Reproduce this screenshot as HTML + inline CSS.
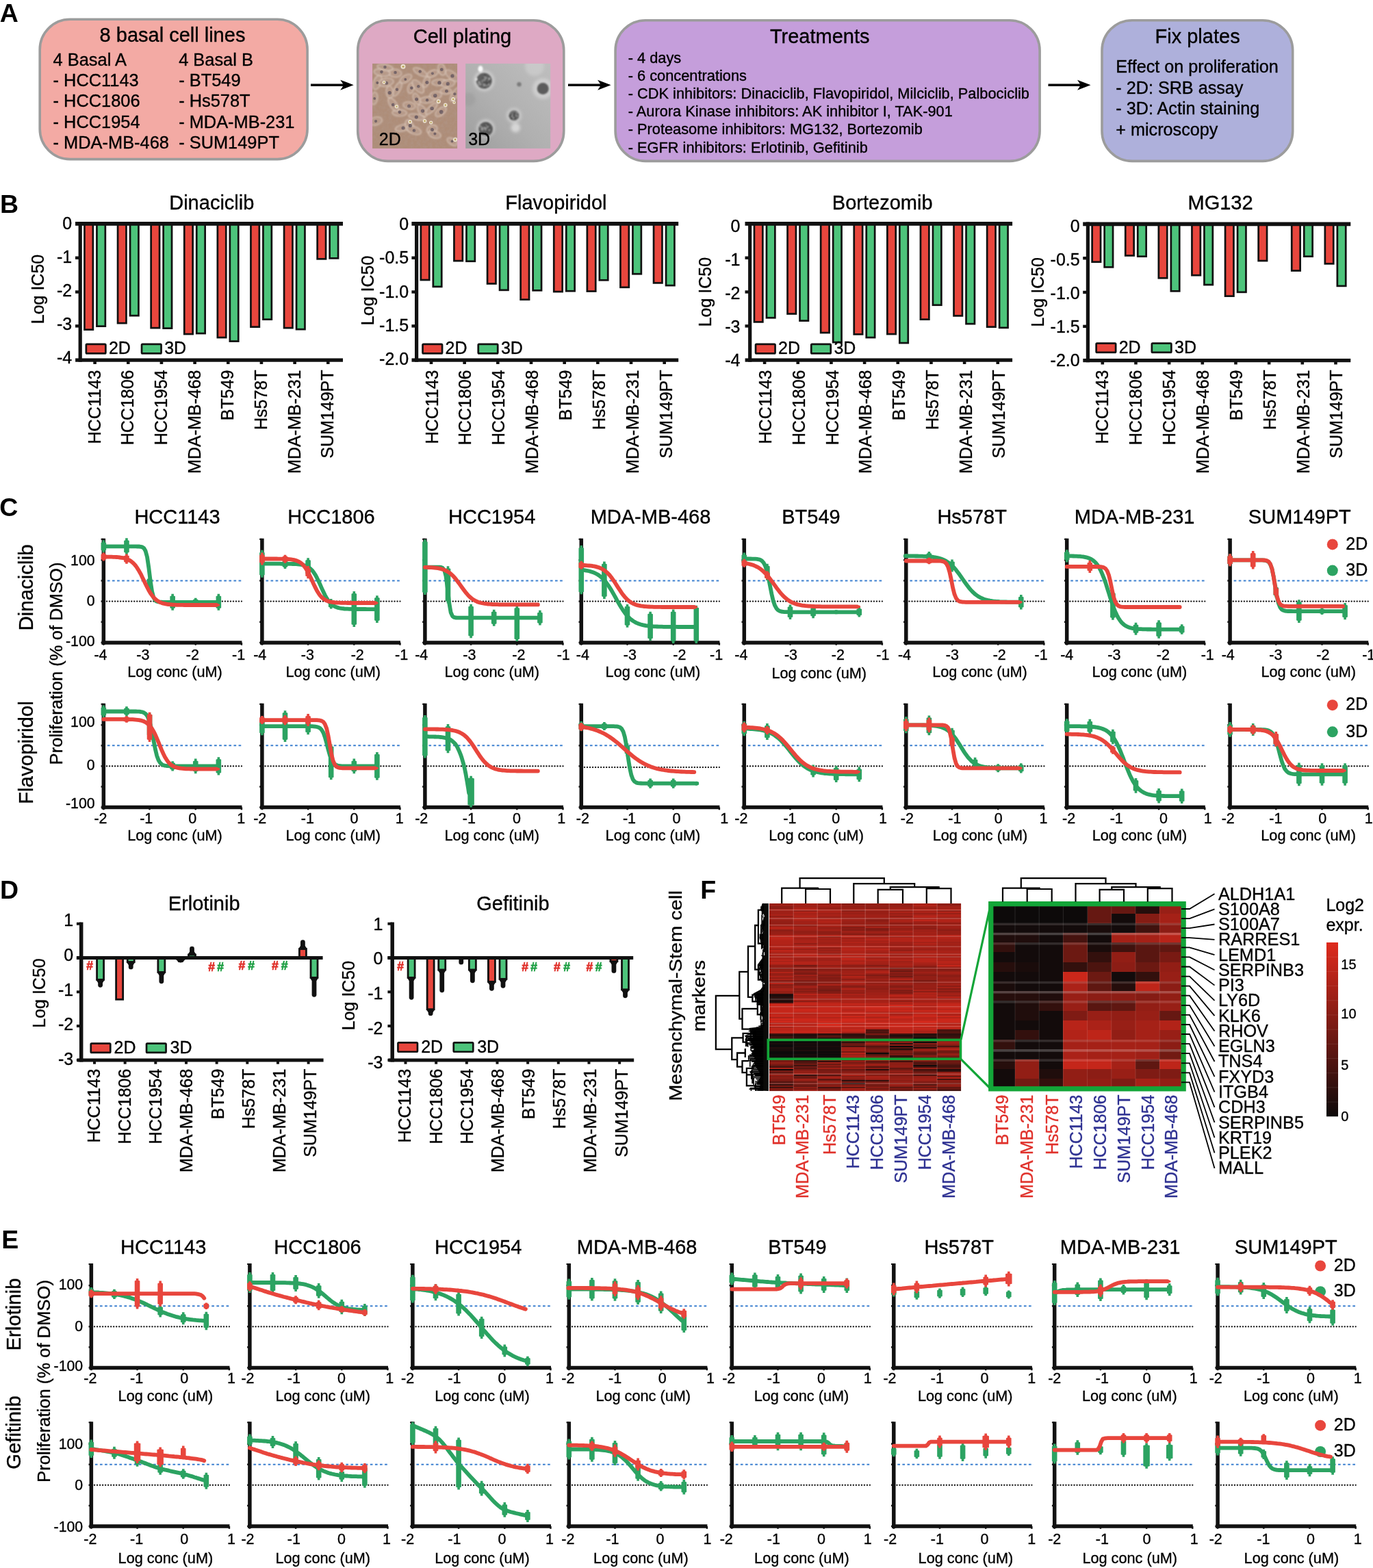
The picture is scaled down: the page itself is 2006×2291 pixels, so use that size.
<!DOCTYPE html>
<html><head><meta charset="utf-8"><title>Figure</title>
<style>
html,body{margin:0;padding:0;background:#fff;width:2006px;height:2291px;overflow:hidden;}
svg{display:block;}
text{font-family:"Liberation Sans",sans-serif;fill:#000;stroke:#000;stroke-width:0.35px;}
.b{font-weight:bold;stroke-width:0;}
</style></head><body>
<svg width="2006" height="2291" viewBox="0 0 2006 2291">
<rect width="2006" height="2291" fill="#fff"/>
<g id="panelA">
<text x="-0.3" y="31.9" font-size="37.5" class="b">A</text>
<rect x="58.2" y="28.3" width="390.9" height="204.3" fill="#F3AAA4" stroke="#9C9C9C" stroke-width="3.6" rx="44"/>
<rect x="522.7" y="29.7" width="301.1" height="205.7" fill="#DEA9C4" stroke="#9C9C9C" stroke-width="3.6" rx="44"/>
<rect x="899.1" y="29.7" width="620" height="205.7" fill="#C59EDB" stroke="#9C9C9C" stroke-width="3.6" rx="44"/>
<rect x="1610" y="29.7" width="278.7" height="205.7" fill="#AEB0DB" stroke="#9C9C9C" stroke-width="3.6" rx="44"/>
<text x="252" y="60.6" font-size="29" text-anchor="middle">8 basal cell lines</text>
<text x="77.6" y="95.6" font-size="25.4">4 Basal A</text>
<text x="261.2" y="95.6" font-size="25.4">4 Basal B</text>
<text x="77.6" y="125.9" font-size="25.4">- HCC1143</text>
<text x="261.2" y="125.9" font-size="25.4">- BT549</text>
<text x="77.6" y="156.3" font-size="25.4">- HCC1806</text>
<text x="261.2" y="156.3" font-size="25.4">- Hs578T</text>
<text x="77.6" y="186.7" font-size="25.4">- HCC1954</text>
<text x="261.2" y="186.7" font-size="25.4">- MDA-MB-231</text>
<text x="77.6" y="216.9" font-size="25.4">- MDA-MB-468</text>
<text x="261.2" y="216.9" font-size="25.4">- SUM149PT</text>
<line x1="454" y1="124.2" x2="506.7" y2="124.2" stroke="#000" stroke-width="3.4"/><path d="M516.7 124.2 L497.2 116.7 L502.2 124.2 L497.2 131.7 Z" fill="#000"/>
<text x="675.5" y="62.8" font-size="29" text-anchor="middle">Cell plating</text>
<g><defs><clipPath id="c2d"><rect x="544.1" y="92.9" width="124" height="124"/></clipPath><filter id="b2d" x="-10%" y="-10%" width="120%" height="120%"><feGaussianBlur stdDeviation="1.1"/></filter><filter id="b2s" x="-10%" y="-10%" width="120%" height="120%"><feGaussianBlur stdDeviation="0.7"/></filter><filter id="n2d" x="0" y="0" width="100%" height="100%"><feTurbulence type="fractalNoise" baseFrequency="0.22" numOctaves="3" seed="4"/><feColorMatrix type="matrix" values="0 0 0 0 0.45  0 0 0 0 0.36  0 0 0 0 0.33  0.9 0 0 0 -0.28"/></filter></defs><rect x="544.1" y="92.9" width="124" height="124" fill="#AE8D78"/><g clip-path="url(#c2d)"><g filter="url(#b2d)"><ellipse cx="551.3" cy="120.3" rx="10.0" ry="4.6" fill="#B89A88" transform="rotate(112 551.3 120.3)"/><ellipse cx="551.3" cy="120.3" rx="11.0" ry="5.6" fill="none" stroke="#E2D0C2" stroke-width="1.4" stroke-opacity="0.8" transform="rotate(112 551.3 120.3)"/><ellipse cx="564.1" cy="120.3" rx="10.0" ry="4.9" fill="#B89A88" transform="rotate(170 564.1 120.3)"/><ellipse cx="564.1" cy="120.3" rx="11.0" ry="5.9" fill="none" stroke="#E2D0C2" stroke-width="1.4" stroke-opacity="0.8" transform="rotate(170 564.1 120.3)"/><ellipse cx="576.9" cy="106.8" rx="8.9" ry="4.9" fill="#B89A88" transform="rotate(5 576.9 106.8)"/><ellipse cx="576.9" cy="106.8" rx="9.9" ry="5.9" fill="none" stroke="#E2D0C2" stroke-width="1.4" stroke-opacity="0.8" transform="rotate(5 576.9 106.8)"/><ellipse cx="580.7" cy="130.1" rx="10.6" ry="3.4" fill="#B89A88" transform="rotate(117 580.7 130.1)"/><ellipse cx="580.7" cy="130.1" rx="11.6" ry="4.4" fill="none" stroke="#E2D0C2" stroke-width="1.4" stroke-opacity="0.8" transform="rotate(117 580.7 130.1)"/><ellipse cx="569.4" cy="134.6" rx="8.0" ry="4.2" fill="#B89A88" transform="rotate(84 569.4 134.6)"/><ellipse cx="569.4" cy="134.6" rx="9.0" ry="5.2" fill="none" stroke="#E2D0C2" stroke-width="1.4" stroke-opacity="0.8" transform="rotate(84 569.4 134.6)"/><ellipse cx="600.3" cy="128.6" rx="7.1" ry="3.6" fill="#B89A88" transform="rotate(103 600.3 128.6)"/><ellipse cx="600.3" cy="128.6" rx="8.1" ry="4.6" fill="none" stroke="#E2D0C2" stroke-width="1.4" stroke-opacity="0.8" transform="rotate(103 600.3 128.6)"/><ellipse cx="610.8" cy="126.3" rx="10.7" ry="4.6" fill="#B89A88" transform="rotate(50 610.8 126.3)"/><ellipse cx="610.8" cy="126.3" rx="11.7" ry="5.6" fill="none" stroke="#E2D0C2" stroke-width="1.4" stroke-opacity="0.8" transform="rotate(50 610.8 126.3)"/><ellipse cx="613.9" cy="105.3" rx="10.2" ry="3.4" fill="#B89A88" transform="rotate(29 613.9 105.3)"/><ellipse cx="613.9" cy="105.3" rx="11.2" ry="4.4" fill="none" stroke="#E2D0C2" stroke-width="1.4" stroke-opacity="0.8" transform="rotate(29 613.9 105.3)"/><ellipse cx="622.9" cy="119.6" rx="7.5" ry="3.2" fill="#B89A88" transform="rotate(111 622.9 119.6)"/><ellipse cx="622.9" cy="119.6" rx="8.5" ry="4.2" fill="none" stroke="#E2D0C2" stroke-width="1.4" stroke-opacity="0.8" transform="rotate(111 622.9 119.6)"/><ellipse cx="631.9" cy="107.5" rx="7.8" ry="3.6" fill="#B89A88" transform="rotate(157 631.9 107.5)"/><ellipse cx="631.9" cy="107.5" rx="8.8" ry="4.6" fill="none" stroke="#E2D0C2" stroke-width="1.4" stroke-opacity="0.8" transform="rotate(157 631.9 107.5)"/><ellipse cx="642.5" cy="120.3" rx="10.5" ry="3.7" fill="#B89A88" transform="rotate(177 642.5 120.3)"/><ellipse cx="642.5" cy="120.3" rx="11.5" ry="4.7" fill="none" stroke="#E2D0C2" stroke-width="1.4" stroke-opacity="0.8" transform="rotate(177 642.5 120.3)"/><ellipse cx="654.5" cy="121.8" rx="9.2" ry="4.4" fill="#B89A88" transform="rotate(173 654.5 121.8)"/><ellipse cx="654.5" cy="121.8" rx="10.2" ry="5.4" fill="none" stroke="#E2D0C2" stroke-width="1.4" stroke-opacity="0.8" transform="rotate(173 654.5 121.8)"/><ellipse cx="660.6" cy="110.5" rx="10.8" ry="4.4" fill="#B89A88" transform="rotate(37 660.6 110.5)"/><ellipse cx="660.6" cy="110.5" rx="11.8" ry="5.4" fill="none" stroke="#E2D0C2" stroke-width="1.4" stroke-opacity="0.8" transform="rotate(37 660.6 110.5)"/><ellipse cx="624.4" cy="145.9" rx="10.6" ry="3.7" fill="#B89A88" transform="rotate(174 624.4 145.9)"/><ellipse cx="624.4" cy="145.9" rx="11.6" ry="4.7" fill="none" stroke="#E2D0C2" stroke-width="1.4" stroke-opacity="0.8" transform="rotate(174 624.4 145.9)"/><ellipse cx="608.6" cy="144.4" rx="7.7" ry="3.5" fill="#B89A88" transform="rotate(65 608.6 144.4)"/><ellipse cx="608.6" cy="144.4" rx="8.7" ry="4.5" fill="none" stroke="#E2D0C2" stroke-width="1.4" stroke-opacity="0.8" transform="rotate(65 608.6 144.4)"/><ellipse cx="598.0" cy="154.2" rx="8.2" ry="4.3" fill="#B89A88" transform="rotate(12 598.0 154.2)"/><ellipse cx="598.0" cy="154.2" rx="9.2" ry="5.3" fill="none" stroke="#E2D0C2" stroke-width="1.4" stroke-opacity="0.8" transform="rotate(12 598.0 154.2)"/><ellipse cx="583.7" cy="164.8" rx="9.7" ry="3.8" fill="#B89A88" transform="rotate(1 583.7 164.8)"/><ellipse cx="583.7" cy="164.8" rx="10.7" ry="4.8" fill="none" stroke="#E2D0C2" stroke-width="1.4" stroke-opacity="0.8" transform="rotate(1 583.7 164.8)"/><ellipse cx="574.7" cy="152.7" rx="10.3" ry="4.1" fill="#B89A88" transform="rotate(56 574.7 152.7)"/><ellipse cx="574.7" cy="152.7" rx="11.3" ry="5.1" fill="none" stroke="#E2D0C2" stroke-width="1.4" stroke-opacity="0.8" transform="rotate(56 574.7 152.7)"/><ellipse cx="616.9" cy="161.8" rx="8.9" ry="4.5" fill="#B89A88" transform="rotate(57 616.9 161.8)"/><ellipse cx="616.9" cy="161.8" rx="9.9" ry="5.5" fill="none" stroke="#E2D0C2" stroke-width="1.4" stroke-opacity="0.8" transform="rotate(57 616.9 161.8)"/><ellipse cx="608.6" cy="170.8" rx="10.9" ry="3.2" fill="#B89A88" transform="rotate(10 608.6 170.8)"/><ellipse cx="608.6" cy="170.8" rx="11.9" ry="4.2" fill="none" stroke="#E2D0C2" stroke-width="1.4" stroke-opacity="0.8" transform="rotate(10 608.6 170.8)"/><ellipse cx="630.4" cy="158.7" rx="10.4" ry="3.2" fill="#B89A88" transform="rotate(135 630.4 158.7)"/><ellipse cx="630.4" cy="158.7" rx="11.4" ry="4.2" fill="none" stroke="#E2D0C2" stroke-width="1.4" stroke-opacity="0.8" transform="rotate(135 630.4 158.7)"/><ellipse cx="644.0" cy="163.3" rx="8.5" ry="4.2" fill="#B89A88" transform="rotate(142 644.0 163.3)"/><ellipse cx="644.0" cy="163.3" rx="9.5" ry="5.2" fill="none" stroke="#E2D0C2" stroke-width="1.4" stroke-opacity="0.8" transform="rotate(142 644.0 163.3)"/><ellipse cx="651.5" cy="133.1" rx="7.2" ry="3.5" fill="#B89A88" transform="rotate(2 651.5 133.1)"/><ellipse cx="651.5" cy="133.1" rx="8.2" ry="4.5" fill="none" stroke="#E2D0C2" stroke-width="1.4" stroke-opacity="0.8" transform="rotate(2 651.5 133.1)"/><ellipse cx="636.5" cy="139.2" rx="7.8" ry="4.6" fill="#B89A88" transform="rotate(172 636.5 139.2)"/><ellipse cx="636.5" cy="139.2" rx="8.8" ry="5.6" fill="none" stroke="#E2D0C2" stroke-width="1.4" stroke-opacity="0.8" transform="rotate(172 636.5 139.2)"/><ellipse cx="589.0" cy="186.6" rx="10.8" ry="3.8" fill="#B89A88" transform="rotate(167 589.0 186.6)"/><ellipse cx="589.0" cy="186.6" rx="11.8" ry="4.8" fill="none" stroke="#E2D0C2" stroke-width="1.4" stroke-opacity="0.8" transform="rotate(167 589.0 186.6)"/><ellipse cx="598.8" cy="184.4" rx="9.1" ry="4.6" fill="#B89A88" transform="rotate(64 598.8 184.4)"/><ellipse cx="598.8" cy="184.4" rx="10.1" ry="5.6" fill="none" stroke="#E2D0C2" stroke-width="1.4" stroke-opacity="0.8" transform="rotate(64 598.8 184.4)"/><ellipse cx="604.8" cy="190.4" rx="10.0" ry="4.6" fill="#B89A88" transform="rotate(19 604.8 190.4)"/><ellipse cx="604.8" cy="190.4" rx="11.0" ry="5.6" fill="none" stroke="#E2D0C2" stroke-width="1.4" stroke-opacity="0.8" transform="rotate(19 604.8 190.4)"/><ellipse cx="631.2" cy="188.9" rx="7.1" ry="4.9" fill="#B89A88" transform="rotate(155 631.2 188.9)"/><ellipse cx="631.2" cy="188.9" rx="8.1" ry="5.9" fill="none" stroke="#E2D0C2" stroke-width="1.4" stroke-opacity="0.8" transform="rotate(155 631.2 188.9)"/><ellipse cx="635.0" cy="196.4" rx="8.4" ry="4.3" fill="#B89A88" transform="rotate(16 635.0 196.4)"/><ellipse cx="635.0" cy="196.4" rx="9.4" ry="5.3" fill="none" stroke="#E2D0C2" stroke-width="1.4" stroke-opacity="0.8" transform="rotate(16 635.0 196.4)"/><ellipse cx="549.1" cy="176.8" rx="8.4" ry="4.9" fill="#B89A88" transform="rotate(165 549.1 176.8)"/><ellipse cx="549.1" cy="176.8" rx="9.4" ry="5.9" fill="none" stroke="#E2D0C2" stroke-width="1.4" stroke-opacity="0.8" transform="rotate(165 549.1 176.8)"/><ellipse cx="546.8" cy="143.7" rx="8.2" ry="3.8" fill="#B89A88" transform="rotate(98 546.8 143.7)"/><ellipse cx="546.8" cy="143.7" rx="9.2" ry="4.8" fill="none" stroke="#E2D0C2" stroke-width="1.4" stroke-opacity="0.8" transform="rotate(98 546.8 143.7)"/><ellipse cx="660.6" cy="207.0" rx="7.3" ry="3.5" fill="#B89A88" transform="rotate(32 660.6 207.0)"/><ellipse cx="660.6" cy="207.0" rx="8.3" ry="4.5" fill="none" stroke="#E2D0C2" stroke-width="1.4" stroke-opacity="0.8" transform="rotate(32 660.6 207.0)"/><ellipse cx="665.1" cy="137.6" rx="11.0" ry="3.5" fill="#B89A88" transform="rotate(124 665.1 137.6)"/><ellipse cx="665.1" cy="137.6" rx="12.0" ry="4.5" fill="none" stroke="#E2D0C2" stroke-width="1.4" stroke-opacity="0.8" transform="rotate(124 665.1 137.6)"/><ellipse cx="558.1" cy="106.0" rx="10.9" ry="4.2" fill="#B89A88" transform="rotate(9 558.1 106.0)"/><ellipse cx="558.1" cy="106.0" rx="11.9" ry="5.2" fill="none" stroke="#E2D0C2" stroke-width="1.4" stroke-opacity="0.8" transform="rotate(9 558.1 106.0)"/><ellipse cx="645.5" cy="101.5" rx="7.9" ry="4.3" fill="#B89A88" transform="rotate(73 645.5 101.5)"/><ellipse cx="645.5" cy="101.5" rx="8.9" ry="5.3" fill="none" stroke="#E2D0C2" stroke-width="1.4" stroke-opacity="0.8" transform="rotate(73 645.5 101.5)"/><ellipse cx="592.8" cy="115.0" rx="8.8" ry="4.0" fill="#B89A88" transform="rotate(149 592.8 115.0)"/><ellipse cx="592.8" cy="115.0" rx="9.8" ry="5.0" fill="none" stroke="#E2D0C2" stroke-width="1.4" stroke-opacity="0.8" transform="rotate(149 592.8 115.0)"/><ellipse cx="562.6" cy="98.5" rx="10.7" ry="3.3" fill="#B89A88" transform="rotate(10 562.6 98.5)"/><ellipse cx="562.6" cy="98.5" rx="11.7" ry="4.3" fill="none" stroke="#E2D0C2" stroke-width="1.4" stroke-opacity="0.8" transform="rotate(10 562.6 98.5)"/></g><g filter="url(#b2s)"><circle cx="551.3" cy="121.0" r="2.0" fill="#66585E" fill-opacity="0.9"/><circle cx="564.6" cy="121.2" r="2.5" fill="#66585E" fill-opacity="0.9"/><circle cx="577.5" cy="106.0" r="2.3" fill="#66585E" fill-opacity="0.9"/><circle cx="580.0" cy="130.8" r="2.2" fill="#66585E" fill-opacity="0.9"/><circle cx="569.3" cy="135.6" r="2.7" fill="#66585E" fill-opacity="0.9"/><circle cx="601.3" cy="128.5" r="2.3" fill="#66585E" fill-opacity="0.9"/><circle cx="611.3" cy="126.3" r="2.2" fill="#66585E" fill-opacity="0.9"/><circle cx="613.7" cy="104.5" r="2.2" fill="#66585E" fill-opacity="0.9"/><circle cx="623.9" cy="120.5" r="2.5" fill="#66585E" fill-opacity="0.9"/><circle cx="631.9" cy="107.2" r="2.0" fill="#66585E" fill-opacity="0.9"/><circle cx="642.0" cy="120.9" r="2.7" fill="#66585E" fill-opacity="0.9"/><circle cx="654.3" cy="122.4" r="2.6" fill="#66585E" fill-opacity="0.9"/><circle cx="661.0" cy="110.9" r="2.6" fill="#66585E" fill-opacity="0.9"/><circle cx="624.1" cy="146.3" r="2.2" fill="#66585E" fill-opacity="0.9"/><circle cx="608.6" cy="145.0" r="2.5" fill="#66585E" fill-opacity="0.9"/><circle cx="597.6" cy="155.1" r="2.5" fill="#66585E" fill-opacity="0.9"/><circle cx="583.9" cy="163.8" r="2.4" fill="#66585E" fill-opacity="0.9"/><circle cx="574.2" cy="153.1" r="2.3" fill="#66585E" fill-opacity="0.9"/><circle cx="617.5" cy="162.1" r="2.6" fill="#66585E" fill-opacity="0.9"/><circle cx="608.3" cy="171.1" r="2.6" fill="#66585E" fill-opacity="0.9"/><circle cx="631.1" cy="158.4" r="2.7" fill="#66585E" fill-opacity="0.9"/><circle cx="644.7" cy="163.6" r="2.8" fill="#66585E" fill-opacity="0.9"/><circle cx="652.4" cy="133.2" r="2.4" fill="#66585E" fill-opacity="0.9"/><circle cx="635.8" cy="139.8" r="2.7" fill="#66585E" fill-opacity="0.9"/><circle cx="589.0" cy="187.0" r="2.5" fill="#66585E" fill-opacity="0.9"/><circle cx="599.3" cy="183.7" r="2.6" fill="#66585E" fill-opacity="0.9"/><circle cx="605.0" cy="190.7" r="2.3" fill="#66585E" fill-opacity="0.9"/><circle cx="631.4" cy="189.4" r="2.5" fill="#66585E" fill-opacity="0.9"/><circle cx="635.4" cy="195.5" r="2.0" fill="#66585E" fill-opacity="0.9"/><circle cx="549.0" cy="177.1" r="2.1" fill="#66585E" fill-opacity="0.9"/><circle cx="547.2" cy="143.9" r="1.9" fill="#66585E" fill-opacity="0.9"/><circle cx="660.5" cy="206.4" r="1.9" fill="#66585E" fill-opacity="0.9"/><circle cx="664.4" cy="137.3" r="2.1" fill="#66585E" fill-opacity="0.9"/><circle cx="557.5" cy="105.1" r="2.3" fill="#66585E" fill-opacity="0.9"/><circle cx="645.3" cy="101.7" r="2.4" fill="#66585E" fill-opacity="0.9"/><circle cx="592.2" cy="115.9" r="1.9" fill="#66585E" fill-opacity="0.9"/><circle cx="562.4" cy="98.0" r="2.3" fill="#66585E" fill-opacity="0.9"/><circle cx="589.0" cy="97.3" r="3.5" fill="#EFE6D2"/><circle cx="589.0" cy="97.3" r="1.4" fill="#B9A04A"/><circle cx="640.7" cy="148.2" r="3.1" fill="#EFE6D2"/><circle cx="640.7" cy="148.2" r="1.3" fill="#B9A04A"/><circle cx="662.1" cy="144.9" r="2.9" fill="#EFE6D2"/><circle cx="662.1" cy="144.9" r="1.2" fill="#B9A04A"/><circle cx="650.8" cy="153.5" r="2.9" fill="#EFE6D2"/><circle cx="650.8" cy="153.5" r="1.2" fill="#B9A04A"/><circle cx="579.5" cy="155.7" r="2.7" fill="#EFE6D2"/><circle cx="579.5" cy="155.7" r="1.1" fill="#B9A04A"/><circle cx="599.2" cy="177.9" r="2.9" fill="#EFE6D2"/><circle cx="599.2" cy="177.9" r="1.2" fill="#B9A04A"/><circle cx="620.6" cy="176.8" r="2.9" fill="#EFE6D2"/><circle cx="620.6" cy="176.8" r="1.2" fill="#B9A04A"/><circle cx="629.7" cy="179.1" r="2.7" fill="#EFE6D2"/><circle cx="629.7" cy="179.1" r="1.1" fill="#B9A04A"/><circle cx="561.1" cy="120.3" r="2.5" fill="#EFE6D2"/><circle cx="561.1" cy="120.3" r="1.0" fill="#B9A04A"/><circle cx="665.1" cy="203.9" r="3.1" fill="#EFE6D2"/><circle cx="665.1" cy="203.9" r="1.3" fill="#B9A04A"/><circle cx="663.6" cy="149.7" r="2.3" fill="#EFE6D2"/><circle cx="663.6" cy="149.7" r="0.9" fill="#B9A04A"/></g><rect x="544.1" y="92.9" width="124" height="124" filter="url(#n2d)" opacity="0.55"/></g></g>
<g><defs><clipPath id="c3d"><rect x="680.2" y="92.9" width="124" height="124"/></clipPath><linearGradient id="g3d" x1="0" y1="1" x2="1" y2="0"><stop offset="0" stop-color="#9E9E9E"/><stop offset="0.45" stop-color="#B0B0B0"/><stop offset="1" stop-color="#BEBEBE"/></linearGradient><filter id="b3d" x="-20%" y="-20%" width="140%" height="140%"><feGaussianBlur stdDeviation="0.9"/></filter><filter id="b3e" x="-30%" y="-30%" width="160%" height="160%"><feGaussianBlur stdDeviation="2.2"/></filter></defs><rect x="680.2" y="92.9" width="124" height="124" fill="url(#g3d)"/><g clip-path="url(#c3d)"><g filter="url(#b3e)"><circle cx="793.2" cy="129.4" r="15.0" fill="#D0D0D0" fill-opacity="0.9"/><circle cx="753.3" cy="186.6" r="7.0" fill="#D8D8D8" fill-opacity="0.9"/><circle cx="781.1" cy="97.0" r="14.0" fill="#CCCCCC" fill-opacity="0.8"/><circle cx="684.7" cy="145.2" r="10.0" fill="#9E9E9E" fill-opacity="0.7"/><circle cx="707.3" cy="118.1" r="15.0" fill="#D2D2D2" fill-opacity="0.9"/><circle cx="709.6" cy="187.4" r="13.0" fill="#CFCFCF" fill-opacity="0.9"/><circle cx="751.0" cy="168.8" r="11.0" fill="#CDCDCD" fill-opacity="0.9"/></g><g filter="url(#b3d)"><circle cx="707.3" cy="118.1" r="11.5" fill="#5E5E5E"/><circle cx="709.6" cy="188.6" r="10.5" fill="#585858"/><circle cx="751.0" cy="168.8" r="7.5" fill="#6E6E6E"/><circle cx="793.2" cy="129.4" r="8.5" fill="#5C5C5C"/><circle cx="758.5" cy="123.3" r="3.2" fill="#7A7A7A"/><circle cx="703.8" cy="118.9" r="1.0" fill="#3E3E3E"/><circle cx="705.8" cy="115.1" r="1.5" fill="#484848"/><circle cx="712.1" cy="120.7" r="1.4" fill="#9A9A9A"/><circle cx="711.8" cy="126.2" r="1.0" fill="#484848"/><circle cx="707.4" cy="119.1" r="1.4" fill="#9A9A9A"/><circle cx="701.9" cy="122.9" r="1.5" fill="#9A9A9A"/><circle cx="707.9" cy="120.2" r="1.5" fill="#484848"/><circle cx="708.6" cy="109.2" r="1.1" fill="#484848"/><circle cx="708.0" cy="116.2" r="1.5" fill="#9A9A9A"/><circle cx="710.8" cy="119.3" r="1.0" fill="#484848"/><circle cx="707.9" cy="125.2" r="1.6" fill="#9A9A9A"/><circle cx="714.8" cy="118.2" r="1.5" fill="#3E3E3E"/><circle cx="707.3" cy="118.1" r="1.0" fill="#9A9A9A"/><circle cx="711.6" cy="115.6" r="1.3" fill="#484848"/><circle cx="707.5" cy="118.7" r="1.3" fill="#3E3E3E"/><circle cx="712.0" cy="121.2" r="1.6" fill="#3E3E3E"/><circle cx="707.2" cy="117.7" r="1.3" fill="#B0B0B0"/><circle cx="706.2" cy="117.2" r="1.4" fill="#B0B0B0"/><circle cx="707.0" cy="117.9" r="1.6" fill="#484848"/><circle cx="707.8" cy="124.0" r="1.4" fill="#9A9A9A"/><circle cx="710.2" cy="113.9" r="1.5" fill="#9A9A9A"/><circle cx="714.0" cy="123.6" r="1.2" fill="#B0B0B0"/><circle cx="699.4" cy="123.6" r="1.2" fill="#9A9A9A"/><circle cx="707.3" cy="118.1" r="1.0" fill="#9A9A9A"/><circle cx="704.3" cy="119.2" r="1.1" fill="#9A9A9A"/><circle cx="706.2" cy="123.0" r="0.9" fill="#9A9A9A"/><circle cx="708.8" cy="110.3" r="1.1" fill="#484848"/><circle cx="708.3" cy="112.6" r="1.2" fill="#9A9A9A"/><circle cx="708.4" cy="127.4" r="1.3" fill="#484848"/><circle cx="712.6" cy="116.6" r="1.4" fill="#3E3E3E"/><circle cx="711.2" cy="125.3" r="0.9" fill="#B0B0B0"/><circle cx="714.7" cy="115.1" r="1.6" fill="#B0B0B0"/><circle cx="713.2" cy="117.5" r="0.9" fill="#9A9A9A"/><circle cx="700.0" cy="120.4" r="1.3" fill="#B0B0B0"/><circle cx="712.7" cy="187.9" r="1.2" fill="#3E3E3E"/><circle cx="708.1" cy="197.0" r="1.4" fill="#B0B0B0"/><circle cx="713.3" cy="190.2" r="1.3" fill="#484848"/><circle cx="711.5" cy="183.0" r="1.4" fill="#B0B0B0"/><circle cx="712.8" cy="185.6" r="1.5" fill="#9A9A9A"/><circle cx="709.4" cy="189.7" r="1.0" fill="#9A9A9A"/><circle cx="711.5" cy="181.1" r="1.0" fill="#3E3E3E"/><circle cx="704.8" cy="189.9" r="1.0" fill="#484848"/><circle cx="704.5" cy="187.0" r="1.3" fill="#B0B0B0"/><circle cx="709.8" cy="188.5" r="1.3" fill="#484848"/><circle cx="704.8" cy="187.9" r="1.5" fill="#9A9A9A"/><circle cx="702.0" cy="184.8" r="1.4" fill="#9A9A9A"/><circle cx="709.4" cy="187.7" r="1.2" fill="#484848"/><circle cx="703.9" cy="188.9" r="1.4" fill="#9A9A9A"/><circle cx="711.7" cy="189.0" r="1.1" fill="#484848"/><circle cx="712.5" cy="182.7" r="1.5" fill="#484848"/><circle cx="714.8" cy="189.8" r="1.4" fill="#9A9A9A"/><circle cx="709.1" cy="188.9" r="0.9" fill="#3E3E3E"/><circle cx="709.6" cy="187.8" r="1.1" fill="#9A9A9A"/><circle cx="704.9" cy="189.5" r="1.4" fill="#9A9A9A"/><circle cx="710.3" cy="188.9" r="0.9" fill="#B0B0B0"/><circle cx="714.6" cy="187.1" r="1.6" fill="#484848"/><circle cx="710.1" cy="187.8" r="1.4" fill="#B0B0B0"/><circle cx="708.5" cy="188.9" r="1.0" fill="#3E3E3E"/><circle cx="710.2" cy="188.8" r="1.2" fill="#9A9A9A"/><circle cx="709.3" cy="184.4" r="1.2" fill="#3E3E3E"/><circle cx="708.2" cy="187.0" r="1.4" fill="#B0B0B0"/><circle cx="709.5" cy="188.4" r="1.6" fill="#B0B0B0"/><circle cx="710.5" cy="188.7" r="0.9" fill="#484848"/><circle cx="709.5" cy="196.2" r="1.3" fill="#3E3E3E"/><circle cx="709.1" cy="187.5" r="1.5" fill="#9A9A9A"/><circle cx="756.0" cy="168.1" r="1.6" fill="#484848"/><circle cx="755.2" cy="164.7" r="0.9" fill="#9A9A9A"/><circle cx="748.5" cy="169.8" r="1.2" fill="#B0B0B0"/><circle cx="748.0" cy="173.2" r="1.2" fill="#484848"/><circle cx="752.7" cy="169.7" r="1.3" fill="#484848"/><circle cx="748.5" cy="167.7" r="1.1" fill="#3E3E3E"/><circle cx="751.6" cy="169.0" r="1.3" fill="#B0B0B0"/><circle cx="752.7" cy="173.0" r="1.6" fill="#3E3E3E"/><circle cx="756.3" cy="172.0" r="1.0" fill="#484848"/><circle cx="748.9" cy="168.3" r="1.4" fill="#9A9A9A"/><circle cx="749.7" cy="169.5" r="1.4" fill="#B0B0B0"/><circle cx="752.0" cy="165.8" r="1.4" fill="#484848"/><circle cx="750.3" cy="172.2" r="1.1" fill="#9A9A9A"/><circle cx="753.0" cy="168.6" r="1.0" fill="#9A9A9A"/><circle cx="751.3" cy="169.4" r="1.4" fill="#484848"/><circle cx="746.5" cy="172.3" r="1.3" fill="#3E3E3E"/><circle cx="747.2" cy="173.6" r="1.1" fill="#3E3E3E"/><circle cx="750.1" cy="169.6" r="1.3" fill="#3E3E3E"/><circle cx="755.4" cy="169.1" r="1.1" fill="#9A9A9A"/><circle cx="746.3" cy="168.2" r="1.5" fill="#484848"/><circle cx="751.1" cy="167.1" r="1.3" fill="#3E3E3E"/><circle cx="744.7" cy="169.7" r="1.1" fill="#3E3E3E"/><ellipse cx="702.0" cy="100.7" rx="3.6" ry="4.6" fill="#FAFAFA"/><circle cx="696.0" cy="115.8" r="1.6" fill="#F0F0F0"/><circle cx="753.3" cy="186.6" r="3.6" fill="#D6D6D6"/></g></g></g>
<text x="553.8" y="211.5" font-size="25">2D</text>
<text x="684.2" y="211.5" font-size="25">3D</text>
<line x1="830" y1="124.2" x2="882.6" y2="124.2" stroke="#000" stroke-width="3.4"/><path d="M892.6 124.2 L873.1 116.7 L878.1 124.2 L873.1 131.7 Z" fill="#000"/>
<text x="1197.7" y="62.8" font-size="29" text-anchor="middle">Treatments</text>
<text x="917.7" y="91.7" font-size="21.8">- 4 days</text>
<text x="917.7" y="117.8" font-size="21.8">- 6 concentrations</text>
<text x="917.7" y="143.9" font-size="21.8">- CDK inhibitors: Dinaciclib, Flavopiridol, Milciclib, Palbociclib</text>
<text x="917.7" y="169.8" font-size="21.8">- Aurora Kinase inhibitors: AK inhibitor I, TAK-901</text>
<text x="917.7" y="195.8" font-size="21.8">- Proteasome inhibitors: MG132, Bortezomib</text>
<text x="917.7" y="223.1" font-size="21.8">- EGFR inhibitors: Erlotinib, Gefitinib</text>
<line x1="1531.5" y1="124.2" x2="1583.5" y2="124.2" stroke="#000" stroke-width="3.4"/><path d="M1593.5 124.2 L1574 116.7 L1579 124.2 L1574 131.7 Z" fill="#000"/>
<text x="1749.6" y="62.8" font-size="29" text-anchor="middle">Fix plates</text>
<text x="1630.3" y="105.9" font-size="25.2">Effect on proliferation</text>
<text x="1630.3" y="136.9" font-size="25.2">- 2D: SRB assay</text>
<text x="1630.3" y="167.3" font-size="25.2">- 3D: Actin staining</text>
<text x="1630.3" y="197.9" font-size="25.2">+ microscopy</text>
</g>
<g id="panelB">
<text x="0" y="310.9" font-size="37.5" class="b">B</text>
<g>
<text x="309.3" y="306.3" font-size="29" text-anchor="middle">Dinaciclib</text>
<rect x="123.45" y="326.9" width="12.4" height="154.738" fill="#E8463D" stroke="#111" stroke-width="2.7"/>
<rect x="141.45" y="326.9" width="12.4" height="149.748" fill="#4DC47B" stroke="#111" stroke-width="2.7"/>
<rect x="172.05" y="326.9" width="12.4" height="145.257" fill="#E8463D" stroke="#111" stroke-width="2.7"/>
<rect x="190.05" y="326.9" width="12.4" height="134.279" fill="#4DC47B" stroke="#111" stroke-width="2.7"/>
<rect x="220.65" y="326.9" width="12.4" height="152.243" fill="#E8463D" stroke="#111" stroke-width="2.7"/>
<rect x="238.65" y="326.9" width="12.4" height="152.742" fill="#4DC47B" stroke="#111" stroke-width="2.7"/>
<rect x="269.25" y="326.9" width="12.4" height="161.225" fill="#E8463D" stroke="#111" stroke-width="2.7"/>
<rect x="287.25" y="326.9" width="12.4" height="160.227" fill="#4DC47B" stroke="#111" stroke-width="2.7"/>
<rect x="317.85" y="326.9" width="12.4" height="166.215" fill="#E8463D" stroke="#111" stroke-width="2.7"/>
<rect x="335.85" y="326.9" width="12.4" height="171.704" fill="#4DC47B" stroke="#111" stroke-width="2.7"/>
<rect x="366.45" y="326.9" width="12.4" height="150.746" fill="#E8463D" stroke="#111" stroke-width="2.7"/>
<rect x="384.45" y="326.9" width="12.4" height="139.768" fill="#4DC47B" stroke="#111" stroke-width="2.7"/>
<rect x="415.05" y="326.9" width="12.4" height="152.243" fill="#E8463D" stroke="#111" stroke-width="2.7"/>
<rect x="433.05" y="326.9" width="12.4" height="154.239" fill="#4DC47B" stroke="#111" stroke-width="2.7"/>
<rect x="463.65" y="326.9" width="12.4" height="51.445" fill="#E8463D" stroke="#111" stroke-width="2.7"/>
<rect x="481.65" y="326.9" width="12.4" height="50.447" fill="#4DC47B" stroke="#111" stroke-width="2.7"/>
<line x1="110" y1="326.9" x2="501" y2="326.9" stroke="#111" stroke-width="5.7"/>
<line x1="117.2" y1="324.05" x2="117.2" y2="528.7" stroke="#111" stroke-width="5.2"/>
<line x1="110.1" y1="526.2" x2="501" y2="526.2" stroke="#111" stroke-width="5.3"/>
<text x="105.2" y="334.5" font-size="25" text-anchor="end">0</text>
<line x1="110" y1="376.725" x2="117.2" y2="376.725" stroke="#111" stroke-width="4.4"/>
<text x="105.2" y="383.55" font-size="25" text-anchor="end">-1</text>
<line x1="110" y1="426.55" x2="117.2" y2="426.55" stroke="#111" stroke-width="4.4"/>
<text x="105.2" y="432.6" font-size="25" text-anchor="end">-2</text>
<line x1="110" y1="476.375" x2="117.2" y2="476.375" stroke="#111" stroke-width="4.4"/>
<text x="105.2" y="481.65" font-size="25" text-anchor="end">-3</text>
<text x="105.2" y="530.7" font-size="25" text-anchor="end">-4</text>
<line x1="138.6" y1="526.2" x2="138.6" y2="532" stroke="#111" stroke-width="4.6"/>
<text x="146.6" y="540.5" font-size="25" text-anchor="end" transform="rotate(-90 146.6 540.5)">HCC1143</text>
<line x1="187.27" y1="526.2" x2="187.27" y2="532" stroke="#111" stroke-width="4.6"/>
<text x="195.27" y="540.5" font-size="25" text-anchor="end" transform="rotate(-90 195.27 540.5)">HCC1806</text>
<line x1="235.94" y1="526.2" x2="235.94" y2="532" stroke="#111" stroke-width="4.6"/>
<text x="243.94" y="540.5" font-size="25" text-anchor="end" transform="rotate(-90 243.94 540.5)">HCC1954</text>
<line x1="284.61" y1="526.2" x2="284.61" y2="532" stroke="#111" stroke-width="4.6"/>
<text x="292.61" y="540.5" font-size="25" text-anchor="end" transform="rotate(-90 292.61 540.5)">MDA-MB-468</text>
<line x1="333.28" y1="526.2" x2="333.28" y2="532" stroke="#111" stroke-width="4.6"/>
<text x="341.28" y="540.5" font-size="25" text-anchor="end" transform="rotate(-90 341.28 540.5)">BT549</text>
<line x1="381.95" y1="526.2" x2="381.95" y2="532" stroke="#111" stroke-width="4.6"/>
<text x="389.95" y="540.5" font-size="25" text-anchor="end" transform="rotate(-90 389.95 540.5)">Hs578T</text>
<line x1="430.62" y1="526.2" x2="430.62" y2="532" stroke="#111" stroke-width="4.6"/>
<text x="438.62" y="540.5" font-size="25" text-anchor="end" transform="rotate(-90 438.62 540.5)">MDA-MB-231</text>
<line x1="479.29" y1="526.2" x2="479.29" y2="532" stroke="#111" stroke-width="4.6"/>
<text x="487.29" y="540.5" font-size="25" text-anchor="end" transform="rotate(-90 487.29 540.5)">SUM149PT</text>
<text x="64.4" y="422.5" font-size="25" text-anchor="middle" transform="rotate(-90 64.4 422.5)">Log IC50</text>
<rect x="125.85" y="502.95" width="28.5" height="13.4" fill="#E8463D" stroke="#111" stroke-width="2.7" rx="1.2"/>
<text x="158.9" y="517" font-size="25">2D</text>
<rect x="207.05" y="502.95" width="28.5" height="13.4" fill="#4DC47B" stroke="#111" stroke-width="2.7" rx="1.2"/>
<text x="240.2" y="517" font-size="25">3D</text>
</g>
<g>
<text x="812.4" y="306.3" font-size="29" text-anchor="middle">Flavopiridol</text>
<rect x="614.85" y="326.9" width="12.4" height="82.1164" fill="#E8463D" stroke="#111" stroke-width="2.7"/>
<rect x="632.85" y="326.9" width="12.4" height="91.9768" fill="#4DC47B" stroke="#111" stroke-width="2.7"/>
<rect x="663.45" y="326.9" width="12.4" height="54.2284" fill="#E8463D" stroke="#111" stroke-width="2.7"/>
<rect x="681.45" y="326.9" width="12.4" height="54.826" fill="#4DC47B" stroke="#111" stroke-width="2.7"/>
<rect x="712.05" y="326.9" width="12.4" height="87.5944" fill="#E8463D" stroke="#111" stroke-width="2.7"/>
<rect x="730.05" y="326.9" width="12.4" height="96.9568" fill="#4DC47B" stroke="#111" stroke-width="2.7"/>
<rect x="760.65" y="326.9" width="12.4" height="110.801" fill="#E8463D" stroke="#111" stroke-width="2.7"/>
<rect x="778.65" y="326.9" width="12.4" height="97.4548" fill="#4DC47B" stroke="#111" stroke-width="2.7"/>
<rect x="809.25" y="326.9" width="12.4" height="99.2476" fill="#E8463D" stroke="#111" stroke-width="2.7"/>
<rect x="827.25" y="326.9" width="12.4" height="98.3512" fill="#4DC47B" stroke="#111" stroke-width="2.7"/>
<rect x="857.85" y="326.9" width="12.4" height="98.65" fill="#E8463D" stroke="#111" stroke-width="2.7"/>
<rect x="875.85" y="326.9" width="12.4" height="82.4152" fill="#4DC47B" stroke="#111" stroke-width="2.7"/>
<rect x="906.45" y="326.9" width="12.4" height="92.8732" fill="#E8463D" stroke="#111" stroke-width="2.7"/>
<rect x="924.45" y="326.9" width="12.4" height="73.3516" fill="#4DC47B" stroke="#111" stroke-width="2.7"/>
<rect x="955.05" y="326.9" width="12.4" height="86.4988" fill="#E8463D" stroke="#111" stroke-width="2.7"/>
<rect x="973.05" y="326.9" width="12.4" height="90.184" fill="#4DC47B" stroke="#111" stroke-width="2.7"/>
<line x1="601.4" y1="326.9" x2="991.2" y2="326.9" stroke="#111" stroke-width="5.7"/>
<line x1="608.6" y1="324.05" x2="608.6" y2="528.7" stroke="#111" stroke-width="5.2"/>
<line x1="601.5" y1="526.2" x2="991.2" y2="526.2" stroke="#111" stroke-width="5.3"/>
<text x="597.2" y="336.4" font-size="25" text-anchor="end">0</text>
<line x1="601.4" y1="376.725" x2="608.6" y2="376.725" stroke="#111" stroke-width="4.4"/>
<text x="597.2" y="385.45" font-size="25" text-anchor="end">-0.5</text>
<line x1="601.4" y1="426.55" x2="608.6" y2="426.55" stroke="#111" stroke-width="4.4"/>
<text x="597.2" y="434.5" font-size="25" text-anchor="end">-1.0</text>
<line x1="601.4" y1="476.375" x2="608.6" y2="476.375" stroke="#111" stroke-width="4.4"/>
<text x="597.2" y="483.55" font-size="25" text-anchor="end">-1.5</text>
<text x="597.2" y="532.6" font-size="25" text-anchor="end">-2.0</text>
<line x1="630" y1="526.2" x2="630" y2="532" stroke="#111" stroke-width="4.6"/>
<text x="639.5" y="540.5" font-size="25" text-anchor="end" transform="rotate(-90 639.5 540.5)">HCC1143</text>
<line x1="678.67" y1="526.2" x2="678.67" y2="532" stroke="#111" stroke-width="4.6"/>
<text x="688.4" y="540.5" font-size="25" text-anchor="end" transform="rotate(-90 688.4 540.5)">HCC1806</text>
<line x1="727.34" y1="526.2" x2="727.34" y2="532" stroke="#111" stroke-width="4.6"/>
<text x="737.3" y="540.5" font-size="25" text-anchor="end" transform="rotate(-90 737.3 540.5)">HCC1954</text>
<line x1="776.01" y1="526.2" x2="776.01" y2="532" stroke="#111" stroke-width="4.6"/>
<text x="786.2" y="540.5" font-size="25" text-anchor="end" transform="rotate(-90 786.2 540.5)">MDA-MB-468</text>
<line x1="824.68" y1="526.2" x2="824.68" y2="532" stroke="#111" stroke-width="4.6"/>
<text x="835.1" y="540.5" font-size="25" text-anchor="end" transform="rotate(-90 835.1 540.5)">BT549</text>
<line x1="873.35" y1="526.2" x2="873.35" y2="532" stroke="#111" stroke-width="4.6"/>
<text x="884" y="540.5" font-size="25" text-anchor="end" transform="rotate(-90 884 540.5)">Hs578T</text>
<line x1="922.02" y1="526.2" x2="922.02" y2="532" stroke="#111" stroke-width="4.6"/>
<text x="932.9" y="540.5" font-size="25" text-anchor="end" transform="rotate(-90 932.9 540.5)">MDA-MB-231</text>
<line x1="970.69" y1="526.2" x2="970.69" y2="532" stroke="#111" stroke-width="4.6"/>
<text x="981.8" y="540.5" font-size="25" text-anchor="end" transform="rotate(-90 981.8 540.5)">SUM149PT</text>
<text x="545.9" y="424.4" font-size="25" text-anchor="middle" transform="rotate(-90 545.9 424.4)">Log IC50</text>
<rect x="617.55" y="502.95" width="28.5" height="13.4" fill="#E8463D" stroke="#111" stroke-width="2.7" rx="1.2"/>
<text x="650.6" y="517" font-size="25">2D</text>
<rect x="698.75" y="502.95" width="28.5" height="13.4" fill="#4DC47B" stroke="#111" stroke-width="2.7" rx="1.2"/>
<text x="731.9" y="517" font-size="25">3D</text>
</g>
<g>
<text x="1289.2" y="306.3" font-size="29" text-anchor="middle">Bortezomib</text>
<rect x="1101.95" y="326.9" width="12.4" height="143.511" fill="#E8463D" stroke="#111" stroke-width="2.7"/>
<rect x="1119.95" y="326.9" width="12.4" height="137.423" fill="#4DC47B" stroke="#111" stroke-width="2.7"/>
<rect x="1150.55" y="326.9" width="12.4" height="131.634" fill="#E8463D" stroke="#111" stroke-width="2.7"/>
<rect x="1168.55" y="326.9" width="12.4" height="141.764" fill="#4DC47B" stroke="#111" stroke-width="2.7"/>
<rect x="1199.15" y="326.9" width="12.4" height="159.229" fill="#E8463D" stroke="#111" stroke-width="2.7"/>
<rect x="1217.15" y="326.9" width="12.4" height="173.201" fill="#4DC47B" stroke="#111" stroke-width="2.7"/>
<rect x="1247.75" y="326.9" width="12.4" height="161.524" fill="#E8463D" stroke="#111" stroke-width="2.7"/>
<rect x="1265.75" y="326.9" width="12.4" height="166.215" fill="#4DC47B" stroke="#111" stroke-width="2.7"/>
<rect x="1296.35" y="326.9" width="12.4" height="161.225" fill="#E8463D" stroke="#111" stroke-width="2.7"/>
<rect x="1314.35" y="326.9" width="12.4" height="174.199" fill="#4DC47B" stroke="#111" stroke-width="2.7"/>
<rect x="1344.95" y="326.9" width="12.4" height="139.768" fill="#E8463D" stroke="#111" stroke-width="2.7"/>
<rect x="1362.95" y="326.9" width="12.4" height="118.81" fill="#4DC47B" stroke="#111" stroke-width="2.7"/>
<rect x="1393.55" y="326.9" width="12.4" height="134.529" fill="#E8463D" stroke="#111" stroke-width="2.7"/>
<rect x="1411.55" y="326.9" width="12.4" height="146.255" fill="#4DC47B" stroke="#111" stroke-width="2.7"/>
<rect x="1442.15" y="326.9" width="12.4" height="150.746" fill="#E8463D" stroke="#111" stroke-width="2.7"/>
<rect x="1460.15" y="326.9" width="12.4" height="151.944" fill="#4DC47B" stroke="#111" stroke-width="2.7"/>
<line x1="1088.5" y1="326.9" x2="1479.1" y2="326.9" stroke="#111" stroke-width="5.7"/>
<line x1="1095.7" y1="324.05" x2="1095.7" y2="528.7" stroke="#111" stroke-width="5.2"/>
<line x1="1088.6" y1="526.2" x2="1479.1" y2="526.2" stroke="#111" stroke-width="5.3"/>
<text x="1081.4" y="338.6" font-size="25" text-anchor="end">0</text>
<line x1="1088.5" y1="376.725" x2="1095.7" y2="376.725" stroke="#111" stroke-width="4.4"/>
<text x="1081.4" y="387.65" font-size="25" text-anchor="end">-1</text>
<line x1="1088.5" y1="426.55" x2="1095.7" y2="426.55" stroke="#111" stroke-width="4.4"/>
<text x="1081.4" y="436.7" font-size="25" text-anchor="end">-2</text>
<line x1="1088.5" y1="476.375" x2="1095.7" y2="476.375" stroke="#111" stroke-width="4.4"/>
<text x="1081.4" y="485.75" font-size="25" text-anchor="end">-3</text>
<text x="1081.4" y="534.8" font-size="25" text-anchor="end">-4</text>
<line x1="1117.1" y1="526.2" x2="1117.1" y2="532" stroke="#111" stroke-width="4.6"/>
<text x="1127.1" y="540.5" font-size="25" text-anchor="end" transform="rotate(-90 1127.1 540.5)">HCC1143</text>
<line x1="1165.77" y1="526.2" x2="1165.77" y2="532" stroke="#111" stroke-width="4.6"/>
<text x="1175.85" y="540.5" font-size="25" text-anchor="end" transform="rotate(-90 1175.85 540.5)">HCC1806</text>
<line x1="1214.44" y1="526.2" x2="1214.44" y2="532" stroke="#111" stroke-width="4.6"/>
<text x="1224.6" y="540.5" font-size="25" text-anchor="end" transform="rotate(-90 1224.6 540.5)">HCC1954</text>
<line x1="1263.11" y1="526.2" x2="1263.11" y2="532" stroke="#111" stroke-width="4.6"/>
<text x="1273.35" y="540.5" font-size="25" text-anchor="end" transform="rotate(-90 1273.35 540.5)">MDA-MB-468</text>
<line x1="1311.78" y1="526.2" x2="1311.78" y2="532" stroke="#111" stroke-width="4.6"/>
<text x="1322.1" y="540.5" font-size="25" text-anchor="end" transform="rotate(-90 1322.1 540.5)">BT549</text>
<line x1="1360.45" y1="526.2" x2="1360.45" y2="532" stroke="#111" stroke-width="4.6"/>
<text x="1370.85" y="540.5" font-size="25" text-anchor="end" transform="rotate(-90 1370.85 540.5)">Hs578T</text>
<line x1="1409.12" y1="526.2" x2="1409.12" y2="532" stroke="#111" stroke-width="4.6"/>
<text x="1419.6" y="540.5" font-size="25" text-anchor="end" transform="rotate(-90 1419.6 540.5)">MDA-MB-231</text>
<line x1="1457.79" y1="526.2" x2="1457.79" y2="532" stroke="#111" stroke-width="4.6"/>
<text x="1468.35" y="540.5" font-size="25" text-anchor="end" transform="rotate(-90 1468.35 540.5)">SUM149PT</text>
<text x="1039.5" y="426.6" font-size="25" text-anchor="middle" transform="rotate(-90 1039.5 426.6)">Log IC50</text>
<rect x="1104.05" y="502.95" width="28.5" height="13.4" fill="#E8463D" stroke="#111" stroke-width="2.7" rx="1.2"/>
<text x="1137.1" y="517" font-size="25">2D</text>
<rect x="1185.25" y="502.95" width="28.5" height="13.4" fill="#4DC47B" stroke="#111" stroke-width="2.7" rx="1.2"/>
<text x="1218.4" y="517" font-size="25">3D</text>
</g>
<g>
<text x="1783.1" y="306.3" font-size="29" text-anchor="middle">MG132</text>
<rect x="1595.65" y="327.4" width="12.4" height="55.3372" fill="#E8463D" stroke="#111" stroke-width="2.7"/>
<rect x="1613.65" y="327.4" width="12.4" height="62.922" fill="#4DC47B" stroke="#111" stroke-width="2.7"/>
<rect x="1644.25" y="327.4" width="12.4" height="46.0558" fill="#E8463D" stroke="#111" stroke-width="2.7"/>
<rect x="1662.25" y="327.4" width="12.4" height="47.2534" fill="#4DC47B" stroke="#111" stroke-width="2.7"/>
<rect x="1692.85" y="327.4" width="12.4" height="78.89" fill="#E8463D" stroke="#111" stroke-width="2.7"/>
<rect x="1710.85" y="327.4" width="12.4" height="97.9518" fill="#4DC47B" stroke="#111" stroke-width="2.7"/>
<rect x="1741.45" y="327.4" width="12.4" height="74.7982" fill="#E8463D" stroke="#111" stroke-width="2.7"/>
<rect x="1759.45" y="327.4" width="12.4" height="88.6704" fill="#4DC47B" stroke="#111" stroke-width="2.7"/>
<rect x="1790.05" y="327.4" width="12.4" height="105.237" fill="#E8463D" stroke="#111" stroke-width="2.7"/>
<rect x="1808.05" y="327.4" width="12.4" height="99.4488" fill="#4DC47B" stroke="#111" stroke-width="2.7"/>
<rect x="1838.65" y="327.4" width="12.4" height="53.6406" fill="#E8463D" stroke="#111" stroke-width="2.7"/>
<rect x="1887.25" y="327.4" width="12.4" height="68.1116" fill="#E8463D" stroke="#111" stroke-width="2.7"/>
<rect x="1905.25" y="327.4" width="12.4" height="47.2534" fill="#4DC47B" stroke="#111" stroke-width="2.7"/>
<rect x="1935.85" y="327.4" width="12.4" height="57.932" fill="#E8463D" stroke="#111" stroke-width="2.7"/>
<rect x="1953.85" y="327.4" width="12.4" height="90.4668" fill="#4DC47B" stroke="#111" stroke-width="2.7"/>
<line x1="1582.2" y1="327.4" x2="1973.3" y2="327.4" stroke="#111" stroke-width="5.7"/>
<line x1="1589.4" y1="324.55" x2="1589.4" y2="529.2" stroke="#111" stroke-width="5.2"/>
<line x1="1582.3" y1="526.7" x2="1973.3" y2="526.7" stroke="#111" stroke-width="5.3"/>
<text x="1577.7" y="339.2" font-size="25" text-anchor="end">0</text>
<line x1="1582.2" y1="377.225" x2="1589.4" y2="377.225" stroke="#111" stroke-width="4.4"/>
<text x="1577.7" y="388.25" font-size="25" text-anchor="end">-0.5</text>
<line x1="1582.2" y1="427.05" x2="1589.4" y2="427.05" stroke="#111" stroke-width="4.4"/>
<text x="1577.7" y="437.3" font-size="25" text-anchor="end">-1.0</text>
<line x1="1582.2" y1="476.875" x2="1589.4" y2="476.875" stroke="#111" stroke-width="4.4"/>
<text x="1577.7" y="486.35" font-size="25" text-anchor="end">-1.5</text>
<text x="1577.7" y="535.4" font-size="25" text-anchor="end">-2.0</text>
<line x1="1610.8" y1="526.7" x2="1610.8" y2="532.5" stroke="#111" stroke-width="4.6"/>
<text x="1618.8" y="540.5" font-size="25" text-anchor="end" transform="rotate(-90 1618.8 540.5)">HCC1143</text>
<line x1="1659.47" y1="526.7" x2="1659.47" y2="532.5" stroke="#111" stroke-width="4.6"/>
<text x="1667.75" y="540.5" font-size="25" text-anchor="end" transform="rotate(-90 1667.75 540.5)">HCC1806</text>
<line x1="1708.14" y1="526.7" x2="1708.14" y2="532.5" stroke="#111" stroke-width="4.6"/>
<text x="1716.7" y="540.5" font-size="25" text-anchor="end" transform="rotate(-90 1716.7 540.5)">HCC1954</text>
<line x1="1756.81" y1="526.7" x2="1756.81" y2="532.5" stroke="#111" stroke-width="4.6"/>
<text x="1765.65" y="540.5" font-size="25" text-anchor="end" transform="rotate(-90 1765.65 540.5)">MDA-MB-468</text>
<line x1="1805.48" y1="526.7" x2="1805.48" y2="532.5" stroke="#111" stroke-width="4.6"/>
<text x="1814.6" y="540.5" font-size="25" text-anchor="end" transform="rotate(-90 1814.6 540.5)">BT549</text>
<line x1="1854.15" y1="526.7" x2="1854.15" y2="532.5" stroke="#111" stroke-width="4.6"/>
<text x="1863.55" y="540.5" font-size="25" text-anchor="end" transform="rotate(-90 1863.55 540.5)">Hs578T</text>
<line x1="1902.82" y1="526.7" x2="1902.82" y2="532.5" stroke="#111" stroke-width="4.6"/>
<text x="1912.5" y="540.5" font-size="25" text-anchor="end" transform="rotate(-90 1912.5 540.5)">MDA-MB-231</text>
<line x1="1951.49" y1="526.7" x2="1951.49" y2="532.5" stroke="#111" stroke-width="4.6"/>
<text x="1961.45" y="540.5" font-size="25" text-anchor="end" transform="rotate(-90 1961.45 540.5)">SUM149PT</text>
<text x="1524.6" y="426.7" font-size="25" text-anchor="middle" transform="rotate(-90 1524.6 426.7)">Log IC50</text>
<rect x="1601.65" y="501.55" width="28.5" height="13.4" fill="#E8463D" stroke="#111" stroke-width="2.7" rx="1.2"/>
<text x="1634.7" y="515.6" font-size="25">2D</text>
<rect x="1682.85" y="501.55" width="28.5" height="13.4" fill="#4DC47B" stroke="#111" stroke-width="2.7" rx="1.2"/>
<text x="1716" y="515.6" font-size="25">3D</text>
</g>
</g>
<g id="panelC">
<text x="-0.8" y="753.6" font-size="37.5" class="b">C</text>
<text x="259" y="764.7" font-size="29" text-anchor="middle">HCC1143</text>
<text x="484" y="764.7" font-size="29" text-anchor="middle">HCC1806</text>
<text x="718.7" y="764.7" font-size="29" text-anchor="middle">HCC1954</text>
<text x="950.5" y="764.7" font-size="29" text-anchor="middle">MDA-MB-468</text>
<text x="1185" y="764.7" font-size="29" text-anchor="middle">BT549</text>
<text x="1420.2" y="764.7" font-size="29" text-anchor="middle">Hs578T</text>
<text x="1657.6" y="764.7" font-size="29" text-anchor="middle">MDA-MB-231</text>
<text x="1898.8" y="764.7" font-size="29" text-anchor="middle">SUM149PT</text>
<text x="48.3" y="858.5" font-size="29.5" text-anchor="middle" transform="rotate(-90 48.3 858.5)">Dinaciclib</text>
<text x="48.3" y="1099.6" font-size="29.5" text-anchor="middle" transform="rotate(-90 48.3 1099.6)">Flavopiridol</text>
<text x="90.5" y="969.5" font-size="25.6" text-anchor="middle" transform="rotate(-90 90.5 969.5)">Proliferation (% of DMSO)</text>
<g>
<line x1="156.85" y1="848.45" x2="352.95" y2="848.45" stroke="#3C80D0" stroke-width="2" stroke-dasharray="3.7 3.4"/>
<line x1="155.95" y1="878.6" x2="352.95" y2="878.6" stroke="#111" stroke-width="2.3" stroke-dasharray="0.2 3.82" stroke-linecap="round"/>
<line x1="151.35" y1="786.8" x2="151.35" y2="941.65" stroke="#111" stroke-width="5.5"/>
<line x1="148.6" y1="938.9" x2="353.45" y2="938.9" stroke="#111" stroke-width="5.5"/>
<line x1="147.55" y1="787.8" x2="151.35" y2="787.8" stroke="#111" stroke-width="2"/>
<line x1="147.55" y1="818.3" x2="151.35" y2="818.3" stroke="#111" stroke-width="2.4"/>
<line x1="147.55" y1="848.45" x2="151.35" y2="848.45" stroke="#111" stroke-width="2.4"/>
<line x1="147.55" y1="878.6" x2="151.35" y2="878.6" stroke="#111" stroke-width="2.4"/>
<line x1="147.55" y1="908.75" x2="151.35" y2="908.75" stroke="#111" stroke-width="2.4"/>
<line x1="147.55" y1="938.9" x2="151.35" y2="938.9" stroke="#111" stroke-width="2.4"/>
<line x1="151.35" y1="938.9" x2="151.35" y2="942.7" stroke="#111" stroke-width="2.4"/>
<line x1="218.55" y1="938.9" x2="218.55" y2="942.7" stroke="#111" stroke-width="2.4"/>
<line x1="285.75" y1="938.9" x2="285.75" y2="942.7" stroke="#111" stroke-width="2.4"/>
<line x1="352.95" y1="938.9" x2="352.95" y2="942.7" stroke="#111" stroke-width="2.4"/>
<path d="M151.3 798.4 L153.7 798.4 L156.1 798.4 L158.4 798.4 L160.8 798.4 L163.1 798.4 L165.5 798.4 L167.8 798.4 L170.2 798.4 L172.6 798.4 L174.9 798.4 L177.3 798.4 L179.6 798.4 L182.0 798.4 L184.3 798.4 L186.7 798.4 L189.1 798.4 L191.4 798.4 L193.8 798.4 L196.1 798.4 L198.5 798.4 L200.8 798.5 L203.2 798.5 L205.6 798.8 L207.9 799.4 L210.3 801.0 L212.6 805.0 L215.0 813.7 L217.3 829.2 L219.7 848.5 L222.1 864.2 L224.4 873.1 L226.8 877.1 L229.1 878.8 L231.5 879.4 L233.8 879.7 L236.2 879.7 L238.6 879.8 L240.9 879.8 L243.3 879.8 L245.6 879.8 L248.0 879.8 L250.3 879.8 L252.7 879.8 L255.0 879.8 L257.4 879.8 L259.8 879.8 L262.1 879.8 L264.5 879.8 L266.8 879.8 L269.2 879.8 L271.5 879.8 L273.9 879.8 L276.3 879.8 L278.6 879.8 L281.0 879.8 L283.3 879.8 L285.7 879.8 L288.0 879.8 L290.4 879.8 L292.8 879.8 L295.1 879.8 L297.5 879.8 L299.8 879.8 L302.2 879.8 L304.5 879.8 L306.9 879.8 L309.3 879.8 L311.6 879.8 L314.0 879.8 L316.3 879.8" fill="none" stroke="#2CA362" stroke-width="5.8" stroke-linecap="round" stroke-linejoin="round"/>
<path d="M149.55 789.356 L153.15 789.356 L153.15 792.156 L155.15 792.956 L155.15 803.846 L153.15 804.646 L153.15 807.446 L149.55 807.446 L149.55 804.646 L147.55 803.846 L147.55 792.956 L149.55 792.156 Z" fill="#2CA362"/>
<path d="M183.15 786.341 L186.75 786.341 L186.75 789.141 L188.75 789.941 L188.75 806.861 L186.75 807.661 L186.75 810.461 L183.15 810.461 L183.15 807.661 L181.15 806.861 L181.15 789.941 L183.15 789.141 Z" fill="#2CA362"/>
<path d="M216.75 842.42 L220.35 842.42 L220.35 845.22 L222.35 846.02 L222.35 856.91 L220.35 857.71 L220.35 860.51 L216.75 860.51 L216.75 857.71 L214.75 856.91 L214.75 846.02 L216.75 845.22 Z" fill="#2CA362"/>
<path d="M250.35 867.746 L253.95 867.746 L253.95 870.546 L255.95 871.346 L255.95 888.266 L253.95 889.066 L253.95 891.866 L250.35 891.866 L250.35 889.066 L248.35 888.266 L248.35 871.346 L250.35 870.546 Z" fill="#2CA362"/>
<path d="M283.95 873.776 L287.55 873.776 L287.55 875.388 L289.55 876.188 L289.55 883.424 L287.55 884.224 L287.55 885.836 L283.95 885.836 L283.95 884.224 L281.95 883.424 L281.95 876.188 L283.95 875.388 Z" fill="#2CA362"/>
<path d="M317.55 867.746 L321.15 867.746 L321.15 870.546 L323.15 871.346 L323.15 888.266 L321.15 889.066 L321.15 891.866 L317.55 891.866 L317.55 889.066 L315.55 888.266 L315.55 871.346 L317.55 870.546 Z" fill="#2CA362"/>
<path d="M151.3 813.5 L153.7 813.6 L156.1 813.6 L158.4 813.6 L160.8 813.7 L163.1 813.7 L165.5 813.8 L167.8 813.9 L170.2 814.0 L172.6 814.2 L174.9 814.5 L177.3 814.8 L179.6 815.2 L182.0 815.7 L184.3 816.4 L186.7 817.3 L189.1 818.5 L191.4 820.0 L193.8 821.9 L196.1 824.2 L198.5 827.0 L200.8 830.4 L203.2 834.3 L205.6 838.6 L207.9 843.4 L210.3 848.3 L212.6 853.3 L215.0 858.0 L217.3 862.5 L219.7 866.5 L222.1 869.9 L224.4 872.8 L226.8 875.3 L229.1 877.2 L231.5 878.8 L233.8 880.0 L236.2 880.9 L238.6 881.7 L240.9 882.2 L243.3 882.7 L245.6 883.0 L248.0 883.2 L250.3 883.4 L252.7 883.6 L255.0 883.7 L257.4 883.8 L259.8 883.8 L262.1 883.9 L264.5 883.9 L266.8 883.9 L269.2 884.0 L271.5 884.0 L273.9 884.0 L276.3 884.0 L278.6 884.0 L281.0 884.0 L283.3 884.0 L285.7 884.0 L288.0 884.0 L290.4 884.0 L292.8 884.0 L295.1 884.0 L297.5 884.0 L299.8 884.0 L302.2 884.0 L304.5 884.0 L306.9 884.0 L309.3 884.0 L311.6 884.0 L314.0 884.0 L316.3 884.0" fill="none" stroke="#E8463D" stroke-width="5.8" stroke-linecap="round" stroke-linejoin="round"/>
<path d="M149.55 807.505 L153.15 807.505 L153.15 809.117 L155.15 809.917 L155.15 817.153 L153.15 817.953 L153.15 819.565 L149.55 819.565 L149.55 817.953 L147.55 817.153 L147.55 809.917 L149.55 809.117 Z" fill="#E8463D"/>
<path d="M183.15 809.392 L186.75 809.392 L186.75 811.487 L188.75 812.287 L188.75 820.97 L186.75 821.77 L186.75 823.864 L183.15 823.864 L183.15 821.77 L181.15 820.97 L181.15 812.287 L183.15 811.487 Z" fill="#E8463D"/>
<circle cx="252.2" cy="883.6" r="1.8" fill="#E8463D"/>
<circle cx="319.4" cy="884.0" r="1.8" fill="#E8463D"/>
</g>
<g>
<line x1="156.85" y1="1089.35" x2="352.95" y2="1089.35" stroke="#3C80D0" stroke-width="2" stroke-dasharray="3.7 3.4"/>
<line x1="155.95" y1="1119.4" x2="352.95" y2="1119.4" stroke="#111" stroke-width="2.3" stroke-dasharray="0.2 3.82" stroke-linecap="round"/>
<line x1="151.35" y1="1027.8" x2="151.35" y2="1182.25" stroke="#111" stroke-width="5.5"/>
<line x1="148.6" y1="1179.5" x2="353.45" y2="1179.5" stroke="#111" stroke-width="5.5"/>
<line x1="147.55" y1="1028.8" x2="151.35" y2="1028.8" stroke="#111" stroke-width="2"/>
<line x1="147.55" y1="1059.3" x2="151.35" y2="1059.3" stroke="#111" stroke-width="2.4"/>
<line x1="147.55" y1="1089.35" x2="151.35" y2="1089.35" stroke="#111" stroke-width="2.4"/>
<line x1="147.55" y1="1119.4" x2="151.35" y2="1119.4" stroke="#111" stroke-width="2.4"/>
<line x1="147.55" y1="1149.45" x2="151.35" y2="1149.45" stroke="#111" stroke-width="2.4"/>
<line x1="147.55" y1="1179.5" x2="151.35" y2="1179.5" stroke="#111" stroke-width="2.4"/>
<line x1="151.35" y1="1179.5" x2="151.35" y2="1183.3" stroke="#111" stroke-width="2.4"/>
<line x1="218.55" y1="1179.5" x2="218.55" y2="1183.3" stroke="#111" stroke-width="2.4"/>
<line x1="285.75" y1="1179.5" x2="285.75" y2="1183.3" stroke="#111" stroke-width="2.4"/>
<line x1="352.95" y1="1179.5" x2="352.95" y2="1183.3" stroke="#111" stroke-width="2.4"/>
<path d="M151.3 1039.5 L153.7 1039.5 L156.1 1039.5 L158.4 1039.5 L160.8 1039.5 L163.1 1039.5 L165.5 1039.5 L167.8 1039.5 L170.2 1039.5 L172.6 1039.5 L174.9 1039.5 L177.3 1039.5 L179.6 1039.5 L182.0 1039.5 L184.3 1039.5 L186.7 1039.5 L189.1 1039.5 L191.4 1039.5 L193.8 1039.5 L196.1 1039.5 L198.5 1039.5 L200.8 1039.6 L203.2 1039.7 L205.6 1040.0 L207.9 1040.4 L210.3 1041.3 L212.6 1042.9 L215.0 1045.8 L217.3 1050.8 L219.7 1058.6 L222.1 1069.4 L224.4 1082.1 L226.8 1094.3 L229.1 1103.9 L231.5 1110.5 L233.8 1114.4 L236.2 1116.7 L238.6 1118.0 L240.9 1118.6 L243.3 1119.0 L245.6 1119.2 L248.0 1119.3 L250.3 1119.3 L252.7 1119.4 L255.0 1119.4 L257.4 1119.4 L259.8 1119.4 L262.1 1119.4 L264.5 1119.4 L266.8 1119.4 L269.2 1119.4 L271.5 1119.4 L273.9 1119.4 L276.3 1119.4 L278.6 1119.4 L281.0 1119.4 L283.3 1119.4 L285.7 1119.4 L288.0 1119.4 L290.4 1119.4 L292.8 1119.4 L295.1 1119.4 L297.5 1119.4 L299.8 1119.4 L302.2 1119.4 L304.5 1119.4 L306.9 1119.4 L309.3 1119.4 L311.6 1119.4 L314.0 1119.4 L316.3 1119.4" fill="none" stroke="#2CA362" stroke-width="5.8" stroke-linecap="round" stroke-linejoin="round"/>
<path d="M149.55 1030.45 L153.15 1030.45 L153.15 1033.25 L155.15 1034.05 L155.15 1044.88 L153.15 1045.68 L153.15 1048.48 L149.55 1048.48 L149.55 1045.68 L147.55 1044.88 L147.55 1034.05 L149.55 1033.25 Z" fill="#2CA362"/>
<path d="M183.15 1032.26 L186.75 1032.26 L186.75 1034.34 L188.75 1035.14 L188.75 1043.8 L186.75 1044.6 L186.75 1046.68 L183.15 1046.68 L183.15 1044.6 L181.15 1043.8 L181.15 1035.14 L183.15 1034.34 Z" fill="#2CA362"/>
<path d="M216.75 1041.27 L220.35 1041.27 L220.35 1044.07 L222.35 1044.87 L222.35 1073.73 L220.35 1074.53 L220.35 1077.33 L216.75 1077.33 L216.75 1074.53 L214.75 1073.73 L214.75 1044.87 L216.75 1044.07 Z" fill="#2CA362"/>
<path d="M250.35 1112.15 L253.95 1112.15 L253.95 1114.24 L255.95 1115.04 L255.95 1123.69 L253.95 1124.49 L253.95 1126.58 L250.35 1126.58 L250.35 1124.49 L248.35 1123.69 L248.35 1115.04 L250.35 1114.24 Z" fill="#2CA362"/>
<path d="M283.95 1108.58 L287.55 1108.58 L287.55 1111.38 L289.55 1112.18 L289.55 1126.62 L287.55 1127.42 L287.55 1130.22 L283.95 1130.22 L283.95 1127.42 L281.95 1126.62 L281.95 1112.18 L283.95 1111.38 Z" fill="#2CA362"/>
<path d="M317.55 1106.18 L321.15 1106.18 L321.15 1108.98 L323.15 1109.78 L323.15 1129.02 L321.15 1129.82 L321.15 1132.62 L317.55 1132.62 L317.55 1129.82 L315.55 1129.02 L315.55 1109.78 L317.55 1108.98 Z" fill="#2CA362"/>
<path d="M151.3 1050.9 L153.7 1050.9 L156.1 1050.9 L158.4 1050.9 L160.8 1050.9 L163.1 1050.9 L165.5 1050.9 L167.8 1050.9 L170.2 1050.9 L172.6 1050.9 L174.9 1050.9 L177.3 1050.9 L179.6 1050.9 L182.0 1051.0 L184.3 1051.0 L186.7 1051.0 L189.1 1051.1 L191.4 1051.1 L193.8 1051.2 L196.1 1051.4 L198.5 1051.6 L200.8 1051.8 L203.2 1052.1 L205.6 1052.6 L207.9 1053.3 L210.3 1054.1 L212.6 1055.3 L215.0 1056.8 L217.3 1058.8 L219.7 1061.4 L222.1 1064.7 L224.4 1068.6 L226.8 1073.3 L229.1 1078.6 L231.5 1084.3 L233.8 1090.2 L236.2 1095.9 L238.6 1101.2 L240.9 1105.9 L243.3 1109.8 L245.6 1113.1 L248.0 1115.7 L250.3 1117.7 L252.7 1119.2 L255.0 1120.4 L257.4 1121.2 L259.8 1121.9 L262.1 1122.3 L264.5 1122.7 L266.8 1122.9 L269.2 1123.1 L271.5 1123.3 L273.9 1123.4 L276.3 1123.4 L278.6 1123.5 L281.0 1123.5 L283.3 1123.5 L285.7 1123.6 L288.0 1123.6 L290.4 1123.6 L292.8 1123.6 L295.1 1123.6 L297.5 1123.6 L299.8 1123.6 L302.2 1123.6 L304.5 1123.6 L306.9 1123.6 L309.3 1123.6 L311.6 1123.6 L314.0 1123.6 L316.3 1123.6" fill="none" stroke="#E8463D" stroke-width="5.8" stroke-linecap="round" stroke-linejoin="round"/>
<path d="M183.15 1046.18 L186.75 1046.18 L186.75 1047.31 L188.75 1048.11 L188.75 1053.88 L186.75 1054.68 L186.75 1055.8 L183.15 1055.8 L183.15 1054.68 L181.15 1053.88 L181.15 1048.11 L183.15 1047.31 Z" fill="#E8463D"/>
<path d="M216.75 1040.67 L220.35 1040.67 L220.35 1043.47 L222.35 1044.27 L222.35 1080.34 L220.35 1081.14 L220.35 1083.94 L216.75 1083.94 L216.75 1081.14 L214.75 1080.34 L214.75 1044.27 L216.75 1043.47 Z" fill="#E8463D"/>
<circle cx="151.3" cy="1050.9" r="1.8" fill="#E8463D"/>
<circle cx="252.2" cy="1118.9" r="1.8" fill="#E8463D"/>
<circle cx="319.4" cy="1123.6" r="1.8" fill="#E8463D"/>
</g>
<text x="146.95" y="963.7" font-size="21.5" text-anchor="middle">-4</text>
<text x="208.85" y="963.7" font-size="21.5" text-anchor="middle">-3</text>
<text x="281.35" y="963.7" font-size="21.5" text-anchor="middle">-2</text>
<text x="348.65" y="963.7" font-size="21.5" text-anchor="middle">-1</text>
<text x="146.95" y="1202.5" font-size="21.5" text-anchor="middle">-2</text>
<text x="213.75" y="1202.5" font-size="21.5" text-anchor="middle">-1</text>
<text x="281.35" y="1202.5" font-size="21.5" text-anchor="middle">0</text>
<text x="352.15" y="1202.5" font-size="21.5" text-anchor="middle">1</text>
<text x="255.5" y="988.6" font-size="21.7" text-anchor="middle">Log conc (uM)</text>
<text x="255.5" y="1227.5" font-size="21.7" text-anchor="middle">Log conc (uM)</text>
<g>
<line x1="388.4" y1="848.45" x2="584.5" y2="848.45" stroke="#3C80D0" stroke-width="2" stroke-dasharray="3.7 3.4"/>
<line x1="387.5" y1="878.6" x2="584.5" y2="878.6" stroke="#111" stroke-width="2.3" stroke-dasharray="0.2 3.82" stroke-linecap="round"/>
<line x1="382.9" y1="786.8" x2="382.9" y2="941.65" stroke="#111" stroke-width="5.5"/>
<line x1="380.15" y1="938.9" x2="585" y2="938.9" stroke="#111" stroke-width="5.5"/>
<line x1="379.1" y1="787.8" x2="382.9" y2="787.8" stroke="#111" stroke-width="2"/>
<line x1="379.1" y1="818.3" x2="382.9" y2="818.3" stroke="#111" stroke-width="2.4"/>
<line x1="379.1" y1="848.45" x2="382.9" y2="848.45" stroke="#111" stroke-width="2.4"/>
<line x1="379.1" y1="878.6" x2="382.9" y2="878.6" stroke="#111" stroke-width="2.4"/>
<line x1="379.1" y1="908.75" x2="382.9" y2="908.75" stroke="#111" stroke-width="2.4"/>
<line x1="379.1" y1="938.9" x2="382.9" y2="938.9" stroke="#111" stroke-width="2.4"/>
<line x1="382.9" y1="938.9" x2="382.9" y2="942.7" stroke="#111" stroke-width="2.4"/>
<line x1="450.1" y1="938.9" x2="450.1" y2="942.7" stroke="#111" stroke-width="2.4"/>
<line x1="517.3" y1="938.9" x2="517.3" y2="942.7" stroke="#111" stroke-width="2.4"/>
<line x1="584.5" y1="938.9" x2="584.5" y2="942.7" stroke="#111" stroke-width="2.4"/>
<path d="M382.9 823.7 L385.3 823.7 L387.6 823.7 L390.0 823.7 L392.3 823.7 L394.7 823.7 L397.0 823.7 L399.4 823.7 L401.8 823.7 L404.1 823.7 L406.5 823.7 L408.8 823.7 L411.2 823.8 L413.5 823.8 L415.9 823.8 L418.3 823.8 L420.6 823.8 L423.0 823.8 L425.3 823.9 L427.7 824.0 L430.0 824.0 L432.4 824.2 L434.7 824.3 L437.1 824.6 L439.5 824.9 L441.8 825.3 L444.2 825.9 L446.5 826.7 L448.9 827.7 L451.2 829.1 L453.6 831.0 L456.0 833.3 L458.3 836.3 L460.7 839.9 L463.0 844.2 L465.4 849.0 L467.7 854.2 L470.1 859.6 L472.5 864.8 L474.8 869.6 L477.2 873.9 L479.5 877.5 L481.9 880.5 L484.2 882.8 L486.6 884.7 L489.0 886.1 L491.3 887.1 L493.7 887.9 L496.0 888.5 L498.4 888.9 L500.7 889.2 L503.1 889.5 L505.5 889.6 L507.8 889.7 L510.2 889.8 L512.5 889.9 L514.9 889.9 L517.2 890.0 L519.6 890.0 L522.0 890.0 L524.3 890.0 L526.7 890.0 L529.0 890.0 L531.4 890.0 L533.7 890.0 L536.1 890.1 L538.4 890.1 L540.8 890.1 L543.2 890.1 L545.5 890.1 L547.9 890.1" fill="none" stroke="#2CA362" stroke-width="5.8" stroke-linecap="round" stroke-linejoin="round"/>
<path d="M381.1 803.829 L384.7 803.829 L384.7 806.629 L386.7 807.429 L386.7 840.027 L384.7 840.827 L384.7 843.627 L381.1 843.627 L381.1 840.827 L379.1 840.027 L379.1 807.429 L381.1 806.629 Z" fill="#2CA362"/>
<path d="M414.7 816.541 L418.3 816.541 L418.3 818.636 L420.3 819.436 L420.3 828.119 L418.3 828.919 L418.3 831.013 L414.7 831.013 L414.7 828.919 L412.7 828.119 L412.7 819.436 L414.7 818.636 Z" fill="#2CA362"/>
<path d="M448.3 815.138 L451.9 815.138 L451.9 817.938 L453.9 818.738 L453.9 838.07 L451.9 838.87 L451.9 841.67 L448.3 841.67 L448.3 838.87 L446.3 838.07 L446.3 818.738 L448.3 817.938 Z" fill="#2CA362"/>
<path d="M481.9 875.095 L485.5 875.095 L485.5 877.19 L487.5 877.99 L487.5 886.673 L485.5 887.473 L485.5 889.567 L481.9 889.567 L481.9 887.473 L479.9 886.673 L479.9 877.99 L481.9 877.19 Z" fill="#2CA362"/>
<path d="M515.5 864.041 L519.1 864.041 L519.1 866.841 L521.1 867.641 L521.1 912.299 L519.1 913.099 L519.1 915.899 L515.5 915.899 L515.5 913.099 L513.5 912.299 L513.5 867.641 L515.5 866.841 Z" fill="#2CA362"/>
<path d="M549.1 870.157 L552.7 870.157 L552.7 872.957 L554.7 873.757 L554.7 906.355 L552.7 907.155 L552.7 909.955 L549.1 909.955 L549.1 907.155 L547.1 906.355 L547.1 873.757 L549.1 872.957 Z" fill="#2CA362"/>
<path d="M382.9 816.5 L385.3 816.5 L387.6 816.5 L390.0 816.5 L392.3 816.5 L394.7 816.5 L397.0 816.5 L399.4 816.5 L401.8 816.5 L404.1 816.5 L406.5 816.6 L408.8 816.6 L411.2 816.6 L413.5 816.7 L415.9 816.7 L418.3 816.8 L420.6 817.0 L423.0 817.2 L425.3 817.4 L427.7 817.8 L430.0 818.2 L432.4 818.9 L434.7 819.8 L437.1 820.9 L439.5 822.4 L441.8 824.4 L444.2 827.0 L446.5 830.1 L448.9 833.9 L451.2 838.3 L453.6 843.2 L456.0 848.3 L458.3 853.5 L460.7 858.4 L463.0 862.9 L465.4 866.8 L467.7 870.1 L470.1 872.7 L472.5 874.8 L474.8 876.4 L477.2 877.6 L479.5 878.5 L481.9 879.2 L484.2 879.7 L486.6 880.0 L489.0 880.3 L491.3 880.5 L493.7 880.6 L496.0 880.7 L498.4 880.8 L500.7 880.9 L503.1 880.9 L505.5 880.9 L507.8 881.0 L510.2 881.0 L512.5 881.0 L514.9 881.0 L517.2 881.0 L519.6 881.0 L522.0 881.0 L524.3 881.0 L526.7 881.0 L529.0 881.0 L531.4 881.0 L533.7 881.0 L536.1 881.0 L538.4 881.0 L540.8 881.0 L543.2 881.0 L545.5 881.0 L547.9 881.0" fill="none" stroke="#E8463D" stroke-width="5.8" stroke-linecap="round" stroke-linejoin="round"/>
<path d="M381.1 807.449 L384.7 807.449 L384.7 810.249 L386.7 811.049 L386.7 821.939 L384.7 822.739 L384.7 825.539 L381.1 825.539 L381.1 822.739 L379.1 821.939 L379.1 811.049 L381.1 810.249 Z" fill="#E8463D"/>
<path d="M414.7 810.741 L418.3 810.741 L418.3 812.353 L420.3 813.153 L420.3 820.389 L418.3 821.189 L418.3 822.801 L414.7 822.801 L414.7 821.189 L412.7 820.389 L412.7 813.153 L414.7 812.353 Z" fill="#E8463D"/>
<path d="M448.3 827.052 L451.9 827.052 L451.9 829.852 L453.9 830.652 L453.9 841.542 L451.9 842.342 L451.9 845.142 L448.3 845.142 L448.3 842.342 L446.3 841.542 L446.3 830.652 L448.3 829.852 Z" fill="#E8463D"/>
<circle cx="483.7" cy="879.6" r="1.8" fill="#E8463D"/>
<circle cx="517.3" cy="881.0" r="1.8" fill="#E8463D"/>
<circle cx="550.9" cy="881.0" r="1.8" fill="#E8463D"/>
</g>
<g>
<line x1="388.4" y1="1089.35" x2="584.5" y2="1089.35" stroke="#3C80D0" stroke-width="2" stroke-dasharray="3.7 3.4"/>
<line x1="387.5" y1="1119.4" x2="584.5" y2="1119.4" stroke="#111" stroke-width="2.3" stroke-dasharray="0.2 3.82" stroke-linecap="round"/>
<line x1="382.9" y1="1027.8" x2="382.9" y2="1182.25" stroke="#111" stroke-width="5.5"/>
<line x1="380.15" y1="1179.5" x2="585" y2="1179.5" stroke="#111" stroke-width="5.5"/>
<line x1="379.1" y1="1028.8" x2="382.9" y2="1028.8" stroke="#111" stroke-width="2"/>
<line x1="379.1" y1="1059.3" x2="382.9" y2="1059.3" stroke="#111" stroke-width="2.4"/>
<line x1="379.1" y1="1089.35" x2="382.9" y2="1089.35" stroke="#111" stroke-width="2.4"/>
<line x1="379.1" y1="1119.4" x2="382.9" y2="1119.4" stroke="#111" stroke-width="2.4"/>
<line x1="379.1" y1="1149.45" x2="382.9" y2="1149.45" stroke="#111" stroke-width="2.4"/>
<line x1="379.1" y1="1179.5" x2="382.9" y2="1179.5" stroke="#111" stroke-width="2.4"/>
<line x1="382.9" y1="1179.5" x2="382.9" y2="1183.3" stroke="#111" stroke-width="2.4"/>
<line x1="450.1" y1="1179.5" x2="450.1" y2="1183.3" stroke="#111" stroke-width="2.4"/>
<line x1="517.3" y1="1179.5" x2="517.3" y2="1183.3" stroke="#111" stroke-width="2.4"/>
<line x1="584.5" y1="1179.5" x2="584.5" y2="1183.3" stroke="#111" stroke-width="2.4"/>
<path d="M382.9 1061.1 L385.3 1061.1 L387.6 1061.1 L390.0 1061.1 L392.3 1061.1 L394.7 1061.1 L397.0 1061.1 L399.4 1061.1 L401.8 1061.1 L404.1 1061.1 L406.5 1061.1 L408.8 1061.1 L411.2 1061.1 L413.5 1061.1 L415.9 1061.1 L418.3 1061.1 L420.6 1061.1 L423.0 1061.1 L425.3 1061.1 L427.7 1061.1 L430.0 1061.1 L432.4 1061.1 L434.7 1061.1 L437.1 1061.1 L439.5 1061.1 L441.8 1061.1 L444.2 1061.1 L446.5 1061.1 L448.9 1061.1 L451.2 1061.1 L453.6 1061.2 L456.0 1061.2 L458.3 1061.3 L460.7 1061.6 L463.0 1062.0 L465.4 1062.7 L467.7 1064.1 L470.1 1066.6 L472.5 1070.8 L474.8 1077.2 L477.2 1085.7 L479.5 1095.0 L481.9 1103.4 L484.2 1109.8 L486.6 1113.9 L489.0 1116.4 L491.3 1117.8 L493.7 1118.5 L496.0 1118.9 L498.4 1119.2 L500.7 1119.3 L503.1 1119.3 L505.5 1119.4 L507.8 1119.4 L510.2 1119.4 L512.5 1119.4 L514.9 1119.4 L517.2 1119.4 L519.6 1119.4 L522.0 1119.4 L524.3 1119.4 L526.7 1119.4 L529.0 1119.4 L531.4 1119.4 L533.7 1119.4 L536.1 1119.4 L538.4 1119.4 L540.8 1119.4 L543.2 1119.4 L545.5 1119.4 L547.9 1119.4" fill="none" stroke="#2CA362" stroke-width="5.8" stroke-linecap="round" stroke-linejoin="round"/>
<path d="M381.1 1047.88 L384.7 1047.88 L384.7 1050.68 L386.7 1051.48 L386.7 1070.73 L384.7 1071.53 L384.7 1074.33 L381.1 1074.33 L381.1 1071.53 L379.1 1070.73 L379.1 1051.48 L381.1 1050.68 Z" fill="#2CA362"/>
<path d="M414.7 1038.27 L418.3 1038.27 L418.3 1041.07 L420.3 1041.87 L420.3 1080.34 L418.3 1081.14 L418.3 1083.94 L414.7 1083.94 L414.7 1081.14 L412.7 1080.34 L412.7 1041.87 L414.7 1041.07 Z" fill="#2CA362"/>
<path d="M448.3 1049.11 L451.9 1049.11 L451.9 1051.91 L453.9 1052.71 L453.9 1069.55 L451.9 1070.35 L451.9 1073.15 L448.3 1073.15 L448.3 1070.35 L446.3 1069.55 L446.3 1052.71 L448.3 1051.91 Z" fill="#2CA362"/>
<path d="M481.9 1087.55 L485.5 1087.55 L485.5 1090.35 L487.5 1091.15 L487.5 1135.63 L485.5 1136.43 L485.5 1139.23 L481.9 1139.23 L481.9 1136.43 L479.9 1135.63 L479.9 1091.15 L481.9 1090.35 Z" fill="#2CA362"/>
<path d="M515.5 1108.58 L519.1 1108.58 L519.1 1111.38 L521.1 1112.18 L521.1 1126.62 L519.1 1127.42 L519.1 1130.22 L515.5 1130.22 L515.5 1127.42 L513.5 1126.62 L513.5 1112.18 L515.5 1111.38 Z" fill="#2CA362"/>
<path d="M549.1 1098.97 L552.7 1098.97 L552.7 1101.77 L554.7 1102.57 L554.7 1136.23 L552.7 1137.03 L552.7 1139.83 L549.1 1139.83 L549.1 1137.03 L547.1 1136.23 L547.1 1102.57 L549.1 1101.77 Z" fill="#2CA362"/>
<path d="M382.9 1052.1 L385.3 1052.1 L387.6 1052.1 L390.0 1052.1 L392.3 1052.1 L394.7 1052.1 L397.0 1052.1 L399.4 1052.1 L401.8 1052.1 L404.1 1052.1 L406.5 1052.1 L408.8 1052.1 L411.2 1052.1 L413.5 1052.1 L415.9 1052.1 L418.3 1052.1 L420.6 1052.1 L423.0 1052.1 L425.3 1052.1 L427.7 1052.1 L430.0 1052.1 L432.4 1052.1 L434.7 1052.1 L437.1 1052.1 L439.5 1052.1 L441.8 1052.1 L444.2 1052.1 L446.5 1052.1 L448.9 1052.1 L451.2 1052.1 L453.6 1052.1 L456.0 1052.1 L458.3 1052.1 L460.7 1052.1 L463.0 1052.2 L465.4 1052.4 L467.7 1052.7 L470.1 1053.4 L472.5 1054.9 L474.8 1058.2 L477.2 1064.4 L479.5 1074.8 L481.9 1088.5 L484.2 1101.7 L486.6 1111.4 L489.0 1117.0 L491.3 1119.9 L493.7 1121.3 L496.0 1121.9 L498.4 1122.2 L500.7 1122.3 L503.1 1122.4 L505.5 1122.4 L507.8 1122.4 L510.2 1122.4 L512.5 1122.4 L514.9 1122.4 L517.2 1122.4 L519.6 1122.4 L522.0 1122.4 L524.3 1122.4 L526.7 1122.4 L529.0 1122.4 L531.4 1122.4 L533.7 1122.4 L536.1 1122.4 L538.4 1122.4 L540.8 1122.4 L543.2 1122.4 L545.5 1122.4 L547.9 1122.4" fill="none" stroke="#E8463D" stroke-width="5.8" stroke-linecap="round" stroke-linejoin="round"/>
<path d="M381.1 1046.08 L384.7 1046.08 L384.7 1047.68 L386.7 1048.48 L386.7 1055.69 L384.7 1056.49 L384.7 1058.1 L381.1 1058.1 L381.1 1056.49 L379.1 1055.69 L379.1 1048.48 L381.1 1047.68 Z" fill="#E8463D"/>
<path d="M414.7 1044.88 L418.3 1044.88 L418.3 1046.96 L420.3 1047.76 L420.3 1056.42 L418.3 1057.22 L418.3 1059.3 L414.7 1059.3 L414.7 1057.22 L412.7 1056.42 L412.7 1047.76 L414.7 1046.96 Z" fill="#E8463D"/>
<path d="M448.3 1043.07 L451.9 1043.07 L451.9 1045.87 L453.9 1046.67 L453.9 1057.5 L451.9 1058.3 L451.9 1061.1 L448.3 1061.1 L448.3 1058.3 L446.3 1057.5 L446.3 1046.67 L448.3 1045.87 Z" fill="#E8463D"/>
<circle cx="483.7" cy="1098.9" r="1.8" fill="#E8463D"/>
<circle cx="517.3" cy="1122.4" r="1.8" fill="#E8463D"/>
<circle cx="550.9" cy="1122.4" r="1.8" fill="#E8463D"/>
</g>
<text x="379.7" y="963.7" font-size="21.5" text-anchor="middle">-4</text>
<text x="449.4" y="963.7" font-size="21.5" text-anchor="middle">-3</text>
<text x="522.2" y="963.7" font-size="21.5" text-anchor="middle">-2</text>
<text x="586.6" y="963.7" font-size="21.5" text-anchor="middle">-1</text>
<text x="379.7" y="1202.5" font-size="21.5" text-anchor="middle">-2</text>
<text x="449.4" y="1202.5" font-size="21.5" text-anchor="middle">-1</text>
<text x="517.5" y="1202.5" font-size="21.5" text-anchor="middle">0</text>
<text x="583.7" y="1202.5" font-size="21.5" text-anchor="middle">1</text>
<text x="486.7" y="988.6" font-size="21.7" text-anchor="middle">Log conc (uM)</text>
<text x="486.7" y="1227.5" font-size="21.7" text-anchor="middle">Log conc (uM)</text>
<g>
<line x1="626.4" y1="848.45" x2="822.5" y2="848.45" stroke="#3C80D0" stroke-width="2" stroke-dasharray="3.7 3.4"/>
<line x1="625.5" y1="878.6" x2="822.5" y2="878.6" stroke="#111" stroke-width="2.3" stroke-dasharray="0.2 3.82" stroke-linecap="round"/>
<line x1="620.9" y1="786.8" x2="620.9" y2="941.65" stroke="#111" stroke-width="5.5"/>
<line x1="618.15" y1="938.9" x2="823" y2="938.9" stroke="#111" stroke-width="5.5"/>
<line x1="617.1" y1="787.8" x2="620.9" y2="787.8" stroke="#111" stroke-width="2"/>
<line x1="617.1" y1="818.3" x2="620.9" y2="818.3" stroke="#111" stroke-width="2.4"/>
<line x1="617.1" y1="848.45" x2="620.9" y2="848.45" stroke="#111" stroke-width="2.4"/>
<line x1="617.1" y1="878.6" x2="620.9" y2="878.6" stroke="#111" stroke-width="2.4"/>
<line x1="617.1" y1="908.75" x2="620.9" y2="908.75" stroke="#111" stroke-width="2.4"/>
<line x1="617.1" y1="938.9" x2="620.9" y2="938.9" stroke="#111" stroke-width="2.4"/>
<line x1="620.9" y1="938.9" x2="620.9" y2="942.7" stroke="#111" stroke-width="2.4"/>
<line x1="688.1" y1="938.9" x2="688.1" y2="942.7" stroke="#111" stroke-width="2.4"/>
<line x1="755.3" y1="938.9" x2="755.3" y2="942.7" stroke="#111" stroke-width="2.4"/>
<line x1="822.5" y1="938.9" x2="822.5" y2="942.7" stroke="#111" stroke-width="2.4"/>
<path d="M620.9 828.6 L623.3 828.6 L625.6 828.6 L628.0 828.6 L630.3 828.6 L632.7 828.6 L635.0 828.6 L637.4 828.6 L639.8 828.6 L642.1 828.7 L644.5 829.0 L646.8 830.0 L649.2 833.1 L651.5 841.8 L653.9 859.9 L656.3 881.3 L658.6 894.7 L661.0 900.1 L663.3 901.9 L665.7 902.5 L668.0 902.6 L670.4 902.7 L672.7 902.7 L675.1 902.7 L677.5 902.7 L679.8 902.7 L682.2 902.7 L684.5 902.7 L686.9 902.7 L689.2 902.7 L691.6 902.7 L694.0 902.7 L696.3 902.7 L698.7 902.7 L701.0 902.7 L703.4 902.7 L705.7 902.7 L708.1 902.7 L710.5 902.7 L712.8 902.7 L715.2 902.7 L717.5 902.7 L719.9 902.7 L722.2 902.7 L724.6 902.7 L727.0 902.7 L729.3 902.7 L731.7 902.7 L734.0 902.7 L736.4 902.7 L738.7 902.7 L741.1 902.7 L743.5 902.7 L745.8 902.7 L748.2 902.7 L750.5 902.7 L752.9 902.7 L755.2 902.7 L757.6 902.7 L760.0 902.7 L762.3 902.7 L764.7 902.7 L767.0 902.7 L769.4 902.7 L771.7 902.7 L774.1 902.7 L776.4 902.7 L778.8 902.7 L781.2 902.7 L783.5 902.7 L785.9 902.7" fill="none" stroke="#2CA362" stroke-width="5.8" stroke-linecap="round" stroke-linejoin="round"/>
<path d="M619.1 788.15 L622.7 788.15 L622.7 790.95 L624.7 791.75 L624.7 865.352 L622.7 866.152 L622.7 868.952 L619.1 868.952 L619.1 866.152 L617.1 865.352 L617.1 791.75 L619.1 790.95 Z" fill="#2CA362"/>
<path d="M652.7 827.345 L656.3 827.345 L656.3 830.145 L658.3 830.945 L658.3 878.015 L656.3 878.815 L656.3 881.615 L652.7 881.615 L652.7 878.815 L650.7 878.015 L650.7 830.945 L652.7 830.145 Z" fill="#2CA362"/>
<path d="M686.3 882.821 L689.9 882.821 L689.9 885.621 L691.9 886.421 L691.9 928.667 L689.9 929.467 L689.9 932.267 L686.3 932.267 L686.3 929.467 L684.3 928.667 L684.3 886.421 L686.3 885.621 Z" fill="#2CA362"/>
<path d="M719.9 890.66 L723.5 890.66 L723.5 893.46 L725.5 894.26 L725.5 911.18 L723.5 911.98 L723.5 914.78 L719.9 914.78 L719.9 911.98 L717.9 911.18 L717.9 894.26 L719.9 893.46 Z" fill="#2CA362"/>
<path d="M753.5 885.233 L757.1 885.233 L757.1 888.033 L759.1 888.833 L759.1 933.491 L757.1 934.291 L757.1 937.091 L753.5 937.091 L753.5 934.291 L751.5 933.491 L751.5 888.833 L753.5 888.033 Z" fill="#2CA362"/>
<path d="M787.1 891.866 L790.7 891.866 L790.7 894.666 L792.7 895.466 L792.7 909.974 L790.7 910.774 L790.7 913.574 L787.1 913.574 L787.1 910.774 L785.1 909.974 L785.1 895.466 L787.1 894.666 Z" fill="#2CA362"/>
<path d="M620.9 828.8 L623.3 828.9 L625.6 829.0 L628.0 829.1 L630.3 829.2 L632.7 829.4 L635.0 829.6 L637.4 829.9 L639.8 830.2 L642.1 830.7 L644.5 831.2 L646.8 831.9 L649.2 832.8 L651.5 833.8 L653.9 835.1 L656.3 836.6 L658.6 838.5 L661.0 840.6 L663.3 843.0 L665.7 845.7 L668.0 848.7 L670.4 851.9 L672.7 855.2 L675.1 858.5 L677.5 861.7 L679.8 864.8 L682.2 867.7 L684.5 870.3 L686.9 872.5 L689.2 874.5 L691.6 876.2 L694.0 877.6 L696.3 878.7 L698.7 879.7 L701.0 880.4 L703.4 881.0 L705.7 881.5 L708.1 881.9 L710.5 882.2 L712.8 882.5 L715.2 882.7 L717.5 882.8 L719.9 883.0 L722.2 883.1 L724.6 883.1 L727.0 883.2 L729.3 883.3 L731.7 883.3 L734.0 883.3 L736.4 883.3 L738.7 883.4 L741.1 883.4 L743.5 883.4 L745.8 883.4 L748.2 883.4 L750.5 883.4 L752.9 883.4 L755.2 883.4 L757.6 883.4 L760.0 883.4 L762.3 883.4 L764.7 883.4 L767.0 883.4 L769.4 883.4 L771.7 883.4 L774.1 883.4 L776.4 883.4 L778.8 883.4 L781.2 883.4 L783.5 883.4 L785.9 883.4" fill="none" stroke="#E8463D" stroke-width="5.8" stroke-linecap="round" stroke-linejoin="round"/>
<circle cx="620.9" cy="828.8" r="1.8" fill="#E8463D"/>
<circle cx="654.5" cy="835.5" r="1.8" fill="#E8463D"/>
</g>
<g>
<line x1="626.4" y1="1089.35" x2="822.5" y2="1089.35" stroke="#3C80D0" stroke-width="2" stroke-dasharray="3.7 3.4"/>
<line x1="625.5" y1="1119.4" x2="822.5" y2="1119.4" stroke="#111" stroke-width="2.3" stroke-dasharray="0.2 3.82" stroke-linecap="round"/>
<line x1="620.9" y1="1027.8" x2="620.9" y2="1182.25" stroke="#111" stroke-width="5.5"/>
<line x1="618.15" y1="1179.5" x2="823" y2="1179.5" stroke="#111" stroke-width="5.5"/>
<line x1="617.1" y1="1028.8" x2="620.9" y2="1028.8" stroke="#111" stroke-width="2"/>
<line x1="617.1" y1="1059.3" x2="620.9" y2="1059.3" stroke="#111" stroke-width="2.4"/>
<line x1="617.1" y1="1089.35" x2="620.9" y2="1089.35" stroke="#111" stroke-width="2.4"/>
<line x1="617.1" y1="1119.4" x2="620.9" y2="1119.4" stroke="#111" stroke-width="2.4"/>
<line x1="617.1" y1="1149.45" x2="620.9" y2="1149.45" stroke="#111" stroke-width="2.4"/>
<line x1="617.1" y1="1179.5" x2="620.9" y2="1179.5" stroke="#111" stroke-width="2.4"/>
<line x1="620.9" y1="1179.5" x2="620.9" y2="1183.3" stroke="#111" stroke-width="2.4"/>
<line x1="688.1" y1="1179.5" x2="688.1" y2="1183.3" stroke="#111" stroke-width="2.4"/>
<line x1="755.3" y1="1179.5" x2="755.3" y2="1183.3" stroke="#111" stroke-width="2.4"/>
<line x1="822.5" y1="1179.5" x2="822.5" y2="1183.3" stroke="#111" stroke-width="2.4"/>
<path d="M620.9 1076.1 L621.8 1076.2 L622.7 1076.2 L623.7 1076.2 L624.6 1076.2 L625.5 1076.2 L626.4 1076.3 L627.3 1076.3 L628.2 1076.3 L629.2 1076.3 L630.1 1076.4 L631.0 1076.4 L631.9 1076.4 L632.8 1076.4 L633.7 1076.4 L634.7 1076.5 L635.6 1076.5 L636.5 1076.5 L637.4 1076.6 L638.3 1076.6 L639.2 1076.6 L640.2 1076.7 L641.1 1076.7 L642.0 1076.8 L642.9 1076.9 L643.8 1077.0 L644.7 1077.1 L645.7 1077.2 L646.6 1077.3 L647.5 1077.5 L648.4 1077.7 L649.3 1077.8 L650.2 1078.0 L651.2 1078.3 L652.1 1078.5 L653.0 1078.7 L653.9 1079.0 L654.8 1079.2 L655.7 1079.6 L656.7 1080.0 L657.6 1080.5 L658.5 1081.1 L659.4 1081.7 L660.3 1082.4 L661.2 1083.2 L662.2 1084.0 L663.1 1084.9 L664.0 1085.7 L664.9 1086.7 L665.8 1087.8 L666.7 1089.2 L667.7 1090.8 L668.6 1092.5 L669.5 1094.4 L670.4 1096.4 L671.3 1098.4 L672.2 1100.6 L673.2 1103.1 L674.1 1105.7 L675.0 1108.6 L675.9 1111.7 L676.8 1114.9 L677.7 1118.3 L678.7 1122.0 L679.6 1126.3 L680.5 1130.9 L681.4 1135.9 L682.3 1141.1 L683.2 1146.6 L684.2 1152.5 L685.1 1158.8" fill="none" stroke="#2CA362" stroke-width="5.8" stroke-linecap="round" stroke-linejoin="round"/>
<path d="M619.1 1044.88 L622.7 1044.88 L622.7 1047.68 L624.7 1048.48 L624.7 1103.78 L622.7 1104.58 L622.7 1107.38 L619.1 1107.38 L619.1 1104.58 L617.1 1103.78 L617.1 1048.48 L619.1 1047.68 Z" fill="#2CA362"/>
<path d="M652.7 1058.1 L656.3 1058.1 L656.3 1060.9 L658.3 1061.7 L658.3 1096.57 L656.3 1097.37 L656.3 1100.17 L652.7 1100.17 L652.7 1097.37 L650.7 1096.57 L650.7 1061.7 L652.7 1060.9 Z" fill="#2CA362"/>
<path d="M686.3 1133.82 L689.9 1133.82 L689.9 1136.62 L692.85 1137.42 L692.85 1175.9 L689.9 1176.7 L689.9 1179.5 L686.3 1179.5 L686.3 1176.7 L683.35 1175.9 L683.35 1137.42 L686.3 1136.62 Z" fill="#2CA362"/>
<path d="M620.9 1065.3 L623.3 1065.3 L625.6 1065.4 L628.0 1065.4 L630.3 1065.4 L632.7 1065.4 L635.0 1065.4 L637.4 1065.5 L639.8 1065.5 L642.1 1065.6 L644.5 1065.6 L646.8 1065.7 L649.2 1065.8 L651.5 1066.0 L653.9 1066.2 L656.3 1066.4 L658.6 1066.7 L661.0 1067.0 L663.3 1067.5 L665.7 1068.0 L668.0 1068.8 L670.4 1069.6 L672.7 1070.7 L675.1 1072.0 L677.5 1073.6 L679.8 1075.5 L682.2 1077.7 L684.5 1080.3 L686.9 1083.2 L689.2 1086.4 L691.6 1089.9 L694.0 1093.6 L696.3 1097.3 L698.7 1100.9 L701.0 1104.5 L703.4 1107.8 L705.7 1110.8 L708.1 1113.4 L710.5 1115.8 L712.8 1117.8 L715.2 1119.5 L717.5 1120.8 L719.9 1122.0 L722.2 1122.9 L724.6 1123.7 L727.0 1124.3 L729.3 1124.8 L731.7 1125.2 L734.0 1125.5 L736.4 1125.7 L738.7 1125.9 L741.1 1126.1 L743.5 1126.2 L745.8 1126.3 L748.2 1126.3 L750.5 1126.4 L752.9 1126.4 L755.2 1126.5 L757.6 1126.5 L760.0 1126.5 L762.3 1126.5 L764.7 1126.6 L767.0 1126.6 L769.4 1126.6 L771.7 1126.6 L774.1 1126.6 L776.4 1126.6 L778.8 1126.6 L781.2 1126.6 L783.5 1126.6 L785.9 1126.6" fill="none" stroke="#E8463D" stroke-width="5.8" stroke-linecap="round" stroke-linejoin="round"/>
<circle cx="620.9" cy="1065.3" r="1.8" fill="#E8463D"/>
<circle cx="654.5" cy="1066.2" r="1.8" fill="#E8463D"/>
</g>
<text x="615.7" y="963.7" font-size="21.5" text-anchor="middle">-4</text>
<text x="685.9" y="963.7" font-size="21.5" text-anchor="middle">-3</text>
<text x="757.9" y="963.7" font-size="21.5" text-anchor="middle">-2</text>
<text x="823.2" y="963.7" font-size="21.5" text-anchor="middle">-1</text>
<text x="615.7" y="1202.5" font-size="21.5" text-anchor="middle">-2</text>
<text x="685.3" y="1202.5" font-size="21.5" text-anchor="middle">-1</text>
<text x="754.9" y="1202.5" font-size="21.5" text-anchor="middle">0</text>
<text x="820.3" y="1202.5" font-size="21.5" text-anchor="middle">1</text>
<text x="718.7" y="988.6" font-size="21.7" text-anchor="middle">Log conc (uM)</text>
<text x="718.7" y="1227.5" font-size="21.7" text-anchor="middle">Log conc (uM)</text>
<g>
<line x1="854.8" y1="848.45" x2="1050.9" y2="848.45" stroke="#3C80D0" stroke-width="2" stroke-dasharray="3.7 3.4"/>
<line x1="853.9" y1="878.6" x2="1050.9" y2="878.6" stroke="#111" stroke-width="2.3" stroke-dasharray="0.2 3.82" stroke-linecap="round"/>
<line x1="849.3" y1="786.8" x2="849.3" y2="941.65" stroke="#111" stroke-width="5.5"/>
<line x1="846.55" y1="938.9" x2="1051.4" y2="938.9" stroke="#111" stroke-width="5.5"/>
<line x1="845.5" y1="787.8" x2="849.3" y2="787.8" stroke="#111" stroke-width="2"/>
<line x1="845.5" y1="818.3" x2="849.3" y2="818.3" stroke="#111" stroke-width="2.4"/>
<line x1="845.5" y1="848.45" x2="849.3" y2="848.45" stroke="#111" stroke-width="2.4"/>
<line x1="845.5" y1="878.6" x2="849.3" y2="878.6" stroke="#111" stroke-width="2.4"/>
<line x1="845.5" y1="908.75" x2="849.3" y2="908.75" stroke="#111" stroke-width="2.4"/>
<line x1="845.5" y1="938.9" x2="849.3" y2="938.9" stroke="#111" stroke-width="2.4"/>
<line x1="849.3" y1="938.9" x2="849.3" y2="942.7" stroke="#111" stroke-width="2.4"/>
<line x1="916.5" y1="938.9" x2="916.5" y2="942.7" stroke="#111" stroke-width="2.4"/>
<line x1="983.7" y1="938.9" x2="983.7" y2="942.7" stroke="#111" stroke-width="2.4"/>
<line x1="1050.9" y1="938.9" x2="1050.9" y2="942.7" stroke="#111" stroke-width="2.4"/>
<path d="M849.3 832.7 L851.7 832.9 L854.0 833.2 L856.4 833.6 L858.7 834.0 L861.1 834.5 L863.4 835.2 L865.8 836.0 L868.2 836.9 L870.5 838.0 L872.9 839.3 L875.2 840.8 L877.6 842.6 L879.9 844.7 L882.3 847.1 L884.7 849.8 L887.0 852.9 L889.4 856.2 L891.7 859.9 L894.1 863.8 L896.4 867.9 L898.8 872.1 L901.1 876.4 L903.5 880.6 L905.9 884.7 L908.2 888.5 L910.6 892.1 L912.9 895.4 L915.3 898.4 L917.6 901.1 L920.0 903.4 L922.4 905.4 L924.7 907.1 L927.1 908.6 L929.4 909.9 L931.8 910.9 L934.1 911.8 L936.5 912.5 L938.9 913.1 L941.2 913.6 L943.6 914.1 L945.9 914.4 L948.3 914.7 L950.6 914.9 L953.0 915.1 L955.4 915.3 L957.7 915.4 L960.1 915.5 L962.4 915.6 L964.8 915.7 L967.1 915.7 L969.5 915.8 L971.9 915.8 L974.2 915.8 L976.6 915.9 L978.9 915.9 L981.3 915.9 L983.6 915.9 L986.0 915.9 L988.4 915.9 L990.7 916.0 L993.1 916.0 L995.4 916.0 L997.8 916.0 L1000.1 916.0 L1002.5 916.0 L1004.8 916.0 L1007.2 916.0 L1009.6 916.0 L1011.9 916.0 L1014.3 916.0" fill="none" stroke="#2CA362" stroke-width="5.8" stroke-linecap="round" stroke-linejoin="round"/>
<path d="M847.5 797.1 L851.1 797.1 L851.1 799.9 L853.1 800.7 L853.1 864.654 L851.1 865.454 L851.1 868.254 L847.5 868.254 L847.5 865.454 L845.5 864.654 L845.5 800.7 L847.5 799.9 Z" fill="#2CA362"/>
<path d="M881.1 820.613 L884.7 820.613 L884.7 823.413 L886.7 824.213 L886.7 871.283 L884.7 872.083 L884.7 874.883 L881.1 874.883 L881.1 872.083 L879.1 871.283 L879.1 824.213 L881.1 823.413 Z" fill="#2CA362"/>
<path d="M914.7 882.92 L918.3 882.92 L918.3 885.72 L920.3 886.52 L920.3 913.088 L918.3 913.888 L918.3 916.688 L914.7 916.688 L914.7 913.888 L912.7 913.088 L912.7 886.52 L914.7 885.72 Z" fill="#2CA362"/>
<path d="M948.3 893.77 L951.9 893.77 L951.9 896.57 L953.9 897.37 L953.9 932.38 L951.9 933.18 L951.9 935.98 L948.3 935.98 L948.3 933.18 L946.3 932.38 L946.3 897.37 L948.3 896.57 Z" fill="#2CA362"/>
<path d="M981.9 890.597 L985.5 890.597 L985.5 893.397 L987.5 894.197 L987.5 936.3 L985.5 937.1 L985.5 939.9 L981.9 939.9 L981.9 937.1 L979.9 936.3 L979.9 894.197 L981.9 893.397 Z" fill="#2CA362"/>
<path d="M1015.5 884.626 L1019.1 884.626 L1019.1 887.426 L1021.1 888.226 L1021.1 936.3 L1019.1 937.1 L1019.1 939.9 L1015.5 939.9 L1015.5 937.1 L1013.5 936.3 L1013.5 888.226 L1015.5 887.426 Z" fill="#2CA362"/>
<path d="M849.3 825.8 L851.7 825.9 L854.0 826.0 L856.4 826.1 L858.7 826.3 L861.1 826.5 L863.4 826.7 L865.8 827.0 L868.2 827.4 L870.5 827.9 L872.9 828.6 L875.2 829.3 L877.6 830.3 L879.9 831.5 L882.3 832.9 L884.7 834.6 L887.0 836.6 L889.4 839.0 L891.7 841.7 L894.1 844.8 L896.4 848.1 L898.8 851.7 L901.1 855.4 L903.5 859.1 L905.9 862.7 L908.2 866.2 L910.6 869.4 L912.9 872.3 L915.3 874.8 L917.6 877.0 L920.0 878.9 L922.4 880.5 L924.7 881.8 L927.1 882.8 L929.4 883.7 L931.8 884.4 L934.1 884.9 L936.5 885.4 L938.9 885.7 L941.2 886.0 L943.6 886.2 L945.9 886.4 L948.3 886.5 L950.6 886.6 L953.0 886.7 L955.4 886.8 L957.7 886.8 L960.1 886.9 L962.4 886.9 L964.8 886.9 L967.1 887.0 L969.5 887.0 L971.9 887.0 L974.2 887.0 L976.6 887.0 L978.9 887.0 L981.3 887.0 L983.6 887.0 L986.0 887.0 L988.4 887.0 L990.7 887.0 L993.1 887.0 L995.4 887.0 L997.8 887.0 L1000.1 887.0 L1002.5 887.0 L1004.8 887.0 L1007.2 887.0 L1009.6 887.0 L1011.9 887.0 L1014.3 887.0" fill="none" stroke="#E8463D" stroke-width="5.8" stroke-linecap="round" stroke-linejoin="round"/>
<path d="M847.5 819.786 L851.1 819.786 L851.1 821.398 L853.1 822.198 L853.1 829.434 L851.1 830.234 L851.1 831.846 L847.5 831.846 L847.5 830.234 L845.5 829.434 L845.5 822.198 L847.5 821.398 Z" fill="#E8463D"/>
<circle cx="882.9" cy="833.3" r="1.8" fill="#E8463D"/>
<circle cx="1017.3" cy="887.0" r="1.8" fill="#E8463D"/>
</g>
<g>
<line x1="854.8" y1="1089.35" x2="1050.9" y2="1089.35" stroke="#3C80D0" stroke-width="2" stroke-dasharray="3.7 3.4"/>
<line x1="853.9" y1="1121.1" x2="1050.9" y2="1121.1" stroke="#111" stroke-width="2.3" stroke-dasharray="0.2 3.82" stroke-linecap="round"/>
<line x1="849.3" y1="1027.8" x2="849.3" y2="1182.25" stroke="#111" stroke-width="5.5"/>
<line x1="846.55" y1="1179.5" x2="1051.4" y2="1179.5" stroke="#111" stroke-width="5.5"/>
<line x1="845.5" y1="1028.8" x2="849.3" y2="1028.8" stroke="#111" stroke-width="2"/>
<line x1="845.5" y1="1059.3" x2="849.3" y2="1059.3" stroke="#111" stroke-width="2.4"/>
<line x1="845.5" y1="1089.35" x2="849.3" y2="1089.35" stroke="#111" stroke-width="2.4"/>
<line x1="845.5" y1="1119.4" x2="849.3" y2="1119.4" stroke="#111" stroke-width="2.4"/>
<line x1="845.5" y1="1149.45" x2="849.3" y2="1149.45" stroke="#111" stroke-width="2.4"/>
<line x1="845.5" y1="1179.5" x2="849.3" y2="1179.5" stroke="#111" stroke-width="2.4"/>
<line x1="849.3" y1="1179.5" x2="849.3" y2="1183.3" stroke="#111" stroke-width="2.4"/>
<line x1="916.5" y1="1179.5" x2="916.5" y2="1183.3" stroke="#111" stroke-width="2.4"/>
<line x1="983.7" y1="1179.5" x2="983.7" y2="1183.3" stroke="#111" stroke-width="2.4"/>
<line x1="1050.9" y1="1179.5" x2="1050.9" y2="1183.3" stroke="#111" stroke-width="2.4"/>
<path d="M849.3 1061.1 L851.7 1061.1 L854.0 1061.1 L856.4 1061.1 L858.7 1061.1 L861.1 1061.1 L863.4 1061.1 L865.8 1061.1 L868.2 1061.1 L870.5 1061.1 L872.9 1061.1 L875.2 1061.1 L877.6 1061.1 L879.9 1061.1 L882.3 1061.1 L884.7 1061.1 L887.0 1061.1 L889.4 1061.1 L891.7 1061.1 L894.1 1061.1 L896.4 1061.2 L898.8 1061.3 L901.1 1061.4 L903.5 1061.9 L905.9 1062.8 L908.2 1064.8 L910.6 1069.0 L912.9 1076.9 L915.3 1089.9 L917.6 1106.3 L920.0 1121.7 L922.4 1132.6 L924.7 1138.8 L927.1 1141.9 L929.4 1143.4 L931.8 1144.1 L934.1 1144.4 L936.5 1144.5 L938.9 1144.6 L941.2 1144.6 L943.6 1144.6 L945.9 1144.6 L948.3 1144.6 L950.6 1144.6 L953.0 1144.6 L955.4 1144.6 L957.7 1144.6 L960.1 1144.6 L962.4 1144.6 L964.8 1144.6 L967.1 1144.6 L969.5 1144.6 L971.9 1144.6 L974.2 1144.6 L976.6 1144.6 L978.9 1144.6 L981.3 1144.6 L983.6 1144.6 L986.0 1144.6 L988.4 1144.6 L990.7 1144.6 L993.1 1144.6 L995.4 1144.6 L997.8 1144.6 L1000.1 1144.6 L1002.5 1144.6 L1004.8 1144.6 L1007.2 1144.6 L1009.6 1144.6 L1011.9 1144.6 L1014.3 1144.6" fill="none" stroke="#2CA362" stroke-width="5.8" stroke-linecap="round" stroke-linejoin="round"/>
<path d="M847.5 1053.89 L851.1 1053.89 L851.1 1055.98 L853.1 1056.78 L853.1 1065.43 L851.1 1066.23 L851.1 1068.32 L847.5 1068.32 L847.5 1066.23 L845.5 1065.43 L845.5 1056.78 L847.5 1055.98 Z" fill="#2CA362"/>
<path d="M881.1 1055.09 L884.7 1055.09 L884.7 1056.7 L886.7 1057.5 L886.7 1064.71 L884.7 1065.51 L884.7 1067.11 L881.1 1067.11 L881.1 1065.51 L879.1 1064.71 L879.1 1057.5 L881.1 1056.7 Z" fill="#2CA362"/>
<path d="M914.7 1086.35 L918.3 1086.35 L918.3 1089.14 L920.3 1089.94 L920.3 1100.78 L918.3 1101.58 L918.3 1104.38 L914.7 1104.38 L914.7 1101.58 L912.7 1100.78 L912.7 1089.94 L914.7 1089.14 Z" fill="#2CA362"/>
<path d="M948.3 1137.43 L951.9 1137.43 L951.9 1139.51 L953.9 1140.31 L953.9 1148.97 L951.9 1149.77 L951.9 1151.85 L948.3 1151.85 L948.3 1149.77 L946.3 1148.97 L946.3 1140.31 L948.3 1139.51 Z" fill="#2CA362"/>
<path d="M981.9 1137.43 L985.5 1137.43 L985.5 1139.51 L987.5 1140.31 L987.5 1148.97 L985.5 1149.77 L985.5 1151.85 L981.9 1151.85 L981.9 1149.77 L979.9 1148.97 L979.9 1140.31 L981.9 1139.51 Z" fill="#2CA362"/>
<path d="M1015.5 1141.64 L1019.1 1141.64 L1019.1 1142.04 L1021.1 1142.84 L1021.1 1146.45 L1019.1 1147.25 L1019.1 1147.65 L1015.5 1147.65 L1015.5 1147.25 L1013.5 1146.45 L1013.5 1142.84 L1015.5 1142.04 Z" fill="#2CA362"/>
<path d="M849.3 1062.0 L851.7 1062.3 L854.0 1062.7 L856.4 1063.1 L858.7 1063.5 L861.1 1064.0 L863.4 1064.6 L865.8 1065.2 L868.2 1065.9 L870.5 1066.7 L872.9 1067.5 L875.2 1068.5 L877.6 1069.5 L879.9 1070.6 L882.3 1071.7 L884.7 1073.0 L887.0 1074.4 L889.4 1075.9 L891.7 1077.5 L894.1 1079.1 L896.4 1080.9 L898.8 1082.7 L901.1 1084.6 L903.5 1086.6 L905.9 1088.6 L908.2 1090.7 L910.6 1092.8 L912.9 1094.9 L915.3 1097.0 L917.6 1099.0 L920.0 1101.0 L922.4 1103.0 L924.7 1104.9 L927.1 1106.8 L929.4 1108.5 L931.8 1110.2 L934.1 1111.8 L936.5 1113.3 L938.9 1114.6 L941.2 1115.9 L943.6 1117.1 L945.9 1118.2 L948.3 1119.2 L950.6 1120.2 L953.0 1121.0 L955.4 1121.8 L957.7 1122.5 L960.1 1123.1 L962.4 1123.6 L964.8 1124.2 L967.1 1124.6 L969.5 1125.0 L971.9 1125.4 L974.2 1125.7 L976.6 1126.0 L978.9 1126.3 L981.3 1126.5 L983.6 1126.7 L986.0 1126.9 L988.4 1127.1 L990.7 1127.2 L993.1 1127.4 L995.4 1127.5 L997.8 1127.6 L1000.1 1127.7 L1002.5 1127.8 L1004.8 1127.8 L1007.2 1127.9 L1009.6 1128.0 L1011.9 1128.0 L1014.3 1128.1" fill="none" stroke="#E8463D" stroke-width="5.8" stroke-linecap="round" stroke-linejoin="round"/>
<path d="M847.5 1055.97 L851.1 1055.97 L851.1 1057.57 L853.1 1058.37 L853.1 1065.58 L851.1 1066.38 L851.1 1067.99 L847.5 1067.99 L847.5 1066.38 L845.5 1065.58 L845.5 1058.37 L847.5 1057.57 Z" fill="#E8463D"/>
</g>
<text x="851.3" y="963.7" font-size="21.5" text-anchor="middle">-4</text>
<text x="920.4" y="963.7" font-size="21.5" text-anchor="middle">-3</text>
<text x="992.9" y="963.7" font-size="21.5" text-anchor="middle">-2</text>
<text x="1046.6" y="963.7" font-size="21.5" text-anchor="middle">-1</text>
<text x="851.3" y="1202.5" font-size="21.5" text-anchor="middle">-2</text>
<text x="919.5" y="1202.5" font-size="21.5" text-anchor="middle">-1</text>
<text x="988.6" y="1202.5" font-size="21.5" text-anchor="middle">0</text>
<text x="1058.3" y="1202.5" font-size="21.5" text-anchor="middle">1</text>
<text x="953.9" y="988.6" font-size="21.7" text-anchor="middle">Log conc (uM)</text>
<text x="953.9" y="1227.5" font-size="21.7" text-anchor="middle">Log conc (uM)</text>
<g>
<line x1="1092.8" y1="848.45" x2="1288.9" y2="848.45" stroke="#3C80D0" stroke-width="2" stroke-dasharray="3.7 3.4"/>
<line x1="1091.9" y1="878.6" x2="1288.9" y2="878.6" stroke="#111" stroke-width="2.3" stroke-dasharray="0.2 3.82" stroke-linecap="round"/>
<line x1="1087.3" y1="786.8" x2="1087.3" y2="941.65" stroke="#111" stroke-width="5.5"/>
<line x1="1084.55" y1="938.9" x2="1289.4" y2="938.9" stroke="#111" stroke-width="5.5"/>
<line x1="1083.5" y1="787.8" x2="1087.3" y2="787.8" stroke="#111" stroke-width="2"/>
<line x1="1083.5" y1="818.3" x2="1087.3" y2="818.3" stroke="#111" stroke-width="2.4"/>
<line x1="1083.5" y1="848.45" x2="1087.3" y2="848.45" stroke="#111" stroke-width="2.4"/>
<line x1="1083.5" y1="878.6" x2="1087.3" y2="878.6" stroke="#111" stroke-width="2.4"/>
<line x1="1083.5" y1="908.75" x2="1087.3" y2="908.75" stroke="#111" stroke-width="2.4"/>
<line x1="1083.5" y1="938.9" x2="1087.3" y2="938.9" stroke="#111" stroke-width="2.4"/>
<line x1="1087.3" y1="938.9" x2="1087.3" y2="942.7" stroke="#111" stroke-width="2.4"/>
<line x1="1154.5" y1="938.9" x2="1154.5" y2="942.7" stroke="#111" stroke-width="2.4"/>
<line x1="1221.7" y1="938.9" x2="1221.7" y2="942.7" stroke="#111" stroke-width="2.4"/>
<line x1="1288.9" y1="938.9" x2="1288.9" y2="942.7" stroke="#111" stroke-width="2.4"/>
<path d="M1087.3 816.5 L1089.7 816.5 L1092.0 816.5 L1094.4 816.5 L1096.7 816.5 L1099.1 816.6 L1101.4 816.6 L1103.8 816.7 L1106.2 816.9 L1108.5 817.3 L1110.9 818.1 L1113.2 819.5 L1115.6 822.1 L1117.9 826.5 L1120.3 833.5 L1122.7 843.6 L1125.0 855.8 L1127.4 867.9 L1129.7 877.8 L1132.1 884.7 L1134.4 888.9 L1136.8 891.4 L1139.1 892.7 L1141.5 893.5 L1143.9 893.8 L1146.2 894.1 L1148.6 894.2 L1150.9 894.2 L1153.3 894.2 L1155.6 894.3 L1158.0 894.3 L1160.4 894.3 L1162.7 894.3 L1165.1 894.3 L1167.4 894.3 L1169.8 894.3 L1172.1 894.3 L1174.5 894.3 L1176.9 894.3 L1179.2 894.3 L1181.6 894.3 L1183.9 894.3 L1186.3 894.3 L1188.6 894.3 L1191.0 894.3 L1193.4 894.3 L1195.7 894.3 L1198.1 894.3 L1200.4 894.3 L1202.8 894.3 L1205.1 894.3 L1207.5 894.3 L1209.9 894.3 L1212.2 894.3 L1214.6 894.3 L1216.9 894.3 L1219.3 894.3 L1221.6 894.3 L1224.0 894.3 L1226.4 894.3 L1228.7 894.3 L1231.1 894.3 L1233.4 894.3 L1235.8 894.3 L1238.1 894.3 L1240.5 894.3 L1242.8 894.3 L1245.2 894.3 L1247.6 894.3 L1249.9 894.3 L1252.3 894.3" fill="none" stroke="#2CA362" stroke-width="5.8" stroke-linecap="round" stroke-linejoin="round"/>
<path d="M1085.5 807.449 L1089.1 807.449 L1089.1 810.249 L1091.1 811.049 L1091.1 821.939 L1089.1 822.739 L1089.1 825.539 L1085.5 825.539 L1085.5 822.739 L1083.5 821.939 L1083.5 811.049 L1085.5 810.249 Z" fill="#2CA362"/>
<path d="M1119.1 823.781 L1122.7 823.781 L1122.7 826.581 L1124.7 827.381 L1124.7 844.301 L1122.7 845.101 L1122.7 847.901 L1119.1 847.901 L1119.1 845.101 L1117.1 844.301 L1117.1 827.381 L1119.1 826.581 Z" fill="#2CA362"/>
<path d="M1152.7 883.401 L1156.3 883.401 L1156.3 886.201 L1158.3 887.001 L1158.3 901.509 L1156.3 902.309 L1156.3 905.109 L1152.7 905.109 L1152.7 902.309 L1150.7 901.509 L1150.7 887.001 L1152.7 886.201 Z" fill="#2CA362"/>
<path d="M1186.3 885.233 L1189.9 885.233 L1189.9 888.033 L1191.9 888.833 L1191.9 899.723 L1189.9 900.523 L1189.9 903.323 L1186.3 903.323 L1186.3 900.523 L1184.3 899.723 L1184.3 888.833 L1186.3 888.033 Z" fill="#2CA362"/>
<path d="M1219.9 891.263 L1223.5 891.263 L1223.5 891.669 L1225.5 892.469 L1225.5 896.087 L1223.5 896.887 L1223.5 897.293 L1219.9 897.293 L1219.9 896.887 L1217.9 896.087 L1217.9 892.469 L1219.9 891.669 Z" fill="#2CA362"/>
<path d="M1253.5 887.042 L1257.1 887.042 L1257.1 889.136 L1259.1 889.936 L1259.1 898.62 L1257.1 899.42 L1257.1 901.514 L1253.5 901.514 L1253.5 899.42 L1251.5 898.62 L1251.5 889.936 L1253.5 889.136 Z" fill="#2CA362"/>
<path d="M1087.3 822.8 L1089.7 823.2 L1092.0 823.5 L1094.4 824.0 L1096.7 824.6 L1099.1 825.3 L1101.4 826.1 L1103.8 827.1 L1106.2 828.3 L1108.5 829.6 L1110.9 831.2 L1113.2 833.0 L1115.6 835.1 L1117.9 837.4 L1120.3 839.9 L1122.7 842.7 L1125.0 845.7 L1127.4 848.9 L1129.7 852.1 L1132.1 855.4 L1134.4 858.7 L1136.8 861.8 L1139.1 864.8 L1141.5 867.6 L1143.9 870.2 L1146.2 872.6 L1148.6 874.6 L1150.9 876.5 L1153.3 878.0 L1155.6 879.4 L1158.0 880.6 L1160.4 881.6 L1162.7 882.4 L1165.1 883.1 L1167.4 883.7 L1169.8 884.2 L1172.1 884.6 L1174.5 884.9 L1176.9 885.2 L1179.2 885.4 L1181.6 885.6 L1183.9 885.7 L1186.3 885.9 L1188.6 886.0 L1191.0 886.1 L1193.4 886.1 L1195.7 886.2 L1198.1 886.2 L1200.4 886.3 L1202.8 886.3 L1205.1 886.3 L1207.5 886.3 L1209.9 886.4 L1212.2 886.4 L1214.6 886.4 L1216.9 886.4 L1219.3 886.4 L1221.6 886.4 L1224.0 886.4 L1226.4 886.4 L1228.7 886.4 L1231.1 886.4 L1233.4 886.4 L1235.8 886.4 L1238.1 886.4 L1240.5 886.4 L1242.8 886.4 L1245.2 886.4 L1247.6 886.4 L1249.9 886.4 L1252.3 886.4" fill="none" stroke="#E8463D" stroke-width="5.8" stroke-linecap="round" stroke-linejoin="round"/>
<path d="M1085.5 816.794 L1089.1 816.794 L1089.1 818.406 L1091.1 819.206 L1091.1 826.442 L1089.1 827.242 L1089.1 828.854 L1085.5 828.854 L1085.5 827.242 L1083.5 826.442 L1083.5 819.206 L1085.5 818.406 Z" fill="#E8463D"/>
<path d="M1119.1 834.602 L1122.7 834.602 L1122.7 836.214 L1124.7 837.014 L1124.7 844.25 L1122.7 845.05 L1122.7 846.662 L1119.1 846.662 L1119.1 845.05 L1117.1 844.25 L1117.1 837.014 L1119.1 836.214 Z" fill="#E8463D"/>
<circle cx="1255.3" cy="886.4" r="1.8" fill="#E8463D"/>
</g>
<g>
<line x1="1092.8" y1="1089.35" x2="1288.9" y2="1089.35" stroke="#3C80D0" stroke-width="2" stroke-dasharray="3.7 3.4"/>
<line x1="1091.9" y1="1119.4" x2="1288.9" y2="1119.4" stroke="#111" stroke-width="2.3" stroke-dasharray="0.2 3.82" stroke-linecap="round"/>
<line x1="1087.3" y1="1027.8" x2="1087.3" y2="1182.25" stroke="#111" stroke-width="5.5"/>
<line x1="1084.55" y1="1179.5" x2="1289.4" y2="1179.5" stroke="#111" stroke-width="5.5"/>
<line x1="1083.5" y1="1028.8" x2="1087.3" y2="1028.8" stroke="#111" stroke-width="2"/>
<line x1="1083.5" y1="1059.3" x2="1087.3" y2="1059.3" stroke="#111" stroke-width="2.4"/>
<line x1="1083.5" y1="1089.35" x2="1087.3" y2="1089.35" stroke="#111" stroke-width="2.4"/>
<line x1="1083.5" y1="1119.4" x2="1087.3" y2="1119.4" stroke="#111" stroke-width="2.4"/>
<line x1="1083.5" y1="1149.45" x2="1087.3" y2="1149.45" stroke="#111" stroke-width="2.4"/>
<line x1="1083.5" y1="1179.5" x2="1087.3" y2="1179.5" stroke="#111" stroke-width="2.4"/>
<line x1="1087.3" y1="1179.5" x2="1087.3" y2="1183.3" stroke="#111" stroke-width="2.4"/>
<line x1="1154.5" y1="1179.5" x2="1154.5" y2="1183.3" stroke="#111" stroke-width="2.4"/>
<line x1="1221.7" y1="1179.5" x2="1221.7" y2="1183.3" stroke="#111" stroke-width="2.4"/>
<line x1="1288.9" y1="1179.5" x2="1288.9" y2="1183.3" stroke="#111" stroke-width="2.4"/>
<path d="M1087.3 1064.5 L1089.7 1064.6 L1092.0 1064.7 L1094.4 1064.8 L1096.7 1065.0 L1099.1 1065.1 L1101.4 1065.3 L1103.8 1065.5 L1106.2 1065.8 L1108.5 1066.1 L1110.9 1066.5 L1113.2 1067.0 L1115.6 1067.5 L1117.9 1068.1 L1120.3 1068.9 L1122.7 1069.7 L1125.0 1070.7 L1127.4 1071.8 L1129.7 1073.1 L1132.1 1074.6 L1134.4 1076.3 L1136.8 1078.1 L1139.1 1080.2 L1141.5 1082.5 L1143.9 1085.0 L1146.2 1087.6 L1148.6 1090.4 L1150.9 1093.3 L1153.3 1096.2 L1155.6 1099.2 L1158.0 1102.2 L1160.4 1105.1 L1162.7 1107.9 L1165.1 1110.5 L1167.4 1113.0 L1169.8 1115.3 L1172.1 1117.3 L1174.5 1119.2 L1176.9 1120.9 L1179.2 1122.4 L1181.6 1123.7 L1183.9 1124.8 L1186.3 1125.8 L1188.6 1126.7 L1191.0 1127.4 L1193.4 1128.0 L1195.7 1128.5 L1198.1 1129.0 L1200.4 1129.4 L1202.8 1129.7 L1205.1 1130.0 L1207.5 1130.2 L1209.9 1130.4 L1212.2 1130.6 L1214.6 1130.7 L1216.9 1130.8 L1219.3 1130.9 L1221.6 1131.0 L1224.0 1131.1 L1226.4 1131.1 L1228.7 1131.2 L1231.1 1131.2 L1233.4 1131.2 L1235.8 1131.3 L1238.1 1131.3 L1240.5 1131.3 L1242.8 1131.3 L1245.2 1131.3 L1247.6 1131.4 L1249.9 1131.4 L1252.3 1131.4" fill="none" stroke="#2CA362" stroke-width="5.8" stroke-linecap="round" stroke-linejoin="round"/>
<path d="M1085.5 1053.71 L1089.1 1053.71 L1089.1 1056.51 L1091.1 1057.31 L1091.1 1071.75 L1089.1 1072.55 L1089.1 1075.35 L1085.5 1075.35 L1085.5 1072.55 L1083.5 1071.75 L1083.5 1057.31 L1085.5 1056.51 Z" fill="#2CA362"/>
<path d="M1119.1 1057.04 L1122.7 1057.04 L1122.7 1059.84 L1124.7 1060.64 L1124.7 1077.48 L1122.7 1078.28 L1122.7 1081.08 L1119.1 1081.08 L1119.1 1078.28 L1117.1 1077.48 L1117.1 1060.64 L1119.1 1059.84 Z" fill="#2CA362"/>
<path d="M1186.3 1117.45 L1189.9 1117.45 L1189.9 1120.25 L1191.9 1121.05 L1191.9 1131.88 L1189.9 1132.68 L1189.9 1135.48 L1186.3 1135.48 L1186.3 1132.68 L1184.3 1131.88 L1184.3 1121.05 L1186.3 1120.25 Z" fill="#2CA362"/>
<path d="M1219.9 1118.98 L1223.5 1118.98 L1223.5 1121.78 L1225.5 1122.58 L1225.5 1139.42 L1223.5 1140.22 L1223.5 1143.02 L1219.9 1143.02 L1219.9 1140.22 L1217.9 1139.42 L1217.9 1122.58 L1219.9 1121.78 Z" fill="#2CA362"/>
<path d="M1253.5 1120.57 L1257.1 1120.57 L1257.1 1123.37 L1259.1 1124.17 L1259.1 1138.6 L1257.1 1139.4 L1257.1 1142.2 L1253.5 1142.2 L1253.5 1139.4 L1251.5 1138.6 L1251.5 1124.17 L1253.5 1123.37 Z" fill="#2CA362"/>
<path d="M1087.3 1062.7 L1089.7 1062.8 L1092.0 1062.9 L1094.4 1063.0 L1096.7 1063.1 L1099.1 1063.2 L1101.4 1063.4 L1103.8 1063.6 L1106.2 1063.9 L1108.5 1064.2 L1110.9 1064.5 L1113.2 1065.0 L1115.6 1065.5 L1117.9 1066.0 L1120.3 1066.7 L1122.7 1067.5 L1125.0 1068.4 L1127.4 1069.5 L1129.7 1070.7 L1132.1 1072.1 L1134.4 1073.7 L1136.8 1075.4 L1139.1 1077.4 L1141.5 1079.5 L1143.9 1081.9 L1146.2 1084.4 L1148.6 1087.1 L1150.9 1089.9 L1153.3 1092.7 L1155.6 1095.6 L1158.0 1098.5 L1160.4 1101.4 L1162.7 1104.1 L1165.1 1106.7 L1167.4 1109.2 L1169.8 1111.5 L1172.1 1113.6 L1174.5 1115.4 L1176.9 1117.1 L1179.2 1118.6 L1181.6 1119.9 L1183.9 1121.1 L1186.3 1122.1 L1188.6 1122.9 L1191.0 1123.7 L1193.4 1124.3 L1195.7 1124.9 L1198.1 1125.3 L1200.4 1125.7 L1202.8 1126.1 L1205.1 1126.3 L1207.5 1126.6 L1209.9 1126.8 L1212.2 1126.9 L1214.6 1127.1 L1216.9 1127.2 L1219.3 1127.3 L1221.6 1127.4 L1224.0 1127.5 L1226.4 1127.5 L1228.7 1127.6 L1231.1 1127.6 L1233.4 1127.6 L1235.8 1127.7 L1238.1 1127.7 L1240.5 1127.7 L1242.8 1127.7 L1245.2 1127.7 L1247.6 1127.8 L1249.9 1127.8 L1252.3 1127.8" fill="none" stroke="#E8463D" stroke-width="5.8" stroke-linecap="round" stroke-linejoin="round"/>
<path d="M1085.5 1055.48 L1089.1 1055.48 L1089.1 1057.57 L1091.1 1058.37 L1091.1 1067.02 L1089.1 1067.82 L1089.1 1069.91 L1085.5 1069.91 L1085.5 1067.82 L1083.5 1067.02 L1083.5 1058.37 L1085.5 1057.57 Z" fill="#E8463D"/>
<path d="M1119.1 1060.89 L1122.7 1060.89 L1122.7 1062.5 L1124.7 1063.3 L1124.7 1070.51 L1122.7 1071.31 L1122.7 1072.91 L1119.1 1072.91 L1119.1 1071.31 L1117.1 1070.51 L1117.1 1063.3 L1119.1 1062.5 Z" fill="#E8463D"/>
<circle cx="1188.1" cy="1122.8" r="1.8" fill="#E8463D"/>
<circle cx="1221.7" cy="1127.4" r="1.8" fill="#E8463D"/>
<circle cx="1255.3" cy="1127.8" r="1.8" fill="#E8463D"/>
</g>
<text x="1082.9" y="963.7" font-size="21.5" text-anchor="middle">-4</text>
<text x="1155.5" y="963.7" font-size="21.5" text-anchor="middle">-3</text>
<text x="1224.3" y="963.7" font-size="21.5" text-anchor="middle">-2</text>
<text x="1289.9" y="963.7" font-size="21.5" text-anchor="middle">-1</text>
<text x="1082.9" y="1202.5" font-size="21.5" text-anchor="middle">-2</text>
<text x="1154" y="1202.5" font-size="21.5" text-anchor="middle">-1</text>
<text x="1221.3" y="1202.5" font-size="21.5" text-anchor="middle">0</text>
<text x="1289.9" y="1202.5" font-size="21.5" text-anchor="middle">1</text>
<text x="1196.7" y="991" font-size="21.7" text-anchor="middle">Log conc (uM)</text>
<text x="1192.6" y="1227.5" font-size="21.7" text-anchor="middle">Log conc (uM)</text>
<g>
<line x1="1329.3" y1="848.45" x2="1525.4" y2="848.45" stroke="#3C80D0" stroke-width="2" stroke-dasharray="3.7 3.4"/>
<line x1="1328.4" y1="878.6" x2="1525.4" y2="878.6" stroke="#111" stroke-width="2.3" stroke-dasharray="0.2 3.82" stroke-linecap="round"/>
<line x1="1323.8" y1="786.8" x2="1323.8" y2="941.65" stroke="#111" stroke-width="5.5"/>
<line x1="1321.05" y1="938.9" x2="1525.9" y2="938.9" stroke="#111" stroke-width="5.5"/>
<line x1="1320" y1="787.8" x2="1323.8" y2="787.8" stroke="#111" stroke-width="2"/>
<line x1="1320" y1="818.3" x2="1323.8" y2="818.3" stroke="#111" stroke-width="2.4"/>
<line x1="1320" y1="848.45" x2="1323.8" y2="848.45" stroke="#111" stroke-width="2.4"/>
<line x1="1320" y1="878.6" x2="1323.8" y2="878.6" stroke="#111" stroke-width="2.4"/>
<line x1="1320" y1="908.75" x2="1323.8" y2="908.75" stroke="#111" stroke-width="2.4"/>
<line x1="1320" y1="938.9" x2="1323.8" y2="938.9" stroke="#111" stroke-width="2.4"/>
<line x1="1323.8" y1="938.9" x2="1323.8" y2="942.7" stroke="#111" stroke-width="2.4"/>
<line x1="1391" y1="938.9" x2="1391" y2="942.7" stroke="#111" stroke-width="2.4"/>
<line x1="1458.2" y1="938.9" x2="1458.2" y2="942.7" stroke="#111" stroke-width="2.4"/>
<line x1="1525.4" y1="938.9" x2="1525.4" y2="942.7" stroke="#111" stroke-width="2.4"/>
<path d="M1323.8 812.3 L1326.2 812.3 L1328.5 812.4 L1330.9 812.4 L1333.2 812.4 L1335.6 812.4 L1337.9 812.5 L1340.3 812.5 L1342.7 812.6 L1345.0 812.6 L1347.4 812.7 L1349.7 812.8 L1352.1 812.9 L1354.4 813.0 L1356.8 813.2 L1359.2 813.4 L1361.5 813.7 L1363.9 814.0 L1366.2 814.4 L1368.6 814.8 L1370.9 815.3 L1373.3 816.0 L1375.6 816.8 L1378.0 817.7 L1380.4 818.8 L1382.7 820.1 L1385.1 821.6 L1387.4 823.3 L1389.8 825.3 L1392.1 827.6 L1394.5 830.1 L1396.9 832.9 L1399.2 835.9 L1401.6 839.1 L1403.9 842.4 L1406.3 845.8 L1408.6 849.2 L1411.0 852.5 L1413.4 855.7 L1415.7 858.8 L1418.1 861.6 L1420.4 864.1 L1422.8 866.4 L1425.1 868.5 L1427.5 870.2 L1429.9 871.8 L1432.2 873.1 L1434.6 874.2 L1436.9 875.2 L1439.3 876.0 L1441.6 876.6 L1444.0 877.2 L1446.4 877.7 L1448.7 878.0 L1451.1 878.4 L1453.4 878.6 L1455.8 878.8 L1458.1 879.0 L1460.5 879.2 L1462.9 879.3 L1465.2 879.4 L1467.6 879.4 L1469.9 879.5 L1472.3 879.6 L1474.6 879.6 L1477.0 879.6 L1479.3 879.7 L1481.7 879.7 L1484.1 879.7 L1486.4 879.7 L1488.8 879.7" fill="none" stroke="#2CA362" stroke-width="5.8" stroke-linecap="round" stroke-linejoin="round"/>
<path d="M1322 809.312 L1325.6 809.312 L1325.6 809.718 L1327.6 810.518 L1327.6 814.136 L1325.6 814.936 L1325.6 815.342 L1322 815.342 L1322 814.936 L1320 814.136 L1320 810.518 L1322 809.718 Z" fill="#2CA362"/>
<path d="M1355.6 806.03 L1359.2 806.03 L1359.2 808.124 L1361.2 808.924 L1361.2 817.607 L1359.2 818.407 L1359.2 820.502 L1355.6 820.502 L1355.6 818.407 L1353.6 817.607 L1353.6 808.924 L1355.6 808.124 Z" fill="#2CA362"/>
<path d="M1389.2 817.418 L1392.8 817.418 L1392.8 820.218 L1394.8 821.018 L1394.8 831.908 L1392.8 832.708 L1392.8 835.508 L1389.2 835.508 L1389.2 832.708 L1387.2 831.908 L1387.2 821.018 L1389.2 820.218 Z" fill="#2CA362"/>
<path d="M1490 868.907 L1493.6 868.907 L1493.6 871.707 L1495.6 872.507 L1495.6 887.015 L1493.6 887.815 L1493.6 890.615 L1490 890.615 L1490 887.815 L1488 887.015 L1488 872.507 L1490 871.707 Z" fill="#2CA362"/>
<path d="M1323.8 819.5 L1326.2 819.5 L1328.5 819.5 L1330.9 819.5 L1333.2 819.5 L1335.6 819.5 L1337.9 819.5 L1340.3 819.5 L1342.7 819.5 L1345.0 819.5 L1347.4 819.5 L1349.7 819.5 L1352.1 819.5 L1354.4 819.5 L1356.8 819.5 L1359.2 819.5 L1361.5 819.5 L1363.9 819.5 L1366.2 819.5 L1368.6 819.5 L1370.9 819.6 L1373.3 819.7 L1375.6 819.9 L1378.0 820.4 L1380.4 821.4 L1382.7 823.6 L1385.1 828.1 L1387.4 835.8 L1389.8 846.9 L1392.1 858.8 L1394.5 868.2 L1396.9 874.0 L1399.2 877.1 L1401.6 878.6 L1403.9 879.2 L1406.3 879.6 L1408.6 879.7 L1411.0 879.8 L1413.4 879.8 L1415.7 879.8 L1418.1 879.8 L1420.4 879.8 L1422.8 879.8 L1425.1 879.8 L1427.5 879.8 L1429.9 879.8 L1432.2 879.8 L1434.6 879.8 L1436.9 879.8 L1439.3 879.8 L1441.6 879.8 L1444.0 879.8 L1446.4 879.8 L1448.7 879.8 L1451.1 879.8 L1453.4 879.8 L1455.8 879.8 L1458.1 879.8 L1460.5 879.8 L1462.9 879.8 L1465.2 879.8 L1467.6 879.8 L1469.9 879.8 L1472.3 879.8 L1474.6 879.8 L1477.0 879.8 L1479.3 879.8 L1481.7 879.8 L1484.1 879.8 L1486.4 879.8 L1488.8 879.8" fill="none" stroke="#E8463D" stroke-width="5.8" stroke-linecap="round" stroke-linejoin="round"/>
<path d="M1355.6 814.683 L1359.2 814.683 L1359.2 815.812 L1361.2 816.612 L1361.2 822.401 L1359.2 823.201 L1359.2 824.331 L1355.6 824.331 L1355.6 823.201 L1353.6 822.401 L1353.6 816.612 L1355.6 815.812 Z" fill="#E8463D"/>
<circle cx="1491.8" cy="879.8" r="1.8" fill="#E8463D"/>
</g>
<g>
<line x1="1329.3" y1="1089.35" x2="1525.4" y2="1089.35" stroke="#3C80D0" stroke-width="2" stroke-dasharray="3.7 3.4"/>
<line x1="1328.4" y1="1119.4" x2="1525.4" y2="1119.4" stroke="#111" stroke-width="2.3" stroke-dasharray="0.2 3.82" stroke-linecap="round"/>
<line x1="1323.8" y1="1027.8" x2="1323.8" y2="1182.25" stroke="#111" stroke-width="5.5"/>
<line x1="1321.05" y1="1179.5" x2="1525.9" y2="1179.5" stroke="#111" stroke-width="5.5"/>
<line x1="1320" y1="1028.8" x2="1323.8" y2="1028.8" stroke="#111" stroke-width="2"/>
<line x1="1320" y1="1059.3" x2="1323.8" y2="1059.3" stroke="#111" stroke-width="2.4"/>
<line x1="1320" y1="1089.35" x2="1323.8" y2="1089.35" stroke="#111" stroke-width="2.4"/>
<line x1="1320" y1="1119.4" x2="1323.8" y2="1119.4" stroke="#111" stroke-width="2.4"/>
<line x1="1320" y1="1149.45" x2="1323.8" y2="1149.45" stroke="#111" stroke-width="2.4"/>
<line x1="1320" y1="1179.5" x2="1323.8" y2="1179.5" stroke="#111" stroke-width="2.4"/>
<line x1="1323.8" y1="1179.5" x2="1323.8" y2="1183.3" stroke="#111" stroke-width="2.4"/>
<line x1="1391" y1="1179.5" x2="1391" y2="1183.3" stroke="#111" stroke-width="2.4"/>
<line x1="1458.2" y1="1179.5" x2="1458.2" y2="1183.3" stroke="#111" stroke-width="2.4"/>
<line x1="1525.4" y1="1179.5" x2="1525.4" y2="1183.3" stroke="#111" stroke-width="2.4"/>
<path d="M1323.8 1059.3 L1326.2 1059.3 L1328.5 1059.3 L1330.9 1059.3 L1333.2 1059.3 L1335.6 1059.4 L1337.9 1059.4 L1340.3 1059.4 L1342.7 1059.4 L1345.0 1059.4 L1347.4 1059.5 L1349.7 1059.5 L1352.1 1059.6 L1354.4 1059.7 L1356.8 1059.8 L1359.2 1059.9 L1361.5 1060.1 L1363.9 1060.3 L1366.2 1060.6 L1368.6 1061.0 L1370.9 1061.4 L1373.3 1061.9 L1375.6 1062.6 L1378.0 1063.5 L1380.4 1064.5 L1382.7 1065.8 L1385.1 1067.4 L1387.4 1069.2 L1389.8 1071.4 L1392.1 1074.0 L1394.5 1076.9 L1396.9 1080.1 L1399.2 1083.6 L1401.6 1087.3 L1403.9 1091.1 L1406.3 1094.9 L1408.6 1098.6 L1411.0 1102.1 L1413.4 1105.3 L1415.7 1108.1 L1418.1 1110.6 L1420.4 1112.8 L1422.8 1114.6 L1425.1 1116.1 L1427.5 1117.3 L1429.9 1118.4 L1432.2 1119.2 L1434.6 1119.9 L1436.9 1120.4 L1439.3 1120.8 L1441.6 1121.1 L1444.0 1121.4 L1446.4 1121.6 L1448.7 1121.8 L1451.1 1121.9 L1453.4 1122.0 L1455.8 1122.1 L1458.1 1122.2 L1460.5 1122.2 L1462.9 1122.3 L1465.2 1122.3 L1467.6 1122.3 L1469.9 1122.3 L1472.3 1122.3 L1474.6 1122.4 L1477.0 1122.4 L1479.3 1122.4 L1481.7 1122.4 L1484.1 1122.4 L1486.4 1122.4 L1488.8 1122.4" fill="none" stroke="#2CA362" stroke-width="5.8" stroke-linecap="round" stroke-linejoin="round"/>
<path d="M1322 1047.3 L1325.6 1047.3 L1325.6 1050.1 L1327.6 1050.9 L1327.6 1067.74 L1325.6 1068.54 L1325.6 1071.34 L1322 1071.34 L1322 1068.54 L1320 1067.74 L1320 1050.9 L1322 1050.1 Z" fill="#2CA362"/>
<path d="M1355.6 1045.41 L1359.2 1045.41 L1359.2 1048.21 L1361.2 1049.01 L1361.2 1070.66 L1359.2 1071.46 L1359.2 1074.26 L1355.6 1074.26 L1355.6 1071.46 L1353.6 1070.66 L1353.6 1049.01 L1355.6 1048.21 Z" fill="#2CA362"/>
<path d="M1389.2 1063.67 L1392.8 1063.67 L1392.8 1066.47 L1394.8 1067.27 L1394.8 1078.1 L1392.8 1078.9 L1392.8 1081.7 L1389.2 1081.7 L1389.2 1078.9 L1387.2 1078.1 L1387.2 1067.27 L1389.2 1066.47 Z" fill="#2CA362"/>
<path d="M1422.8 1106.76 L1426.4 1106.76 L1426.4 1109.56 L1428.4 1110.36 L1428.4 1121.19 L1426.4 1121.99 L1426.4 1124.79 L1422.8 1124.79 L1422.8 1121.99 L1420.8 1121.19 L1420.8 1110.36 L1422.8 1109.56 Z" fill="#2CA362"/>
<path d="M1456.4 1116.16 L1460 1116.16 L1460 1117.77 L1462 1118.57 L1462 1125.78 L1460 1126.58 L1460 1128.18 L1456.4 1128.18 L1456.4 1126.58 L1454.4 1125.78 L1454.4 1118.57 L1456.4 1117.77 Z" fill="#2CA362"/>
<path d="M1490 1115.19 L1493.6 1115.19 L1493.6 1117.27 L1495.6 1118.07 L1495.6 1126.72 L1493.6 1127.52 L1493.6 1129.61 L1490 1129.61 L1490 1127.52 L1488 1126.72 L1488 1118.07 L1490 1117.27 Z" fill="#2CA362"/>
<path d="M1323.8 1059.3 L1326.2 1059.3 L1328.5 1059.3 L1330.9 1059.3 L1333.2 1059.3 L1335.6 1059.3 L1337.9 1059.3 L1340.3 1059.3 L1342.7 1059.3 L1345.0 1059.3 L1347.4 1059.3 L1349.7 1059.3 L1352.1 1059.3 L1354.4 1059.3 L1356.8 1059.3 L1359.2 1059.3 L1361.5 1059.3 L1363.9 1059.3 L1366.2 1059.3 L1368.6 1059.3 L1370.9 1059.3 L1373.3 1059.3 L1375.6 1059.4 L1378.0 1059.5 L1380.4 1059.9 L1382.7 1060.9 L1385.1 1063.2 L1387.4 1068.7 L1389.8 1079.2 L1392.1 1093.9 L1394.5 1107.4 L1396.9 1115.7 L1399.2 1119.7 L1401.6 1121.3 L1403.9 1122.0 L1406.3 1122.3 L1408.6 1122.3 L1411.0 1122.4 L1413.4 1122.4 L1415.7 1122.4 L1418.1 1122.4 L1420.4 1122.4 L1422.8 1122.4 L1425.1 1122.4 L1427.5 1122.4 L1429.9 1122.4 L1432.2 1122.4 L1434.6 1122.4 L1436.9 1122.4 L1439.3 1122.4 L1441.6 1122.4 L1444.0 1122.4 L1446.4 1122.4 L1448.7 1122.4 L1451.1 1122.4 L1453.4 1122.4 L1455.8 1122.4 L1458.1 1122.4 L1460.5 1122.4 L1462.9 1122.4 L1465.2 1122.4 L1467.6 1122.4 L1469.9 1122.4 L1472.3 1122.4 L1474.6 1122.4 L1477.0 1122.4 L1479.3 1122.4 L1481.7 1122.4 L1484.1 1122.4 L1486.4 1122.4 L1488.8 1122.4" fill="none" stroke="#E8463D" stroke-width="5.8" stroke-linecap="round" stroke-linejoin="round"/>
<path d="M1322 1050.29 L1325.6 1050.29 L1325.6 1053.09 L1327.6 1053.89 L1327.6 1064.72 L1325.6 1065.52 L1325.6 1068.32 L1322 1068.32 L1322 1065.52 L1320 1064.72 L1320 1053.89 L1322 1053.09 Z" fill="#E8463D"/>
<path d="M1355.6 1048.48 L1359.2 1048.48 L1359.2 1051.28 L1361.2 1052.08 L1361.2 1066.52 L1359.2 1067.32 L1359.2 1070.12 L1355.6 1070.12 L1355.6 1067.32 L1353.6 1066.52 L1353.6 1052.08 L1355.6 1051.28 Z" fill="#E8463D"/>
<path d="M1389.2 1074.32 L1392.8 1074.32 L1392.8 1077.12 L1394.8 1077.92 L1394.8 1088.76 L1392.8 1089.56 L1392.8 1092.36 L1389.2 1092.36 L1389.2 1089.56 L1387.2 1088.76 L1387.2 1077.92 L1389.2 1077.12 Z" fill="#E8463D"/>
<circle cx="1424.6" cy="1122.4" r="1.8" fill="#E8463D"/>
<circle cx="1458.2" cy="1122.4" r="1.8" fill="#E8463D"/>
<circle cx="1491.8" cy="1122.4" r="1.8" fill="#E8463D"/>
</g>
<text x="1321.5" y="963.7" font-size="21.5" text-anchor="middle">-4</text>
<text x="1391.4" y="963.7" font-size="21.5" text-anchor="middle">-3</text>
<text x="1460.2" y="963.7" font-size="21.5" text-anchor="middle">-2</text>
<text x="1521.1" y="963.7" font-size="21.5" text-anchor="middle">-1</text>
<text x="1325.3" y="1202.5" font-size="21.5" text-anchor="middle">-2</text>
<text x="1394.9" y="1202.5" font-size="21.5" text-anchor="middle">-1</text>
<text x="1458.8" y="1202.5" font-size="21.5" text-anchor="middle">0</text>
<text x="1524.6" y="1202.5" font-size="21.5" text-anchor="middle">1</text>
<text x="1431.5" y="988.6" font-size="21.7" text-anchor="middle">Log conc (uM)</text>
<text x="1432" y="1227.5" font-size="21.7" text-anchor="middle">Log conc (uM)</text>
<g>
<line x1="1564.2" y1="848.45" x2="1760.3" y2="848.45" stroke="#3C80D0" stroke-width="2" stroke-dasharray="3.7 3.4"/>
<line x1="1563.3" y1="878.6" x2="1760.3" y2="878.6" stroke="#111" stroke-width="2.3" stroke-dasharray="0.2 3.82" stroke-linecap="round"/>
<line x1="1558.7" y1="786.8" x2="1558.7" y2="941.65" stroke="#111" stroke-width="5.5"/>
<line x1="1555.95" y1="938.9" x2="1760.8" y2="938.9" stroke="#111" stroke-width="5.5"/>
<line x1="1554.9" y1="787.8" x2="1558.7" y2="787.8" stroke="#111" stroke-width="2"/>
<line x1="1554.9" y1="818.3" x2="1558.7" y2="818.3" stroke="#111" stroke-width="2.4"/>
<line x1="1554.9" y1="848.45" x2="1558.7" y2="848.45" stroke="#111" stroke-width="2.4"/>
<line x1="1554.9" y1="878.6" x2="1558.7" y2="878.6" stroke="#111" stroke-width="2.4"/>
<line x1="1554.9" y1="908.75" x2="1558.7" y2="908.75" stroke="#111" stroke-width="2.4"/>
<line x1="1554.9" y1="938.9" x2="1558.7" y2="938.9" stroke="#111" stroke-width="2.4"/>
<line x1="1558.7" y1="938.9" x2="1558.7" y2="942.7" stroke="#111" stroke-width="2.4"/>
<line x1="1625.9" y1="938.9" x2="1625.9" y2="942.7" stroke="#111" stroke-width="2.4"/>
<line x1="1693.1" y1="938.9" x2="1693.1" y2="942.7" stroke="#111" stroke-width="2.4"/>
<line x1="1760.3" y1="938.9" x2="1760.3" y2="942.7" stroke="#111" stroke-width="2.4"/>
<path d="M1558.7 812.3 L1561.1 812.4 L1563.4 812.4 L1565.8 812.4 L1568.1 812.5 L1570.5 812.6 L1572.8 812.7 L1575.2 812.8 L1577.6 812.9 L1579.9 813.2 L1582.3 813.4 L1584.6 813.8 L1587.0 814.3 L1589.3 815.0 L1591.7 815.8 L1594.1 816.9 L1596.4 818.4 L1598.8 820.2 L1601.1 822.5 L1603.5 825.5 L1605.8 829.1 L1608.2 833.5 L1610.5 838.8 L1612.9 844.8 L1615.3 851.5 L1617.6 858.8 L1620.0 866.3 L1622.3 873.9 L1624.7 881.1 L1627.0 887.8 L1629.4 893.7 L1631.8 898.8 L1634.1 903.2 L1636.5 906.7 L1638.8 909.6 L1641.2 911.9 L1643.5 913.7 L1645.9 915.1 L1648.3 916.2 L1650.6 917.0 L1653.0 917.6 L1655.3 918.1 L1657.7 918.5 L1660.0 918.7 L1662.4 919.0 L1664.8 919.1 L1667.1 919.2 L1669.5 919.3 L1671.8 919.4 L1674.2 919.4 L1676.5 919.5 L1678.9 919.5 L1681.3 919.5 L1683.6 919.6 L1686.0 919.6 L1688.3 919.6 L1690.7 919.6 L1693.0 919.6 L1695.4 919.6 L1697.8 919.6 L1700.1 919.6 L1702.5 919.6 L1704.8 919.6 L1707.2 919.6 L1709.5 919.6 L1711.9 919.6 L1714.2 919.6 L1716.6 919.6 L1719.0 919.6 L1721.3 919.6 L1723.7 919.6" fill="none" stroke="#2CA362" stroke-width="5.8" stroke-linecap="round" stroke-linejoin="round"/>
<path d="M1556.9 803.295 L1560.5 803.295 L1560.5 806.095 L1562.5 806.895 L1562.5 817.785 L1560.5 818.585 L1560.5 821.385 L1556.9 821.385 L1556.9 818.585 L1554.9 817.785 L1554.9 806.895 L1556.9 806.095 Z" fill="#2CA362"/>
<path d="M1624.1 863.484 L1627.7 863.484 L1627.7 866.284 L1629.7 867.084 L1629.7 902.094 L1627.7 902.894 L1627.7 905.694 L1624.1 905.694 L1624.1 902.894 L1622.1 902.094 L1622.1 867.084 L1624.1 866.284 Z" fill="#2CA362"/>
<path d="M1657.7 909.643 L1661.3 909.643 L1661.3 912.443 L1663.3 913.243 L1663.3 924.133 L1661.3 924.933 L1661.3 927.733 L1657.7 927.733 L1657.7 924.933 L1655.7 924.133 L1655.7 913.243 L1657.7 912.443 Z" fill="#2CA362"/>
<path d="M1691.3 906.322 L1694.9 906.322 L1694.9 909.122 L1696.9 909.922 L1696.9 929.254 L1694.9 930.054 L1694.9 932.854 L1691.3 932.854 L1691.3 930.054 L1689.3 929.254 L1689.3 909.922 L1691.3 909.122 Z" fill="#2CA362"/>
<path d="M1724.9 912.368 L1728.5 912.368 L1728.5 914.462 L1730.5 915.262 L1730.5 923.945 L1728.5 924.745 L1728.5 926.84 L1724.9 926.84 L1724.9 924.745 L1722.9 923.945 L1722.9 915.262 L1724.9 914.462 Z" fill="#2CA362"/>
<path d="M1558.7 827.9 L1561.1 827.9 L1563.4 827.9 L1565.8 827.9 L1568.1 827.9 L1570.5 827.9 L1572.8 827.9 L1575.2 827.9 L1577.6 827.9 L1579.9 827.9 L1582.3 827.9 L1584.6 827.9 L1587.0 827.9 L1589.3 827.9 L1591.7 827.9 L1594.1 828.0 L1596.4 828.0 L1598.8 828.0 L1601.1 828.0 L1603.5 828.0 L1605.8 828.1 L1608.2 828.2 L1610.5 828.6 L1612.9 829.3 L1615.3 830.9 L1617.6 834.1 L1620.0 840.2 L1622.3 849.8 L1624.7 861.6 L1627.0 872.1 L1629.4 879.3 L1631.8 883.3 L1634.1 885.3 L1636.5 886.3 L1638.8 886.7 L1641.2 886.9 L1643.5 887.0 L1645.9 887.0 L1648.3 887.0 L1650.6 887.0 L1653.0 887.0 L1655.3 887.0 L1657.7 887.0 L1660.0 887.0 L1662.4 887.0 L1664.8 887.0 L1667.1 887.0 L1669.5 887.0 L1671.8 887.0 L1674.2 887.0 L1676.5 887.0 L1678.9 887.0 L1681.3 887.0 L1683.6 887.0 L1686.0 887.0 L1688.3 887.0 L1690.7 887.0 L1693.0 887.0 L1695.4 887.0 L1697.8 887.0 L1700.1 887.0 L1702.5 887.0 L1704.8 887.0 L1707.2 887.0 L1709.5 887.0 L1711.9 887.0 L1714.2 887.0 L1716.6 887.0 L1719.0 887.0 L1721.3 887.0 L1723.7 887.0" fill="none" stroke="#E8463D" stroke-width="5.8" stroke-linecap="round" stroke-linejoin="round"/>
<path d="M1590.5 818.904 L1594.1 818.904 L1594.1 821.704 L1596.1 822.504 L1596.1 833.394 L1594.1 834.194 L1594.1 836.994 L1590.5 836.994 L1590.5 834.194 L1588.5 833.394 L1588.5 822.504 L1590.5 821.704 Z" fill="#E8463D"/>
<circle cx="1625.9" cy="867.3" r="1.8" fill="#E8463D"/>
</g>
<g>
<line x1="1564.2" y1="1089.35" x2="1760.3" y2="1089.35" stroke="#3C80D0" stroke-width="2" stroke-dasharray="3.7 3.4"/>
<line x1="1563.3" y1="1119.4" x2="1760.3" y2="1119.4" stroke="#111" stroke-width="2.3" stroke-dasharray="0.2 3.82" stroke-linecap="round"/>
<line x1="1558.7" y1="1027.8" x2="1558.7" y2="1182.25" stroke="#111" stroke-width="5.5"/>
<line x1="1555.95" y1="1179.5" x2="1760.8" y2="1179.5" stroke="#111" stroke-width="5.5"/>
<line x1="1554.9" y1="1028.8" x2="1558.7" y2="1028.8" stroke="#111" stroke-width="2"/>
<line x1="1554.9" y1="1059.3" x2="1558.7" y2="1059.3" stroke="#111" stroke-width="2.4"/>
<line x1="1554.9" y1="1089.35" x2="1558.7" y2="1089.35" stroke="#111" stroke-width="2.4"/>
<line x1="1554.9" y1="1119.4" x2="1558.7" y2="1119.4" stroke="#111" stroke-width="2.4"/>
<line x1="1554.9" y1="1149.45" x2="1558.7" y2="1149.45" stroke="#111" stroke-width="2.4"/>
<line x1="1554.9" y1="1179.5" x2="1558.7" y2="1179.5" stroke="#111" stroke-width="2.4"/>
<line x1="1558.7" y1="1179.5" x2="1558.7" y2="1183.3" stroke="#111" stroke-width="2.4"/>
<line x1="1625.9" y1="1179.5" x2="1625.9" y2="1183.3" stroke="#111" stroke-width="2.4"/>
<line x1="1693.1" y1="1179.5" x2="1693.1" y2="1183.3" stroke="#111" stroke-width="2.4"/>
<line x1="1760.3" y1="1179.5" x2="1760.3" y2="1183.3" stroke="#111" stroke-width="2.4"/>
<path d="M1558.7 1061.1 L1561.1 1061.1 L1563.4 1061.1 L1565.8 1061.1 L1568.1 1061.2 L1570.5 1061.2 L1572.8 1061.2 L1575.2 1061.2 L1577.6 1061.2 L1579.9 1061.3 L1582.3 1061.3 L1584.6 1061.4 L1587.0 1061.4 L1589.3 1061.5 L1591.7 1061.6 L1594.1 1061.8 L1596.4 1062.0 L1598.8 1062.2 L1601.1 1062.5 L1603.5 1062.9 L1605.8 1063.4 L1608.2 1064.0 L1610.5 1064.7 L1612.9 1065.7 L1615.3 1066.8 L1617.6 1068.3 L1620.0 1070.1 L1622.3 1072.3 L1624.7 1075.0 L1627.0 1078.1 L1629.4 1081.9 L1631.8 1086.2 L1634.1 1091.0 L1636.5 1096.4 L1638.8 1102.2 L1641.2 1108.2 L1643.5 1114.4 L1645.9 1120.5 L1648.3 1126.4 L1650.6 1131.9 L1653.0 1136.9 L1655.3 1141.4 L1657.7 1145.2 L1660.0 1148.6 L1662.4 1151.4 L1664.8 1153.7 L1667.1 1155.6 L1669.5 1157.1 L1671.8 1158.4 L1674.2 1159.4 L1676.5 1160.2 L1678.9 1160.9 L1681.3 1161.4 L1683.6 1161.8 L1686.0 1162.1 L1688.3 1162.3 L1690.7 1162.5 L1693.0 1162.7 L1695.4 1162.8 L1697.8 1162.9 L1700.1 1163.0 L1702.5 1163.1 L1704.8 1163.1 L1707.2 1163.1 L1709.5 1163.2 L1711.9 1163.2 L1714.2 1163.2 L1716.6 1163.2 L1719.0 1163.2 L1721.3 1163.2 L1723.7 1163.2" fill="none" stroke="#2CA362" stroke-width="5.8" stroke-linecap="round" stroke-linejoin="round"/>
<path d="M1556.9 1050.3 L1560.5 1050.3 L1560.5 1053.1 L1562.5 1053.9 L1562.5 1068.34 L1560.5 1069.14 L1560.5 1071.94 L1556.9 1071.94 L1556.9 1069.14 L1554.9 1068.34 L1554.9 1053.9 L1556.9 1053.1 Z" fill="#2CA362"/>
<path d="M1590.5 1050.86 L1594.1 1050.86 L1594.1 1053.66 L1596.1 1054.46 L1596.1 1068.89 L1594.1 1069.69 L1594.1 1072.49 L1590.5 1072.49 L1590.5 1069.69 L1588.5 1068.89 L1588.5 1054.46 L1590.5 1053.66 Z" fill="#2CA362"/>
<path d="M1624.1 1065.71 L1627.7 1065.71 L1627.7 1068.51 L1629.7 1069.31 L1629.7 1083.75 L1627.7 1084.55 L1627.7 1087.35 L1624.1 1087.35 L1624.1 1084.55 L1622.1 1083.75 L1622.1 1069.31 L1624.1 1068.51 Z" fill="#2CA362"/>
<path d="M1657.7 1137.03 L1661.3 1137.03 L1661.3 1139.83 L1663.3 1140.63 L1663.3 1155.07 L1661.3 1155.87 L1661.3 1158.67 L1657.7 1158.67 L1657.7 1155.87 L1655.7 1155.07 L1655.7 1140.63 L1657.7 1139.83 Z" fill="#2CA362"/>
<path d="M1691.3 1151.88 L1694.9 1151.88 L1694.9 1154.68 L1696.9 1155.48 L1696.9 1169.92 L1694.9 1170.72 L1694.9 1173.52 L1691.3 1173.52 L1691.3 1170.72 L1689.3 1169.92 L1689.3 1155.48 L1691.3 1154.68 Z" fill="#2CA362"/>
<path d="M1724.9 1152.44 L1728.5 1152.44 L1728.5 1155.24 L1730.5 1156.04 L1730.5 1170.47 L1728.5 1171.27 L1728.5 1174.07 L1724.9 1174.07 L1724.9 1171.27 L1722.9 1170.47 L1722.9 1156.04 L1724.9 1155.24 Z" fill="#2CA362"/>
<path d="M1558.7 1072.6 L1561.1 1072.7 L1563.4 1072.7 L1565.8 1072.8 L1568.1 1072.8 L1570.5 1072.9 L1572.8 1072.9 L1575.2 1073.0 L1577.6 1073.1 L1579.9 1073.3 L1582.3 1073.4 L1584.6 1073.7 L1587.0 1073.9 L1589.3 1074.2 L1591.7 1074.6 L1594.1 1075.0 L1596.4 1075.5 L1598.8 1076.1 L1601.1 1076.9 L1603.5 1077.8 L1605.8 1078.8 L1608.2 1080.0 L1610.5 1081.4 L1612.9 1083.1 L1615.3 1084.9 L1617.6 1087.0 L1620.0 1089.2 L1622.3 1091.7 L1624.7 1094.3 L1627.0 1097.0 L1629.4 1099.8 L1631.8 1102.7 L1634.1 1105.4 L1636.5 1108.1 L1638.8 1110.6 L1641.2 1113.0 L1643.5 1115.1 L1645.9 1117.1 L1648.3 1118.8 L1650.6 1120.3 L1653.0 1121.6 L1655.3 1122.7 L1657.7 1123.7 L1660.0 1124.5 L1662.4 1125.2 L1664.8 1125.7 L1667.1 1126.2 L1669.5 1126.6 L1671.8 1126.9 L1674.2 1127.2 L1676.5 1127.4 L1678.9 1127.6 L1681.3 1127.7 L1683.6 1127.9 L1686.0 1128.0 L1688.3 1128.0 L1690.7 1128.1 L1693.0 1128.2 L1695.4 1128.2 L1697.8 1128.2 L1700.1 1128.3 L1702.5 1128.3 L1704.8 1128.3 L1707.2 1128.3 L1709.5 1128.4 L1711.9 1128.4 L1714.2 1128.4 L1716.6 1128.4 L1719.0 1128.4 L1721.3 1128.4 L1723.7 1128.4" fill="none" stroke="#E8463D" stroke-width="5.8" stroke-linecap="round" stroke-linejoin="round"/>
<path d="M1624.1 1089.68 L1627.7 1089.68 L1627.7 1091.28 L1629.7 1092.08 L1629.7 1099.3 L1627.7 1100.1 L1627.7 1101.7 L1624.1 1101.7 L1624.1 1100.1 L1622.1 1099.3 L1622.1 1092.08 L1624.1 1091.28 Z" fill="#E8463D"/>
<circle cx="1558.7" cy="1072.6" r="1.8" fill="#E8463D"/>
<circle cx="1592.3" cy="1074.7" r="1.8" fill="#E8463D"/>
</g>
<text x="1558.7" y="963.7" font-size="21.5" text-anchor="middle">-4</text>
<text x="1627.8" y="963.7" font-size="21.5" text-anchor="middle">-3</text>
<text x="1699.4" y="963.7" font-size="21.5" text-anchor="middle">-2</text>
<text x="1764.2" y="963.7" font-size="21.5" text-anchor="middle">-1</text>
<text x="1561.6" y="1202.5" font-size="21.5" text-anchor="middle">-2</text>
<text x="1631.2" y="1202.5" font-size="21.5" text-anchor="middle">-1</text>
<text x="1700" y="1202.5" font-size="21.5" text-anchor="middle">0</text>
<text x="1764.7" y="1202.5" font-size="21.5" text-anchor="middle">1</text>
<text x="1664.9" y="988.6" font-size="21.7" text-anchor="middle">Log conc (uM)</text>
<text x="1665" y="1227.5" font-size="21.7" text-anchor="middle">Log conc (uM)</text>
<g>
<line x1="1802.6" y1="848.45" x2="1998.7" y2="848.45" stroke="#3C80D0" stroke-width="2" stroke-dasharray="3.7 3.4"/>
<line x1="1801.7" y1="878.6" x2="1998.7" y2="878.6" stroke="#111" stroke-width="2.3" stroke-dasharray="0.2 3.82" stroke-linecap="round"/>
<line x1="1797.1" y1="786.8" x2="1797.1" y2="941.65" stroke="#111" stroke-width="5.5"/>
<line x1="1794.35" y1="938.9" x2="1999.2" y2="938.9" stroke="#111" stroke-width="5.5"/>
<line x1="1793.3" y1="787.8" x2="1797.1" y2="787.8" stroke="#111" stroke-width="2"/>
<line x1="1793.3" y1="818.3" x2="1797.1" y2="818.3" stroke="#111" stroke-width="2.4"/>
<line x1="1793.3" y1="848.45" x2="1797.1" y2="848.45" stroke="#111" stroke-width="2.4"/>
<line x1="1793.3" y1="878.6" x2="1797.1" y2="878.6" stroke="#111" stroke-width="2.4"/>
<line x1="1793.3" y1="908.75" x2="1797.1" y2="908.75" stroke="#111" stroke-width="2.4"/>
<line x1="1793.3" y1="938.9" x2="1797.1" y2="938.9" stroke="#111" stroke-width="2.4"/>
<line x1="1797.1" y1="938.9" x2="1797.1" y2="942.7" stroke="#111" stroke-width="2.4"/>
<line x1="1864.3" y1="938.9" x2="1864.3" y2="942.7" stroke="#111" stroke-width="2.4"/>
<line x1="1931.5" y1="938.9" x2="1931.5" y2="942.7" stroke="#111" stroke-width="2.4"/>
<line x1="1998.7" y1="938.9" x2="1998.7" y2="942.7" stroke="#111" stroke-width="2.4"/>
<path d="M1797.1 818.3 L1799.5 818.3 L1801.8 818.3 L1804.2 818.3 L1806.5 818.3 L1808.9 818.3 L1811.2 818.3 L1813.6 818.3 L1816.0 818.3 L1818.3 818.3 L1820.7 818.3 L1823.0 818.3 L1825.4 818.3 L1827.7 818.3 L1830.1 818.3 L1832.5 818.3 L1834.8 818.3 L1837.2 818.3 L1839.5 818.3 L1841.9 818.4 L1844.2 818.4 L1846.6 818.6 L1848.9 818.9 L1851.3 819.7 L1853.7 821.3 L1856.0 824.7 L1858.4 831.2 L1860.7 842.1 L1863.1 856.5 L1865.4 870.7 L1867.8 881.1 L1870.2 887.2 L1872.5 890.4 L1874.9 891.8 L1877.2 892.5 L1879.6 892.8 L1881.9 893.0 L1884.3 893.0 L1886.7 893.0 L1889.0 893.1 L1891.4 893.1 L1893.7 893.1 L1896.1 893.1 L1898.4 893.1 L1900.8 893.1 L1903.2 893.1 L1905.5 893.1 L1907.9 893.1 L1910.2 893.1 L1912.6 893.1 L1914.9 893.1 L1917.3 893.1 L1919.7 893.1 L1922.0 893.1 L1924.4 893.1 L1926.7 893.1 L1929.1 893.1 L1931.4 893.1 L1933.8 893.1 L1936.2 893.1 L1938.5 893.1 L1940.9 893.1 L1943.2 893.1 L1945.6 893.1 L1947.9 893.1 L1950.3 893.1 L1952.6 893.1 L1955.0 893.1 L1957.4 893.1 L1959.7 893.1 L1962.1 893.1" fill="none" stroke="#2CA362" stroke-width="5.8" stroke-linecap="round" stroke-linejoin="round"/>
<path d="M1795.3 809.255 L1798.9 809.255 L1798.9 812.055 L1800.9 812.855 L1800.9 823.745 L1798.9 824.545 L1798.9 827.345 L1795.3 827.345 L1795.3 824.545 L1793.3 823.745 L1793.3 812.855 L1795.3 812.055 Z" fill="#2CA362"/>
<path d="M1862.5 855.1 L1866.1 855.1 L1866.1 857.9 L1868.1 858.7 L1868.1 869.59 L1866.1 870.39 L1866.1 873.19 L1862.5 873.19 L1862.5 870.39 L1860.5 869.59 L1860.5 858.7 L1862.5 857.9 Z" fill="#2CA362"/>
<path d="M1896.1 876.188 L1899.7 876.188 L1899.7 878.988 L1901.7 879.788 L1901.7 906.356 L1899.7 907.156 L1899.7 909.956 L1896.1 909.956 L1896.1 907.156 L1894.1 906.356 L1894.1 879.788 L1896.1 878.988 Z" fill="#2CA362"/>
<path d="M1929.7 888.248 L1933.3 888.248 L1933.3 889.378 L1935.3 890.178 L1935.3 895.966 L1933.3 896.766 L1933.3 897.896 L1929.7 897.896 L1929.7 896.766 L1927.7 895.966 L1927.7 890.178 L1929.7 889.378 Z" fill="#2CA362"/>
<path d="M1963.3 881.012 L1966.9 881.012 L1966.9 883.812 L1968.9 884.612 L1968.9 901.532 L1966.9 902.332 L1966.9 905.132 L1963.3 905.132 L1963.3 902.332 L1961.3 901.532 L1961.3 884.612 L1963.3 883.812 Z" fill="#2CA362"/>
<path d="M1797.1 818.3 L1799.5 818.3 L1801.8 818.3 L1804.2 818.3 L1806.5 818.3 L1808.9 818.3 L1811.2 818.3 L1813.6 818.3 L1816.0 818.3 L1818.3 818.3 L1820.7 818.3 L1823.0 818.3 L1825.4 818.3 L1827.7 818.3 L1830.1 818.3 L1832.5 818.3 L1834.8 818.3 L1837.2 818.3 L1839.5 818.3 L1841.9 818.3 L1844.2 818.4 L1846.6 818.5 L1848.9 818.7 L1851.3 819.4 L1853.7 820.8 L1856.0 824.1 L1858.4 830.9 L1860.7 842.5 L1863.1 857.2 L1865.4 870.1 L1867.8 878.3 L1870.2 882.5 L1872.5 884.4 L1874.9 885.3 L1877.2 885.6 L1879.6 885.7 L1881.9 885.8 L1884.3 885.8 L1886.7 885.8 L1889.0 885.8 L1891.4 885.8 L1893.7 885.8 L1896.1 885.8 L1898.4 885.8 L1900.8 885.8 L1903.2 885.8 L1905.5 885.8 L1907.9 885.8 L1910.2 885.8 L1912.6 885.8 L1914.9 885.8 L1917.3 885.8 L1919.7 885.8 L1922.0 885.8 L1924.4 885.8 L1926.7 885.8 L1929.1 885.8 L1931.4 885.8 L1933.8 885.8 L1936.2 885.8 L1938.5 885.8 L1940.9 885.8 L1943.2 885.8 L1945.6 885.8 L1947.9 885.8 L1950.3 885.8 L1952.6 885.8 L1955.0 885.8 L1957.4 885.8 L1959.7 885.8 L1962.1 885.8" fill="none" stroke="#E8463D" stroke-width="5.8" stroke-linecap="round" stroke-linejoin="round"/>
<path d="M1795.3 809.255 L1798.9 809.255 L1798.9 812.055 L1800.9 812.855 L1800.9 823.745 L1798.9 824.545 L1798.9 827.345 L1795.3 827.345 L1795.3 824.545 L1793.3 823.745 L1793.3 812.855 L1795.3 812.055 Z" fill="#E8463D"/>
<path d="M1828.9 805.034 L1832.5 805.034 L1832.5 807.834 L1834.5 808.634 L1834.5 827.966 L1832.5 828.766 L1832.5 831.566 L1828.9 831.566 L1828.9 828.766 L1826.9 827.966 L1826.9 808.634 L1828.9 807.834 Z" fill="#E8463D"/>
<path d="M1862.5 857.078 L1866.1 857.078 L1866.1 859.172 L1868.1 859.972 L1868.1 868.655 L1866.1 869.455 L1866.1 871.55 L1862.5 871.55 L1862.5 869.455 L1860.5 868.655 L1860.5 859.972 L1862.5 859.172 Z" fill="#E8463D"/>
<circle cx="1897.9" cy="885.8" r="1.8" fill="#E8463D"/>
<circle cx="1931.5" cy="885.8" r="1.8" fill="#E8463D"/>
</g>
<g>
<line x1="1802.6" y1="1089.35" x2="1998.7" y2="1089.35" stroke="#3C80D0" stroke-width="2" stroke-dasharray="3.7 3.4"/>
<line x1="1801.7" y1="1119.4" x2="1998.7" y2="1119.4" stroke="#111" stroke-width="2.3" stroke-dasharray="0.2 3.82" stroke-linecap="round"/>
<line x1="1797.1" y1="1027.8" x2="1797.1" y2="1182.25" stroke="#111" stroke-width="5.5"/>
<line x1="1794.35" y1="1179.5" x2="1999.2" y2="1179.5" stroke="#111" stroke-width="5.5"/>
<line x1="1793.3" y1="1028.8" x2="1797.1" y2="1028.8" stroke="#111" stroke-width="2"/>
<line x1="1793.3" y1="1059.3" x2="1797.1" y2="1059.3" stroke="#111" stroke-width="2.4"/>
<line x1="1793.3" y1="1089.35" x2="1797.1" y2="1089.35" stroke="#111" stroke-width="2.4"/>
<line x1="1793.3" y1="1119.4" x2="1797.1" y2="1119.4" stroke="#111" stroke-width="2.4"/>
<line x1="1793.3" y1="1149.45" x2="1797.1" y2="1149.45" stroke="#111" stroke-width="2.4"/>
<line x1="1793.3" y1="1179.5" x2="1797.1" y2="1179.5" stroke="#111" stroke-width="2.4"/>
<line x1="1797.1" y1="1179.5" x2="1797.1" y2="1183.3" stroke="#111" stroke-width="2.4"/>
<line x1="1864.3" y1="1179.5" x2="1864.3" y2="1183.3" stroke="#111" stroke-width="2.4"/>
<line x1="1931.5" y1="1179.5" x2="1931.5" y2="1183.3" stroke="#111" stroke-width="2.4"/>
<line x1="1998.7" y1="1179.5" x2="1998.7" y2="1183.3" stroke="#111" stroke-width="2.4"/>
<path d="M1797.1 1065.9 L1799.5 1065.9 L1801.8 1065.9 L1804.2 1065.9 L1806.5 1065.9 L1808.9 1065.9 L1811.2 1065.9 L1813.6 1065.9 L1816.0 1065.9 L1818.3 1065.9 L1820.7 1065.9 L1823.0 1065.9 L1825.4 1065.9 L1827.7 1065.9 L1830.1 1065.9 L1832.5 1065.9 L1834.8 1065.9 L1837.2 1065.9 L1839.5 1066.0 L1841.9 1066.0 L1844.2 1066.1 L1846.6 1066.2 L1848.9 1066.4 L1851.3 1066.8 L1853.7 1067.5 L1856.0 1068.7 L1858.4 1070.7 L1860.7 1073.8 L1863.1 1078.7 L1865.4 1085.5 L1867.8 1094.0 L1870.2 1103.2 L1872.5 1111.7 L1874.9 1118.5 L1877.2 1123.4 L1879.6 1126.6 L1881.9 1128.6 L1884.3 1129.8 L1886.7 1130.5 L1889.0 1130.9 L1891.4 1131.1 L1893.7 1131.2 L1896.1 1131.3 L1898.4 1131.4 L1900.8 1131.4 L1903.2 1131.4 L1905.5 1131.4 L1907.9 1131.4 L1910.2 1131.4 L1912.6 1131.4 L1914.9 1131.4 L1917.3 1131.4 L1919.7 1131.4 L1922.0 1131.4 L1924.4 1131.4 L1926.7 1131.4 L1929.1 1131.4 L1931.4 1131.4 L1933.8 1131.4 L1936.2 1131.4 L1938.5 1131.4 L1940.9 1131.4 L1943.2 1131.4 L1945.6 1131.4 L1947.9 1131.4 L1950.3 1131.4 L1952.6 1131.4 L1955.0 1131.4 L1957.4 1131.4 L1959.7 1131.4 L1962.1 1131.4" fill="none" stroke="#2CA362" stroke-width="5.8" stroke-linecap="round" stroke-linejoin="round"/>
<path d="M1795.3 1055.09 L1798.9 1055.09 L1798.9 1057.89 L1800.9 1058.69 L1800.9 1073.13 L1798.9 1073.93 L1798.9 1076.73 L1795.3 1076.73 L1795.3 1073.93 L1793.3 1073.13 L1793.3 1058.69 L1795.3 1057.89 Z" fill="#2CA362"/>
<path d="M1828.9 1056.9 L1832.5 1056.9 L1832.5 1059.7 L1834.5 1060.5 L1834.5 1071.33 L1832.5 1072.13 L1832.5 1074.93 L1828.9 1074.93 L1828.9 1072.13 L1826.9 1071.33 L1826.9 1060.5 L1828.9 1059.7 Z" fill="#2CA362"/>
<path d="M1862.5 1072.91 L1866.1 1072.91 L1866.1 1075.71 L1868.1 1076.51 L1868.1 1087.34 L1866.1 1088.14 L1866.1 1090.94 L1862.5 1090.94 L1862.5 1088.14 L1860.5 1087.34 L1860.5 1076.51 L1862.5 1075.71 Z" fill="#2CA362"/>
<path d="M1896.1 1114.53 L1899.7 1114.53 L1899.7 1117.33 L1901.7 1118.13 L1901.7 1144.58 L1899.7 1145.38 L1899.7 1148.18 L1896.1 1148.18 L1896.1 1145.38 L1894.1 1144.58 L1894.1 1118.13 L1896.1 1117.33 Z" fill="#2CA362"/>
<path d="M1929.7 1115.19 L1933.3 1115.19 L1933.3 1117.99 L1935.3 1118.79 L1935.3 1144.05 L1933.3 1144.85 L1933.3 1147.65 L1929.7 1147.65 L1929.7 1144.85 L1927.7 1144.05 L1927.7 1118.79 L1929.7 1117.99 Z" fill="#2CA362"/>
<path d="M1963.3 1115.19 L1966.9 1115.19 L1966.9 1117.99 L1968.9 1118.79 L1968.9 1144.05 L1966.9 1144.85 L1966.9 1147.65 L1963.3 1147.65 L1963.3 1144.85 L1961.3 1144.05 L1961.3 1118.79 L1963.3 1117.99 Z" fill="#2CA362"/>
<path d="M1797.1 1065.9 L1799.5 1065.9 L1801.8 1065.9 L1804.2 1065.9 L1806.5 1065.9 L1808.9 1065.9 L1811.2 1065.9 L1813.6 1065.9 L1816.0 1065.9 L1818.3 1065.9 L1820.7 1066.0 L1823.0 1066.0 L1825.4 1066.0 L1827.7 1066.0 L1830.1 1066.1 L1832.5 1066.1 L1834.8 1066.2 L1837.2 1066.3 L1839.5 1066.5 L1841.9 1066.7 L1844.2 1067.0 L1846.6 1067.5 L1848.9 1068.0 L1851.3 1068.8 L1853.7 1069.9 L1856.0 1071.2 L1858.4 1073.0 L1860.7 1075.3 L1863.1 1078.2 L1865.4 1081.6 L1867.8 1085.6 L1870.2 1090.1 L1872.5 1094.9 L1874.9 1099.7 L1877.2 1104.4 L1879.6 1108.6 L1881.9 1112.3 L1884.3 1115.4 L1886.7 1118.0 L1889.0 1120.0 L1891.4 1121.5 L1893.7 1122.7 L1896.1 1123.6 L1898.4 1124.2 L1900.8 1124.7 L1903.2 1125.1 L1905.5 1125.3 L1907.9 1125.5 L1910.2 1125.6 L1912.6 1125.7 L1914.9 1125.8 L1917.3 1125.9 L1919.7 1125.9 L1922.0 1125.9 L1924.4 1126.0 L1926.7 1126.0 L1929.1 1126.0 L1931.4 1126.0 L1933.8 1126.0 L1936.2 1126.0 L1938.5 1126.0 L1940.9 1126.0 L1943.2 1126.0 L1945.6 1126.0 L1947.9 1126.0 L1950.3 1126.0 L1952.6 1126.0 L1955.0 1126.0 L1957.4 1126.0 L1959.7 1126.0 L1962.1 1126.0" fill="none" stroke="#E8463D" stroke-width="5.8" stroke-linecap="round" stroke-linejoin="round"/>
<path d="M1795.3 1059.9 L1798.9 1059.9 L1798.9 1061.51 L1800.9 1062.31 L1800.9 1069.52 L1798.9 1070.32 L1798.9 1071.92 L1795.3 1071.92 L1795.3 1070.32 L1793.3 1069.52 L1793.3 1062.31 L1795.3 1061.51 Z" fill="#E8463D"/>
<path d="M1828.9 1058.88 L1832.5 1058.88 L1832.5 1060.96 L1834.5 1061.76 L1834.5 1070.42 L1832.5 1071.22 L1832.5 1073.3 L1828.9 1073.3 L1828.9 1071.22 L1826.9 1070.42 L1826.9 1061.76 L1828.9 1060.96 Z" fill="#E8463D"/>
<path d="M1862.5 1069.03 L1866.1 1069.03 L1866.1 1071.83 L1868.1 1072.63 L1868.1 1087.07 L1866.1 1087.87 L1866.1 1090.67 L1862.5 1090.67 L1862.5 1087.87 L1860.5 1087.07 L1860.5 1072.63 L1862.5 1071.83 Z" fill="#E8463D"/>
<circle cx="1897.9" cy="1124.1" r="1.8" fill="#E8463D"/>
<circle cx="1931.5" cy="1126.0" r="1.8" fill="#E8463D"/>
<circle cx="1965.1" cy="1126.0" r="1.8" fill="#E8463D"/>
</g>
<text x="1794.2" y="963.7" font-size="21.5" text-anchor="middle">-4</text>
<text x="1863.8" y="963.7" font-size="21.5" text-anchor="middle">-3</text>
<text x="1932.9" y="963.7" font-size="21.5" text-anchor="middle">-2</text>
<text x="1999.7" y="963.7" font-size="21.5" text-anchor="middle">-1</text>
<text x="1794.2" y="1202.5" font-size="21.5" text-anchor="middle">-2</text>
<text x="1863.8" y="1202.5" font-size="21.5" text-anchor="middle">-1</text>
<text x="1932.3" y="1202.5" font-size="21.5" text-anchor="middle">0</text>
<text x="1999.7" y="1202.5" font-size="21.5" text-anchor="middle">1</text>
<text x="1911.7" y="988.6" font-size="21.7" text-anchor="middle">Log conc (uM)</text>
<text x="1911.6" y="1227.5" font-size="21.7" text-anchor="middle">Log conc (uM)</text>
<text x="138.6" y="825.6" font-size="21.3" text-anchor="end">100</text>
<text x="138.6" y="884.7" font-size="21.3" text-anchor="end">0</text>
<text x="138.6" y="943.7" font-size="21.3" text-anchor="end">-100</text>
<text x="138.6" y="1061.5" font-size="21.3" text-anchor="end">100</text>
<text x="138.6" y="1125.2" font-size="21.3" text-anchor="end">0</text>
<text x="138.6" y="1181" font-size="21.3" text-anchor="end">-100</text>
<circle cx="1946.8" cy="795.4" r="8" fill="#E8463D"/>
<text x="1966.3" y="802.6" font-size="25">2D</text>
<circle cx="1946.8" cy="833.6" r="8" fill="#2CA362"/>
<text x="1966.3" y="840.8" font-size="25">3D</text>
<circle cx="1946.8" cy="1030.2" r="8" fill="#E8463D"/>
<text x="1966.3" y="1037.4" font-size="25">2D</text>
<circle cx="1946.8" cy="1069.3" r="8" fill="#2CA362"/>
<text x="1966.3" y="1076.5" font-size="25">3D</text>
</g>
<g id="panelD">
<text x="0" y="1312.9" font-size="37.5" class="b">D</text>
<g>
<text x="298.2" y="1330.4" font-size="29" text-anchor="middle">Erlotinib</text>
<line x1="146.6" y1="1431.37" x2="146.6" y2="1439.34" stroke="#111" stroke-width="6.8" stroke-linecap="round"/>
<path d="M140.2 1431.4 L153.0 1431.4 L150.0 1435.9 L143.2 1435.9 Z" fill="#111"/>
<rect x="141.6" y="1399.5" width="10" height="31.872" fill="#4DC47B" stroke="#111" stroke-width="2.8"/>
<rect x="169.63" y="1399.5" width="10" height="60.756" fill="#E8463D" stroke="#111" stroke-width="2.8"/>
<line x1="191.23" y1="1405.48" x2="191.23" y2="1412.95" stroke="#111" stroke-width="6.8" stroke-linecap="round"/>
<path d="M184.8 1405.5 L197.6 1405.5 L194.6 1410.0 L187.8 1410.0 Z" fill="#111"/>
<rect x="186.23" y="1399.5" width="10" height="5.976" fill="#4DC47B" stroke="#111" stroke-width="2.8"/>
<line x1="235.86" y1="1420.42" x2="235.86" y2="1433.86" stroke="#111" stroke-width="6.8" stroke-linecap="round"/>
<path d="M229.5 1420.4 L242.3 1420.4 L239.3 1424.9 L232.5 1424.9 Z" fill="#111"/>
<rect x="230.86" y="1399.5" width="10" height="20.916" fill="#4DC47B" stroke="#111" stroke-width="2.8"/>
<line x1="263.89" y1="1401.49" x2="263.89" y2="1402.99" stroke="#111" stroke-width="6.8" stroke-linecap="round"/>
<path d="M257.5 1401.5 L270.3 1401.5 L267.3 1406.0 L260.5 1406.0 Z" fill="#111"/>
<rect x="258.89" y="1399.5" width="10" height="1.992" fill="#E8463D" stroke="#111" stroke-width="2.8"/>
<line x1="280.49" y1="1395.02" x2="280.49" y2="1386.05" stroke="#111" stroke-width="6.8" stroke-linecap="round"/>
<path d="M274.1 1395.0 L286.9 1395.0 L283.9 1390.5 L277.1 1390.5 Z" fill="#111"/>
<rect x="275.49" y="1395.02" width="10" height="4.482" fill="#4DC47B" stroke="#111" stroke-width="2.8"/>
<line x1="442.41" y1="1386.55" x2="442.41" y2="1376.59" stroke="#111" stroke-width="6.8" stroke-linecap="round"/>
<path d="M436.0 1386.6 L448.8 1386.6 L445.8 1382.1 L439.0 1382.1 Z" fill="#111"/>
<rect x="437.41" y="1386.55" width="10" height="12.948" fill="#E8463D" stroke="#111" stroke-width="2.8"/>
<line x1="459.01" y1="1428.38" x2="459.01" y2="1453.28" stroke="#111" stroke-width="6.8" stroke-linecap="round"/>
<path d="M452.6 1428.4 L465.4 1428.4 L462.4 1432.9 L455.6 1432.9 Z" fill="#111"/>
<rect x="454.01" y="1399.5" width="10" height="28.884" fill="#4DC47B" stroke="#111" stroke-width="2.8"/>
<text x="131.2" y="1417.2" font-size="17.5" text-anchor="middle" font-weight="bold" style="fill:#E0312B;stroke:#E0312B;stroke-width:0.7px">#</text>
<text x="309.0" y="1418.7" font-size="17.5" text-anchor="middle" font-weight="bold" style="fill:#E0312B;stroke:#E0312B;stroke-width:0.7px">#</text>
<text x="322.1" y="1418.7" font-size="17.5" text-anchor="middle" font-weight="bold" style="fill:#1FA045;stroke:#1FA045;stroke-width:0.7px">#</text>
<text x="353.4" y="1416.9" font-size="17.5" text-anchor="middle" font-weight="bold" style="fill:#E0312B;stroke:#E0312B;stroke-width:0.7px">#</text>
<text x="367.1" y="1416.9" font-size="17.5" text-anchor="middle" font-weight="bold" style="fill:#1FA045;stroke:#1FA045;stroke-width:0.7px">#</text>
<text x="401.9" y="1416.9" font-size="17.5" text-anchor="middle" font-weight="bold" style="fill:#E0312B;stroke:#E0312B;stroke-width:0.7px">#</text>
<text x="415.5" y="1416.9" font-size="17.5" text-anchor="middle" font-weight="bold" style="fill:#1FA045;stroke:#1FA045;stroke-width:0.7px">#</text>
<line x1="118.7" y1="1347.4" x2="118.7" y2="1551.4" stroke="#111" stroke-width="5.5"/>
<line x1="111.9" y1="1399.5" x2="471.6" y2="1399.5" stroke="#111" stroke-width="5"/>
<line x1="112.9" y1="1548.9" x2="472.6" y2="1548.9" stroke="#111" stroke-width="5"/>
<line x1="111.9" y1="1349.7" x2="118.4" y2="1349.7" stroke="#111" stroke-width="4"/>
<text x="107.2" y="1353.4" font-size="25" text-anchor="end">1</text>
<line x1="111.9" y1="1399.5" x2="118.4" y2="1399.5" stroke="#111" stroke-width="4"/>
<text x="107.2" y="1403.95" font-size="25" text-anchor="end">0</text>
<line x1="111.9" y1="1449.3" x2="118.4" y2="1449.3" stroke="#111" stroke-width="4"/>
<text x="107.2" y="1454.5" font-size="25" text-anchor="end">-1</text>
<line x1="111.9" y1="1499.1" x2="118.4" y2="1499.1" stroke="#111" stroke-width="4"/>
<text x="107.2" y="1505.05" font-size="25" text-anchor="end">-2</text>
<line x1="111.9" y1="1548.9" x2="118.4" y2="1548.9" stroke="#111" stroke-width="4"/>
<text x="107.2" y="1555.6" font-size="25" text-anchor="end">-3</text>
<line x1="138" y1="1548.9" x2="138" y2="1554.7" stroke="#111" stroke-width="4"/>
<text x="146" y="1561.6" font-size="25" text-anchor="end" transform="rotate(-90 146 1561.6)">HCC1143</text>
<line x1="182.66" y1="1548.9" x2="182.66" y2="1554.7" stroke="#111" stroke-width="4"/>
<text x="191.15" y="1561.6" font-size="25" text-anchor="end" transform="rotate(-90 191.15 1561.6)">HCC1806</text>
<line x1="227.32" y1="1548.9" x2="227.32" y2="1554.7" stroke="#111" stroke-width="4"/>
<text x="236.3" y="1561.6" font-size="25" text-anchor="end" transform="rotate(-90 236.3 1561.6)">HCC1954</text>
<line x1="271.98" y1="1548.9" x2="271.98" y2="1554.7" stroke="#111" stroke-width="4"/>
<text x="281.45" y="1561.6" font-size="25" text-anchor="end" transform="rotate(-90 281.45 1561.6)">MDA-MB-468</text>
<line x1="316.64" y1="1548.9" x2="316.64" y2="1554.7" stroke="#111" stroke-width="4"/>
<text x="326.6" y="1561.6" font-size="25" text-anchor="end" transform="rotate(-90 326.6 1561.6)">BT549</text>
<line x1="361.3" y1="1548.9" x2="361.3" y2="1554.7" stroke="#111" stroke-width="4"/>
<text x="371.75" y="1561.6" font-size="25" text-anchor="end" transform="rotate(-90 371.75 1561.6)">Hs578T</text>
<line x1="405.96" y1="1548.9" x2="405.96" y2="1554.7" stroke="#111" stroke-width="4"/>
<text x="416.9" y="1561.6" font-size="25" text-anchor="end" transform="rotate(-90 416.9 1561.6)">MDA-MB-231</text>
<line x1="450.62" y1="1548.9" x2="450.62" y2="1554.7" stroke="#111" stroke-width="4"/>
<text x="462.05" y="1561.6" font-size="25" text-anchor="end" transform="rotate(-90 462.05 1561.6)">SUM149PT</text>
<text x="66.2" y="1451" font-size="25" text-anchor="middle" transform="rotate(-90 66.2 1451)">Log IC50</text>
<rect x="132.75" y="1524.55" width="28.5" height="13.4" fill="#E8463D" stroke="#111" stroke-width="2.7" rx="1.2"/>
<text x="166.5" y="1538.9" font-size="25">2D</text>
<rect x="214.05" y="1524.55" width="28.5" height="13.4" fill="#4DC47B" stroke="#111" stroke-width="2.7" rx="1.2"/>
<text x="248.5" y="1538.9" font-size="25">3D</text>
</g>
<g>
<text x="749.5" y="1330.4" font-size="29" text-anchor="middle">Gefitinib</text>
<line x1="601.1" y1="1428.38" x2="601.1" y2="1457.27" stroke="#111" stroke-width="6.8" stroke-linecap="round"/>
<path d="M594.7 1428.4 L607.5 1428.4 L604.5 1432.9 L597.7 1432.9 Z" fill="#111"/>
<rect x="596.1" y="1399.5" width="10" height="28.884" fill="#4DC47B" stroke="#111" stroke-width="2.8"/>
<line x1="629.13" y1="1474.7" x2="629.13" y2="1480.67" stroke="#111" stroke-width="6.8" stroke-linecap="round"/>
<path d="M622.7 1474.7 L635.5 1474.7 L632.5 1479.2 L625.7 1479.2 Z" fill="#111"/>
<rect x="624.13" y="1399.5" width="10" height="75.198" fill="#E8463D" stroke="#111" stroke-width="2.8"/>
<line x1="645.73" y1="1416.93" x2="645.73" y2="1446.81" stroke="#111" stroke-width="6.8" stroke-linecap="round"/>
<path d="M639.3 1416.9 L652.1 1416.9 L649.1 1421.4 L642.3 1421.4 Z" fill="#111"/>
<rect x="640.73" y="1399.5" width="10" height="17.43" fill="#4DC47B" stroke="#111" stroke-width="2.8"/>
<line x1="673.76" y1="1400.99" x2="673.76" y2="1405.97" stroke="#111" stroke-width="6.8" stroke-linecap="round"/>
<line x1="690.36" y1="1416.93" x2="690.36" y2="1432.87" stroke="#111" stroke-width="6.8" stroke-linecap="round"/>
<path d="M684.0 1416.9 L696.8 1416.9 L693.8 1421.4 L687.0 1421.4 Z" fill="#111"/>
<rect x="685.36" y="1399.5" width="10" height="17.43" fill="#4DC47B" stroke="#111" stroke-width="2.8"/>
<line x1="718.39" y1="1434.36" x2="718.39" y2="1444.32" stroke="#111" stroke-width="6.8" stroke-linecap="round"/>
<path d="M712.0 1434.4 L724.8 1434.4 L721.8 1438.9 L715.0 1438.9 Z" fill="#111"/>
<rect x="713.39" y="1399.5" width="10" height="34.86" fill="#E8463D" stroke="#111" stroke-width="2.8"/>
<line x1="734.99" y1="1430.38" x2="734.99" y2="1440.34" stroke="#111" stroke-width="6.8" stroke-linecap="round"/>
<path d="M728.6 1430.4 L741.4 1430.4 L738.4 1434.9 L731.6 1434.9 Z" fill="#111"/>
<rect x="729.99" y="1399.5" width="10" height="30.876" fill="#4DC47B" stroke="#111" stroke-width="2.8"/>
<line x1="896.91" y1="1404.48" x2="896.91" y2="1418.42" stroke="#111" stroke-width="6.8" stroke-linecap="round"/>
<path d="M890.5 1404.5 L903.3 1404.5 L900.3 1409.0 L893.5 1409.0 Z" fill="#111"/>
<rect x="891.91" y="1399.5" width="10" height="4.98" fill="#E8463D" stroke="#111" stroke-width="2.8"/>
<line x1="913.51" y1="1445.81" x2="913.51" y2="1454.78" stroke="#111" stroke-width="6.8" stroke-linecap="round"/>
<path d="M907.1 1445.8 L919.9 1445.8 L916.9 1450.3 L910.1 1450.3 Z" fill="#111"/>
<rect x="908.51" y="1399.5" width="10" height="46.314" fill="#4DC47B" stroke="#111" stroke-width="2.8"/>
<text x="585.1" y="1417.8" font-size="17.5" text-anchor="middle" font-weight="bold" style="fill:#E0312B;stroke:#E0312B;stroke-width:0.7px">#</text>
<text x="767.0" y="1418.6" font-size="17.5" text-anchor="middle" font-weight="bold" style="fill:#E0312B;stroke:#E0312B;stroke-width:0.7px">#</text>
<text x="780.1" y="1418.6" font-size="17.5" text-anchor="middle" font-weight="bold" style="fill:#1FA045;stroke:#1FA045;stroke-width:0.7px">#</text>
<text x="813.8" y="1418.6" font-size="17.5" text-anchor="middle" font-weight="bold" style="fill:#E0312B;stroke:#E0312B;stroke-width:0.7px">#</text>
<text x="828.0" y="1418.6" font-size="17.5" text-anchor="middle" font-weight="bold" style="fill:#1FA045;stroke:#1FA045;stroke-width:0.7px">#</text>
<text x="861.4" y="1418.6" font-size="17.5" text-anchor="middle" font-weight="bold" style="fill:#E0312B;stroke:#E0312B;stroke-width:0.7px">#</text>
<text x="874.7" y="1418.6" font-size="17.5" text-anchor="middle" font-weight="bold" style="fill:#1FA045;stroke:#1FA045;stroke-width:0.7px">#</text>
<line x1="573.2" y1="1347.4" x2="573.2" y2="1551.4" stroke="#111" stroke-width="5.5"/>
<line x1="566.4" y1="1399.5" x2="925.2" y2="1399.5" stroke="#111" stroke-width="5"/>
<line x1="567.4" y1="1548.9" x2="926.2" y2="1548.9" stroke="#111" stroke-width="5"/>
<line x1="566.4" y1="1349.7" x2="572.9" y2="1349.7" stroke="#111" stroke-width="4"/>
<text x="559.4" y="1358.9" font-size="25" text-anchor="end">1</text>
<line x1="566.4" y1="1399.5" x2="572.9" y2="1399.5" stroke="#111" stroke-width="4"/>
<text x="559.4" y="1409.45" font-size="25" text-anchor="end">0</text>
<line x1="566.4" y1="1449.3" x2="572.9" y2="1449.3" stroke="#111" stroke-width="4"/>
<text x="559.4" y="1460" font-size="25" text-anchor="end">-1</text>
<line x1="566.4" y1="1499.1" x2="572.9" y2="1499.1" stroke="#111" stroke-width="4"/>
<text x="559.4" y="1510.55" font-size="25" text-anchor="end">-2</text>
<line x1="566.4" y1="1548.9" x2="572.9" y2="1548.9" stroke="#111" stroke-width="4"/>
<text x="559.4" y="1561.1" font-size="25" text-anchor="end">-3</text>
<line x1="592.5" y1="1548.9" x2="592.5" y2="1554.7" stroke="#111" stroke-width="4"/>
<text x="600.5" y="1561.6" font-size="25" text-anchor="end" transform="rotate(-90 600.5 1561.6)">HCC1143</text>
<line x1="637.16" y1="1548.9" x2="637.16" y2="1554.7" stroke="#111" stroke-width="4"/>
<text x="645.65" y="1561.6" font-size="25" text-anchor="end" transform="rotate(-90 645.65 1561.6)">HCC1806</text>
<line x1="681.82" y1="1548.9" x2="681.82" y2="1554.7" stroke="#111" stroke-width="4"/>
<text x="690.8" y="1561.6" font-size="25" text-anchor="end" transform="rotate(-90 690.8 1561.6)">HCC1954</text>
<line x1="726.48" y1="1548.9" x2="726.48" y2="1554.7" stroke="#111" stroke-width="4"/>
<text x="735.95" y="1561.6" font-size="25" text-anchor="end" transform="rotate(-90 735.95 1561.6)">MDA-MB-468</text>
<line x1="771.14" y1="1548.9" x2="771.14" y2="1554.7" stroke="#111" stroke-width="4"/>
<text x="781.1" y="1561.6" font-size="25" text-anchor="end" transform="rotate(-90 781.1 1561.6)">BT549</text>
<line x1="815.8" y1="1548.9" x2="815.8" y2="1554.7" stroke="#111" stroke-width="4"/>
<text x="826.25" y="1561.6" font-size="25" text-anchor="end" transform="rotate(-90 826.25 1561.6)">Hs578T</text>
<line x1="860.46" y1="1548.9" x2="860.46" y2="1554.7" stroke="#111" stroke-width="4"/>
<text x="871.4" y="1561.6" font-size="25" text-anchor="end" transform="rotate(-90 871.4 1561.6)">MDA-MB-231</text>
<line x1="905.12" y1="1548.9" x2="905.12" y2="1554.7" stroke="#111" stroke-width="4"/>
<text x="916.55" y="1561.6" font-size="25" text-anchor="end" transform="rotate(-90 916.55 1561.6)">SUM149PT</text>
<text x="518.4" y="1454.5" font-size="25" text-anchor="middle" transform="rotate(-90 518.4 1454.5)">Log IC50</text>
<rect x="581.45" y="1523.35" width="28.5" height="13.4" fill="#E8463D" stroke="#111" stroke-width="2.7" rx="1.2"/>
<text x="615.2" y="1537.7" font-size="25">2D</text>
<rect x="662.75" y="1523.35" width="28.5" height="13.4" fill="#4DC47B" stroke="#111" stroke-width="2.7" rx="1.2"/>
<text x="697.2" y="1537.7" font-size="25">3D</text>
</g>
</g>
<g id="panelF">
<defs><linearGradient id="cbar" x1="0" y1="0" x2="0" y2="1"><stop offset="0" stop-color="#de2a1c"/><stop offset="1" stop-color="#0d0a0a"/></linearGradient></defs>
<text x="1023.3" y="1313" font-size="37.5" class="b">F</text>
<text transform="translate(995.7 1455) rotate(-90) scale(1 0.89)" font-size="29" text-anchor="middle">Mesenchymal-Stem cell</text>
<text transform="translate(1030.4 1455) rotate(-90) scale(1 0.89)" font-size="29" text-anchor="middle">markers</text>
<rect x="1124.2" y="1320.1" width="279.9" height="274" fill="#981f16"/>
<path d="M1334.1 1516.10h35.3v2.30h-35.3zM1159.2 1520.10h35.3v2.30h-35.3zM1124.2 1522.10h35.3v2.30h-35.3zM1159.2 1522.10h35.3v2.30h-35.3zM1124.2 1526.10h35.3v2.30h-35.3zM1124.2 1528.10h35.3v2.30h-35.3zM1299.1 1528.10h35.3v2.30h-35.3zM1124.2 1536.10h35.3v2.30h-35.3zM1159.2 1536.10h35.3v2.30h-35.3zM1194.2 1536.10h35.3v2.30h-35.3zM1124.2 1538.10h35.3v2.30h-35.3zM1159.2 1538.10h35.3v2.30h-35.3zM1264.2 1538.10h35.3v2.30h-35.3zM1194.2 1540.10h35.3v2.30h-35.3zM1124.2 1544.10h35.3v2.30h-35.3zM1124.2 1562.10h35.3v2.30h-35.3z" fill="#0d0a0a" shape-rendering="crispEdges"/>
<path d="M1124.2 1518.10h35.3v2.30h-35.3zM1159.2 1518.10h35.3v2.30h-35.3zM1194.2 1518.10h35.3v2.30h-35.3zM1124.2 1520.10h35.3v2.30h-35.3zM1194.2 1520.10h35.3v2.30h-35.3zM1194.2 1522.10h35.3v2.30h-35.3zM1334.1 1522.10h35.3v2.30h-35.3zM1194.2 1524.10h35.3v2.30h-35.3zM1159.2 1526.10h35.3v2.30h-35.3zM1194.2 1526.10h35.3v2.30h-35.3zM1159.2 1530.10h35.3v2.30h-35.3zM1194.2 1530.10h35.3v2.30h-35.3zM1159.2 1532.10h35.3v2.30h-35.3zM1194.2 1532.10h35.3v2.30h-35.3zM1194.2 1538.10h35.3v2.30h-35.3zM1124.2 1540.10h35.3v2.30h-35.3zM1124.2 1542.10h35.3v2.30h-35.3zM1159.2 1542.10h35.3v2.30h-35.3zM1194.2 1542.10h35.3v2.30h-35.3zM1194.2 1544.10h35.3v2.30h-35.3zM1334.1 1556.10h35.3v2.30h-35.3z" fill="#130b0b" shape-rendering="crispEdges"/>
<path d="M1124.2 1454.10h35.3v2.30h-35.3zM1124.2 1462.10h35.3v2.30h-35.3zM1124.2 1524.10h35.3v2.30h-35.3zM1159.2 1524.10h35.3v2.30h-35.3zM1159.2 1528.10h35.3v2.30h-35.3zM1194.2 1528.10h35.3v2.30h-35.3zM1124.2 1532.10h35.3v2.30h-35.3zM1124.2 1534.10h35.3v2.30h-35.3zM1194.2 1534.10h35.3v2.30h-35.3zM1159.2 1540.10h35.3v2.30h-35.3zM1159.2 1544.10h35.3v2.30h-35.3z" fill="#1a0c0b" shape-rendering="crispEdges"/>
<path d="M1159.2 1512.10h35.3v2.30h-35.3zM1299.1 1512.10h35.3v2.30h-35.3zM1194.2 1516.10h35.3v2.30h-35.3zM1124.2 1530.10h35.3v2.30h-35.3zM1299.1 1532.10h35.3v2.30h-35.3zM1159.2 1534.10h35.3v2.30h-35.3zM1159.2 1548.10h35.3v2.30h-35.3zM1369.1 1562.10h35.3v2.30h-35.3z" fill="#200d0c" shape-rendering="crispEdges"/>
<path d="M1124.2 1452.10h35.3v2.30h-35.3zM1124.2 1458.10h35.3v2.30h-35.3zM1194.2 1510.10h35.3v2.30h-35.3zM1334.1 1510.10h35.3v2.30h-35.3zM1124.2 1512.10h35.3v2.30h-35.3zM1334.1 1530.10h35.3v2.30h-35.3zM1264.2 1562.10h35.3v2.30h-35.3z" fill="#260e0c" shape-rendering="crispEdges"/>
<path d="M1124.2 1456.10h35.3v2.30h-35.3zM1159.2 1510.10h35.3v2.30h-35.3zM1369.1 1510.10h35.3v2.30h-35.3zM1229.2 1512.10h35.3v2.30h-35.3zM1334.1 1512.10h35.3v2.30h-35.3zM1159.2 1514.10h35.3v2.30h-35.3zM1299.1 1514.10h35.3v2.30h-35.3zM1334.1 1514.10h35.3v2.30h-35.3zM1159.2 1516.10h35.3v2.30h-35.3zM1229.2 1578.10h35.3v2.30h-35.3zM1229.2 1582.10h35.3v2.30h-35.3z" fill="#2d0f0d" shape-rendering="crispEdges"/>
<path d="M1124.2 1460.10h35.3v2.30h-35.3zM1229.2 1510.10h35.3v2.30h-35.3zM1369.1 1512.10h35.3v2.30h-35.3zM1229.2 1522.10h35.3v2.30h-35.3zM1299.1 1524.10h35.3v2.30h-35.3zM1299.1 1542.10h35.3v2.30h-35.3zM1159.2 1546.10h35.3v2.30h-35.3zM1194.2 1550.10h35.3v2.30h-35.3zM1369.1 1564.10h35.3v2.30h-35.3zM1264.2 1578.10h35.3v2.30h-35.3z" fill="#33100d" shape-rendering="crispEdges"/>
<path d="M1124.2 1510.10h35.3v2.30h-35.3zM1229.2 1514.10h35.3v2.30h-35.3zM1264.2 1514.10h35.3v2.30h-35.3zM1369.1 1514.10h35.3v2.30h-35.3zM1299.1 1544.10h35.3v2.30h-35.3zM1159.2 1570.10h35.3v2.30h-35.3zM1124.2 1584.10h35.3v2.30h-35.3z" fill="#39110e" shape-rendering="crispEdges"/>
<path d="M1124.2 1464.10h35.3v2.30h-35.3zM1299.1 1510.10h35.3v2.30h-35.3zM1124.2 1514.10h35.3v2.30h-35.3zM1124.2 1516.10h35.3v2.30h-35.3zM1299.1 1550.10h35.3v2.30h-35.3zM1159.2 1556.10h35.3v2.30h-35.3zM1334.1 1562.10h35.3v2.30h-35.3zM1124.2 1588.10h35.3v2.30h-35.3zM1369.1 1592.10h35.3v2.30h-35.3z" fill="#40120e" shape-rendering="crispEdges"/>
<path d="M1369.1 1504.10h35.3v2.30h-35.3zM1194.2 1512.10h35.3v2.30h-35.3zM1264.2 1512.10h35.3v2.30h-35.3zM1229.2 1516.10h35.3v2.30h-35.3zM1369.1 1516.10h35.3v2.30h-35.3zM1229.2 1528.10h35.3v2.30h-35.3zM1369.1 1556.10h35.3v2.30h-35.3zM1124.2 1558.10h35.3v2.30h-35.3zM1334.1 1558.10h35.3v2.30h-35.3zM1369.1 1558.10h35.3v2.30h-35.3zM1369.1 1576.10h35.3v2.30h-35.3zM1194.2 1588.10h35.3v2.30h-35.3z" fill="#46130f" shape-rendering="crispEdges"/>
<path d="M1264.2 1504.10h35.3v2.30h-35.3zM1369.1 1506.10h35.3v2.30h-35.3zM1264.2 1508.10h35.3v2.30h-35.3zM1264.2 1516.10h35.3v2.30h-35.3zM1299.1 1516.10h35.3v2.30h-35.3zM1369.1 1528.10h35.3v2.30h-35.3zM1264.2 1546.10h35.3v2.30h-35.3zM1159.2 1550.10h35.3v2.30h-35.3zM1334.1 1552.10h35.3v2.30h-35.3zM1334.1 1570.10h35.3v2.30h-35.3z" fill="#4c140f" shape-rendering="crispEdges"/>
<path d="M1264.2 1506.10h35.3v2.30h-35.3zM1369.1 1508.10h35.3v2.30h-35.3zM1229.2 1518.10h35.3v2.30h-35.3zM1264.2 1528.10h35.3v2.30h-35.3zM1264.2 1540.10h35.3v2.30h-35.3zM1229.2 1546.10h35.3v2.30h-35.3zM1159.2 1552.10h35.3v2.30h-35.3zM1264.2 1558.10h35.3v2.30h-35.3zM1194.2 1570.10h35.3v2.30h-35.3zM1124.2 1580.10h35.3v2.30h-35.3z" fill="#531510" shape-rendering="crispEdges"/>
<path d="M1194.2 1514.10h35.3v2.30h-35.3zM1299.1 1530.10h35.3v2.30h-35.3zM1334.1 1538.10h35.3v2.30h-35.3zM1334.1 1554.10h35.3v2.30h-35.3zM1369.1 1554.10h35.3v2.30h-35.3zM1159.2 1560.10h35.3v2.30h-35.3zM1334.1 1564.10h35.3v2.30h-35.3zM1194.2 1576.10h35.3v2.30h-35.3zM1334.1 1584.10h35.3v2.30h-35.3z" fill="#591611" shape-rendering="crispEdges"/>
<path d="M1334.1 1526.10h35.3v2.30h-35.3zM1264.2 1550.10h35.3v2.30h-35.3zM1299.1 1560.10h35.3v2.30h-35.3zM1124.2 1566.10h35.3v2.30h-35.3zM1229.2 1588.10h35.3v2.30h-35.3zM1299.1 1588.10h35.3v2.30h-35.3zM1369.1 1588.10h35.3v2.30h-35.3zM1299.1 1592.10h35.3v2.30h-35.3zM1334.1 1592.10h35.3v2.30h-35.3z" fill="#5f1711" shape-rendering="crispEdges"/>
<path d="M1229.2 1524.10h35.3v2.30h-35.3zM1334.1 1528.10h35.3v2.30h-35.3zM1264.2 1530.10h35.3v2.30h-35.3zM1299.1 1534.10h35.3v2.30h-35.3zM1369.1 1536.10h35.3v2.30h-35.3zM1334.1 1540.10h35.3v2.30h-35.3zM1369.1 1544.10h35.3v2.30h-35.3zM1299.1 1546.10h35.3v2.30h-35.3zM1124.2 1556.10h35.3v2.30h-35.3zM1229.2 1562.10h35.3v2.30h-35.3zM1369.1 1572.10h35.3v2.30h-35.3zM1159.2 1574.10h35.3v2.30h-35.3zM1159.2 1586.10h35.3v2.30h-35.3zM1334.1 1588.10h35.3v2.30h-35.3zM1369.1 1590.10h35.3v2.30h-35.3z" fill="#661812" shape-rendering="crispEdges"/>
<path d="M1299.1 1418.10h35.3v2.30h-35.3zM1299.1 1518.10h35.3v2.30h-35.3zM1229.2 1520.10h35.3v2.30h-35.3zM1264.2 1520.10h35.3v2.30h-35.3zM1299.1 1520.10h35.3v2.30h-35.3zM1334.1 1520.10h35.3v2.30h-35.3zM1229.2 1526.10h35.3v2.30h-35.3zM1334.1 1536.10h35.3v2.30h-35.3zM1299.1 1538.10h35.3v2.30h-35.3zM1334.1 1544.10h35.3v2.30h-35.3zM1369.1 1546.10h35.3v2.30h-35.3zM1334.1 1550.10h35.3v2.30h-35.3zM1369.1 1550.10h35.3v2.30h-35.3zM1264.2 1552.10h35.3v2.30h-35.3zM1369.1 1552.10h35.3v2.30h-35.3zM1159.2 1554.10h35.3v2.30h-35.3zM1194.2 1554.10h35.3v2.30h-35.3zM1369.1 1560.10h35.3v2.30h-35.3zM1159.2 1572.10h35.3v2.30h-35.3zM1159.2 1580.10h35.3v2.30h-35.3zM1124.2 1582.10h35.3v2.30h-35.3z" fill="#6c1912" shape-rendering="crispEdges"/>
<path d="M1159.2 1410.10h35.3v2.30h-35.3zM1299.1 1414.10h35.3v2.30h-35.3zM1159.2 1416.10h35.3v2.30h-35.3zM1299.1 1426.10h35.3v2.30h-35.3zM1194.2 1446.10h35.3v2.30h-35.3zM1369.1 1518.10h35.3v2.30h-35.3zM1229.2 1536.10h35.3v2.30h-35.3zM1264.2 1536.10h35.3v2.30h-35.3zM1264.2 1542.10h35.3v2.30h-35.3zM1369.1 1548.10h35.3v2.30h-35.3zM1159.2 1558.10h35.3v2.30h-35.3zM1194.2 1558.10h35.3v2.30h-35.3zM1194.2 1562.10h35.3v2.30h-35.3zM1299.1 1562.10h35.3v2.30h-35.3zM1334.1 1566.10h35.3v2.30h-35.3zM1159.2 1584.10h35.3v2.30h-35.3zM1229.2 1584.10h35.3v2.30h-35.3zM1264.2 1584.10h35.3v2.30h-35.3zM1194.2 1590.10h35.3v2.30h-35.3zM1264.2 1590.10h35.3v2.30h-35.3z" fill="#721a13" shape-rendering="crispEdges"/>
<path d="M1159.2 1422.10h35.3v2.30h-35.3zM1334.1 1432.10h35.3v2.30h-35.3zM1264.2 1510.10h35.3v2.30h-35.3zM1334.1 1518.10h35.3v2.30h-35.3zM1264.2 1532.10h35.3v2.30h-35.3zM1299.1 1540.10h35.3v2.30h-35.3zM1369.1 1542.10h35.3v2.30h-35.3zM1334.1 1546.10h35.3v2.30h-35.3zM1124.2 1548.10h35.3v2.30h-35.3zM1229.2 1548.10h35.3v2.30h-35.3zM1124.2 1550.10h35.3v2.30h-35.3zM1229.2 1552.10h35.3v2.30h-35.3zM1159.2 1562.10h35.3v2.30h-35.3zM1124.2 1564.10h35.3v2.30h-35.3zM1194.2 1564.10h35.3v2.30h-35.3zM1299.1 1570.10h35.3v2.30h-35.3zM1124.2 1578.10h35.3v2.30h-35.3zM1194.2 1578.10h35.3v2.30h-35.3zM1264.2 1580.10h35.3v2.30h-35.3zM1369.1 1582.10h35.3v2.30h-35.3zM1124.2 1586.10h35.3v2.30h-35.3zM1264.2 1586.10h35.3v2.30h-35.3zM1159.2 1590.10h35.3v2.30h-35.3zM1124.2 1592.10h35.3v2.30h-35.3z" fill="#791a13" shape-rendering="crispEdges"/>
<path d="M1264.2 1356.10h35.3v2.30h-35.3zM1264.2 1358.10h35.3v2.30h-35.3zM1369.1 1416.10h35.3v2.30h-35.3zM1299.1 1422.10h35.3v2.30h-35.3zM1194.2 1424.10h35.3v2.30h-35.3zM1264.2 1424.10h35.3v2.30h-35.3zM1194.2 1428.10h35.3v2.30h-35.3zM1159.2 1432.10h35.3v2.30h-35.3zM1159.2 1434.10h35.3v2.30h-35.3zM1159.2 1436.10h35.3v2.30h-35.3zM1159.2 1438.10h35.3v2.30h-35.3zM1194.2 1444.10h35.3v2.30h-35.3zM1299.1 1446.10h35.3v2.30h-35.3zM1194.2 1448.10h35.3v2.30h-35.3zM1299.1 1450.10h35.3v2.30h-35.3zM1264.2 1522.10h35.3v2.30h-35.3zM1299.1 1536.10h35.3v2.30h-35.3zM1194.2 1548.10h35.3v2.30h-35.3zM1124.2 1554.10h35.3v2.30h-35.3zM1229.2 1558.10h35.3v2.30h-35.3zM1229.2 1564.10h35.3v2.30h-35.3zM1264.2 1564.10h35.3v2.30h-35.3zM1194.2 1566.10h35.3v2.30h-35.3zM1124.2 1568.10h35.3v2.30h-35.3zM1334.1 1568.10h35.3v2.30h-35.3zM1124.2 1572.10h35.3v2.30h-35.3zM1124.2 1576.10h35.3v2.30h-35.3zM1229.2 1576.10h35.3v2.30h-35.3zM1229.2 1580.10h35.3v2.30h-35.3zM1334.1 1580.10h35.3v2.30h-35.3zM1194.2 1584.10h35.3v2.30h-35.3zM1299.1 1590.10h35.3v2.30h-35.3z" fill="#7f1b14" shape-rendering="crispEdges"/>
<path d="M1229.2 1320.10h35.3v2.30h-35.3zM1229.2 1354.10h35.3v2.30h-35.3zM1229.2 1358.10h35.3v2.30h-35.3zM1229.2 1364.10h35.3v2.30h-35.3zM1264.2 1364.10h35.3v2.30h-35.3zM1264.2 1410.10h35.3v2.30h-35.3zM1334.1 1412.10h35.3v2.30h-35.3zM1124.2 1414.10h35.3v2.30h-35.3zM1264.2 1414.10h35.3v2.30h-35.3zM1194.2 1416.10h35.3v2.30h-35.3zM1299.1 1416.10h35.3v2.30h-35.3zM1159.2 1420.10h35.3v2.30h-35.3zM1299.1 1424.10h35.3v2.30h-35.3zM1334.1 1424.10h35.3v2.30h-35.3zM1194.2 1430.10h35.3v2.30h-35.3zM1124.2 1432.10h35.3v2.30h-35.3zM1194.2 1432.10h35.3v2.30h-35.3zM1299.1 1432.10h35.3v2.30h-35.3zM1124.2 1438.10h35.3v2.30h-35.3zM1194.2 1440.10h35.3v2.30h-35.3zM1229.2 1440.10h35.3v2.30h-35.3zM1299.1 1440.10h35.3v2.30h-35.3zM1194.2 1442.10h35.3v2.30h-35.3zM1159.2 1444.10h35.3v2.30h-35.3zM1369.1 1444.10h35.3v2.30h-35.3zM1159.2 1448.10h35.3v2.30h-35.3zM1299.1 1448.10h35.3v2.30h-35.3zM1369.1 1448.10h35.3v2.30h-35.3zM1194.2 1450.10h35.3v2.30h-35.3zM1264.2 1518.10h35.3v2.30h-35.3zM1334.1 1524.10h35.3v2.30h-35.3zM1264.2 1526.10h35.3v2.30h-35.3zM1369.1 1526.10h35.3v2.30h-35.3zM1264.2 1534.10h35.3v2.30h-35.3zM1369.1 1534.10h35.3v2.30h-35.3zM1369.1 1538.10h35.3v2.30h-35.3zM1264.2 1544.10h35.3v2.30h-35.3zM1124.2 1546.10h35.3v2.30h-35.3zM1299.1 1548.10h35.3v2.30h-35.3zM1264.2 1566.10h35.3v2.30h-35.3zM1299.1 1566.10h35.3v2.30h-35.3zM1264.2 1570.10h35.3v2.30h-35.3zM1229.2 1572.10h35.3v2.30h-35.3zM1369.1 1580.10h35.3v2.30h-35.3zM1159.2 1582.10h35.3v2.30h-35.3zM1194.2 1582.10h35.3v2.30h-35.3zM1334.1 1582.10h35.3v2.30h-35.3zM1334.1 1586.10h35.3v2.30h-35.3zM1124.2 1590.10h35.3v2.30h-35.3zM1194.2 1592.10h35.3v2.30h-35.3z" fill="#851c14" shape-rendering="crispEdges"/>
<path d="M1369.1 1320.10h35.3v2.30h-35.3zM1124.2 1324.10h35.3v2.30h-35.3zM1124.2 1326.10h35.3v2.30h-35.3zM1264.2 1326.10h35.3v2.30h-35.3zM1229.2 1330.10h35.3v2.30h-35.3zM1264.2 1344.10h35.3v2.30h-35.3zM1299.1 1348.10h35.3v2.30h-35.3zM1229.2 1356.10h35.3v2.30h-35.3zM1334.1 1356.10h35.3v2.30h-35.3zM1124.2 1358.10h35.3v2.30h-35.3zM1369.1 1358.10h35.3v2.30h-35.3zM1194.2 1362.10h35.3v2.30h-35.3zM1229.2 1410.10h35.3v2.30h-35.3zM1334.1 1416.10h35.3v2.30h-35.3zM1159.2 1418.10h35.3v2.30h-35.3zM1299.1 1420.10h35.3v2.30h-35.3zM1369.1 1424.10h35.3v2.30h-35.3zM1159.2 1426.10h35.3v2.30h-35.3zM1194.2 1426.10h35.3v2.30h-35.3zM1369.1 1426.10h35.3v2.30h-35.3zM1229.2 1430.10h35.3v2.30h-35.3zM1124.2 1434.10h35.3v2.30h-35.3zM1194.2 1434.10h35.3v2.30h-35.3zM1334.1 1434.10h35.3v2.30h-35.3zM1194.2 1436.10h35.3v2.30h-35.3zM1369.1 1440.10h35.3v2.30h-35.3zM1299.1 1442.10h35.3v2.30h-35.3zM1264.2 1444.10h35.3v2.30h-35.3zM1334.1 1448.10h35.3v2.30h-35.3zM1159.2 1462.10h35.3v2.30h-35.3zM1369.1 1520.10h35.3v2.30h-35.3zM1299.1 1522.10h35.3v2.30h-35.3zM1299.1 1526.10h35.3v2.30h-35.3zM1334.1 1542.10h35.3v2.30h-35.3zM1299.1 1552.10h35.3v2.30h-35.3zM1299.1 1554.10h35.3v2.30h-35.3zM1194.2 1556.10h35.3v2.30h-35.3zM1264.2 1560.10h35.3v2.30h-35.3zM1229.2 1566.10h35.3v2.30h-35.3zM1264.2 1568.10h35.3v2.30h-35.3zM1299.1 1572.10h35.3v2.30h-35.3zM1124.2 1574.10h35.3v2.30h-35.3zM1299.1 1578.10h35.3v2.30h-35.3zM1369.1 1578.10h35.3v2.30h-35.3zM1264.2 1582.10h35.3v2.30h-35.3zM1299.1 1582.10h35.3v2.30h-35.3zM1299.1 1586.10h35.3v2.30h-35.3zM1159.2 1588.10h35.3v2.30h-35.3zM1264.2 1588.10h35.3v2.30h-35.3z" fill="#8c1d15" shape-rendering="crispEdges"/>
<path d="M1194.2 1320.10h35.3v2.30h-35.3zM1264.2 1320.10h35.3v2.30h-35.3zM1264.2 1322.10h35.3v2.30h-35.3zM1299.1 1322.10h35.3v2.30h-35.3zM1369.1 1322.10h35.3v2.30h-35.3zM1229.2 1324.10h35.3v2.30h-35.3zM1264.2 1324.10h35.3v2.30h-35.3zM1194.2 1326.10h35.3v2.30h-35.3zM1159.2 1330.10h35.3v2.30h-35.3zM1369.1 1330.10h35.3v2.30h-35.3zM1124.2 1338.10h35.3v2.30h-35.3zM1299.1 1338.10h35.3v2.30h-35.3zM1264.2 1342.10h35.3v2.30h-35.3zM1124.2 1346.10h35.3v2.30h-35.3zM1264.2 1346.10h35.3v2.30h-35.3zM1124.2 1348.10h35.3v2.30h-35.3zM1369.1 1348.10h35.3v2.30h-35.3zM1264.2 1350.10h35.3v2.30h-35.3zM1159.2 1352.10h35.3v2.30h-35.3zM1264.2 1352.10h35.3v2.30h-35.3zM1334.1 1352.10h35.3v2.30h-35.3zM1334.1 1354.10h35.3v2.30h-35.3zM1299.1 1356.10h35.3v2.30h-35.3zM1124.2 1360.10h35.3v2.30h-35.3zM1159.2 1360.10h35.3v2.30h-35.3zM1194.2 1360.10h35.3v2.30h-35.3zM1159.2 1362.10h35.3v2.30h-35.3zM1194.2 1364.10h35.3v2.30h-35.3zM1194.2 1368.10h35.3v2.30h-35.3zM1159.2 1378.10h35.3v2.30h-35.3zM1194.2 1384.10h35.3v2.30h-35.3zM1299.1 1388.10h35.3v2.30h-35.3zM1194.2 1392.10h35.3v2.30h-35.3zM1124.2 1410.10h35.3v2.30h-35.3zM1194.2 1410.10h35.3v2.30h-35.3zM1159.2 1412.10h35.3v2.30h-35.3zM1194.2 1414.10h35.3v2.30h-35.3zM1334.1 1414.10h35.3v2.30h-35.3zM1124.2 1416.10h35.3v2.30h-35.3zM1229.2 1416.10h35.3v2.30h-35.3zM1264.2 1416.10h35.3v2.30h-35.3zM1124.2 1418.10h35.3v2.30h-35.3zM1194.2 1418.10h35.3v2.30h-35.3zM1334.1 1418.10h35.3v2.30h-35.3zM1369.1 1418.10h35.3v2.30h-35.3zM1124.2 1422.10h35.3v2.30h-35.3zM1194.2 1422.10h35.3v2.30h-35.3zM1334.1 1422.10h35.3v2.30h-35.3zM1229.2 1424.10h35.3v2.30h-35.3zM1264.2 1426.10h35.3v2.30h-35.3zM1334.1 1426.10h35.3v2.30h-35.3zM1124.2 1428.10h35.3v2.30h-35.3zM1159.2 1428.10h35.3v2.30h-35.3zM1264.2 1428.10h35.3v2.30h-35.3zM1334.1 1428.10h35.3v2.30h-35.3zM1334.1 1430.10h35.3v2.30h-35.3zM1369.1 1430.10h35.3v2.30h-35.3zM1264.2 1432.10h35.3v2.30h-35.3zM1299.1 1434.10h35.3v2.30h-35.3zM1264.2 1436.10h35.3v2.30h-35.3zM1334.1 1436.10h35.3v2.30h-35.3zM1124.2 1440.10h35.3v2.30h-35.3zM1264.2 1440.10h35.3v2.30h-35.3zM1124.2 1442.10h35.3v2.30h-35.3zM1229.2 1442.10h35.3v2.30h-35.3zM1264.2 1442.10h35.3v2.30h-35.3zM1334.1 1444.10h35.3v2.30h-35.3zM1159.2 1446.10h35.3v2.30h-35.3zM1124.2 1448.10h35.3v2.30h-35.3zM1124.2 1450.10h35.3v2.30h-35.3zM1229.2 1450.10h35.3v2.30h-35.3zM1299.1 1462.10h35.3v2.30h-35.3zM1369.1 1530.10h35.3v2.30h-35.3zM1334.1 1532.10h35.3v2.30h-35.3zM1229.2 1550.10h35.3v2.30h-35.3zM1124.2 1552.10h35.3v2.30h-35.3zM1229.2 1554.10h35.3v2.30h-35.3zM1264.2 1556.10h35.3v2.30h-35.3zM1299.1 1556.10h35.3v2.30h-35.3zM1299.1 1558.10h35.3v2.30h-35.3zM1159.2 1564.10h35.3v2.30h-35.3zM1299.1 1564.10h35.3v2.30h-35.3zM1159.2 1566.10h35.3v2.30h-35.3zM1369.1 1566.10h35.3v2.30h-35.3zM1194.2 1572.10h35.3v2.30h-35.3zM1334.1 1572.10h35.3v2.30h-35.3zM1299.1 1574.10h35.3v2.30h-35.3zM1159.2 1578.10h35.3v2.30h-35.3zM1369.1 1584.10h35.3v2.30h-35.3zM1194.2 1586.10h35.3v2.30h-35.3zM1369.1 1586.10h35.3v2.30h-35.3z" fill="#921e15" shape-rendering="crispEdges"/>
<path d="M1124.2 1320.10h35.3v2.30h-35.3zM1299.1 1320.10h35.3v2.30h-35.3zM1229.2 1322.10h35.3v2.30h-35.3zM1299.1 1324.10h35.3v2.30h-35.3zM1229.2 1326.10h35.3v2.30h-35.3zM1334.1 1326.10h35.3v2.30h-35.3zM1264.2 1330.10h35.3v2.30h-35.3zM1299.1 1330.10h35.3v2.30h-35.3zM1264.2 1332.10h35.3v2.30h-35.3zM1229.2 1334.10h35.3v2.30h-35.3zM1264.2 1334.10h35.3v2.30h-35.3zM1299.1 1334.10h35.3v2.30h-35.3zM1334.1 1334.10h35.3v2.30h-35.3zM1369.1 1334.10h35.3v2.30h-35.3zM1194.2 1340.10h35.3v2.30h-35.3zM1229.2 1340.10h35.3v2.30h-35.3zM1124.2 1344.10h35.3v2.30h-35.3zM1229.2 1346.10h35.3v2.30h-35.3zM1229.2 1348.10h35.3v2.30h-35.3zM1264.2 1348.10h35.3v2.30h-35.3zM1334.1 1348.10h35.3v2.30h-35.3zM1159.2 1350.10h35.3v2.30h-35.3zM1229.2 1350.10h35.3v2.30h-35.3zM1299.1 1350.10h35.3v2.30h-35.3zM1124.2 1352.10h35.3v2.30h-35.3zM1299.1 1352.10h35.3v2.30h-35.3zM1194.2 1354.10h35.3v2.30h-35.3zM1194.2 1356.10h35.3v2.30h-35.3zM1369.1 1356.10h35.3v2.30h-35.3zM1299.1 1358.10h35.3v2.30h-35.3zM1264.2 1360.10h35.3v2.30h-35.3zM1369.1 1360.10h35.3v2.30h-35.3zM1124.2 1362.10h35.3v2.30h-35.3zM1229.2 1362.10h35.3v2.30h-35.3zM1369.1 1362.10h35.3v2.30h-35.3zM1124.2 1364.10h35.3v2.30h-35.3zM1159.2 1364.10h35.3v2.30h-35.3zM1299.1 1364.10h35.3v2.30h-35.3zM1369.1 1364.10h35.3v2.30h-35.3zM1299.1 1380.10h35.3v2.30h-35.3zM1159.2 1386.10h35.3v2.30h-35.3zM1299.1 1386.10h35.3v2.30h-35.3zM1334.1 1386.10h35.3v2.30h-35.3zM1194.2 1388.10h35.3v2.30h-35.3zM1334.1 1410.10h35.3v2.30h-35.3zM1124.2 1412.10h35.3v2.30h-35.3zM1229.2 1412.10h35.3v2.30h-35.3zM1299.1 1412.10h35.3v2.30h-35.3zM1159.2 1414.10h35.3v2.30h-35.3zM1229.2 1414.10h35.3v2.30h-35.3zM1369.1 1414.10h35.3v2.30h-35.3zM1264.2 1422.10h35.3v2.30h-35.3zM1124.2 1424.10h35.3v2.30h-35.3zM1299.1 1428.10h35.3v2.30h-35.3zM1369.1 1428.10h35.3v2.30h-35.3zM1159.2 1430.10h35.3v2.30h-35.3zM1369.1 1432.10h35.3v2.30h-35.3zM1369.1 1436.10h35.3v2.30h-35.3zM1299.1 1438.10h35.3v2.30h-35.3zM1334.1 1438.10h35.3v2.30h-35.3zM1334.1 1440.10h35.3v2.30h-35.3zM1334.1 1442.10h35.3v2.30h-35.3zM1229.2 1446.10h35.3v2.30h-35.3zM1264.2 1446.10h35.3v2.30h-35.3zM1369.1 1446.10h35.3v2.30h-35.3zM1229.2 1448.10h35.3v2.30h-35.3zM1264.2 1448.10h35.3v2.30h-35.3zM1159.2 1450.10h35.3v2.30h-35.3zM1369.1 1454.10h35.3v2.30h-35.3zM1369.1 1524.10h35.3v2.30h-35.3zM1334.1 1534.10h35.3v2.30h-35.3zM1229.2 1540.10h35.3v2.30h-35.3zM1369.1 1540.10h35.3v2.30h-35.3zM1229.2 1560.10h35.3v2.30h-35.3zM1334.1 1560.10h35.3v2.30h-35.3zM1194.2 1568.10h35.3v2.30h-35.3zM1229.2 1568.10h35.3v2.30h-35.3zM1124.2 1570.10h35.3v2.30h-35.3zM1229.2 1574.10h35.3v2.30h-35.3zM1334.1 1574.10h35.3v2.30h-35.3zM1264.2 1576.10h35.3v2.30h-35.3zM1299.1 1576.10h35.3v2.30h-35.3zM1334.1 1578.10h35.3v2.30h-35.3zM1299.1 1580.10h35.3v2.30h-35.3zM1229.2 1586.10h35.3v2.30h-35.3zM1334.1 1590.10h35.3v2.30h-35.3zM1229.2 1592.10h35.3v2.30h-35.3zM1264.2 1592.10h35.3v2.30h-35.3z" fill="#981f16" shape-rendering="crispEdges"/>
<path d="M1124.2 1322.10h35.3v2.30h-35.3zM1159.2 1322.10h35.3v2.30h-35.3zM1159.2 1324.10h35.3v2.30h-35.3zM1194.2 1324.10h35.3v2.30h-35.3zM1299.1 1326.10h35.3v2.30h-35.3zM1369.1 1326.10h35.3v2.30h-35.3zM1124.2 1330.10h35.3v2.30h-35.3zM1124.2 1332.10h35.3v2.30h-35.3zM1229.2 1332.10h35.3v2.30h-35.3zM1124.2 1334.10h35.3v2.30h-35.3zM1194.2 1334.10h35.3v2.30h-35.3zM1264.2 1336.10h35.3v2.30h-35.3zM1194.2 1338.10h35.3v2.30h-35.3zM1229.2 1338.10h35.3v2.30h-35.3zM1264.2 1338.10h35.3v2.30h-35.3zM1264.2 1340.10h35.3v2.30h-35.3zM1369.1 1340.10h35.3v2.30h-35.3zM1124.2 1342.10h35.3v2.30h-35.3zM1229.2 1342.10h35.3v2.30h-35.3zM1299.1 1342.10h35.3v2.30h-35.3zM1229.2 1344.10h35.3v2.30h-35.3zM1159.2 1346.10h35.3v2.30h-35.3zM1334.1 1346.10h35.3v2.30h-35.3zM1124.2 1350.10h35.3v2.30h-35.3zM1369.1 1352.10h35.3v2.30h-35.3zM1299.1 1354.10h35.3v2.30h-35.3zM1369.1 1354.10h35.3v2.30h-35.3zM1159.2 1358.10h35.3v2.30h-35.3zM1334.1 1358.10h35.3v2.30h-35.3zM1229.2 1360.10h35.3v2.30h-35.3zM1334.1 1360.10h35.3v2.30h-35.3zM1264.2 1362.10h35.3v2.30h-35.3zM1299.1 1362.10h35.3v2.30h-35.3zM1334.1 1364.10h35.3v2.30h-35.3zM1264.2 1366.10h35.3v2.30h-35.3zM1299.1 1368.10h35.3v2.30h-35.3zM1159.2 1370.10h35.3v2.30h-35.3zM1229.2 1370.10h35.3v2.30h-35.3zM1194.2 1372.10h35.3v2.30h-35.3zM1194.2 1376.10h35.3v2.30h-35.3zM1299.1 1376.10h35.3v2.30h-35.3zM1369.1 1376.10h35.3v2.30h-35.3zM1194.2 1378.10h35.3v2.30h-35.3zM1264.2 1378.10h35.3v2.30h-35.3zM1299.1 1378.10h35.3v2.30h-35.3zM1264.2 1380.10h35.3v2.30h-35.3zM1369.1 1380.10h35.3v2.30h-35.3zM1299.1 1384.10h35.3v2.30h-35.3zM1124.2 1386.10h35.3v2.30h-35.3zM1194.2 1386.10h35.3v2.30h-35.3zM1369.1 1386.10h35.3v2.30h-35.3zM1264.2 1392.10h35.3v2.30h-35.3zM1299.1 1392.10h35.3v2.30h-35.3zM1299.1 1394.10h35.3v2.30h-35.3zM1264.2 1398.10h35.3v2.30h-35.3zM1159.2 1400.10h35.3v2.30h-35.3zM1194.2 1400.10h35.3v2.30h-35.3zM1159.2 1402.10h35.3v2.30h-35.3zM1194.2 1402.10h35.3v2.30h-35.3zM1299.1 1404.10h35.3v2.30h-35.3zM1264.2 1408.10h35.3v2.30h-35.3zM1264.2 1412.10h35.3v2.30h-35.3zM1369.1 1412.10h35.3v2.30h-35.3zM1229.2 1418.10h35.3v2.30h-35.3zM1194.2 1420.10h35.3v2.30h-35.3zM1229.2 1420.10h35.3v2.30h-35.3zM1334.1 1420.10h35.3v2.30h-35.3zM1369.1 1422.10h35.3v2.30h-35.3zM1159.2 1424.10h35.3v2.30h-35.3zM1264.2 1430.10h35.3v2.30h-35.3zM1264.2 1434.10h35.3v2.30h-35.3zM1369.1 1434.10h35.3v2.30h-35.3zM1299.1 1436.10h35.3v2.30h-35.3zM1229.2 1438.10h35.3v2.30h-35.3zM1264.2 1438.10h35.3v2.30h-35.3zM1159.2 1440.10h35.3v2.30h-35.3zM1159.2 1442.10h35.3v2.30h-35.3zM1299.1 1444.10h35.3v2.30h-35.3zM1264.2 1450.10h35.3v2.30h-35.3zM1369.1 1450.10h35.3v2.30h-35.3zM1264.2 1452.10h35.3v2.30h-35.3zM1159.2 1454.10h35.3v2.30h-35.3zM1229.2 1454.10h35.3v2.30h-35.3zM1369.1 1458.10h35.3v2.30h-35.3zM1194.2 1460.10h35.3v2.30h-35.3zM1194.2 1462.10h35.3v2.30h-35.3zM1334.1 1462.10h35.3v2.30h-35.3zM1229.2 1508.10h35.3v2.30h-35.3zM1369.1 1522.10h35.3v2.30h-35.3zM1229.2 1530.10h35.3v2.30h-35.3zM1229.2 1532.10h35.3v2.30h-35.3zM1229.2 1544.10h35.3v2.30h-35.3zM1194.2 1552.10h35.3v2.30h-35.3zM1264.2 1554.10h35.3v2.30h-35.3zM1194.2 1560.10h35.3v2.30h-35.3zM1369.1 1570.10h35.3v2.30h-35.3zM1159.2 1576.10h35.3v2.30h-35.3zM1334.1 1576.10h35.3v2.30h-35.3zM1299.1 1584.10h35.3v2.30h-35.3zM1159.2 1592.10h35.3v2.30h-35.3z" fill="#9f2017" shape-rendering="crispEdges"/>
<path d="M1159.2 1320.10h35.3v2.30h-35.3zM1334.1 1320.10h35.3v2.30h-35.3zM1194.2 1322.10h35.3v2.30h-35.3zM1334.1 1324.10h35.3v2.30h-35.3zM1369.1 1324.10h35.3v2.30h-35.3zM1194.2 1328.10h35.3v2.30h-35.3zM1229.2 1328.10h35.3v2.30h-35.3zM1334.1 1330.10h35.3v2.30h-35.3zM1159.2 1334.10h35.3v2.30h-35.3zM1229.2 1336.10h35.3v2.30h-35.3zM1299.1 1336.10h35.3v2.30h-35.3zM1124.2 1340.10h35.3v2.30h-35.3zM1159.2 1340.10h35.3v2.30h-35.3zM1299.1 1340.10h35.3v2.30h-35.3zM1299.1 1346.10h35.3v2.30h-35.3zM1159.2 1348.10h35.3v2.30h-35.3zM1194.2 1348.10h35.3v2.30h-35.3zM1194.2 1350.10h35.3v2.30h-35.3zM1334.1 1350.10h35.3v2.30h-35.3zM1369.1 1350.10h35.3v2.30h-35.3zM1229.2 1352.10h35.3v2.30h-35.3zM1159.2 1354.10h35.3v2.30h-35.3zM1264.2 1354.10h35.3v2.30h-35.3zM1159.2 1356.10h35.3v2.30h-35.3zM1194.2 1358.10h35.3v2.30h-35.3zM1334.1 1362.10h35.3v2.30h-35.3zM1264.2 1368.10h35.3v2.30h-35.3zM1194.2 1370.10h35.3v2.30h-35.3zM1159.2 1372.10h35.3v2.30h-35.3zM1194.2 1374.10h35.3v2.30h-35.3zM1229.2 1374.10h35.3v2.30h-35.3zM1264.2 1374.10h35.3v2.30h-35.3zM1334.1 1376.10h35.3v2.30h-35.3zM1229.2 1378.10h35.3v2.30h-35.3zM1369.1 1378.10h35.3v2.30h-35.3zM1334.1 1380.10h35.3v2.30h-35.3zM1334.1 1382.10h35.3v2.30h-35.3zM1369.1 1382.10h35.3v2.30h-35.3zM1264.2 1384.10h35.3v2.30h-35.3zM1334.1 1384.10h35.3v2.30h-35.3zM1369.1 1384.10h35.3v2.30h-35.3zM1334.1 1388.10h35.3v2.30h-35.3zM1369.1 1388.10h35.3v2.30h-35.3zM1159.2 1390.10h35.3v2.30h-35.3zM1194.2 1390.10h35.3v2.30h-35.3zM1264.2 1390.10h35.3v2.30h-35.3zM1124.2 1392.10h35.3v2.30h-35.3zM1334.1 1392.10h35.3v2.30h-35.3zM1369.1 1392.10h35.3v2.30h-35.3zM1194.2 1394.10h35.3v2.30h-35.3zM1124.2 1396.10h35.3v2.30h-35.3zM1299.1 1396.10h35.3v2.30h-35.3zM1369.1 1396.10h35.3v2.30h-35.3zM1159.2 1398.10h35.3v2.30h-35.3zM1334.1 1398.10h35.3v2.30h-35.3zM1369.1 1398.10h35.3v2.30h-35.3zM1264.2 1400.10h35.3v2.30h-35.3zM1299.1 1400.10h35.3v2.30h-35.3zM1264.2 1404.10h35.3v2.30h-35.3zM1264.2 1406.10h35.3v2.30h-35.3zM1299.1 1406.10h35.3v2.30h-35.3zM1229.2 1408.10h35.3v2.30h-35.3zM1334.1 1408.10h35.3v2.30h-35.3zM1299.1 1410.10h35.3v2.30h-35.3zM1194.2 1412.10h35.3v2.30h-35.3zM1369.1 1420.10h35.3v2.30h-35.3zM1229.2 1422.10h35.3v2.30h-35.3zM1229.2 1428.10h35.3v2.30h-35.3zM1229.2 1432.10h35.3v2.30h-35.3zM1229.2 1434.10h35.3v2.30h-35.3zM1369.1 1438.10h35.3v2.30h-35.3zM1369.1 1442.10h35.3v2.30h-35.3zM1124.2 1444.10h35.3v2.30h-35.3zM1124.2 1446.10h35.3v2.30h-35.3zM1299.1 1452.10h35.3v2.30h-35.3zM1369.1 1452.10h35.3v2.30h-35.3zM1194.2 1454.10h35.3v2.30h-35.3zM1264.2 1454.10h35.3v2.30h-35.3zM1229.2 1456.10h35.3v2.30h-35.3zM1264.2 1456.10h35.3v2.30h-35.3zM1299.1 1456.10h35.3v2.30h-35.3zM1194.2 1458.10h35.3v2.30h-35.3zM1264.2 1460.10h35.3v2.30h-35.3zM1299.1 1460.10h35.3v2.30h-35.3zM1264.2 1462.10h35.3v2.30h-35.3zM1369.1 1462.10h35.3v2.30h-35.3zM1124.2 1500.10h35.3v2.30h-35.3zM1229.2 1534.10h35.3v2.30h-35.3zM1264.2 1548.10h35.3v2.30h-35.3zM1334.1 1548.10h35.3v2.30h-35.3zM1229.2 1556.10h35.3v2.30h-35.3zM1124.2 1560.10h35.3v2.30h-35.3zM1159.2 1568.10h35.3v2.30h-35.3zM1299.1 1568.10h35.3v2.30h-35.3zM1369.1 1568.10h35.3v2.30h-35.3zM1264.2 1572.10h35.3v2.30h-35.3zM1264.2 1574.10h35.3v2.30h-35.3zM1194.2 1580.10h35.3v2.30h-35.3zM1229.2 1590.10h35.3v2.30h-35.3z" fill="#a52117" shape-rendering="crispEdges"/>
<path d="M1159.2 1326.10h35.3v2.30h-35.3zM1124.2 1328.10h35.3v2.30h-35.3zM1299.1 1328.10h35.3v2.30h-35.3zM1194.2 1330.10h35.3v2.30h-35.3zM1194.2 1332.10h35.3v2.30h-35.3zM1299.1 1332.10h35.3v2.30h-35.3zM1334.1 1332.10h35.3v2.30h-35.3zM1124.2 1336.10h35.3v2.30h-35.3zM1159.2 1336.10h35.3v2.30h-35.3zM1194.2 1336.10h35.3v2.30h-35.3zM1334.1 1336.10h35.3v2.30h-35.3zM1369.1 1338.10h35.3v2.30h-35.3zM1334.1 1340.10h35.3v2.30h-35.3zM1334.1 1342.10h35.3v2.30h-35.3zM1369.1 1342.10h35.3v2.30h-35.3zM1159.2 1344.10h35.3v2.30h-35.3zM1194.2 1344.10h35.3v2.30h-35.3zM1299.1 1344.10h35.3v2.30h-35.3zM1369.1 1346.10h35.3v2.30h-35.3zM1194.2 1352.10h35.3v2.30h-35.3zM1299.1 1360.10h35.3v2.30h-35.3zM1334.1 1368.10h35.3v2.30h-35.3zM1264.2 1370.10h35.3v2.30h-35.3zM1334.1 1370.10h35.3v2.30h-35.3zM1229.2 1372.10h35.3v2.30h-35.3zM1369.1 1372.10h35.3v2.30h-35.3zM1159.2 1374.10h35.3v2.30h-35.3zM1369.1 1374.10h35.3v2.30h-35.3zM1159.2 1376.10h35.3v2.30h-35.3zM1264.2 1376.10h35.3v2.30h-35.3zM1124.2 1380.10h35.3v2.30h-35.3zM1159.2 1380.10h35.3v2.30h-35.3zM1194.2 1380.10h35.3v2.30h-35.3zM1229.2 1380.10h35.3v2.30h-35.3zM1159.2 1382.10h35.3v2.30h-35.3zM1159.2 1388.10h35.3v2.30h-35.3zM1264.2 1388.10h35.3v2.30h-35.3zM1229.2 1390.10h35.3v2.30h-35.3zM1369.1 1390.10h35.3v2.30h-35.3zM1159.2 1392.10h35.3v2.30h-35.3zM1229.2 1394.10h35.3v2.30h-35.3zM1124.2 1398.10h35.3v2.30h-35.3zM1194.2 1398.10h35.3v2.30h-35.3zM1229.2 1398.10h35.3v2.30h-35.3zM1299.1 1398.10h35.3v2.30h-35.3zM1124.2 1400.10h35.3v2.30h-35.3zM1369.1 1402.10h35.3v2.30h-35.3zM1124.2 1404.10h35.3v2.30h-35.3zM1159.2 1404.10h35.3v2.30h-35.3zM1194.2 1404.10h35.3v2.30h-35.3zM1229.2 1404.10h35.3v2.30h-35.3zM1194.2 1406.10h35.3v2.30h-35.3zM1334.1 1406.10h35.3v2.30h-35.3zM1124.2 1408.10h35.3v2.30h-35.3zM1159.2 1408.10h35.3v2.30h-35.3zM1194.2 1408.10h35.3v2.30h-35.3zM1299.1 1408.10h35.3v2.30h-35.3zM1369.1 1408.10h35.3v2.30h-35.3zM1264.2 1418.10h35.3v2.30h-35.3zM1124.2 1426.10h35.3v2.30h-35.3zM1124.2 1430.10h35.3v2.30h-35.3zM1229.2 1436.10h35.3v2.30h-35.3zM1194.2 1438.10h35.3v2.30h-35.3zM1334.1 1446.10h35.3v2.30h-35.3zM1229.2 1452.10h35.3v2.30h-35.3zM1334.1 1452.10h35.3v2.30h-35.3zM1159.2 1456.10h35.3v2.30h-35.3zM1334.1 1456.10h35.3v2.30h-35.3zM1159.2 1458.10h35.3v2.30h-35.3zM1334.1 1458.10h35.3v2.30h-35.3zM1229.2 1460.10h35.3v2.30h-35.3zM1334.1 1460.10h35.3v2.30h-35.3zM1369.1 1460.10h35.3v2.30h-35.3zM1229.2 1462.10h35.3v2.30h-35.3zM1229.2 1464.10h35.3v2.30h-35.3zM1264.2 1464.10h35.3v2.30h-35.3zM1334.1 1464.10h35.3v2.30h-35.3zM1299.1 1480.10h35.3v2.30h-35.3zM1229.2 1482.10h35.3v2.30h-35.3zM1299.1 1482.10h35.3v2.30h-35.3zM1369.1 1482.10h35.3v2.30h-35.3zM1124.2 1486.10h35.3v2.30h-35.3zM1264.2 1486.10h35.3v2.30h-35.3zM1124.2 1494.10h35.3v2.30h-35.3zM1334.1 1506.10h35.3v2.30h-35.3zM1334.1 1508.10h35.3v2.30h-35.3zM1264.2 1524.10h35.3v2.30h-35.3zM1229.2 1542.10h35.3v2.30h-35.3zM1194.2 1546.10h35.3v2.30h-35.3zM1229.2 1570.10h35.3v2.30h-35.3zM1194.2 1574.10h35.3v2.30h-35.3z" fill="#ab2218" shape-rendering="crispEdges"/>
<path d="M1334.1 1322.10h35.3v2.30h-35.3zM1264.2 1328.10h35.3v2.30h-35.3zM1369.1 1328.10h35.3v2.30h-35.3zM1159.2 1332.10h35.3v2.30h-35.3zM1369.1 1332.10h35.3v2.30h-35.3zM1369.1 1336.10h35.3v2.30h-35.3zM1159.2 1338.10h35.3v2.30h-35.3zM1159.2 1342.10h35.3v2.30h-35.3zM1194.2 1342.10h35.3v2.30h-35.3zM1369.1 1344.10h35.3v2.30h-35.3zM1194.2 1346.10h35.3v2.30h-35.3zM1124.2 1354.10h35.3v2.30h-35.3zM1124.2 1356.10h35.3v2.30h-35.3zM1229.2 1366.10h35.3v2.30h-35.3zM1299.1 1366.10h35.3v2.30h-35.3zM1334.1 1366.10h35.3v2.30h-35.3zM1159.2 1368.10h35.3v2.30h-35.3zM1369.1 1368.10h35.3v2.30h-35.3zM1299.1 1370.10h35.3v2.30h-35.3zM1369.1 1370.10h35.3v2.30h-35.3zM1299.1 1372.10h35.3v2.30h-35.3zM1334.1 1372.10h35.3v2.30h-35.3zM1124.2 1374.10h35.3v2.30h-35.3zM1299.1 1374.10h35.3v2.30h-35.3zM1124.2 1376.10h35.3v2.30h-35.3zM1229.2 1376.10h35.3v2.30h-35.3zM1124.2 1378.10h35.3v2.30h-35.3zM1334.1 1378.10h35.3v2.30h-35.3zM1229.2 1382.10h35.3v2.30h-35.3zM1299.1 1382.10h35.3v2.30h-35.3zM1124.2 1384.10h35.3v2.30h-35.3zM1159.2 1384.10h35.3v2.30h-35.3zM1229.2 1384.10h35.3v2.30h-35.3zM1229.2 1388.10h35.3v2.30h-35.3zM1124.2 1390.10h35.3v2.30h-35.3zM1299.1 1390.10h35.3v2.30h-35.3zM1334.1 1390.10h35.3v2.30h-35.3zM1229.2 1392.10h35.3v2.30h-35.3zM1124.2 1394.10h35.3v2.30h-35.3zM1334.1 1394.10h35.3v2.30h-35.3zM1264.2 1396.10h35.3v2.30h-35.3zM1334.1 1396.10h35.3v2.30h-35.3zM1369.1 1400.10h35.3v2.30h-35.3zM1229.2 1402.10h35.3v2.30h-35.3zM1264.2 1402.10h35.3v2.30h-35.3zM1299.1 1402.10h35.3v2.30h-35.3zM1124.2 1420.10h35.3v2.30h-35.3zM1264.2 1420.10h35.3v2.30h-35.3zM1229.2 1426.10h35.3v2.30h-35.3zM1299.1 1430.10h35.3v2.30h-35.3zM1229.2 1444.10h35.3v2.30h-35.3zM1334.1 1450.10h35.3v2.30h-35.3zM1194.2 1452.10h35.3v2.30h-35.3zM1334.1 1454.10h35.3v2.30h-35.3zM1194.2 1456.10h35.3v2.30h-35.3zM1229.2 1458.10h35.3v2.30h-35.3zM1264.2 1458.10h35.3v2.30h-35.3zM1299.1 1458.10h35.3v2.30h-35.3zM1159.2 1460.10h35.3v2.30h-35.3zM1194.2 1464.10h35.3v2.30h-35.3zM1299.1 1464.10h35.3v2.30h-35.3zM1369.1 1464.10h35.3v2.30h-35.3zM1299.1 1466.10h35.3v2.30h-35.3zM1264.2 1468.10h35.3v2.30h-35.3zM1334.1 1468.10h35.3v2.30h-35.3zM1334.1 1472.10h35.3v2.30h-35.3zM1334.1 1474.10h35.3v2.30h-35.3zM1264.2 1478.10h35.3v2.30h-35.3zM1299.1 1478.10h35.3v2.30h-35.3zM1159.2 1480.10h35.3v2.30h-35.3zM1194.2 1486.10h35.3v2.30h-35.3zM1369.1 1486.10h35.3v2.30h-35.3zM1369.1 1496.10h35.3v2.30h-35.3zM1264.2 1502.10h35.3v2.30h-35.3zM1229.2 1538.10h35.3v2.30h-35.3zM1369.1 1574.10h35.3v2.30h-35.3z" fill="#b22318" shape-rendering="crispEdges"/>
<path d="M1159.2 1328.10h35.3v2.30h-35.3zM1334.1 1328.10h35.3v2.30h-35.3zM1334.1 1338.10h35.3v2.30h-35.3zM1124.2 1366.10h35.3v2.30h-35.3zM1159.2 1366.10h35.3v2.30h-35.3zM1194.2 1366.10h35.3v2.30h-35.3zM1124.2 1368.10h35.3v2.30h-35.3zM1229.2 1368.10h35.3v2.30h-35.3zM1124.2 1372.10h35.3v2.30h-35.3zM1264.2 1372.10h35.3v2.30h-35.3zM1334.1 1374.10h35.3v2.30h-35.3zM1124.2 1382.10h35.3v2.30h-35.3zM1194.2 1382.10h35.3v2.30h-35.3zM1264.2 1382.10h35.3v2.30h-35.3zM1229.2 1386.10h35.3v2.30h-35.3zM1264.2 1386.10h35.3v2.30h-35.3zM1264.2 1394.10h35.3v2.30h-35.3zM1369.1 1394.10h35.3v2.30h-35.3zM1159.2 1396.10h35.3v2.30h-35.3zM1334.1 1400.10h35.3v2.30h-35.3zM1124.2 1402.10h35.3v2.30h-35.3zM1334.1 1402.10h35.3v2.30h-35.3zM1334.1 1404.10h35.3v2.30h-35.3zM1369.1 1404.10h35.3v2.30h-35.3zM1159.2 1406.10h35.3v2.30h-35.3zM1229.2 1406.10h35.3v2.30h-35.3zM1369.1 1406.10h35.3v2.30h-35.3zM1124.2 1436.10h35.3v2.30h-35.3zM1159.2 1452.10h35.3v2.30h-35.3zM1369.1 1456.10h35.3v2.30h-35.3zM1159.2 1464.10h35.3v2.30h-35.3zM1159.2 1468.10h35.3v2.30h-35.3zM1229.2 1468.10h35.3v2.30h-35.3zM1159.2 1470.10h35.3v2.30h-35.3zM1299.1 1470.10h35.3v2.30h-35.3zM1159.2 1472.10h35.3v2.30h-35.3zM1229.2 1474.10h35.3v2.30h-35.3zM1369.1 1474.10h35.3v2.30h-35.3zM1229.2 1476.10h35.3v2.30h-35.3zM1334.1 1478.10h35.3v2.30h-35.3zM1124.2 1480.10h35.3v2.30h-35.3zM1264.2 1480.10h35.3v2.30h-35.3zM1334.1 1480.10h35.3v2.30h-35.3zM1369.1 1480.10h35.3v2.30h-35.3zM1159.2 1482.10h35.3v2.30h-35.3zM1159.2 1486.10h35.3v2.30h-35.3zM1229.2 1486.10h35.3v2.30h-35.3zM1334.1 1486.10h35.3v2.30h-35.3zM1299.1 1488.10h35.3v2.30h-35.3zM1159.2 1494.10h35.3v2.30h-35.3zM1194.2 1494.10h35.3v2.30h-35.3zM1369.1 1494.10h35.3v2.30h-35.3zM1124.2 1496.10h35.3v2.30h-35.3zM1159.2 1496.10h35.3v2.30h-35.3zM1229.2 1496.10h35.3v2.30h-35.3zM1264.2 1496.10h35.3v2.30h-35.3zM1159.2 1500.10h35.3v2.30h-35.3zM1334.1 1500.10h35.3v2.30h-35.3zM1194.2 1502.10h35.3v2.30h-35.3zM1229.2 1502.10h35.3v2.30h-35.3zM1369.1 1502.10h35.3v2.30h-35.3zM1124.2 1504.10h35.3v2.30h-35.3zM1194.2 1504.10h35.3v2.30h-35.3zM1334.1 1504.10h35.3v2.30h-35.3zM1194.2 1506.10h35.3v2.30h-35.3zM1369.1 1532.10h35.3v2.30h-35.3z" fill="#b82419" shape-rendering="crispEdges"/>
<path d="M1334.1 1344.10h35.3v2.30h-35.3zM1369.1 1366.10h35.3v2.30h-35.3zM1124.2 1370.10h35.3v2.30h-35.3zM1124.2 1388.10h35.3v2.30h-35.3zM1159.2 1394.10h35.3v2.30h-35.3zM1194.2 1396.10h35.3v2.30h-35.3zM1229.2 1396.10h35.3v2.30h-35.3zM1124.2 1406.10h35.3v2.30h-35.3zM1299.1 1454.10h35.3v2.30h-35.3zM1264.2 1466.10h35.3v2.30h-35.3zM1334.1 1466.10h35.3v2.30h-35.3zM1194.2 1468.10h35.3v2.30h-35.3zM1194.2 1470.10h35.3v2.30h-35.3zM1334.1 1470.10h35.3v2.30h-35.3zM1299.1 1474.10h35.3v2.30h-35.3zM1159.2 1478.10h35.3v2.30h-35.3zM1194.2 1478.10h35.3v2.30h-35.3zM1194.2 1480.10h35.3v2.30h-35.3zM1194.2 1482.10h35.3v2.30h-35.3zM1159.2 1484.10h35.3v2.30h-35.3zM1264.2 1484.10h35.3v2.30h-35.3zM1334.1 1488.10h35.3v2.30h-35.3zM1264.2 1490.10h35.3v2.30h-35.3zM1299.1 1490.10h35.3v2.30h-35.3zM1264.2 1492.10h35.3v2.30h-35.3zM1229.2 1494.10h35.3v2.30h-35.3zM1334.1 1496.10h35.3v2.30h-35.3zM1159.2 1498.10h35.3v2.30h-35.3zM1369.1 1498.10h35.3v2.30h-35.3zM1229.2 1500.10h35.3v2.30h-35.3zM1369.1 1500.10h35.3v2.30h-35.3zM1124.2 1502.10h35.3v2.30h-35.3zM1159.2 1502.10h35.3v2.30h-35.3zM1299.1 1502.10h35.3v2.30h-35.3zM1159.2 1504.10h35.3v2.30h-35.3zM1299.1 1504.10h35.3v2.30h-35.3zM1229.2 1506.10h35.3v2.30h-35.3zM1299.1 1506.10h35.3v2.30h-35.3zM1124.2 1508.10h35.3v2.30h-35.3zM1159.2 1508.10h35.3v2.30h-35.3zM1194.2 1508.10h35.3v2.30h-35.3zM1299.1 1508.10h35.3v2.30h-35.3z" fill="#be2519" shape-rendering="crispEdges"/>
<path d="M1229.2 1400.10h35.3v2.30h-35.3zM1369.1 1410.10h35.3v2.30h-35.3zM1124.2 1466.10h35.3v2.30h-35.3zM1194.2 1466.10h35.3v2.30h-35.3zM1229.2 1466.10h35.3v2.30h-35.3zM1369.1 1466.10h35.3v2.30h-35.3zM1369.1 1468.10h35.3v2.30h-35.3zM1124.2 1470.10h35.3v2.30h-35.3zM1229.2 1470.10h35.3v2.30h-35.3zM1369.1 1470.10h35.3v2.30h-35.3zM1124.2 1472.10h35.3v2.30h-35.3zM1194.2 1472.10h35.3v2.30h-35.3zM1229.2 1472.10h35.3v2.30h-35.3zM1299.1 1472.10h35.3v2.30h-35.3zM1369.1 1472.10h35.3v2.30h-35.3zM1124.2 1474.10h35.3v2.30h-35.3zM1194.2 1474.10h35.3v2.30h-35.3zM1264.2 1474.10h35.3v2.30h-35.3zM1124.2 1476.10h35.3v2.30h-35.3zM1194.2 1476.10h35.3v2.30h-35.3zM1264.2 1476.10h35.3v2.30h-35.3zM1124.2 1478.10h35.3v2.30h-35.3zM1229.2 1478.10h35.3v2.30h-35.3zM1369.1 1478.10h35.3v2.30h-35.3zM1229.2 1480.10h35.3v2.30h-35.3zM1124.2 1482.10h35.3v2.30h-35.3zM1264.2 1482.10h35.3v2.30h-35.3zM1334.1 1482.10h35.3v2.30h-35.3zM1124.2 1484.10h35.3v2.30h-35.3zM1194.2 1484.10h35.3v2.30h-35.3zM1299.1 1484.10h35.3v2.30h-35.3zM1194.2 1488.10h35.3v2.30h-35.3zM1124.2 1490.10h35.3v2.30h-35.3zM1194.2 1490.10h35.3v2.30h-35.3zM1334.1 1490.10h35.3v2.30h-35.3zM1159.2 1492.10h35.3v2.30h-35.3zM1299.1 1492.10h35.3v2.30h-35.3zM1299.1 1494.10h35.3v2.30h-35.3zM1334.1 1494.10h35.3v2.30h-35.3zM1299.1 1496.10h35.3v2.30h-35.3zM1124.2 1498.10h35.3v2.30h-35.3zM1264.2 1498.10h35.3v2.30h-35.3zM1194.2 1500.10h35.3v2.30h-35.3zM1264.2 1500.10h35.3v2.30h-35.3zM1299.1 1500.10h35.3v2.30h-35.3zM1334.1 1502.10h35.3v2.30h-35.3zM1229.2 1504.10h35.3v2.30h-35.3zM1124.2 1506.10h35.3v2.30h-35.3z" fill="#c5261a" shape-rendering="crispEdges"/>
<path d="M1159.2 1466.10h35.3v2.30h-35.3zM1124.2 1468.10h35.3v2.30h-35.3zM1264.2 1472.10h35.3v2.30h-35.3zM1159.2 1474.10h35.3v2.30h-35.3zM1159.2 1476.10h35.3v2.30h-35.3zM1299.1 1476.10h35.3v2.30h-35.3zM1334.1 1476.10h35.3v2.30h-35.3zM1369.1 1476.10h35.3v2.30h-35.3zM1229.2 1484.10h35.3v2.30h-35.3zM1334.1 1484.10h35.3v2.30h-35.3zM1369.1 1484.10h35.3v2.30h-35.3zM1299.1 1486.10h35.3v2.30h-35.3zM1159.2 1488.10h35.3v2.30h-35.3zM1264.2 1488.10h35.3v2.30h-35.3zM1369.1 1488.10h35.3v2.30h-35.3zM1159.2 1490.10h35.3v2.30h-35.3zM1369.1 1490.10h35.3v2.30h-35.3zM1229.2 1492.10h35.3v2.30h-35.3zM1369.1 1492.10h35.3v2.30h-35.3zM1194.2 1498.10h35.3v2.30h-35.3zM1229.2 1498.10h35.3v2.30h-35.3zM1159.2 1506.10h35.3v2.30h-35.3z" fill="#cb271a" shape-rendering="crispEdges"/>
<path d="M1299.1 1468.10h35.3v2.30h-35.3zM1264.2 1470.10h35.3v2.30h-35.3zM1124.2 1488.10h35.3v2.30h-35.3zM1229.2 1488.10h35.3v2.30h-35.3zM1229.2 1490.10h35.3v2.30h-35.3zM1124.2 1492.10h35.3v2.30h-35.3zM1194.2 1492.10h35.3v2.30h-35.3zM1264.2 1494.10h35.3v2.30h-35.3zM1299.1 1498.10h35.3v2.30h-35.3zM1334.1 1498.10h35.3v2.30h-35.3z" fill="#d1281b" shape-rendering="crispEdges"/>
<path d="M1334.1 1492.10h35.3v2.30h-35.3zM1194.2 1496.10h35.3v2.30h-35.3z" fill="#d8291b" shape-rendering="crispEdges"/>
<line x1="1159.19" y1="1320.1" x2="1159.19" y2="1594.1" stroke="#fff" stroke-width="1" stroke-opacity="0.22"/>
<line x1="1194.17" y1="1320.1" x2="1194.17" y2="1594.1" stroke="#fff" stroke-width="1" stroke-opacity="0.22"/>
<line x1="1229.16" y1="1320.1" x2="1229.16" y2="1594.1" stroke="#fff" stroke-width="1" stroke-opacity="0.22"/>
<line x1="1264.15" y1="1320.1" x2="1264.15" y2="1594.1" stroke="#fff" stroke-width="1" stroke-opacity="0.22"/>
<line x1="1299.14" y1="1320.1" x2="1299.14" y2="1594.1" stroke="#fff" stroke-width="1" stroke-opacity="0.22"/>
<line x1="1334.12" y1="1320.1" x2="1334.12" y2="1594.1" stroke="#fff" stroke-width="1" stroke-opacity="0.22"/>
<line x1="1369.11" y1="1320.1" x2="1369.11" y2="1594.1" stroke="#fff" stroke-width="1" stroke-opacity="0.22"/>
<line x1="1124.2" y1="1329.69" x2="1404.1" y2="1329.69" stroke="#fff" stroke-width="1.3" stroke-opacity="0.22"/>
<line x1="1124.2" y1="1342.02" x2="1404.1" y2="1342.02" stroke="#fff" stroke-width="1.3" stroke-opacity="0.22"/>
<line x1="1124.2" y1="1351.61" x2="1404.1" y2="1351.61" stroke="#fff" stroke-width="1.3" stroke-opacity="0.22"/>
<line x1="1124.2" y1="1368.05" x2="1404.1" y2="1368.05" stroke="#fff" stroke-width="1.3" stroke-opacity="0.22"/>
<line x1="1124.2" y1="1383.12" x2="1404.1" y2="1383.12" stroke="#fff" stroke-width="1.3" stroke-opacity="0.22"/>
<line x1="1124.2" y1="1394.08" x2="1404.1" y2="1394.08" stroke="#fff" stroke-width="1.3" stroke-opacity="0.22"/>
<line x1="1124.2" y1="1398.19" x2="1404.1" y2="1398.19" stroke="#fff" stroke-width="1.3" stroke-opacity="0.22"/>
<line x1="1124.2" y1="1414.63" x2="1404.1" y2="1414.63" stroke="#fff" stroke-width="1.3" stroke-opacity="0.22"/>
<line x1="1124.2" y1="1435.18" x2="1404.1" y2="1435.18" stroke="#fff" stroke-width="1.3" stroke-opacity="0.22"/>
<line x1="1124.2" y1="1459.84" x2="1404.1" y2="1459.84" stroke="#fff" stroke-width="1.3" stroke-opacity="0.22"/>
<line x1="1124.2" y1="1470.8" x2="1404.1" y2="1470.8" stroke="#fff" stroke-width="1.3" stroke-opacity="0.22"/>
<line x1="1124.2" y1="1480.39" x2="1404.1" y2="1480.39" stroke="#fff" stroke-width="1.3" stroke-opacity="0.22"/>
<line x1="1124.2" y1="1495.46" x2="1404.1" y2="1495.46" stroke="#fff" stroke-width="1.3" stroke-opacity="0.22"/>
<line x1="1124.2" y1="1499.57" x2="1404.1" y2="1499.57" stroke="#fff" stroke-width="1.3" stroke-opacity="0.22"/>
<line x1="1124.2" y1="1569.44" x2="1404.1" y2="1569.44" stroke="#fff" stroke-width="1.3" stroke-opacity="0.22"/>
<line x1="1124.2" y1="1583.14" x2="1404.1" y2="1583.14" stroke="#fff" stroke-width="1.3" stroke-opacity="0.22"/>
<path d="M1122.9 1320.1 L1113.7 1320.1 L1110.9 1328.4 L1117.2 1338.3 L1110.9 1352.5 L1115.8 1361.0 L1109.4 1369.5 L1116.5 1383.7 L1117.2 1395.0 L1106.9 1409.2 L1113.7 1417.7 L1110.9 1426.2 L1117.2 1437.6 L1110.9 1446.1 L1100.2 1451.7 L1104.5 1458.8 L1106.6 1465.9 L1113.7 1470.2 L1110.9 1480.1 L1116.5 1491.4 L1113.7 1499.9 L1094.6 1502.0 L1096.0 1508.4 L1100.9 1514.1 L1096.7 1522.6 L1102.4 1531.1 L1098.1 1539.6 L1103.8 1548.1 L1100.9 1553.8 L1106.6 1562.3 L1112.3 1570.8 L1108.0 1579.3 L1110.9 1586.4 L1106.6 1593.5 L1122.9 1594.1 Z" fill="#0a0a08"/>
<path d="M1114.6 1320.6H1115.3M1114.5 1322.3H1115.3M1115.2 1324.0H1115.3M1111.0 1325.2H1115.3M1111.5 1327.2H1115.3M1115.2 1328.6H1115.3M1113.9 1330.2H1115.3M1113.3 1331.8H1115.3M1113.7 1333.1H1115.3M1113.8 1335.1H1115.3M1115.4 1337.0H1115.3M1116.3 1338.2H1115.3M1114.3 1340.0H1115.3M1118.0 1341.1H1115.3M1117.5 1342.8H1115.3M1116.8 1344.8H1115.3M1114.2 1346.8H1115.3M1113.9 1348.7H1115.3M1115.7 1350.8H1115.3M1110.9 1352.1H1115.3M1115.5 1353.4H1115.3M1113.3 1355.0H1115.3M1112.5 1356.5H1115.3M1111.4 1358.0H1115.3M1112.6 1359.7H1115.3M1113.0 1361.8H1115.3M1113.9 1363.8H1115.3M1112.6 1365.9H1115.3M1113.6 1367.2H1115.3M1113.7 1369.3H1115.3M1112.9 1371.0H1115.3M1114.2 1372.4H1115.3M1111.6 1374.1H1115.3M1115.4 1375.4H1115.3M1111.7 1377.5H1115.3M1114.3 1379.4H1115.3M1114.2 1380.7H1115.3M1118.3 1382.6H1115.3M1117.3 1383.8H1115.3M1118.2 1385.0H1115.3M1118.9 1386.5H1115.3M1116.3 1388.6H1115.3M1114.7 1390.7H1115.3M1116.2 1392.0H1115.3M1113.6 1393.2H1115.3M1115.8 1394.7H1115.3M1112.2 1396.0H1115.3M1113.4 1398.0H1115.3M1116.5 1400.1H1115.3M1113.6 1401.6H1115.3M1114.0 1403.3H1115.3M1112.7 1405.0H1115.3M1114.2 1406.8H1115.3M1110.5 1408.4H1115.3M1108.5 1410.3H1115.3M1112.2 1411.7H1115.3M1109.7 1413.4H1115.3M1109.3 1414.6H1115.3M1107.4 1416.3H1115.3M1111.5 1418.1H1115.3M1111.9 1419.3H1115.3M1112.6 1420.9H1115.3M1113.2 1422.4H1115.3M1109.7 1424.3H1115.3M1113.9 1425.5H1115.3M1112.0 1427.6H1115.3M1114.3 1429.2H1115.3M1113.2 1430.6H1115.3M1113.4 1432.1H1115.3M1113.3 1433.8H1115.3M1116.4 1435.4H1115.3M1115.4 1436.6H1115.3M1114.2 1438.4H1115.3M1117.4 1439.8H1115.3M1114.0 1441.2H1115.3M1117.3 1442.8H1115.3M1115.3 1444.1H1115.3M1116.8 1445.5H1115.3M1115.1 1447.1H1115.3M1110.4 1448.4H1115.3M1111.6 1450.2H1115.3M1105.9 1451.8H1115.3M1106.2 1453.1H1115.3M1106.6 1454.5H1115.3M1101.4 1456.4H1115.3M1104.0 1457.9H1115.3M1106.6 1459.6H1115.3M1105.0 1461.1H1115.3M1111.2 1462.6H1115.3M1110.2 1464.0H1115.3M1111.7 1465.6H1115.3M1115.7 1467.1H1115.3M1111.1 1468.4H1115.3M1116.5 1470.5H1115.3M1112.5 1472.6H1115.3M1114.0 1474.7H1115.3M1112.1 1476.1H1115.3M1112.2 1478.0H1115.3M1110.4 1479.7H1115.3M1110.5 1481.2H1115.3M1113.0 1482.4H1115.3M1114.7 1483.9H1115.3M1115.6 1485.1H1115.3M1116.2 1486.9H1115.3M1116.7 1488.9H1115.3M1111.9 1490.6H1115.3M1111.9 1492.5H1115.3M1113.9 1494.0H1115.3M1111.3 1495.6H1115.3M1111.2 1497.7H1115.3M1108.2 1499.2H1115.3M1104.8 1501.2H1115.3M1099.3 1503.1H1115.3M1098.1 1504.4H1115.3M1093.7 1506.4H1115.3M1095.9 1508.3H1115.3M1093.4 1510.2H1115.3M1091.9 1511.4H1115.3M1088.0 1513.4H1115.3M1089.0 1514.8H1115.3M1089.7 1516.5H1115.3M1092.4 1518.1H1115.3M1088.6 1519.3H1115.3M1089.5 1520.6H1115.3M1095.1 1521.8H1115.3M1091.0 1523.8H1115.3M1093.5 1525.4H1115.3M1094.8 1526.9H1115.3M1097.5 1528.7H1115.3M1096.5 1530.2H1115.3M1097.4 1531.7H1115.3M1102.3 1533.4H1115.3M1097.2 1534.9H1115.3M1097.8 1536.2H1115.3M1098.8 1538.0H1115.3M1097.6 1539.5H1115.3M1094.8 1541.3H1115.3M1094.7 1542.8H1115.3M1093.6 1544.6H1115.3M1093.9 1546.5H1115.3M1095.6 1547.9H1115.3M1094.5 1549.7H1115.3M1098.1 1551.3H1115.3M1103.0 1553.3H1115.3M1103.7 1554.8H1115.3M1099.2 1556.7H1115.3M1097.7 1558.3H1115.3M1100.1 1560.3H1115.3M1100.1 1562.3H1115.3M1099.0 1564.1H1115.3M1095.3 1565.8H1115.3M1095.7 1567.5H1115.3M1101.0 1568.8H1115.3M1097.6 1570.0H1115.3M1103.0 1571.3H1115.3M1098.7 1572.6H1115.3M1100.3 1574.6H1115.3M1104.3 1576.6H1115.3M1106.2 1578.5H1115.3M1105.5 1580.2H1115.3M1105.5 1581.4H1115.3M1105.4 1583.1H1115.3M1105.7 1584.4H1115.3M1101.5 1586.4H1115.3M1101.6 1587.9H1115.3M1095.8 1589.8H1115.3M1094.5 1591.2H1115.3M1103.1 1592.9H1115.3" fill="none" stroke="#000" stroke-width="1.5"/>
<path d="M1115.3 1321.2V1330.3M1113.3 1325.7V1331.8M1113.5 1330.7V1340.0M1113.1 1336.9V1348.8M1116.6 1343.1V1353.3M1114.8 1348.1V1361.9M1111.8 1351.7V1364.1M1112.2 1358.5V1368.1M1110.6 1364.6V1372.4M1111.6 1368.4V1376.7M1112.7 1372.3V1386.7M1114.3 1376.5V1385.8M1116.5 1383.1V1391.0M1114.9 1387.0V1396.9M1114.5 1391.6V1400.4M1115.6 1396.0V1402.6M1113.0 1403.1V1414.1M1112.0 1408.1V1421.2M1109.3 1413.4V1425.6M1110.9 1420.0V1432.3M1113.1 1427.1V1434.5M1114.6 1431.0V1442.8M1116.3 1438.1V1445.7M1115.0 1441.8V1448.9M1113.2 1447.8V1461.7M1108.6 1451.8V1460.1M1103.8 1456.6V1462.7M1106.3 1460.0V1468.0M1111.5 1464.4V1476.2M1112.8 1467.4V1476.9M1111.9 1472.5V1483.4M1111.2 1479.5V1490.0M1111.8 1483.0V1494.6M1114.7 1486.4V1500.4M1115.8 1489.8V1498.7M1112.3 1496.0V1504.2M1103.6 1501.9V1514.9M1096.9 1506.0V1520.4M1091.1 1511.8V1518.2M1089.7 1516.8V1529.0M1092.7 1522.7V1529.7M1097.1 1528.4V1535.4M1099.9 1535.1V1541.6M1093.7 1542.1V1550.5M1095.8 1548.1V1558.7M1100.6 1553.8V1562.1M1098.8 1557.5V1569.6M1097.8 1563.7V1576.0M1098.1 1568.2V1577.1M1101.2 1574.8V1585.0M1104.3 1578.9V1587.5M1103.7 1583.2V1593.7M1097.4 1589.5V1593.9" fill="none" stroke="#000" stroke-width="1.6"/>
<path d="M1045.9 1454.8V1533.2M1045.9 1454.8H1080.3M1080.3 1419.8V1488.7M1080.3 1419.8H1093.0M1093.0 1382.7V1456.9M1093.0 1382.7H1103.2M1103.2 1352.0V1416.6M1103.2 1352.0H1107.9M1107.9 1329.7V1378.5M1107.9 1329.7H1114.2M1107.9 1378.5H1113.2M1103.2 1416.6H1107.9M1107.9 1410.3V1431.5M1107.9 1410.3H1114.2M1107.9 1431.5H1114.2M1093.0 1456.9H1099.4M1099.4 1453.7V1463.3M1099.4 1453.7H1114.2M1099.4 1463.3H1110.0M1080.3 1488.7H1084.5M1084.5 1473.9V1503.6M1084.5 1473.9H1106.8M1106.8 1467.5V1482.4M1106.8 1467.5H1114.2M1106.8 1482.4H1114.2M1084.5 1503.6H1095.1M1045.9 1533.2H1069.3M1069.3 1516.3V1548.1M1069.3 1516.3H1085.6M1085.6 1509.9V1522.6M1085.6 1509.9H1103.6M1085.6 1522.6H1090.9M1090.9 1519.5V1527.9M1069.3 1548.1H1077.1M1077.1 1538.5V1558.7M1077.1 1538.5H1088.8M1088.8 1533.2V1543.9M1077.1 1558.7H1084.5M1084.5 1550.2V1567.2M1084.5 1550.2H1093.0M1084.5 1567.2H1090.9M1090.9 1560.8V1586.3M1090.9 1560.8H1099.4M1090.9 1586.3H1103.6M1099.4 1570.4V1582.0M1090.9 1570.4H1099.4" fill="none" stroke="#000" stroke-width="2.3" stroke-linecap="square"/>
<path d="M1177.1 1320.0 V1299.0 H1213.0 V1320.0 M1142.2 1320.0 V1297.6 H1195.0 V1299.0 M1282.7 1320.0 V1299.9 H1319.0 V1320.0 M1353.8 1320.0 V1298.1 H1389.5 V1320.0 M1300.8 1299.9 V1296.1 H1371.7 V1298.1 M1247.3 1320.0 V1291.2 H1336.2 V1296.1 M1168.6 1297.6 V1283.1 H1291.8 V1291.2" fill="none" stroke="#000" stroke-width="2.2" stroke-linejoin="miter"/>
<rect x="1122.3" y="1519.4" width="281.2" height="27.8" fill="none" stroke="#13a538" stroke-width="3.6"/>
<path d="M1404 1519 L1447.5 1321 M1404 1547.6 L1447.5 1591" fill="none" stroke="#13a538" stroke-width="3.2"/>
<rect x="1447.8" y="1320.3" width="281.6" height="269.8" fill="#3a1210"/>
<rect x="1447.8" y="1320.3" width="35.5" height="14.5" fill="#0d0a0a" shape-rendering="crispEdges"/>
<rect x="1483" y="1320.3" width="35.5" height="14.5" fill="#0d0a0a" shape-rendering="crispEdges"/>
<rect x="1518.2" y="1320.3" width="35.5" height="14.5" fill="#0d0a0a" shape-rendering="crispEdges"/>
<rect x="1553.4" y="1320.3" width="35.5" height="14.5" fill="#0d0a0a" shape-rendering="crispEdges"/>
<rect x="1588.6" y="1320.3" width="35.5" height="14.5" fill="#661812" shape-rendering="crispEdges"/>
<rect x="1623.8" y="1320.3" width="35.5" height="14.5" fill="#661812" shape-rendering="crispEdges"/>
<rect x="1659" y="1320.3" width="35.5" height="14.5" fill="#260e0c" shape-rendering="crispEdges"/>
<rect x="1694.2" y="1320.3" width="35.5" height="14.5" fill="#981f16" shape-rendering="crispEdges"/>
<rect x="1447.8" y="1334.5" width="35.5" height="14.5" fill="#0d0a0a" shape-rendering="crispEdges"/>
<rect x="1483" y="1334.5" width="35.5" height="14.5" fill="#0d0a0a" shape-rendering="crispEdges"/>
<rect x="1518.2" y="1334.5" width="35.5" height="14.5" fill="#0d0a0a" shape-rendering="crispEdges"/>
<rect x="1553.4" y="1334.5" width="35.5" height="14.5" fill="#0d0a0a" shape-rendering="crispEdges"/>
<rect x="1588.6" y="1334.5" width="35.5" height="14.5" fill="#661812" shape-rendering="crispEdges"/>
<rect x="1623.8" y="1334.5" width="35.5" height="14.5" fill="#130b0b" shape-rendering="crispEdges"/>
<rect x="1659" y="1334.5" width="35.5" height="14.5" fill="#851c14" shape-rendering="crispEdges"/>
<rect x="1694.2" y="1334.5" width="35.5" height="14.5" fill="#a52117" shape-rendering="crispEdges"/>
<rect x="1447.8" y="1348.7" width="35.5" height="14.5" fill="#130b0b" shape-rendering="crispEdges"/>
<rect x="1483" y="1348.7" width="35.5" height="14.5" fill="#130b0b" shape-rendering="crispEdges"/>
<rect x="1518.2" y="1348.7" width="35.5" height="14.5" fill="#130b0b" shape-rendering="crispEdges"/>
<rect x="1553.4" y="1348.7" width="35.5" height="14.5" fill="#130b0b" shape-rendering="crispEdges"/>
<rect x="1588.6" y="1348.7" width="35.5" height="14.5" fill="#1a0c0b" shape-rendering="crispEdges"/>
<rect x="1623.8" y="1348.7" width="35.5" height="14.5" fill="#130b0b" shape-rendering="crispEdges"/>
<rect x="1659" y="1348.7" width="35.5" height="14.5" fill="#40120e" shape-rendering="crispEdges"/>
<rect x="1694.2" y="1348.7" width="35.5" height="14.5" fill="#8c1d15" shape-rendering="crispEdges"/>
<rect x="1447.8" y="1362.9" width="35.5" height="14.5" fill="#200d0c" shape-rendering="crispEdges"/>
<rect x="1483" y="1362.9" width="35.5" height="14.5" fill="#200d0c" shape-rendering="crispEdges"/>
<rect x="1518.2" y="1362.9" width="35.5" height="14.5" fill="#130b0b" shape-rendering="crispEdges"/>
<rect x="1553.4" y="1362.9" width="35.5" height="14.5" fill="#46130f" shape-rendering="crispEdges"/>
<rect x="1588.6" y="1362.9" width="35.5" height="14.5" fill="#130b0b" shape-rendering="crispEdges"/>
<rect x="1623.8" y="1362.9" width="35.5" height="14.5" fill="#a52117" shape-rendering="crispEdges"/>
<rect x="1659" y="1362.9" width="35.5" height="14.5" fill="#a52117" shape-rendering="crispEdges"/>
<rect x="1694.2" y="1362.9" width="35.5" height="14.5" fill="#b82419" shape-rendering="crispEdges"/>
<rect x="1447.8" y="1377.1" width="35.5" height="14.5" fill="#33100d" shape-rendering="crispEdges"/>
<rect x="1483" y="1377.1" width="35.5" height="14.5" fill="#130b0b" shape-rendering="crispEdges"/>
<rect x="1518.2" y="1377.1" width="35.5" height="14.5" fill="#130b0b" shape-rendering="crispEdges"/>
<rect x="1553.4" y="1377.1" width="35.5" height="14.5" fill="#6c1912" shape-rendering="crispEdges"/>
<rect x="1588.6" y="1377.1" width="35.5" height="14.5" fill="#1a0c0b" shape-rendering="crispEdges"/>
<rect x="1623.8" y="1377.1" width="35.5" height="14.5" fill="#40120e" shape-rendering="crispEdges"/>
<rect x="1659" y="1377.1" width="35.5" height="14.5" fill="#591611" shape-rendering="crispEdges"/>
<rect x="1694.2" y="1377.1" width="35.5" height="14.5" fill="#5f1711" shape-rendering="crispEdges"/>
<rect x="1447.8" y="1391.3" width="35.5" height="14.5" fill="#130b0b" shape-rendering="crispEdges"/>
<rect x="1483" y="1391.3" width="35.5" height="14.5" fill="#130b0b" shape-rendering="crispEdges"/>
<rect x="1518.2" y="1391.3" width="35.5" height="14.5" fill="#130b0b" shape-rendering="crispEdges"/>
<rect x="1553.4" y="1391.3" width="35.5" height="14.5" fill="#6c1912" shape-rendering="crispEdges"/>
<rect x="1588.6" y="1391.3" width="35.5" height="14.5" fill="#33100d" shape-rendering="crispEdges"/>
<rect x="1623.8" y="1391.3" width="35.5" height="14.5" fill="#921e15" shape-rendering="crispEdges"/>
<rect x="1659" y="1391.3" width="35.5" height="14.5" fill="#591611" shape-rendering="crispEdges"/>
<rect x="1694.2" y="1391.3" width="35.5" height="14.5" fill="#791a13" shape-rendering="crispEdges"/>
<rect x="1447.8" y="1405.5" width="35.5" height="14.5" fill="#260e0c" shape-rendering="crispEdges"/>
<rect x="1483" y="1405.5" width="35.5" height="14.5" fill="#1a0c0b" shape-rendering="crispEdges"/>
<rect x="1518.2" y="1405.5" width="35.5" height="14.5" fill="#130b0b" shape-rendering="crispEdges"/>
<rect x="1553.4" y="1405.5" width="35.5" height="14.5" fill="#33100d" shape-rendering="crispEdges"/>
<rect x="1588.6" y="1405.5" width="35.5" height="14.5" fill="#4c140f" shape-rendering="crispEdges"/>
<rect x="1623.8" y="1405.5" width="35.5" height="14.5" fill="#8c1d15" shape-rendering="crispEdges"/>
<rect x="1659" y="1405.5" width="35.5" height="14.5" fill="#6c1912" shape-rendering="crispEdges"/>
<rect x="1694.2" y="1405.5" width="35.5" height="14.5" fill="#921e15" shape-rendering="crispEdges"/>
<rect x="1447.8" y="1419.7" width="35.5" height="14.5" fill="#130b0b" shape-rendering="crispEdges"/>
<rect x="1483" y="1419.7" width="35.5" height="14.5" fill="#130b0b" shape-rendering="crispEdges"/>
<rect x="1518.2" y="1419.7" width="35.5" height="14.5" fill="#130b0b" shape-rendering="crispEdges"/>
<rect x="1553.4" y="1419.7" width="35.5" height="14.5" fill="#cb271a" shape-rendering="crispEdges"/>
<rect x="1588.6" y="1419.7" width="35.5" height="14.5" fill="#6c1912" shape-rendering="crispEdges"/>
<rect x="1623.8" y="1419.7" width="35.5" height="14.5" fill="#130b0b" shape-rendering="crispEdges"/>
<rect x="1659" y="1419.7" width="35.5" height="14.5" fill="#33100d" shape-rendering="crispEdges"/>
<rect x="1694.2" y="1419.7" width="35.5" height="14.5" fill="#981f16" shape-rendering="crispEdges"/>
<rect x="1447.8" y="1433.9" width="35.5" height="14.5" fill="#1a0c0b" shape-rendering="crispEdges"/>
<rect x="1483" y="1433.9" width="35.5" height="14.5" fill="#130b0b" shape-rendering="crispEdges"/>
<rect x="1518.2" y="1433.9" width="35.5" height="14.5" fill="#130b0b" shape-rendering="crispEdges"/>
<rect x="1553.4" y="1433.9" width="35.5" height="14.5" fill="#ab2218" shape-rendering="crispEdges"/>
<rect x="1588.6" y="1433.9" width="35.5" height="14.5" fill="#5f1711" shape-rendering="crispEdges"/>
<rect x="1623.8" y="1433.9" width="35.5" height="14.5" fill="#260e0c" shape-rendering="crispEdges"/>
<rect x="1659" y="1433.9" width="35.5" height="14.5" fill="#be2519" shape-rendering="crispEdges"/>
<rect x="1694.2" y="1433.9" width="35.5" height="14.5" fill="#8c1d15" shape-rendering="crispEdges"/>
<rect x="1447.8" y="1448.1" width="35.5" height="14.5" fill="#260e0c" shape-rendering="crispEdges"/>
<rect x="1483" y="1448.1" width="35.5" height="14.5" fill="#260e0c" shape-rendering="crispEdges"/>
<rect x="1518.2" y="1448.1" width="35.5" height="14.5" fill="#200d0c" shape-rendering="crispEdges"/>
<rect x="1553.4" y="1448.1" width="35.5" height="14.5" fill="#981f16" shape-rendering="crispEdges"/>
<rect x="1588.6" y="1448.1" width="35.5" height="14.5" fill="#8c1d15" shape-rendering="crispEdges"/>
<rect x="1623.8" y="1448.1" width="35.5" height="14.5" fill="#8c1d15" shape-rendering="crispEdges"/>
<rect x="1659" y="1448.1" width="35.5" height="14.5" fill="#851c14" shape-rendering="crispEdges"/>
<rect x="1694.2" y="1448.1" width="35.5" height="14.5" fill="#921e15" shape-rendering="crispEdges"/>
<rect x="1447.8" y="1462.3" width="35.5" height="14.5" fill="#130b0b" shape-rendering="crispEdges"/>
<rect x="1483" y="1462.3" width="35.5" height="14.5" fill="#200d0c" shape-rendering="crispEdges"/>
<rect x="1518.2" y="1462.3" width="35.5" height="14.5" fill="#33100d" shape-rendering="crispEdges"/>
<rect x="1553.4" y="1462.3" width="35.5" height="14.5" fill="#981f16" shape-rendering="crispEdges"/>
<rect x="1588.6" y="1462.3" width="35.5" height="14.5" fill="#591611" shape-rendering="crispEdges"/>
<rect x="1623.8" y="1462.3" width="35.5" height="14.5" fill="#5f1711" shape-rendering="crispEdges"/>
<rect x="1659" y="1462.3" width="35.5" height="14.5" fill="#921e15" shape-rendering="crispEdges"/>
<rect x="1694.2" y="1462.3" width="35.5" height="14.5" fill="#981f16" shape-rendering="crispEdges"/>
<rect x="1447.8" y="1476.5" width="35.5" height="14.5" fill="#130b0b" shape-rendering="crispEdges"/>
<rect x="1483" y="1476.5" width="35.5" height="14.5" fill="#200d0c" shape-rendering="crispEdges"/>
<rect x="1518.2" y="1476.5" width="35.5" height="14.5" fill="#130b0b" shape-rendering="crispEdges"/>
<rect x="1553.4" y="1476.5" width="35.5" height="14.5" fill="#7f1b14" shape-rendering="crispEdges"/>
<rect x="1588.6" y="1476.5" width="35.5" height="14.5" fill="#981f16" shape-rendering="crispEdges"/>
<rect x="1623.8" y="1476.5" width="35.5" height="14.5" fill="#921e15" shape-rendering="crispEdges"/>
<rect x="1659" y="1476.5" width="35.5" height="14.5" fill="#981f16" shape-rendering="crispEdges"/>
<rect x="1694.2" y="1476.5" width="35.5" height="14.5" fill="#661812" shape-rendering="crispEdges"/>
<rect x="1447.8" y="1490.7" width="35.5" height="14.5" fill="#130b0b" shape-rendering="crispEdges"/>
<rect x="1483" y="1490.7" width="35.5" height="14.5" fill="#130b0b" shape-rendering="crispEdges"/>
<rect x="1518.2" y="1490.7" width="35.5" height="14.5" fill="#130b0b" shape-rendering="crispEdges"/>
<rect x="1553.4" y="1490.7" width="35.5" height="14.5" fill="#b82419" shape-rendering="crispEdges"/>
<rect x="1588.6" y="1490.7" width="35.5" height="14.5" fill="#ab2218" shape-rendering="crispEdges"/>
<rect x="1623.8" y="1490.7" width="35.5" height="14.5" fill="#981f16" shape-rendering="crispEdges"/>
<rect x="1659" y="1490.7" width="35.5" height="14.5" fill="#a52117" shape-rendering="crispEdges"/>
<rect x="1694.2" y="1490.7" width="35.5" height="14.5" fill="#b22318" shape-rendering="crispEdges"/>
<rect x="1447.8" y="1504.9" width="35.5" height="14.5" fill="#130b0b" shape-rendering="crispEdges"/>
<rect x="1483" y="1504.9" width="35.5" height="14.5" fill="#33100d" shape-rendering="crispEdges"/>
<rect x="1518.2" y="1504.9" width="35.5" height="14.5" fill="#130b0b" shape-rendering="crispEdges"/>
<rect x="1553.4" y="1504.9" width="35.5" height="14.5" fill="#b22318" shape-rendering="crispEdges"/>
<rect x="1588.6" y="1504.9" width="35.5" height="14.5" fill="#be2519" shape-rendering="crispEdges"/>
<rect x="1623.8" y="1504.9" width="35.5" height="14.5" fill="#921e15" shape-rendering="crispEdges"/>
<rect x="1659" y="1504.9" width="35.5" height="14.5" fill="#a52117" shape-rendering="crispEdges"/>
<rect x="1694.2" y="1504.9" width="35.5" height="14.5" fill="#981f16" shape-rendering="crispEdges"/>
<rect x="1447.8" y="1519.1" width="35.5" height="14.5" fill="#33100d" shape-rendering="crispEdges"/>
<rect x="1483" y="1519.1" width="35.5" height="14.5" fill="#130b0b" shape-rendering="crispEdges"/>
<rect x="1518.2" y="1519.1" width="35.5" height="14.5" fill="#130b0b" shape-rendering="crispEdges"/>
<rect x="1553.4" y="1519.1" width="35.5" height="14.5" fill="#a52117" shape-rendering="crispEdges"/>
<rect x="1588.6" y="1519.1" width="35.5" height="14.5" fill="#a52117" shape-rendering="crispEdges"/>
<rect x="1623.8" y="1519.1" width="35.5" height="14.5" fill="#a52117" shape-rendering="crispEdges"/>
<rect x="1659" y="1519.1" width="35.5" height="14.5" fill="#a52117" shape-rendering="crispEdges"/>
<rect x="1694.2" y="1519.1" width="35.5" height="14.5" fill="#8c1d15" shape-rendering="crispEdges"/>
<rect x="1447.8" y="1533.3" width="35.5" height="14.5" fill="#130b0b" shape-rendering="crispEdges"/>
<rect x="1483" y="1533.3" width="35.5" height="14.5" fill="#130b0b" shape-rendering="crispEdges"/>
<rect x="1518.2" y="1533.3" width="35.5" height="14.5" fill="#130b0b" shape-rendering="crispEdges"/>
<rect x="1553.4" y="1533.3" width="35.5" height="14.5" fill="#ab2218" shape-rendering="crispEdges"/>
<rect x="1588.6" y="1533.3" width="35.5" height="14.5" fill="#a52117" shape-rendering="crispEdges"/>
<rect x="1623.8" y="1533.3" width="35.5" height="14.5" fill="#a52117" shape-rendering="crispEdges"/>
<rect x="1659" y="1533.3" width="35.5" height="14.5" fill="#9f2017" shape-rendering="crispEdges"/>
<rect x="1694.2" y="1533.3" width="35.5" height="14.5" fill="#721a13" shape-rendering="crispEdges"/>
<rect x="1447.8" y="1547.5" width="35.5" height="14.5" fill="#260e0c" shape-rendering="crispEdges"/>
<rect x="1483" y="1547.5" width="35.5" height="14.5" fill="#921e15" shape-rendering="crispEdges"/>
<rect x="1518.2" y="1547.5" width="35.5" height="14.5" fill="#130b0b" shape-rendering="crispEdges"/>
<rect x="1553.4" y="1547.5" width="35.5" height="14.5" fill="#c5261a" shape-rendering="crispEdges"/>
<rect x="1588.6" y="1547.5" width="35.5" height="14.5" fill="#c5261a" shape-rendering="crispEdges"/>
<rect x="1623.8" y="1547.5" width="35.5" height="14.5" fill="#a52117" shape-rendering="crispEdges"/>
<rect x="1659" y="1547.5" width="35.5" height="14.5" fill="#5f1711" shape-rendering="crispEdges"/>
<rect x="1694.2" y="1547.5" width="35.5" height="14.5" fill="#be2519" shape-rendering="crispEdges"/>
<rect x="1447.8" y="1561.7" width="35.5" height="14.5" fill="#130b0b" shape-rendering="crispEdges"/>
<rect x="1483" y="1561.7" width="35.5" height="14.5" fill="#921e15" shape-rendering="crispEdges"/>
<rect x="1518.2" y="1561.7" width="35.5" height="14.5" fill="#200d0c" shape-rendering="crispEdges"/>
<rect x="1553.4" y="1561.7" width="35.5" height="14.5" fill="#921e15" shape-rendering="crispEdges"/>
<rect x="1588.6" y="1561.7" width="35.5" height="14.5" fill="#8c1d15" shape-rendering="crispEdges"/>
<rect x="1623.8" y="1561.7" width="35.5" height="14.5" fill="#981f16" shape-rendering="crispEdges"/>
<rect x="1659" y="1561.7" width="35.5" height="14.5" fill="#7f1b14" shape-rendering="crispEdges"/>
<rect x="1694.2" y="1561.7" width="35.5" height="14.5" fill="#7f1b14" shape-rendering="crispEdges"/>
<rect x="1447.8" y="1575.9" width="35.5" height="14.5" fill="#130b0b" shape-rendering="crispEdges"/>
<rect x="1483" y="1575.9" width="35.5" height="14.5" fill="#721a13" shape-rendering="crispEdges"/>
<rect x="1518.2" y="1575.9" width="35.5" height="14.5" fill="#33100d" shape-rendering="crispEdges"/>
<rect x="1553.4" y="1575.9" width="35.5" height="14.5" fill="#921e15" shape-rendering="crispEdges"/>
<rect x="1588.6" y="1575.9" width="35.5" height="14.5" fill="#921e15" shape-rendering="crispEdges"/>
<rect x="1623.8" y="1575.9" width="35.5" height="14.5" fill="#7f1b14" shape-rendering="crispEdges"/>
<rect x="1659" y="1575.9" width="35.5" height="14.5" fill="#a52117" shape-rendering="crispEdges"/>
<rect x="1694.2" y="1575.9" width="35.5" height="14.5" fill="#921e15" shape-rendering="crispEdges"/>
<line x1="1483" y1="1320.3" x2="1483" y2="1590.1" stroke="#fff" stroke-width="1" stroke-opacity="0.12"/>
<line x1="1518.2" y1="1320.3" x2="1518.2" y2="1590.1" stroke="#fff" stroke-width="1" stroke-opacity="0.12"/>
<line x1="1553.4" y1="1320.3" x2="1553.4" y2="1590.1" stroke="#fff" stroke-width="1" stroke-opacity="0.12"/>
<line x1="1588.6" y1="1320.3" x2="1588.6" y2="1590.1" stroke="#fff" stroke-width="1" stroke-opacity="0.12"/>
<line x1="1623.8" y1="1320.3" x2="1623.8" y2="1590.1" stroke="#fff" stroke-width="1" stroke-opacity="0.12"/>
<line x1="1659" y1="1320.3" x2="1659" y2="1590.1" stroke="#fff" stroke-width="1" stroke-opacity="0.12"/>
<line x1="1694.2" y1="1320.3" x2="1694.2" y2="1590.1" stroke="#fff" stroke-width="1" stroke-opacity="0.12"/>
<line x1="1447.8" y1="1350.3" x2="1729.4" y2="1350.3" stroke="#fff" stroke-width="3.6" stroke-opacity="0.135"/>
<line x1="1447.8" y1="1364.5" x2="1729.4" y2="1364.5" stroke="#fff" stroke-width="3.6" stroke-opacity="0.225"/>
<line x1="1447.8" y1="1378.7" x2="1729.4" y2="1378.7" stroke="#fff" stroke-width="3.6" stroke-opacity="0.135"/>
<line x1="1447.8" y1="1435.5" x2="1729.4" y2="1435.5" stroke="#fff" stroke-width="3.6" stroke-opacity="0.135"/>
<line x1="1447.8" y1="1449.7" x2="1729.4" y2="1449.7" stroke="#fff" stroke-width="3.6" stroke-opacity="0.225"/>
<line x1="1447.8" y1="1463.9" x2="1729.4" y2="1463.9" stroke="#fff" stroke-width="3.6" stroke-opacity="0.135"/>
<line x1="1447.8" y1="1520.7" x2="1729.4" y2="1520.7" stroke="#fff" stroke-width="3.6" stroke-opacity="0.135"/>
<line x1="1447.8" y1="1534.9" x2="1729.4" y2="1534.9" stroke="#fff" stroke-width="3.6" stroke-opacity="0.225"/>
<line x1="1447.8" y1="1549.1" x2="1729.4" y2="1549.1" stroke="#fff" stroke-width="3.6" stroke-opacity="0.135"/>
<rect x="1447.75" y="1320.65" width="281.4" height="270.2" fill="none" stroke="#13a538" stroke-width="7.3"/>
<path d="M1500.7 1317.5 V1299.0 H1536.7 V1317.5 M1465.0 1317.5 V1297.6 H1518.7 V1299.0 M1606.6 1317.5 V1299.9 H1642.0 V1317.5 M1676.8 1317.5 V1298.1 H1712.5 V1317.5 M1624.3 1299.9 V1296.1 H1694.7 V1298.1 M1571.5 1317.5 V1291.2 H1659.5 V1296.1 M1491.8 1297.6 V1283.1 H1615.5 V1291.2" fill="none" stroke="#000" stroke-width="2.2" stroke-linejoin="miter"/>
<text x="1779.9" y="1314.5" font-size="25.3">ALDH1A1</text>
<path d="M1726 1328.0 H1738 L1774.5 1306.0" fill="none" stroke="#000" stroke-width="1.8"/>
<text x="1779.9" y="1336.77" font-size="25.3">S100A8</text>
<path d="M1726 1342.1 H1738 L1774.5 1328.3" fill="none" stroke="#000" stroke-width="1.8"/>
<text x="1779.9" y="1359.04" font-size="25.3">S100A7</text>
<path d="M1726 1356.2 H1738 L1774.5 1350.5" fill="none" stroke="#000" stroke-width="1.8"/>
<text x="1779.9" y="1381.31" font-size="25.3">RARRES1</text>
<path d="M1726 1370.2 H1738 L1774.5 1372.8" fill="none" stroke="#000" stroke-width="1.8"/>
<text x="1779.9" y="1403.58" font-size="25.3">LEMD1</text>
<path d="M1726 1384.3 H1738 L1774.5 1395.1" fill="none" stroke="#000" stroke-width="1.8"/>
<text x="1779.9" y="1425.85" font-size="25.3">SERPINB3</text>
<path d="M1726 1398.4 H1738 L1774.5 1417.3" fill="none" stroke="#000" stroke-width="1.8"/>
<text x="1779.9" y="1448.12" font-size="25.3">PI3</text>
<path d="M1726 1412.5 H1738 L1774.5 1439.6" fill="none" stroke="#000" stroke-width="1.8"/>
<text x="1779.9" y="1470.39" font-size="25.3">LY6D</text>
<path d="M1726 1426.6 H1738 L1774.5 1461.9" fill="none" stroke="#000" stroke-width="1.8"/>
<text x="1779.9" y="1492.66" font-size="25.3">KLK6</text>
<path d="M1726 1440.6 H1738 L1774.5 1484.2" fill="none" stroke="#000" stroke-width="1.8"/>
<text x="1779.9" y="1514.93" font-size="25.3">RHOV</text>
<path d="M1726 1454.7 H1738 L1774.5 1506.4" fill="none" stroke="#000" stroke-width="1.8"/>
<text x="1779.9" y="1537.2" font-size="25.3">EGLN3</text>
<path d="M1726 1468.8 H1738 L1774.5 1528.7" fill="none" stroke="#000" stroke-width="1.8"/>
<text x="1779.9" y="1559.47" font-size="25.3">TNS4</text>
<path d="M1726 1482.9 H1738 L1774.5 1551.0" fill="none" stroke="#000" stroke-width="1.8"/>
<text x="1779.9" y="1581.74" font-size="25.3">FXYD3</text>
<path d="M1726 1497.0 H1738 L1774.5 1573.2" fill="none" stroke="#000" stroke-width="1.8"/>
<text x="1779.9" y="1604.01" font-size="25.3">ITGB4</text>
<path d="M1726 1511.0 H1738 L1774.5 1595.5" fill="none" stroke="#000" stroke-width="1.8"/>
<text x="1779.9" y="1626.28" font-size="25.3">CDH3</text>
<path d="M1726 1525.1 H1738 L1774.5 1617.8" fill="none" stroke="#000" stroke-width="1.8"/>
<text x="1779.9" y="1648.55" font-size="25.3">SERPINB5</text>
<path d="M1726 1539.2 H1738 L1774.5 1640.0" fill="none" stroke="#000" stroke-width="1.8"/>
<text x="1779.9" y="1670.82" font-size="25.3">KRT19</text>
<path d="M1726 1553.3 H1738 L1774.5 1662.3" fill="none" stroke="#000" stroke-width="1.8"/>
<text x="1779.9" y="1693.09" font-size="25.3">PLEK2</text>
<path d="M1726 1567.4 H1738 L1774.5 1684.6" fill="none" stroke="#000" stroke-width="1.8"/>
<text x="1779.9" y="1715.36" font-size="25.3">MALL</text>
<path d="M1726 1581.4 H1738 L1774.5 1706.9" fill="none" stroke="#000" stroke-width="1.8"/>
<text x="1146.6" y="1599.5" font-size="25" text-anchor="end" transform="rotate(-90 1146.6 1599.5)" style="fill:#E0312B;stroke:#E0312B">BT549</text>
<text x="1473.1" y="1599.5" font-size="25" text-anchor="end" transform="rotate(-90 1473.1 1599.5)" style="fill:#E0312B;stroke:#E0312B">BT549</text>
<text x="1181.4" y="1599.5" font-size="25" text-anchor="end" transform="rotate(-90 1181.4 1599.5)" style="fill:#E0312B;stroke:#E0312B">MDA-MB-231</text>
<text x="1508.5" y="1599.5" font-size="25" text-anchor="end" transform="rotate(-90 1508.5 1599.5)" style="fill:#E0312B;stroke:#E0312B">MDA-MB-231</text>
<text x="1221.2" y="1599.5" font-size="25" text-anchor="end" transform="rotate(-90 1221.2 1599.5)" style="fill:#E0312B;stroke:#E0312B">Hs578T</text>
<text x="1546.2" y="1599.5" font-size="25" text-anchor="end" transform="rotate(-90 1546.2 1599.5)" style="fill:#E0312B;stroke:#E0312B">Hs578T</text>
<text x="1255.4" y="1599.5" font-size="25" text-anchor="end" transform="rotate(-90 1255.4 1599.5)" style="fill:#2E3192;stroke:#2E3192">HCC1143</text>
<text x="1580.5" y="1599.5" font-size="25" text-anchor="end" transform="rotate(-90 1580.5 1599.5)" style="fill:#2E3192;stroke:#2E3192">HCC1143</text>
<text x="1290" y="1599.5" font-size="25" text-anchor="end" transform="rotate(-90 1290 1599.5)" style="fill:#2E3192;stroke:#2E3192">HCC1806</text>
<text x="1615.9" y="1599.5" font-size="25" text-anchor="end" transform="rotate(-90 1615.9 1599.5)" style="fill:#2E3192;stroke:#2E3192">HCC1806</text>
<text x="1325" y="1599.5" font-size="25" text-anchor="end" transform="rotate(-90 1325 1599.5)" style="fill:#2E3192;stroke:#2E3192">SUM149PT</text>
<text x="1650.7" y="1599.5" font-size="25" text-anchor="end" transform="rotate(-90 1650.7 1599.5)" style="fill:#2E3192;stroke:#2E3192">SUM149PT</text>
<text x="1359.9" y="1599.5" font-size="25" text-anchor="end" transform="rotate(-90 1359.9 1599.5)" style="fill:#2E3192;stroke:#2E3192">HCC1954</text>
<text x="1685.5" y="1599.5" font-size="25" text-anchor="end" transform="rotate(-90 1685.5 1599.5)" style="fill:#2E3192;stroke:#2E3192">HCC1954</text>
<text x="1394.7" y="1599.5" font-size="25" text-anchor="end" transform="rotate(-90 1394.7 1599.5)" style="fill:#2E3192;stroke:#2E3192">MDA-MB-468</text>
<text x="1719.8" y="1599.5" font-size="25" text-anchor="end" transform="rotate(-90 1719.8 1599.5)" style="fill:#2E3192;stroke:#2E3192">MDA-MB-468</text>
<rect x="1938" y="1377" width="17" height="254.3" fill="url(#cbar)"/>
<line x1="1938" y1="1398.19" x2="1955" y2="1398.19" stroke="#fff" stroke-width="0.8" stroke-opacity="0.12"/>
<line x1="1938" y1="1419.38" x2="1955" y2="1419.38" stroke="#fff" stroke-width="0.8" stroke-opacity="0.12"/>
<line x1="1938" y1="1440.58" x2="1955" y2="1440.58" stroke="#fff" stroke-width="0.8" stroke-opacity="0.12"/>
<line x1="1938" y1="1461.77" x2="1955" y2="1461.77" stroke="#fff" stroke-width="0.8" stroke-opacity="0.12"/>
<line x1="1938" y1="1482.96" x2="1955" y2="1482.96" stroke="#fff" stroke-width="0.8" stroke-opacity="0.12"/>
<line x1="1938" y1="1504.15" x2="1955" y2="1504.15" stroke="#fff" stroke-width="0.8" stroke-opacity="0.12"/>
<line x1="1938" y1="1525.34" x2="1955" y2="1525.34" stroke="#fff" stroke-width="0.8" stroke-opacity="0.12"/>
<line x1="1938" y1="1546.53" x2="1955" y2="1546.53" stroke="#fff" stroke-width="0.8" stroke-opacity="0.12"/>
<line x1="1938" y1="1567.72" x2="1955" y2="1567.72" stroke="#fff" stroke-width="0.8" stroke-opacity="0.12"/>
<line x1="1938" y1="1588.92" x2="1955" y2="1588.92" stroke="#fff" stroke-width="0.8" stroke-opacity="0.12"/>
<line x1="1938" y1="1610.11" x2="1955" y2="1610.11" stroke="#fff" stroke-width="0.8" stroke-opacity="0.12"/>
<text x="1937.4" y="1330.6" font-size="25">Log2</text>
<text x="1937.4" y="1359.8" font-size="25">expr.</text>
<text x="1959.3" y="1415.5" font-size="20">15</text>
<text x="1959.3" y="1487.9" font-size="20">10</text>
<text x="1959.3" y="1562.5" font-size="20">5</text>
<text x="1959.3" y="1637.6" font-size="20">0</text>
</g>
<g id="panelE">
<text x="2.3" y="1824" font-size="37.5" class="b">E</text>
<text x="238.7" y="1832.3" font-size="29" text-anchor="middle">HCC1143</text>
<text x="464" y="1832.3" font-size="29" text-anchor="middle">HCC1806</text>
<text x="698.7" y="1832.3" font-size="29" text-anchor="middle">HCC1954</text>
<text x="930.6" y="1832.3" font-size="29" text-anchor="middle">MDA-MB-468</text>
<text x="1165" y="1832.3" font-size="29" text-anchor="middle">BT549</text>
<text x="1401.2" y="1832.3" font-size="29" text-anchor="middle">Hs578T</text>
<text x="1636.7" y="1832.3" font-size="29" text-anchor="middle">MDA-MB-231</text>
<text x="1878.8" y="1832.3" font-size="29" text-anchor="middle">SUM149PT</text>
<text x="30" y="1920.5" font-size="29.3" text-anchor="middle" transform="rotate(-90 30 1920.5)">Erlotinib</text>
<text x="30" y="2093" font-size="29.3" text-anchor="middle" transform="rotate(-90 30 2093)">Gefitinib</text>
<text x="73" y="2018" font-size="25.6" text-anchor="middle" transform="rotate(-90 73 2018)">Proliferation (% of DMSO)</text>
<circle cx="1929.1" cy="1849.5" r="8" fill="#E8463D"/>
<text x="1948.8" y="1856.7" font-size="25">2D</text>
<circle cx="1929.1" cy="1887.2" r="8" fill="#2CA362"/>
<text x="1948.8" y="1894.4" font-size="25">3D</text>
<circle cx="1929.1" cy="2082.7" r="8" fill="#E8463D"/>
<text x="1948.8" y="2089.9" font-size="25">2D</text>
<circle cx="1929.1" cy="2121" r="8" fill="#2CA362"/>
<text x="1948.8" y="2128.2" font-size="25">3D</text>
<g>
<line x1="138.85" y1="1908.25" x2="334.95" y2="1908.25" stroke="#3C80D0" stroke-width="2" stroke-dasharray="3.7 3.4"/>
<line x1="137.95" y1="1938.3" x2="334.95" y2="1938.3" stroke="#111" stroke-width="2.3" stroke-dasharray="0.2 3.82" stroke-linecap="round"/>
<line x1="133.35" y1="1846" x2="133.35" y2="2001.15" stroke="#111" stroke-width="5.5"/>
<line x1="130.6" y1="1998.4" x2="335.45" y2="1998.4" stroke="#111" stroke-width="5.5"/>
<line x1="129.55" y1="1847" x2="133.35" y2="1847" stroke="#111" stroke-width="2"/>
<line x1="129.55" y1="1878.2" x2="133.35" y2="1878.2" stroke="#111" stroke-width="2.4"/>
<line x1="129.55" y1="1908.25" x2="133.35" y2="1908.25" stroke="#111" stroke-width="2.4"/>
<line x1="129.55" y1="1938.3" x2="133.35" y2="1938.3" stroke="#111" stroke-width="2.4"/>
<line x1="129.55" y1="1968.35" x2="133.35" y2="1968.35" stroke="#111" stroke-width="2.4"/>
<line x1="129.55" y1="1998.4" x2="133.35" y2="1998.4" stroke="#111" stroke-width="2.4"/>
<line x1="133.35" y1="1998.4" x2="133.35" y2="2002.2" stroke="#111" stroke-width="2.4"/>
<line x1="200.55" y1="1998.4" x2="200.55" y2="2002.2" stroke="#111" stroke-width="2.4"/>
<line x1="267.75" y1="1998.4" x2="267.75" y2="2002.2" stroke="#111" stroke-width="2.4"/>
<line x1="334.95" y1="1998.4" x2="334.95" y2="2002.2" stroke="#111" stroke-width="2.4"/>
<path d="M133.3 1888.1 L135.7 1888.2 L138.1 1888.3 L140.4 1888.4 L142.8 1888.5 L145.1 1888.7 L147.5 1888.8 L149.8 1889.0 L152.2 1889.2 L154.6 1889.4 L156.9 1889.6 L159.3 1889.9 L161.6 1890.2 L164.0 1890.5 L166.3 1890.8 L168.7 1891.2 L171.1 1891.5 L173.4 1892.0 L175.8 1892.4 L178.1 1892.9 L180.5 1893.5 L182.8 1894.1 L185.2 1894.7 L187.6 1895.4 L189.9 1896.1 L192.3 1896.9 L194.6 1897.7 L197.0 1898.5 L199.3 1899.4 L201.7 1900.4 L204.1 1901.4 L206.4 1902.4 L208.8 1903.5 L211.1 1904.5 L213.5 1905.6 L215.8 1906.8 L218.2 1907.9 L220.6 1909.1 L222.9 1910.2 L225.3 1911.4 L227.6 1912.5 L230.0 1913.6 L232.3 1914.7 L234.7 1915.8 L237.0 1916.8 L239.4 1917.8 L241.8 1918.7 L244.1 1919.7 L246.5 1920.5 L248.8 1921.3 L251.2 1922.1 L253.5 1922.8 L255.9 1923.5 L258.3 1924.2 L260.6 1924.7 L263.0 1925.3 L265.3 1925.8 L267.7 1926.3 L270.0 1926.7 L272.4 1927.1 L274.8 1927.5 L277.1 1927.8 L279.5 1928.1 L281.8 1928.4 L284.2 1928.6 L286.5 1928.9 L288.9 1929.1 L291.3 1929.3 L293.6 1929.4 L296.0 1929.6 L298.3 1929.7" fill="none" stroke="#2CA362" stroke-width="5.8" stroke-linecap="round" stroke-linejoin="round"/>
<path d="M131.55 1880.88 L135.15 1880.88 L135.15 1882.97 L137.15 1883.77 L137.15 1892.42 L135.15 1893.22 L135.15 1895.3 L131.55 1895.3 L131.55 1893.22 L129.55 1892.42 L129.55 1883.77 L131.55 1882.97 Z" fill="#2CA362"/>
<path d="M165.15 1883.67 L168.75 1883.67 L168.75 1885.75 L170.75 1886.55 L170.75 1895.21 L168.75 1896.01 L168.75 1898.09 L165.15 1898.09 L165.15 1896.01 L163.15 1895.21 L163.15 1886.55 L165.15 1885.75 Z" fill="#2CA362"/>
<path d="M232.35 1906.51 L235.95 1906.51 L235.95 1909.31 L237.95 1910.11 L237.95 1920.94 L235.95 1921.74 L235.95 1924.54 L232.35 1924.54 L232.35 1921.74 L230.35 1920.94 L230.35 1910.11 L232.35 1909.31 Z" fill="#2CA362"/>
<path d="M265.95 1917.27 L269.55 1917.27 L269.55 1920.07 L271.55 1920.87 L271.55 1931.7 L269.55 1932.5 L269.55 1935.3 L265.95 1935.3 L265.95 1932.5 L263.95 1931.7 L263.95 1920.87 L265.95 1920.07 Z" fill="#2CA362"/>
<path d="M299.55 1916.69 L303.15 1916.69 L303.15 1919.49 L305.15 1920.29 L305.15 1939.53 L303.15 1940.33 L303.15 1943.13 L299.55 1943.13 L299.55 1940.33 L297.55 1939.53 L297.55 1920.29 L299.55 1919.49 Z" fill="#2CA362"/>
<path d="M133.3 1890.2 L135.7 1890.2 L138.1 1890.2 L140.4 1890.2 L142.8 1890.2 L145.1 1890.2 L147.5 1890.2 L149.8 1890.2 L152.2 1890.2 L154.6 1890.2 L156.9 1890.2 L159.3 1890.2 L161.6 1890.2 L164.0 1890.2 L166.3 1890.2 L168.7 1890.2 L171.1 1890.2 L173.4 1890.2 L175.8 1890.2 L178.1 1890.2 L180.5 1890.2 L182.8 1890.2 L185.2 1890.2 L187.6 1890.2 L189.9 1890.2 L192.3 1890.2 L194.6 1890.2 L197.0 1890.2 L199.3 1890.2 L201.7 1890.2 L204.1 1890.2 L206.4 1890.2 L208.8 1890.2 L211.1 1890.2 L213.5 1890.2 L215.8 1890.2 L218.2 1890.2 L220.6 1890.2 L222.9 1890.2 L225.3 1890.2 L227.6 1890.2 L230.0 1890.2 L232.3 1890.2 L234.7 1890.2 L237.0 1890.2 L239.4 1890.2 L241.8 1890.2 L244.1 1890.2 L246.5 1890.2 L248.8 1890.2 L251.2 1890.2 L253.5 1890.2 L255.9 1890.2 L258.3 1890.2 L260.6 1890.2 L263.0 1890.2 L265.3 1890.2 L267.7 1890.2 L270.0 1890.2 L272.4 1890.2 L274.8 1890.2 L277.1 1890.2 L279.5 1890.2 L281.8 1890.2 L284.2 1890.2 L286.5 1890.3 L288.9 1890.8 L291.3 1891.4 L293.6 1892.1 L296.0 1893.8 L298.3 1896.8" fill="none" stroke="#E8463D" stroke-width="5.8" stroke-linecap="round" stroke-linejoin="round"/>
<path d="M131.55 1884.21 L135.15 1884.21 L135.15 1885.81 L137.15 1886.61 L137.15 1893.83 L135.15 1894.63 L135.15 1896.23 L131.55 1896.23 L131.55 1894.63 L129.55 1893.83 L129.55 1886.61 L131.55 1885.81 Z" fill="#E8463D"/>
<path d="M198.75 1867.98 L202.35 1867.98 L202.35 1870.78 L204.35 1871.58 L204.35 1908.86 L202.35 1909.66 L202.35 1912.46 L198.75 1912.46 L198.75 1909.66 L196.75 1908.86 L196.75 1871.58 L198.75 1870.78 Z" fill="#E8463D"/>
<path d="M232.35 1871.59 L235.95 1871.59 L235.95 1874.39 L237.95 1875.19 L237.95 1905.25 L235.95 1906.05 L235.95 1908.85 L232.35 1908.85 L232.35 1906.05 L230.35 1905.25 L230.35 1875.19 L232.35 1874.39 Z" fill="#E8463D"/>
<path d="M299.55 1903.44 L303.15 1903.44 L303.15 1904.57 L305.15 1905.37 L305.15 1911.13 L303.15 1911.93 L303.15 1913.06 L299.55 1913.06 L299.55 1911.93 L297.55 1911.13 L297.55 1905.37 L299.55 1904.57 Z" fill="#E8463D"/>
<circle cx="166.9" cy="1890.2" r="1.8" fill="#E8463D"/>
<circle cx="267.8" cy="1890.2" r="1.8" fill="#E8463D"/>
</g>
<g>
<line x1="138.85" y1="2139.7" x2="334.95" y2="2139.7" stroke="#3C80D0" stroke-width="2" stroke-dasharray="3.7 3.4"/>
<line x1="137.95" y1="2169.8" x2="334.95" y2="2169.8" stroke="#111" stroke-width="2.3" stroke-dasharray="0.2 3.82" stroke-linecap="round"/>
<line x1="133.35" y1="2077.3" x2="133.35" y2="2232.75" stroke="#111" stroke-width="5.5"/>
<line x1="130.6" y1="2230" x2="335.45" y2="2230" stroke="#111" stroke-width="5.5"/>
<line x1="129.55" y1="2078.3" x2="133.35" y2="2078.3" stroke="#111" stroke-width="2"/>
<line x1="129.55" y1="2109.6" x2="133.35" y2="2109.6" stroke="#111" stroke-width="2.4"/>
<line x1="129.55" y1="2139.7" x2="133.35" y2="2139.7" stroke="#111" stroke-width="2.4"/>
<line x1="129.55" y1="2169.8" x2="133.35" y2="2169.8" stroke="#111" stroke-width="2.4"/>
<line x1="129.55" y1="2199.9" x2="133.35" y2="2199.9" stroke="#111" stroke-width="2.4"/>
<line x1="129.55" y1="2230" x2="133.35" y2="2230" stroke="#111" stroke-width="2.4"/>
<line x1="133.35" y1="2230" x2="133.35" y2="2233.8" stroke="#111" stroke-width="2.4"/>
<line x1="200.55" y1="2230" x2="200.55" y2="2233.8" stroke="#111" stroke-width="2.4"/>
<line x1="267.75" y1="2230" x2="267.75" y2="2233.8" stroke="#111" stroke-width="2.4"/>
<line x1="334.95" y1="2230" x2="334.95" y2="2233.8" stroke="#111" stroke-width="2.4"/>
<path d="M133.3 2116.8 L135.7 2117.2 L138.1 2117.6 L140.4 2118.0 L142.8 2118.4 L145.1 2118.8 L147.5 2119.2 L149.8 2119.6 L152.2 2120.0 L154.6 2120.4 L156.9 2120.8 L159.3 2121.2 L161.6 2121.7 L164.0 2122.2 L166.3 2122.7 L168.7 2123.3 L171.1 2123.9 L173.4 2124.5 L175.8 2125.2 L178.1 2125.9 L180.5 2126.7 L182.8 2127.5 L185.2 2128.3 L187.6 2129.1 L189.9 2130.0 L192.3 2130.8 L194.6 2131.6 L197.0 2132.5 L199.3 2133.3 L201.7 2134.1 L204.1 2134.9 L206.4 2135.8 L208.8 2136.7 L211.1 2137.5 L213.5 2138.5 L215.8 2139.4 L218.2 2140.3 L220.6 2141.2 L222.9 2142.0 L225.3 2142.9 L227.6 2143.7 L230.0 2144.5 L232.3 2145.2 L234.7 2145.9 L237.0 2146.5 L239.4 2147.1 L241.8 2147.7 L244.1 2148.2 L246.5 2148.7 L248.8 2149.3 L251.2 2149.8 L253.5 2150.3 L255.9 2150.8 L258.3 2151.3 L260.6 2151.8 L263.0 2152.4 L265.3 2152.9 L267.7 2153.5 L270.0 2154.2 L272.4 2154.8 L274.8 2155.5 L277.1 2156.2 L279.5 2156.9 L281.8 2157.6 L284.2 2158.4 L286.5 2159.1 L288.9 2159.9 L291.3 2160.6 L293.6 2161.4 L296.0 2162.1 L298.3 2162.8" fill="none" stroke="#2CA362" stroke-width="5.8" stroke-linecap="round" stroke-linejoin="round"/>
<path d="M131.55 2103.58 L135.15 2103.58 L135.15 2106.38 L137.15 2107.18 L137.15 2126.47 L135.15 2127.27 L135.15 2130.07 L131.55 2130.07 L131.55 2127.27 L129.55 2126.47 L129.55 2107.18 L131.55 2106.38 Z" fill="#2CA362"/>
<path d="M165.15 2113.81 L168.75 2113.81 L168.75 2116.61 L170.75 2117.41 L170.75 2128.27 L168.75 2129.07 L168.75 2131.87 L165.15 2131.87 L165.15 2129.07 L163.15 2128.27 L163.15 2117.41 L165.15 2116.61 Z" fill="#2CA362"/>
<path d="M198.75 2124.65 L202.35 2124.65 L202.35 2127.45 L204.35 2128.25 L204.35 2139.11 L202.35 2139.91 L202.35 2142.71 L198.75 2142.71 L198.75 2139.91 L196.75 2139.11 L196.75 2128.25 L198.75 2127.45 Z" fill="#2CA362"/>
<path d="M232.35 2136.69 L235.95 2136.69 L235.95 2139.49 L237.95 2140.29 L237.95 2151.15 L235.95 2151.95 L235.95 2154.75 L232.35 2154.75 L232.35 2151.95 L230.35 2151.15 L230.35 2140.29 L232.35 2139.49 Z" fill="#2CA362"/>
<path d="M265.95 2146.32 L269.55 2146.32 L269.55 2148.41 L271.55 2149.21 L271.55 2157.88 L269.55 2158.68 L269.55 2160.77 L265.95 2160.77 L265.95 2158.68 L263.95 2157.88 L263.95 2149.21 L265.95 2148.41 Z" fill="#2CA362"/>
<path d="M299.55 2151.74 L303.15 2151.74 L303.15 2154.54 L305.15 2155.34 L305.15 2172.22 L303.15 2173.02 L303.15 2175.82 L299.55 2175.82 L299.55 2173.02 L297.55 2172.22 L297.55 2155.34 L299.55 2154.54 Z" fill="#2CA362"/>
<path d="M133.3 2118.0 L135.7 2118.2 L138.1 2118.4 L140.4 2118.6 L142.8 2118.8 L145.1 2119.0 L147.5 2119.2 L149.8 2119.3 L152.2 2119.5 L154.6 2119.7 L156.9 2119.9 L159.3 2120.1 L161.6 2120.3 L164.0 2120.5 L166.3 2120.7 L168.7 2120.8 L171.1 2121.0 L173.4 2121.2 L175.8 2121.4 L178.1 2121.6 L180.5 2121.8 L182.8 2122.0 L185.2 2122.2 L187.6 2122.4 L189.9 2122.6 L192.3 2122.8 L194.6 2122.9 L197.0 2123.1 L199.3 2123.3 L201.7 2123.5 L204.1 2123.7 L206.4 2123.9 L208.8 2124.1 L211.1 2124.3 L213.5 2124.5 L215.8 2124.7 L218.2 2124.9 L220.6 2125.1 L222.9 2125.3 L225.3 2125.5 L227.6 2125.7 L230.0 2125.9 L232.3 2126.1 L234.7 2126.3 L237.0 2126.5 L239.4 2126.7 L241.8 2126.9 L244.1 2127.1 L246.5 2127.4 L248.8 2127.6 L251.2 2127.8 L253.5 2128.0 L255.9 2128.3 L258.3 2128.5 L260.6 2128.7 L263.0 2129.0 L265.3 2129.2 L267.7 2129.5 L270.0 2129.7 L272.4 2130.0 L274.8 2130.2 L277.1 2130.5 L279.5 2130.8 L281.8 2131.1 L284.2 2131.4 L286.5 2131.7 L288.9 2132.1 L291.3 2132.5 L293.6 2132.9 L296.0 2133.4 L298.3 2134.3" fill="none" stroke="#E8463D" stroke-width="5.8" stroke-linecap="round" stroke-linejoin="round"/>
<path d="M198.75 2105.39 L202.35 2105.39 L202.35 2108.19 L205.3 2108.99 L205.3 2134.29 L202.35 2135.09 L202.35 2137.89 L198.75 2137.89 L198.75 2135.09 L195.8 2134.29 L195.8 2108.99 L198.75 2108.19 Z" fill="#E8463D"/>
<path d="M232.35 2114.42 L235.95 2114.42 L235.95 2117.22 L238.9 2118.02 L238.9 2139.71 L235.95 2140.51 L235.95 2143.31 L232.35 2143.31 L232.35 2140.51 L229.4 2139.71 L229.4 2118.02 L232.35 2117.22 Z" fill="#E8463D"/>
<path d="M265.95 2112.61 L269.55 2112.61 L269.55 2115.41 L271.55 2116.21 L271.55 2127.07 L269.55 2127.87 L269.55 2130.67 L265.95 2130.67 L265.95 2127.87 L263.95 2127.07 L263.95 2116.21 L265.95 2115.41 Z" fill="#E8463D"/>
<circle cx="133.3" cy="2118.0" r="1.8" fill="#E8463D"/>
<circle cx="166.9" cy="2120.7" r="1.8" fill="#E8463D"/>
</g>
<text x="131.85" y="2021.2" font-size="21.5" text-anchor="middle">-2</text>
<text x="131.85" y="2256.4" font-size="21.5" text-anchor="middle">-2</text>
<text x="199.55" y="2021.2" font-size="21.5" text-anchor="middle">-1</text>
<text x="199.55" y="2256.4" font-size="21.5" text-anchor="middle">-1</text>
<text x="269.15" y="2021.2" font-size="21.5" text-anchor="middle">0</text>
<text x="269.15" y="2256.4" font-size="21.5" text-anchor="middle">0</text>
<text x="337.95" y="2021.2" font-size="21.5" text-anchor="middle">1</text>
<text x="337.95" y="2256.4" font-size="21.5" text-anchor="middle">1</text>
<text x="241.9" y="2047.3" font-size="21.7" text-anchor="middle">Log conc (uM)</text>
<text x="241.9" y="2284" font-size="21.7" text-anchor="middle">Log conc (uM)</text>
<g>
<line x1="370.4" y1="1908.25" x2="566.5" y2="1908.25" stroke="#3C80D0" stroke-width="2" stroke-dasharray="3.7 3.4"/>
<line x1="369.5" y1="1938.3" x2="566.5" y2="1938.3" stroke="#111" stroke-width="2.3" stroke-dasharray="0.2 3.82" stroke-linecap="round"/>
<line x1="364.9" y1="1846" x2="364.9" y2="2001.15" stroke="#111" stroke-width="5.5"/>
<line x1="362.15" y1="1998.4" x2="567" y2="1998.4" stroke="#111" stroke-width="5.5"/>
<line x1="361.1" y1="1847" x2="364.9" y2="1847" stroke="#111" stroke-width="2"/>
<line x1="361.1" y1="1878.2" x2="364.9" y2="1878.2" stroke="#111" stroke-width="2.4"/>
<line x1="361.1" y1="1908.25" x2="364.9" y2="1908.25" stroke="#111" stroke-width="2.4"/>
<line x1="361.1" y1="1938.3" x2="364.9" y2="1938.3" stroke="#111" stroke-width="2.4"/>
<line x1="361.1" y1="1968.35" x2="364.9" y2="1968.35" stroke="#111" stroke-width="2.4"/>
<line x1="361.1" y1="1998.4" x2="364.9" y2="1998.4" stroke="#111" stroke-width="2.4"/>
<line x1="364.9" y1="1998.4" x2="364.9" y2="2002.2" stroke="#111" stroke-width="2.4"/>
<line x1="432.1" y1="1998.4" x2="432.1" y2="2002.2" stroke="#111" stroke-width="2.4"/>
<line x1="499.3" y1="1998.4" x2="499.3" y2="2002.2" stroke="#111" stroke-width="2.4"/>
<line x1="566.5" y1="1998.4" x2="566.5" y2="2002.2" stroke="#111" stroke-width="2.4"/>
<path d="M364.9 1874.0 L367.3 1874.0 L369.6 1874.0 L372.0 1874.0 L374.3 1874.0 L376.7 1874.0 L379.0 1874.0 L381.4 1874.0 L383.8 1874.0 L386.1 1874.0 L388.5 1874.0 L390.8 1874.0 L393.2 1874.0 L395.5 1874.0 L397.9 1874.0 L400.3 1874.1 L402.6 1874.1 L405.0 1874.1 L407.3 1874.1 L409.7 1874.1 L412.0 1874.2 L414.4 1874.2 L416.7 1874.2 L419.1 1874.3 L421.5 1874.4 L423.8 1874.5 L426.2 1874.6 L428.5 1874.7 L430.9 1874.8 L433.2 1875.0 L435.6 1875.2 L438.0 1875.5 L440.3 1875.8 L442.7 1876.2 L445.0 1876.7 L447.4 1877.2 L449.7 1877.9 L452.1 1878.7 L454.5 1879.6 L456.8 1880.6 L459.2 1881.8 L461.5 1883.2 L463.9 1884.7 L466.2 1886.3 L468.6 1888.1 L471.0 1890.0 L473.3 1892.0 L475.7 1894.0 L478.0 1896.1 L480.4 1898.0 L482.7 1900.0 L485.1 1901.8 L487.5 1903.4 L489.8 1905.0 L492.2 1906.3 L494.5 1907.5 L496.9 1908.6 L499.2 1909.5 L501.6 1910.3 L504.0 1911.0 L506.3 1911.5 L508.7 1912.0 L511.0 1912.4 L513.4 1912.7 L515.7 1913.0 L518.1 1913.2 L520.4 1913.4 L522.8 1913.6 L525.2 1913.7 L527.5 1913.8 L529.9 1913.9" fill="none" stroke="#2CA362" stroke-width="5.8" stroke-linecap="round" stroke-linejoin="round"/>
<path d="M363.1 1858.97 L366.7 1858.97 L366.7 1861.77 L368.7 1862.57 L368.7 1885.42 L366.7 1886.22 L366.7 1889.02 L363.1 1889.02 L363.1 1886.22 L361.1 1885.42 L361.1 1862.57 L363.1 1861.77 Z" fill="#2CA362"/>
<path d="M396.7 1859.02 L400.3 1859.02 L400.3 1861.82 L402.3 1862.62 L402.3 1885.47 L400.3 1886.27 L400.3 1889.07 L396.7 1889.07 L396.7 1886.27 L394.7 1885.47 L394.7 1862.62 L396.7 1861.82 Z" fill="#2CA362"/>
<path d="M430.3 1862.91 L433.9 1862.91 L433.9 1865.71 L435.9 1866.51 L435.9 1883.35 L433.9 1884.15 L433.9 1886.95 L430.3 1886.95 L430.3 1884.15 L428.3 1883.35 L428.3 1866.51 L430.3 1865.71 Z" fill="#2CA362"/>
<path d="M463.9 1875.12 L467.5 1875.12 L467.5 1877.92 L469.5 1878.72 L469.5 1893.15 L467.5 1893.95 L467.5 1896.75 L463.9 1896.75 L463.9 1893.95 L461.9 1893.15 L461.9 1878.72 L463.9 1877.92 Z" fill="#2CA362"/>
<path d="M497.5 1898.7 L501.1 1898.7 L501.1 1901.5 L503.1 1902.3 L503.1 1916.74 L501.1 1917.54 L501.1 1920.34 L497.5 1920.34 L497.5 1917.54 L495.5 1916.74 L495.5 1902.3 L497.5 1901.5 Z" fill="#2CA362"/>
<path d="M531.1 1904.95 L534.7 1904.95 L534.7 1907.75 L536.7 1908.55 L536.7 1919.38 L534.7 1920.18 L534.7 1922.98 L531.1 1922.98 L531.1 1920.18 L529.1 1919.38 L529.1 1908.55 L531.1 1907.75 Z" fill="#2CA362"/>
<path d="M364.9 1879.4 L367.3 1880.2 L369.6 1880.9 L372.0 1881.7 L374.3 1882.5 L376.7 1883.3 L379.0 1884.1 L381.4 1884.8 L383.8 1885.6 L386.1 1886.4 L388.5 1887.1 L390.8 1887.9 L393.2 1888.6 L395.5 1889.3 L397.9 1890.0 L400.3 1890.7 L402.6 1891.4 L405.0 1892.1 L407.3 1892.7 L409.7 1893.4 L412.0 1894.0 L414.4 1894.7 L416.7 1895.3 L419.1 1895.9 L421.5 1896.5 L423.8 1897.1 L426.2 1897.7 L428.5 1898.3 L430.9 1898.9 L433.2 1899.5 L435.6 1900.1 L438.0 1900.7 L440.3 1901.3 L442.7 1901.8 L445.0 1902.4 L447.4 1903.0 L449.7 1903.5 L452.1 1904.1 L454.5 1904.6 L456.8 1905.2 L459.2 1905.7 L461.5 1906.2 L463.9 1906.7 L466.2 1907.2 L468.6 1907.6 L471.0 1908.1 L473.3 1908.5 L475.7 1909.0 L478.0 1909.4 L480.4 1909.9 L482.7 1910.3 L485.1 1910.7 L487.5 1911.1 L489.8 1911.5 L492.2 1911.9 L494.5 1912.3 L496.9 1912.7 L499.2 1913.0 L501.6 1913.4 L504.0 1913.8 L506.3 1914.1 L508.7 1914.5 L511.0 1914.8 L513.4 1915.1 L515.7 1915.5 L518.1 1915.8 L520.4 1916.1 L522.8 1916.5 L525.2 1916.8 L527.5 1917.1 L529.9 1917.4" fill="none" stroke="#E8463D" stroke-width="5.8" stroke-linecap="round" stroke-linejoin="round"/>
<path d="M363.1 1872.19 L366.7 1872.19 L366.7 1874.27 L368.7 1875.07 L368.7 1883.73 L366.7 1884.53 L366.7 1886.61 L363.1 1886.61 L363.1 1884.53 L361.1 1883.73 L361.1 1875.07 L363.1 1874.27 Z" fill="#E8463D"/>
<path d="M430.3 1893.23 L433.9 1893.23 L433.9 1894.83 L435.9 1895.63 L435.9 1902.84 L433.9 1903.64 L433.9 1905.25 L430.3 1905.25 L430.3 1903.64 L428.3 1902.84 L428.3 1895.63 L430.3 1894.83 Z" fill="#E8463D"/>
<path d="M463.9 1899.84 L467.5 1899.84 L467.5 1901.92 L469.5 1902.72 L469.5 1911.38 L467.5 1912.18 L467.5 1914.26 L463.9 1914.26 L463.9 1912.18 L461.9 1911.38 L461.9 1902.72 L463.9 1901.92 Z" fill="#E8463D"/>
<path d="M497.5 1908.25 L501.1 1908.25 L501.1 1909.37 L503.1 1910.17 L503.1 1915.94 L501.1 1916.74 L501.1 1917.87 L497.5 1917.87 L497.5 1916.74 L495.5 1915.94 L495.5 1910.17 L497.5 1909.37 Z" fill="#E8463D"/>
<path d="M531.1 1913.06 L534.7 1913.06 L534.7 1914.18 L536.7 1914.98 L536.7 1920.75 L534.7 1921.55 L534.7 1922.67 L531.1 1922.67 L531.1 1921.55 L529.1 1920.75 L529.1 1914.98 L531.1 1914.18 Z" fill="#E8463D"/>
</g>
<g>
<line x1="370.4" y1="2139.7" x2="566.5" y2="2139.7" stroke="#3C80D0" stroke-width="2" stroke-dasharray="3.7 3.4"/>
<line x1="369.5" y1="2169.8" x2="566.5" y2="2169.8" stroke="#111" stroke-width="2.3" stroke-dasharray="0.2 3.82" stroke-linecap="round"/>
<line x1="364.9" y1="2077.3" x2="364.9" y2="2232.75" stroke="#111" stroke-width="5.5"/>
<line x1="362.15" y1="2230" x2="567" y2="2230" stroke="#111" stroke-width="5.5"/>
<line x1="361.1" y1="2078.3" x2="364.9" y2="2078.3" stroke="#111" stroke-width="2"/>
<line x1="361.1" y1="2109.6" x2="364.9" y2="2109.6" stroke="#111" stroke-width="2.4"/>
<line x1="361.1" y1="2139.7" x2="364.9" y2="2139.7" stroke="#111" stroke-width="2.4"/>
<line x1="361.1" y1="2169.8" x2="364.9" y2="2169.8" stroke="#111" stroke-width="2.4"/>
<line x1="361.1" y1="2199.9" x2="364.9" y2="2199.9" stroke="#111" stroke-width="2.4"/>
<line x1="361.1" y1="2230" x2="364.9" y2="2230" stroke="#111" stroke-width="2.4"/>
<line x1="364.9" y1="2230" x2="364.9" y2="2233.8" stroke="#111" stroke-width="2.4"/>
<line x1="432.1" y1="2230" x2="432.1" y2="2233.8" stroke="#111" stroke-width="2.4"/>
<line x1="499.3" y1="2230" x2="499.3" y2="2233.8" stroke="#111" stroke-width="2.4"/>
<line x1="566.5" y1="2230" x2="566.5" y2="2233.8" stroke="#111" stroke-width="2.4"/>
<path d="M364.9 2104.6 L367.3 2104.6 L369.6 2104.7 L372.0 2104.7 L374.3 2104.8 L376.7 2104.9 L379.0 2105.1 L381.4 2105.2 L383.8 2105.3 L386.1 2105.5 L388.5 2105.7 L390.8 2106.0 L393.2 2106.2 L395.5 2106.5 L397.9 2106.9 L400.3 2107.3 L402.6 2107.7 L405.0 2108.2 L407.3 2108.8 L409.7 2109.5 L412.0 2110.2 L414.4 2111.0 L416.7 2111.9 L419.1 2113.0 L421.5 2114.1 L423.8 2115.3 L426.2 2116.6 L428.5 2118.1 L430.9 2119.6 L433.2 2121.3 L435.6 2123.0 L438.0 2124.8 L440.3 2126.7 L442.7 2128.6 L445.0 2130.6 L447.4 2132.5 L449.7 2134.4 L452.1 2136.3 L454.5 2138.2 L456.8 2139.9 L459.2 2141.6 L461.5 2143.2 L463.9 2144.7 L466.2 2146.1 L468.6 2147.3 L471.0 2148.5 L473.3 2149.6 L475.7 2150.5 L478.0 2151.4 L480.4 2152.2 L482.7 2152.9 L485.1 2153.5 L487.5 2154.0 L489.8 2154.5 L492.2 2154.9 L494.5 2155.3 L496.9 2155.6 L499.2 2155.9 L501.6 2156.1 L504.0 2156.3 L506.3 2156.5 L508.7 2156.7 L511.0 2156.8 L513.4 2157.0 L515.7 2157.1 L518.1 2157.2 L520.4 2157.2 L522.8 2157.3 L525.2 2157.4 L527.5 2157.4 L529.9 2157.5" fill="none" stroke="#2CA362" stroke-width="5.8" stroke-linecap="round" stroke-linejoin="round"/>
<path d="M363.1 2095.52 L366.7 2095.52 L366.7 2098.32 L368.7 2099.12 L368.7 2109.98 L366.7 2110.78 L366.7 2113.58 L363.1 2113.58 L363.1 2110.78 L361.1 2109.98 L361.1 2099.12 L363.1 2098.32 Z" fill="#2CA362"/>
<path d="M396.7 2097.94 L400.3 2097.94 L400.3 2100.74 L402.3 2101.54 L402.3 2112.4 L400.3 2113.2 L400.3 2116 L396.7 2116 L396.7 2113.2 L394.7 2112.4 L394.7 2101.54 L396.7 2100.74 Z" fill="#2CA362"/>
<path d="M430.3 2106.01 L433.9 2106.01 L433.9 2108.81 L435.9 2109.61 L435.9 2131.31 L433.9 2132.11 L433.9 2134.91 L430.3 2134.91 L430.3 2132.11 L428.3 2131.31 L428.3 2109.61 L430.3 2108.81 Z" fill="#2CA362"/>
<path d="M463.9 2128.91 L467.5 2128.91 L467.5 2131.71 L469.5 2132.51 L469.5 2159.02 L467.5 2159.82 L467.5 2162.62 L463.9 2162.62 L463.9 2159.82 L461.9 2159.02 L461.9 2132.51 L463.9 2131.71 Z" fill="#2CA362"/>
<path d="M497.5 2146.85 L501.1 2146.85 L501.1 2149.65 L503.1 2150.45 L503.1 2161.31 L501.1 2162.11 L501.1 2164.91 L497.5 2164.91 L497.5 2162.11 L495.5 2161.31 L495.5 2150.45 L497.5 2149.65 Z" fill="#2CA362"/>
<path d="M531.1 2141.26 L534.7 2141.26 L534.7 2144.06 L536.7 2144.86 L536.7 2170.17 L534.7 2170.97 L534.7 2173.77 L531.1 2173.77 L531.1 2170.97 L529.1 2170.17 L529.1 2144.86 L531.1 2144.06 Z" fill="#2CA362"/>
<path d="M364.9 2115.6 L367.3 2116.4 L369.6 2117.2 L372.0 2117.9 L374.3 2118.7 L376.7 2119.5 L379.0 2120.3 L381.4 2121.1 L383.8 2121.9 L386.1 2122.7 L388.5 2123.4 L390.8 2124.2 L393.2 2124.9 L395.5 2125.6 L397.9 2126.3 L400.3 2126.9 L402.6 2127.6 L405.0 2128.3 L407.3 2128.9 L409.7 2129.5 L412.0 2130.1 L414.4 2130.7 L416.7 2131.3 L419.1 2131.9 L421.5 2132.5 L423.8 2133.1 L426.2 2133.6 L428.5 2134.1 L430.9 2134.6 L433.2 2135.1 L435.6 2135.6 L438.0 2136.1 L440.3 2136.6 L442.7 2137.1 L445.0 2137.5 L447.4 2138.0 L449.7 2138.4 L452.1 2138.9 L454.5 2139.3 L456.8 2139.7 L459.2 2140.0 L461.5 2140.4 L463.9 2140.7 L466.2 2141.0 L468.6 2141.2 L471.0 2141.5 L473.3 2141.8 L475.7 2142.0 L478.0 2142.3 L480.4 2142.5 L482.7 2142.7 L485.1 2142.9 L487.5 2143.1 L489.8 2143.3 L492.2 2143.5 L494.5 2143.6 L496.9 2143.8 L499.2 2143.9 L501.6 2144.0 L504.0 2144.1 L506.3 2144.2 L508.7 2144.3 L511.0 2144.4 L513.4 2144.5 L515.7 2144.6 L518.1 2144.6 L520.4 2144.7 L522.8 2144.8 L525.2 2144.9 L527.5 2144.9 L529.9 2145.0" fill="none" stroke="#E8463D" stroke-width="5.8" stroke-linecap="round" stroke-linejoin="round"/>
<path d="M430.3 2127.66 L433.9 2127.66 L433.9 2129.75 L435.9 2130.55 L435.9 2139.22 L433.9 2140.02 L433.9 2142.11 L430.3 2142.11 L430.3 2140.02 L428.3 2139.22 L428.3 2130.55 L430.3 2129.75 Z" fill="#E8463D"/>
<path d="M463.9 2133.68 L467.5 2133.68 L467.5 2135.77 L469.5 2136.57 L469.5 2145.24 L467.5 2146.04 L467.5 2148.13 L463.9 2148.13 L463.9 2146.04 L461.9 2145.24 L461.9 2136.57 L463.9 2135.77 Z" fill="#E8463D"/>
<path d="M497.5 2136.69 L501.1 2136.69 L501.1 2138.78 L503.1 2139.58 L503.1 2148.25 L501.1 2149.05 L501.1 2151.14 L497.5 2151.14 L497.5 2149.05 L495.5 2148.25 L495.5 2139.58 L497.5 2138.78 Z" fill="#E8463D"/>
<path d="M531.1 2137.89 L534.7 2137.89 L534.7 2139.98 L536.7 2140.78 L536.7 2149.45 L534.7 2150.25 L534.7 2152.34 L531.1 2152.34 L531.1 2150.25 L529.1 2149.45 L529.1 2140.78 L531.1 2139.98 Z" fill="#E8463D"/>
<circle cx="364.9" cy="2115.6" r="1.8" fill="#E8463D"/>
</g>
<text x="362" y="2021.2" font-size="21.5" text-anchor="middle">-2</text>
<text x="362" y="2256.4" font-size="21.5" text-anchor="middle">-2</text>
<text x="429.3" y="2021.2" font-size="21.5" text-anchor="middle">-1</text>
<text x="429.3" y="2256.4" font-size="21.5" text-anchor="middle">-1</text>
<text x="498.9" y="2021.2" font-size="21.5" text-anchor="middle">0</text>
<text x="498.9" y="2256.4" font-size="21.5" text-anchor="middle">0</text>
<text x="569.2" y="2021.2" font-size="21.5" text-anchor="middle">1</text>
<text x="565.1" y="2256.4" font-size="21.5" text-anchor="middle">1</text>
<text x="471.7" y="2047.3" font-size="21.7" text-anchor="middle">Log conc (uM)</text>
<text x="471.7" y="2284" font-size="21.7" text-anchor="middle">Log conc (uM)</text>
<g>
<line x1="608.4" y1="1908.25" x2="804.5" y2="1908.25" stroke="#3C80D0" stroke-width="2" stroke-dasharray="3.7 3.4"/>
<line x1="607.5" y1="1938.3" x2="804.5" y2="1938.3" stroke="#111" stroke-width="2.3" stroke-dasharray="0.2 3.82" stroke-linecap="round"/>
<line x1="602.9" y1="1846" x2="602.9" y2="2001.15" stroke="#111" stroke-width="5.5"/>
<line x1="600.15" y1="1998.4" x2="805" y2="1998.4" stroke="#111" stroke-width="5.5"/>
<line x1="599.1" y1="1847" x2="602.9" y2="1847" stroke="#111" stroke-width="2"/>
<line x1="599.1" y1="1878.2" x2="602.9" y2="1878.2" stroke="#111" stroke-width="2.4"/>
<line x1="599.1" y1="1908.25" x2="602.9" y2="1908.25" stroke="#111" stroke-width="2.4"/>
<line x1="599.1" y1="1938.3" x2="602.9" y2="1938.3" stroke="#111" stroke-width="2.4"/>
<line x1="599.1" y1="1968.35" x2="602.9" y2="1968.35" stroke="#111" stroke-width="2.4"/>
<line x1="599.1" y1="1998.4" x2="602.9" y2="1998.4" stroke="#111" stroke-width="2.4"/>
<line x1="602.9" y1="1998.4" x2="602.9" y2="2002.2" stroke="#111" stroke-width="2.4"/>
<line x1="670.1" y1="1998.4" x2="670.1" y2="2002.2" stroke="#111" stroke-width="2.4"/>
<line x1="737.3" y1="1998.4" x2="737.3" y2="2002.2" stroke="#111" stroke-width="2.4"/>
<line x1="804.5" y1="1998.4" x2="804.5" y2="2002.2" stroke="#111" stroke-width="2.4"/>
<path d="M602.9 1883.1 L605.3 1883.3 L607.6 1883.5 L610.0 1883.7 L612.3 1884.0 L614.7 1884.2 L617.0 1884.5 L619.4 1884.9 L621.8 1885.2 L624.1 1885.6 L626.5 1886.0 L628.8 1886.5 L631.2 1887.0 L633.5 1887.6 L635.9 1888.2 L638.3 1888.8 L640.6 1889.6 L643.0 1890.3 L645.3 1891.2 L647.7 1892.1 L650.0 1893.1 L652.4 1894.2 L654.7 1895.3 L657.1 1896.6 L659.5 1897.9 L661.8 1899.3 L664.2 1900.9 L666.5 1902.5 L668.9 1904.2 L671.2 1906.1 L673.6 1908.0 L676.0 1910.0 L678.3 1912.2 L680.7 1914.4 L683.0 1916.7 L685.4 1919.2 L687.7 1921.6 L690.1 1924.2 L692.5 1926.8 L694.8 1929.5 L697.2 1932.2 L699.5 1935.0 L701.9 1937.7 L704.2 1940.5 L706.6 1943.3 L709.0 1946.0 L711.3 1948.7 L713.7 1951.3 L716.0 1953.9 L718.4 1956.5 L720.7 1958.9 L723.1 1961.3 L725.5 1963.5 L727.8 1965.7 L730.2 1967.8 L732.5 1969.8 L734.9 1971.6 L737.2 1973.4 L739.6 1975.1 L742.0 1976.7 L744.3 1978.1 L746.7 1979.5 L749.0 1980.8 L751.4 1982.0 L753.7 1983.1 L756.1 1984.1 L758.4 1985.1 L760.8 1985.9 L763.2 1986.7 L765.5 1987.5 L767.9 1988.2" fill="none" stroke="#2CA362" stroke-width="5.8" stroke-linecap="round" stroke-linejoin="round"/>
<path d="M601.1 1862.65 L604.7 1862.65 L604.7 1865.45 L606.7 1866.25 L606.7 1899.92 L604.7 1900.72 L604.7 1903.52 L601.1 1903.52 L601.1 1900.72 L599.1 1899.92 L599.1 1866.25 L601.1 1865.45 Z" fill="#2CA362"/>
<path d="M634.7 1876.32 L638.3 1876.32 L638.3 1879.12 L640.3 1879.92 L640.3 1896.76 L638.3 1897.56 L638.3 1900.36 L634.7 1900.36 L634.7 1897.56 L632.7 1896.76 L632.7 1879.92 L634.7 1879.12 Z" fill="#2CA362"/>
<path d="M668.3 1887.73 L671.9 1887.73 L671.9 1890.53 L673.9 1891.33 L673.9 1918.99 L671.9 1919.79 L671.9 1922.59 L668.3 1922.59 L668.3 1919.79 L666.3 1918.99 L666.3 1891.33 L668.3 1890.53 Z" fill="#2CA362"/>
<path d="M701.9 1923.65 L705.5 1923.65 L705.5 1926.45 L707.5 1927.25 L707.5 1952.5 L705.5 1953.3 L705.5 1956.1 L701.9 1956.1 L701.9 1953.3 L699.9 1952.5 L699.9 1927.25 L701.9 1926.45 Z" fill="#2CA362"/>
<path d="M735.5 1964.45 L739.1 1964.45 L739.1 1967.25 L741.1 1968.05 L741.1 1978.88 L739.1 1979.68 L739.1 1982.48 L735.5 1982.48 L735.5 1979.68 L733.5 1978.88 L733.5 1968.05 L735.5 1967.25 Z" fill="#2CA362"/>
<path d="M769.1 1981.75 L772.7 1981.75 L772.7 1983.83 L774.7 1984.63 L774.7 1993.29 L772.7 1994.09 L772.7 1996.17 L769.1 1996.17 L769.1 1994.09 L767.1 1993.29 L767.1 1984.63 L769.1 1983.83 Z" fill="#2CA362"/>
<path d="M602.9 1882.8 L605.3 1882.8 L607.6 1882.8 L610.0 1882.8 L612.3 1882.9 L614.7 1882.9 L617.0 1883.0 L619.4 1883.0 L621.8 1883.1 L624.1 1883.1 L626.5 1883.2 L628.8 1883.2 L631.2 1883.3 L633.5 1883.4 L635.9 1883.5 L638.3 1883.5 L640.6 1883.6 L643.0 1883.7 L645.3 1883.8 L647.7 1884.0 L650.0 1884.1 L652.4 1884.2 L654.7 1884.4 L657.1 1884.5 L659.5 1884.7 L661.8 1884.9 L664.2 1885.1 L666.5 1885.3 L668.9 1885.5 L671.2 1885.8 L673.6 1886.0 L676.0 1886.3 L678.3 1886.6 L680.7 1886.9 L683.0 1887.2 L685.4 1887.6 L687.7 1888.0 L690.1 1888.4 L692.5 1888.8 L694.8 1889.3 L697.2 1889.7 L699.5 1890.3 L701.9 1890.8 L704.2 1891.3 L706.6 1891.9 L709.0 1892.6 L711.3 1893.2 L713.7 1893.9 L716.0 1894.6 L718.4 1895.3 L720.7 1896.0 L723.1 1896.8 L725.5 1897.6 L727.8 1898.4 L730.2 1899.2 L732.5 1900.1 L734.9 1900.9 L737.2 1901.8 L739.6 1902.7 L742.0 1903.6 L744.3 1904.5 L746.7 1905.3 L749.0 1906.2 L751.4 1907.1 L753.7 1908.0 L756.1 1908.8 L758.4 1909.7 L760.8 1910.5 L763.2 1911.3 L765.5 1912.1 L767.9 1912.8" fill="none" stroke="#E8463D" stroke-width="5.8" stroke-linecap="round" stroke-linejoin="round"/>
<path d="M634.7 1876.27 L638.3 1876.27 L638.3 1878.35 L640.3 1879.15 L640.3 1887.81 L638.3 1888.61 L638.3 1890.69 L634.7 1890.69 L634.7 1888.61 L632.7 1887.81 L632.7 1879.15 L634.7 1878.35 Z" fill="#E8463D"/>
<circle cx="602.9" cy="1882.8" r="1.8" fill="#E8463D"/>
<circle cx="703.7" cy="1891.2" r="1.8" fill="#E8463D"/>
</g>
<g>
<line x1="608.4" y1="2139.7" x2="804.5" y2="2139.7" stroke="#3C80D0" stroke-width="2" stroke-dasharray="3.7 3.4"/>
<line x1="607.5" y1="2169.8" x2="804.5" y2="2169.8" stroke="#111" stroke-width="2.3" stroke-dasharray="0.2 3.82" stroke-linecap="round"/>
<line x1="602.9" y1="2077.3" x2="602.9" y2="2232.75" stroke="#111" stroke-width="5.5"/>
<line x1="600.15" y1="2230" x2="805" y2="2230" stroke="#111" stroke-width="5.5"/>
<line x1="599.1" y1="2078.3" x2="602.9" y2="2078.3" stroke="#111" stroke-width="2"/>
<line x1="599.1" y1="2109.6" x2="602.9" y2="2109.6" stroke="#111" stroke-width="2.4"/>
<line x1="599.1" y1="2139.7" x2="602.9" y2="2139.7" stroke="#111" stroke-width="2.4"/>
<line x1="599.1" y1="2169.8" x2="602.9" y2="2169.8" stroke="#111" stroke-width="2.4"/>
<line x1="599.1" y1="2199.9" x2="602.9" y2="2199.9" stroke="#111" stroke-width="2.4"/>
<line x1="599.1" y1="2230" x2="602.9" y2="2230" stroke="#111" stroke-width="2.4"/>
<line x1="602.9" y1="2230" x2="602.9" y2="2233.8" stroke="#111" stroke-width="2.4"/>
<line x1="670.1" y1="2230" x2="670.1" y2="2233.8" stroke="#111" stroke-width="2.4"/>
<line x1="737.3" y1="2230" x2="737.3" y2="2233.8" stroke="#111" stroke-width="2.4"/>
<line x1="804.5" y1="2230" x2="804.5" y2="2233.8" stroke="#111" stroke-width="2.4"/>
<path d="M602.9 2082.5 L605.3 2083.6 L607.6 2084.7 L610.0 2085.7 L612.3 2086.7 L614.7 2087.7 L617.0 2088.7 L619.4 2089.7 L621.8 2090.7 L624.1 2091.8 L626.5 2092.9 L628.8 2094.1 L631.2 2095.4 L633.5 2096.8 L635.9 2098.4 L638.3 2100.1 L640.6 2102.1 L643.0 2104.4 L645.3 2106.9 L647.7 2109.7 L650.0 2112.6 L652.4 2115.6 L654.7 2118.7 L657.1 2121.9 L659.5 2125.1 L661.8 2128.2 L664.2 2131.3 L666.5 2134.3 L668.9 2137.1 L671.2 2139.8 L673.6 2142.4 L676.0 2145.1 L678.3 2147.7 L680.7 2150.3 L683.0 2152.9 L685.4 2155.5 L687.7 2158.0 L690.1 2160.5 L692.5 2163.0 L694.8 2165.5 L697.2 2168.0 L699.5 2170.4 L701.9 2172.8 L704.2 2175.2 L706.6 2177.6 L709.0 2180.1 L711.3 2182.7 L713.7 2185.3 L716.0 2187.9 L718.4 2190.5 L720.7 2193.0 L723.1 2195.4 L725.5 2197.6 L727.8 2199.7 L730.2 2201.6 L732.5 2203.3 L734.9 2204.7 L737.2 2205.9 L739.6 2206.8 L742.0 2207.7 L744.3 2208.5 L746.7 2209.2 L749.0 2209.8 L751.4 2210.4 L753.7 2211.0 L756.1 2211.5 L758.4 2212.0 L760.8 2212.6 L763.2 2213.1 L765.5 2213.6 L767.9 2214.2" fill="none" stroke="#2CA362" stroke-width="5.8" stroke-linecap="round" stroke-linejoin="round"/>
<path d="M601.1 2077.69 L604.7 2077.69 L604.7 2080.49 L606.7 2081.29 L606.7 2107.81 L604.7 2108.61 L604.7 2111.41 L601.1 2111.41 L601.1 2108.61 L599.1 2107.81 L599.1 2081.29 L601.1 2080.49 Z" fill="#2CA362"/>
<path d="M634.7 2083.71 L638.3 2083.71 L638.3 2086.51 L640.3 2087.31 L640.3 2110.21 L638.3 2111.01 L638.3 2113.81 L634.7 2113.81 L634.7 2111.01 L632.7 2110.21 L632.7 2087.31 L634.7 2086.51 Z" fill="#2CA362"/>
<path d="M668.3 2100.57 L671.9 2100.57 L671.9 2103.37 L673.9 2104.17 L673.9 2172.82 L671.9 2173.62 L671.9 2176.42 L668.3 2176.42 L668.3 2173.62 L666.3 2172.82 L666.3 2104.17 L668.3 2103.37 Z" fill="#2CA362"/>
<path d="M701.9 2163.78 L705.5 2163.78 L705.5 2166.58 L707.5 2167.38 L707.5 2181.85 L705.5 2182.65 L705.5 2185.45 L701.9 2185.45 L701.9 2182.65 L699.9 2181.85 L699.9 2167.38 L701.9 2166.58 Z" fill="#2CA362"/>
<path d="M735.5 2195.08 L739.1 2195.08 L739.1 2197.88 L741.1 2198.68 L741.1 2213.16 L739.1 2213.96 L739.1 2216.76 L735.5 2216.76 L735.5 2213.96 L733.5 2213.16 L733.5 2198.68 L735.5 2197.88 Z" fill="#2CA362"/>
<path d="M769.1 2205.92 L772.7 2205.92 L772.7 2208.72 L774.7 2209.52 L774.7 2220.38 L772.7 2221.18 L772.7 2223.98 L769.1 2223.98 L769.1 2221.18 L767.1 2220.38 L767.1 2209.52 L769.1 2208.72 Z" fill="#2CA362"/>
<path d="M602.9 2113.9 L605.3 2113.9 L607.6 2113.9 L610.0 2114.0 L612.3 2114.0 L614.7 2114.0 L617.0 2114.0 L619.4 2114.0 L621.8 2114.1 L624.1 2114.1 L626.5 2114.1 L628.8 2114.2 L631.2 2114.2 L633.5 2114.3 L635.9 2114.3 L638.3 2114.4 L640.6 2114.5 L643.0 2114.6 L645.3 2114.6 L647.7 2114.8 L650.0 2114.9 L652.4 2115.0 L654.7 2115.1 L657.1 2115.3 L659.5 2115.5 L661.8 2115.7 L664.2 2115.9 L666.5 2116.2 L668.9 2116.5 L671.2 2116.8 L673.6 2117.1 L676.0 2117.5 L678.3 2117.9 L680.7 2118.4 L683.0 2118.9 L685.4 2119.4 L687.7 2120.0 L690.1 2120.7 L692.5 2121.3 L694.8 2122.1 L697.2 2122.9 L699.5 2123.7 L701.9 2124.6 L704.2 2125.5 L706.6 2126.4 L709.0 2127.4 L711.3 2128.4 L713.7 2129.4 L716.0 2130.5 L718.4 2131.5 L720.7 2132.6 L723.1 2133.6 L725.5 2134.6 L727.8 2135.6 L730.2 2136.5 L732.5 2137.4 L734.9 2138.3 L737.2 2139.1 L739.6 2139.9 L742.0 2140.6 L744.3 2141.3 L746.7 2142.0 L749.0 2142.5 L751.4 2143.1 L753.7 2143.6 L756.1 2144.0 L758.4 2144.5 L760.8 2144.8 L763.2 2145.2 L765.5 2145.5 L767.9 2145.8" fill="none" stroke="#E8463D" stroke-width="5.8" stroke-linecap="round" stroke-linejoin="round"/>
<path d="M634.7 2105.32 L638.3 2105.32 L638.3 2108.12 L640.3 2108.92 L640.3 2119.78 L638.3 2120.58 L638.3 2123.38 L634.7 2123.38 L634.7 2120.58 L632.7 2119.78 L632.7 2108.92 L634.7 2108.12 Z" fill="#E8463D"/>
<path d="M769.1 2138.87 L772.7 2138.87 L772.7 2140.96 L774.7 2141.76 L774.7 2150.43 L772.7 2151.23 L772.7 2153.32 L769.1 2153.32 L769.1 2151.23 L767.1 2150.43 L767.1 2141.76 L769.1 2140.96 Z" fill="#E8463D"/>
<circle cx="670.1" cy="2116.6" r="1.8" fill="#E8463D"/>
</g>
<text x="595.6" y="2021.2" font-size="21.5" text-anchor="middle">-2</text>
<text x="595.6" y="2256.4" font-size="21.5" text-anchor="middle">-2</text>
<text x="663.9" y="2021.2" font-size="21.5" text-anchor="middle">-1</text>
<text x="663.9" y="2256.4" font-size="21.5" text-anchor="middle">-1</text>
<text x="733.5" y="2021.2" font-size="21.5" text-anchor="middle">0</text>
<text x="733.5" y="2256.4" font-size="21.5" text-anchor="middle">0</text>
<text x="803.1" y="2021.2" font-size="21.5" text-anchor="middle">1</text>
<text x="803.1" y="2256.4" font-size="21.5" text-anchor="middle">1</text>
<text x="704.5" y="2047.3" font-size="21.7" text-anchor="middle">Log conc (uM)</text>
<text x="704.5" y="2284" font-size="21.7" text-anchor="middle">Log conc (uM)</text>
<g>
<line x1="836.8" y1="1908.25" x2="1032.9" y2="1908.25" stroke="#3C80D0" stroke-width="2" stroke-dasharray="3.7 3.4"/>
<line x1="835.9" y1="1938.3" x2="1032.9" y2="1938.3" stroke="#111" stroke-width="2.3" stroke-dasharray="0.2 3.82" stroke-linecap="round"/>
<line x1="831.3" y1="1846" x2="831.3" y2="2001.15" stroke="#111" stroke-width="5.5"/>
<line x1="828.55" y1="1998.4" x2="1033.4" y2="1998.4" stroke="#111" stroke-width="5.5"/>
<line x1="827.5" y1="1847" x2="831.3" y2="1847" stroke="#111" stroke-width="2"/>
<line x1="827.5" y1="1878.2" x2="831.3" y2="1878.2" stroke="#111" stroke-width="2.4"/>
<line x1="827.5" y1="1908.25" x2="831.3" y2="1908.25" stroke="#111" stroke-width="2.4"/>
<line x1="827.5" y1="1938.3" x2="831.3" y2="1938.3" stroke="#111" stroke-width="2.4"/>
<line x1="827.5" y1="1968.35" x2="831.3" y2="1968.35" stroke="#111" stroke-width="2.4"/>
<line x1="827.5" y1="1998.4" x2="831.3" y2="1998.4" stroke="#111" stroke-width="2.4"/>
<line x1="831.3" y1="1998.4" x2="831.3" y2="2002.2" stroke="#111" stroke-width="2.4"/>
<line x1="898.5" y1="1998.4" x2="898.5" y2="2002.2" stroke="#111" stroke-width="2.4"/>
<line x1="965.7" y1="1998.4" x2="965.7" y2="2002.2" stroke="#111" stroke-width="2.4"/>
<line x1="1032.9" y1="1998.4" x2="1032.9" y2="2002.2" stroke="#111" stroke-width="2.4"/>
<path d="M831.3 1883.6 L833.7 1883.6 L836.0 1883.6 L838.4 1883.6 L840.7 1883.7 L843.1 1883.7 L845.4 1883.7 L847.8 1883.7 L850.2 1883.7 L852.5 1883.7 L854.9 1883.7 L857.2 1883.7 L859.6 1883.7 L861.9 1883.7 L864.3 1883.7 L866.7 1883.8 L869.0 1883.8 L871.4 1883.8 L873.7 1883.8 L876.1 1883.9 L878.4 1883.9 L880.8 1883.9 L883.1 1884.0 L885.5 1884.0 L887.9 1884.1 L890.2 1884.1 L892.6 1884.2 L894.9 1884.3 L897.3 1884.4 L899.6 1884.5 L902.0 1884.6 L904.4 1884.7 L906.7 1884.8 L909.1 1885.0 L911.4 1885.2 L913.8 1885.4 L916.1 1885.6 L918.5 1885.8 L920.9 1886.1 L923.2 1886.4 L925.6 1886.7 L927.9 1887.1 L930.3 1887.6 L932.6 1888.0 L935.0 1888.6 L937.4 1889.2 L939.7 1889.8 L942.1 1890.5 L944.4 1891.3 L946.8 1892.2 L949.1 1893.2 L951.5 1894.2 L953.9 1895.4 L956.2 1896.6 L958.6 1898.0 L960.9 1899.4 L963.3 1901.0 L965.6 1902.6 L968.0 1904.4 L970.4 1906.2 L972.7 1908.1 L975.1 1910.1 L977.4 1912.2 L979.8 1914.3 L982.1 1916.5 L984.5 1918.7 L986.8 1920.9 L989.2 1923.1 L991.6 1925.3 L993.9 1927.4 L996.3 1929.5" fill="none" stroke="#2CA362" stroke-width="5.8" stroke-linecap="round" stroke-linejoin="round"/>
<path d="M829.5 1868.61 L833.1 1868.61 L833.1 1871.41 L835.1 1872.21 L835.1 1895.06 L833.1 1895.86 L833.1 1898.66 L829.5 1898.66 L829.5 1895.86 L827.5 1895.06 L827.5 1872.21 L829.5 1871.41 Z" fill="#2CA362"/>
<path d="M863.1 1866.93 L866.7 1866.93 L866.7 1869.73 L868.7 1870.53 L868.7 1896.98 L866.7 1897.78 L866.7 1900.58 L863.1 1900.58 L863.1 1897.78 L861.1 1896.98 L861.1 1870.53 L863.1 1869.73 Z" fill="#2CA362"/>
<path d="M896.7 1868.19 L900.3 1868.19 L900.3 1870.99 L902.3 1871.79 L902.3 1897.04 L900.3 1897.84 L900.3 1900.64 L896.7 1900.64 L896.7 1897.84 L894.7 1897.04 L894.7 1871.79 L896.7 1870.99 Z" fill="#2CA362"/>
<path d="M930.3 1869.9 L933.9 1869.9 L933.9 1872.7 L935.9 1873.5 L935.9 1902.36 L933.9 1903.16 L933.9 1905.96 L930.3 1905.96 L930.3 1903.16 L928.3 1902.36 L928.3 1873.5 L930.3 1872.7 Z" fill="#2CA362"/>
<path d="M963.9 1886.43 L967.5 1886.43 L967.5 1889.23 L969.5 1890.03 L969.5 1915.28 L967.5 1916.08 L967.5 1918.88 L963.9 1918.88 L963.9 1916.08 L961.9 1915.28 L961.9 1890.03 L963.9 1889.23 Z" fill="#2CA362"/>
<path d="M997.5 1917.03 L1001.1 1917.03 L1001.1 1919.83 L1003.1 1920.63 L1003.1 1943.48 L1001.1 1944.28 L1001.1 1947.08 L997.5 1947.08 L997.5 1944.28 L995.5 1943.48 L995.5 1920.63 L997.5 1919.83 Z" fill="#2CA362"/>
<path d="M831.3 1881.9 L833.7 1881.9 L836.0 1881.9 L838.4 1881.9 L840.7 1881.9 L843.1 1881.9 L845.4 1881.9 L847.8 1881.9 L850.2 1881.9 L852.5 1881.9 L854.9 1882.0 L857.2 1882.0 L859.6 1882.0 L861.9 1882.0 L864.3 1882.0 L866.7 1882.1 L869.0 1882.1 L871.4 1882.2 L873.7 1882.2 L876.1 1882.2 L878.4 1882.3 L880.8 1882.4 L883.1 1882.4 L885.5 1882.5 L887.9 1882.6 L890.2 1882.7 L892.6 1882.8 L894.9 1882.9 L897.3 1883.1 L899.6 1883.2 L902.0 1883.4 L904.4 1883.6 L906.7 1883.9 L909.1 1884.1 L911.4 1884.4 L913.8 1884.7 L916.1 1885.0 L918.5 1885.4 L920.9 1885.8 L923.2 1886.3 L925.6 1886.8 L927.9 1887.4 L930.3 1888.0 L932.6 1888.7 L935.0 1889.4 L937.4 1890.2 L939.7 1891.1 L942.1 1892.0 L944.4 1893.0 L946.8 1894.0 L949.1 1895.1 L951.5 1896.3 L953.9 1897.5 L956.2 1898.7 L958.6 1900.0 L960.9 1901.3 L963.3 1902.7 L965.6 1904.0 L968.0 1905.4 L970.4 1906.7 L972.7 1908.0 L975.1 1909.3 L977.4 1910.5 L979.8 1911.8 L982.1 1912.9 L984.5 1914.0 L986.8 1915.1 L989.2 1916.0 L991.6 1917.0 L993.9 1917.8 L996.3 1918.6" fill="none" stroke="#E8463D" stroke-width="5.8" stroke-linecap="round" stroke-linejoin="round"/>
<path d="M829.5 1878.85 L833.1 1878.85 L833.1 1879.25 L835.1 1880.05 L835.1 1883.65 L833.1 1884.45 L833.1 1884.86 L829.5 1884.86 L829.5 1884.45 L827.5 1883.65 L827.5 1880.05 L829.5 1879.25 Z" fill="#E8463D"/>
<path d="M896.7 1872.35 L900.3 1872.35 L900.3 1875.15 L902.3 1875.95 L902.3 1890.39 L900.3 1891.19 L900.3 1893.99 L896.7 1893.99 L896.7 1891.19 L894.7 1890.39 L894.7 1875.95 L896.7 1875.15 Z" fill="#E8463D"/>
<path d="M930.3 1877.7 L933.9 1877.7 L933.9 1880.5 L935.9 1881.3 L935.9 1895.74 L933.9 1896.54 L933.9 1899.34 L930.3 1899.34 L930.3 1896.54 L928.3 1895.74 L928.3 1881.3 L930.3 1880.5 Z" fill="#E8463D"/>
<path d="M963.9 1893.23 L967.5 1893.23 L967.5 1896.03 L969.5 1896.83 L969.5 1911.26 L967.5 1912.06 L967.5 1914.86 L963.9 1914.86 L963.9 1912.06 L961.9 1911.26 L961.9 1896.83 L963.9 1896.03 Z" fill="#E8463D"/>
<path d="M997.5 1912.35 L1001.1 1912.35 L1001.1 1914.44 L1003.1 1915.24 L1003.1 1923.89 L1001.1 1924.69 L1001.1 1926.78 L997.5 1926.78 L997.5 1924.69 L995.5 1923.89 L995.5 1915.24 L997.5 1914.44 Z" fill="#E8463D"/>
<circle cx="864.9" cy="1882.1" r="1.8" fill="#E8463D"/>
</g>
<g>
<line x1="836.8" y1="2139.7" x2="1032.9" y2="2139.7" stroke="#3C80D0" stroke-width="2" stroke-dasharray="3.7 3.4"/>
<line x1="835.9" y1="2169.8" x2="1032.9" y2="2169.8" stroke="#111" stroke-width="2.3" stroke-dasharray="0.2 3.82" stroke-linecap="round"/>
<line x1="831.3" y1="2077.3" x2="831.3" y2="2232.75" stroke="#111" stroke-width="5.5"/>
<line x1="828.55" y1="2230" x2="1033.4" y2="2230" stroke="#111" stroke-width="5.5"/>
<line x1="827.5" y1="2078.3" x2="831.3" y2="2078.3" stroke="#111" stroke-width="2"/>
<line x1="827.5" y1="2109.6" x2="831.3" y2="2109.6" stroke="#111" stroke-width="2.4"/>
<line x1="827.5" y1="2139.7" x2="831.3" y2="2139.7" stroke="#111" stroke-width="2.4"/>
<line x1="827.5" y1="2169.8" x2="831.3" y2="2169.8" stroke="#111" stroke-width="2.4"/>
<line x1="827.5" y1="2199.9" x2="831.3" y2="2199.9" stroke="#111" stroke-width="2.4"/>
<line x1="827.5" y1="2230" x2="831.3" y2="2230" stroke="#111" stroke-width="2.4"/>
<line x1="831.3" y1="2230" x2="831.3" y2="2233.8" stroke="#111" stroke-width="2.4"/>
<line x1="898.5" y1="2230" x2="898.5" y2="2233.8" stroke="#111" stroke-width="2.4"/>
<line x1="965.7" y1="2230" x2="965.7" y2="2233.8" stroke="#111" stroke-width="2.4"/>
<line x1="1032.9" y1="2230" x2="1032.9" y2="2233.8" stroke="#111" stroke-width="2.4"/>
<path d="M831.3 2117.4 L833.7 2117.5 L836.0 2117.5 L838.4 2117.5 L840.7 2117.5 L843.1 2117.5 L845.4 2117.5 L847.8 2117.5 L850.2 2117.5 L852.5 2117.5 L854.9 2117.6 L857.2 2117.6 L859.6 2117.6 L861.9 2117.7 L864.3 2117.8 L866.7 2117.8 L869.0 2117.9 L871.4 2118.0 L873.7 2118.2 L876.1 2118.3 L878.4 2118.5 L880.8 2118.8 L883.1 2119.0 L885.5 2119.4 L887.9 2119.8 L890.2 2120.3 L892.6 2120.9 L894.9 2121.7 L897.3 2122.5 L899.6 2123.5 L902.0 2124.7 L904.4 2126.1 L906.7 2127.7 L909.1 2129.5 L911.4 2131.5 L913.8 2133.7 L916.1 2136.1 L918.5 2138.7 L920.9 2141.4 L923.2 2144.1 L925.6 2146.9 L927.9 2149.7 L930.3 2152.4 L932.6 2154.9 L935.0 2157.2 L937.4 2159.4 L939.7 2161.3 L942.1 2163.1 L944.4 2164.6 L946.8 2165.9 L949.1 2167.0 L951.5 2168.0 L953.9 2168.8 L956.2 2169.5 L958.6 2170.1 L960.9 2170.6 L963.3 2171.0 L965.6 2171.3 L968.0 2171.6 L970.4 2171.8 L972.7 2172.0 L975.1 2172.1 L977.4 2172.2 L979.8 2172.3 L982.1 2172.4 L984.5 2172.5 L986.8 2172.6 L989.2 2172.6 L991.6 2172.6 L993.9 2172.7 L996.3 2172.7" fill="none" stroke="#2CA362" stroke-width="5.8" stroke-linecap="round" stroke-linejoin="round"/>
<path d="M829.5 2102.4 L833.1 2102.4 L833.1 2105.2 L835.1 2106 L835.1 2128.9 L833.1 2129.7 L833.1 2132.5 L829.5 2132.5 L829.5 2129.7 L827.5 2128.9 L827.5 2106 L829.5 2105.2 Z" fill="#2CA362"/>
<path d="M863.1 2099.71 L866.7 2099.71 L866.7 2102.51 L868.7 2103.31 L868.7 2132.23 L866.7 2133.03 L866.7 2135.83 L863.1 2135.83 L863.1 2133.03 L861.1 2132.23 L861.1 2103.31 L863.1 2102.51 Z" fill="#2CA362"/>
<path d="M896.7 2104.95 L900.3 2104.95 L900.3 2107.75 L902.3 2108.55 L902.3 2137.47 L900.3 2138.27 L900.3 2141.07 L896.7 2141.07 L896.7 2138.27 L894.7 2137.47 L894.7 2108.55 L896.7 2107.75 Z" fill="#2CA362"/>
<path d="M930.3 2133.68 L933.9 2133.68 L933.9 2136.48 L935.9 2137.28 L935.9 2160.18 L933.9 2160.98 L933.9 2163.78 L930.3 2163.78 L930.3 2160.98 L928.3 2160.18 L928.3 2137.28 L930.3 2136.48 Z" fill="#2CA362"/>
<path d="M963.9 2164.07 L967.5 2164.07 L967.5 2166.16 L969.5 2166.96 L969.5 2175.63 L967.5 2176.43 L967.5 2178.52 L963.9 2178.52 L963.9 2176.43 L961.9 2175.63 L961.9 2166.96 L963.9 2166.16 Z" fill="#2CA362"/>
<path d="M997.5 2161.89 L1001.1 2161.89 L1001.1 2164.69 L1003.1 2165.49 L1003.1 2179.96 L1001.1 2180.76 L1001.1 2183.56 L997.5 2183.56 L997.5 2180.76 L995.5 2179.96 L995.5 2165.49 L997.5 2164.69 Z" fill="#2CA362"/>
<path d="M831.3 2111.6 L833.7 2111.6 L836.0 2111.6 L838.4 2111.7 L840.7 2111.7 L843.1 2111.7 L845.4 2111.8 L847.8 2111.8 L850.2 2111.9 L852.5 2112.0 L854.9 2112.1 L857.2 2112.2 L859.6 2112.3 L861.9 2112.4 L864.3 2112.6 L866.7 2112.8 L869.0 2113.0 L871.4 2113.2 L873.7 2113.5 L876.1 2113.8 L878.4 2114.2 L880.8 2114.6 L883.1 2115.0 L885.5 2115.5 L887.9 2116.1 L890.2 2116.8 L892.6 2117.5 L894.9 2118.3 L897.3 2119.2 L899.6 2120.1 L902.0 2121.2 L904.4 2122.3 L906.7 2123.5 L909.1 2124.9 L911.4 2126.2 L913.8 2127.7 L916.1 2129.2 L918.5 2130.7 L920.9 2132.3 L923.2 2133.9 L925.6 2135.4 L927.9 2137.0 L930.3 2138.5 L932.6 2139.9 L935.0 2141.3 L937.4 2142.6 L939.7 2143.9 L942.1 2145.0 L944.4 2146.1 L946.8 2147.0 L949.1 2147.9 L951.5 2148.7 L953.9 2149.4 L956.2 2150.1 L958.6 2150.6 L960.9 2151.1 L963.3 2151.6 L965.6 2152.0 L968.0 2152.3 L970.4 2152.7 L972.7 2152.9 L975.1 2153.2 L977.4 2153.4 L979.8 2153.6 L982.1 2153.7 L984.5 2153.8 L986.8 2154.0 L989.2 2154.1 L991.6 2154.2 L993.9 2154.2 L996.3 2154.3" fill="none" stroke="#E8463D" stroke-width="5.8" stroke-linecap="round" stroke-linejoin="round"/>
<path d="M863.1 2105.42 L866.7 2105.42 L866.7 2107.51 L868.7 2108.31 L868.7 2116.98 L866.7 2117.78 L866.7 2119.87 L863.1 2119.87 L863.1 2117.78 L861.1 2116.98 L861.1 2108.31 L863.1 2107.51 Z" fill="#E8463D"/>
<path d="M896.7 2110.61 L900.3 2110.61 L900.3 2113.41 L902.3 2114.21 L902.3 2125.07 L900.3 2125.87 L900.3 2128.67 L896.7 2128.67 L896.7 2125.87 L894.7 2125.07 L894.7 2114.21 L896.7 2113.41 Z" fill="#E8463D"/>
<path d="M930.3 2130.58 L933.9 2130.58 L933.9 2133.38 L935.9 2134.18 L935.9 2145.04 L933.9 2145.84 L933.9 2148.64 L930.3 2148.64 L930.3 2145.84 L928.3 2145.04 L928.3 2134.18 L930.3 2133.38 Z" fill="#E8463D"/>
<path d="M963.9 2145.99 L967.5 2145.99 L967.5 2147.59 L969.5 2148.39 L969.5 2155.62 L967.5 2156.42 L967.5 2158.03 L963.9 2158.03 L963.9 2156.42 L961.9 2155.62 L961.9 2148.39 L963.9 2147.59 Z" fill="#E8463D"/>
<path d="M997.5 2147.16 L1001.1 2147.16 L1001.1 2149.25 L1003.1 2150.05 L1003.1 2158.72 L1001.1 2159.52 L1001.1 2161.61 L997.5 2161.61 L997.5 2159.52 L995.5 2158.72 L995.5 2150.05 L997.5 2149.25 Z" fill="#E8463D"/>
<circle cx="831.3" cy="2111.6" r="1.8" fill="#E8463D"/>
</g>
<text x="829.8" y="2021.2" font-size="21.5" text-anchor="middle">-2</text>
<text x="829.8" y="2256.4" font-size="21.5" text-anchor="middle">-2</text>
<text x="898.6" y="2021.2" font-size="21.5" text-anchor="middle">-1</text>
<text x="894.9" y="2256.4" font-size="21.5" text-anchor="middle">-1</text>
<text x="967.7" y="2021.2" font-size="21.5" text-anchor="middle">0</text>
<text x="964.5" y="2256.4" font-size="21.5" text-anchor="middle">0</text>
<text x="1037.9" y="2021.2" font-size="21.5" text-anchor="middle">1</text>
<text x="1033.6" y="2256.4" font-size="21.5" text-anchor="middle">1</text>
<text x="939.7" y="2047.3" font-size="21.7" text-anchor="middle">Log conc (uM)</text>
<text x="936.4" y="2284" font-size="21.7" text-anchor="middle">Log conc (uM)</text>
<g>
<line x1="1074.8" y1="1908.25" x2="1270.9" y2="1908.25" stroke="#3C80D0" stroke-width="2" stroke-dasharray="3.7 3.4"/>
<line x1="1073.9" y1="1938.3" x2="1270.9" y2="1938.3" stroke="#111" stroke-width="2.3" stroke-dasharray="0.2 3.82" stroke-linecap="round"/>
<line x1="1069.3" y1="1846" x2="1069.3" y2="2001.15" stroke="#111" stroke-width="5.5"/>
<line x1="1066.55" y1="1998.4" x2="1271.4" y2="1998.4" stroke="#111" stroke-width="5.5"/>
<line x1="1065.5" y1="1847" x2="1069.3" y2="1847" stroke="#111" stroke-width="2"/>
<line x1="1065.5" y1="1878.2" x2="1069.3" y2="1878.2" stroke="#111" stroke-width="2.4"/>
<line x1="1065.5" y1="1908.25" x2="1069.3" y2="1908.25" stroke="#111" stroke-width="2.4"/>
<line x1="1065.5" y1="1938.3" x2="1069.3" y2="1938.3" stroke="#111" stroke-width="2.4"/>
<line x1="1065.5" y1="1968.35" x2="1069.3" y2="1968.35" stroke="#111" stroke-width="2.4"/>
<line x1="1065.5" y1="1998.4" x2="1069.3" y2="1998.4" stroke="#111" stroke-width="2.4"/>
<line x1="1069.3" y1="1998.4" x2="1069.3" y2="2002.2" stroke="#111" stroke-width="2.4"/>
<line x1="1136.5" y1="1998.4" x2="1136.5" y2="2002.2" stroke="#111" stroke-width="2.4"/>
<line x1="1203.7" y1="1998.4" x2="1203.7" y2="2002.2" stroke="#111" stroke-width="2.4"/>
<line x1="1270.9" y1="1998.4" x2="1270.9" y2="2002.2" stroke="#111" stroke-width="2.4"/>
<path d="M1069.3 1868.6 L1071.7 1868.8 L1074.0 1869.0 L1076.4 1869.2 L1078.7 1869.4 L1081.1 1869.6 L1083.4 1869.8 L1085.8 1870.0 L1088.2 1870.2 L1090.5 1870.4 L1092.9 1870.6 L1095.2 1870.8 L1097.6 1871.0 L1099.9 1871.2 L1102.3 1871.5 L1104.7 1871.7 L1107.0 1871.9 L1109.4 1872.1 L1111.7 1872.3 L1114.1 1872.4 L1116.4 1872.6 L1118.8 1872.8 L1121.1 1873.0 L1123.5 1873.2 L1125.9 1873.3 L1128.2 1873.5 L1130.6 1873.6 L1132.9 1873.8 L1135.3 1873.9 L1137.6 1874.1 L1140.0 1874.2 L1142.4 1874.3 L1144.7 1874.4 L1147.1 1874.5 L1149.4 1874.7 L1151.8 1874.8 L1154.1 1874.9 L1156.5 1875.0 L1158.9 1875.1 L1161.2 1875.2 L1163.6 1875.3 L1165.9 1875.4 L1168.3 1875.5 L1170.6 1875.6 L1173.0 1875.7 L1175.4 1875.8 L1177.7 1875.9 L1180.1 1876.0 L1182.4 1876.1 L1184.8 1876.2 L1187.1 1876.3 L1189.5 1876.4 L1191.9 1876.5 L1194.2 1876.5 L1196.6 1876.6 L1198.9 1876.7 L1201.3 1876.8 L1203.6 1876.9 L1206.0 1877.0 L1208.4 1877.1 L1210.7 1877.2 L1213.1 1877.2 L1215.4 1877.3 L1217.8 1877.4 L1220.1 1877.5 L1222.5 1877.6 L1224.8 1877.7 L1227.2 1877.8 L1229.6 1877.9 L1231.9 1878.0 L1234.3 1878.1" fill="none" stroke="#2CA362" stroke-width="5.8" stroke-linecap="round" stroke-linejoin="round"/>
<path d="M1067.5 1859.57 L1071.1 1859.57 L1071.1 1862.37 L1073.1 1863.17 L1073.1 1874 L1071.1 1874.8 L1071.1 1877.6 L1067.5 1877.6 L1067.5 1874.8 L1065.5 1874 L1065.5 1863.17 L1067.5 1862.37 Z" fill="#2CA362"/>
<path d="M1101.1 1859.48 L1104.7 1859.48 L1104.7 1862.28 L1106.7 1863.08 L1106.7 1879.92 L1104.7 1880.72 L1104.7 1883.52 L1101.1 1883.52 L1101.1 1880.72 L1099.1 1879.92 L1099.1 1863.08 L1101.1 1862.28 Z" fill="#2CA362"/>
<path d="M1134.7 1861.97 L1138.3 1861.97 L1138.3 1864.77 L1140.3 1865.57 L1140.3 1882.41 L1138.3 1883.21 L1138.3 1886.01 L1134.7 1886.01 L1134.7 1883.21 L1132.7 1882.41 L1132.7 1865.57 L1134.7 1864.77 Z" fill="#2CA362"/>
<path d="M1168.3 1860.57 L1171.9 1860.57 L1171.9 1863.37 L1173.9 1864.17 L1173.9 1887.02 L1171.9 1887.82 L1171.9 1890.62 L1168.3 1890.62 L1168.3 1887.82 L1166.3 1887.02 L1166.3 1864.17 L1168.3 1863.37 Z" fill="#2CA362"/>
<path d="M1201.9 1864.88 L1205.5 1864.88 L1205.5 1867.68 L1207.5 1868.48 L1207.5 1885.32 L1205.5 1886.12 L1205.5 1888.92 L1201.9 1888.92 L1201.9 1886.12 L1199.9 1885.32 L1199.9 1868.48 L1201.9 1867.68 Z" fill="#2CA362"/>
<path d="M1235.5 1867.38 L1239.1 1867.38 L1239.1 1870.18 L1241.1 1870.98 L1241.1 1885.42 L1239.1 1886.22 L1239.1 1889.02 L1235.5 1889.02 L1235.5 1886.22 L1233.5 1885.42 L1233.5 1870.98 L1235.5 1870.18 Z" fill="#2CA362"/>
<path d="M1069.3 1883.6 L1071.7 1883.6 L1074.0 1883.6 L1076.4 1883.6 L1078.7 1883.6 L1081.1 1883.6 L1083.4 1883.6 L1085.8 1883.6 L1088.2 1883.6 L1090.5 1883.6 L1092.9 1883.6 L1095.2 1883.6 L1097.6 1883.6 L1099.9 1883.6 L1102.3 1883.6 L1104.7 1883.6 L1107.0 1883.6 L1109.4 1883.6 L1111.7 1883.6 L1114.1 1883.6 L1116.4 1883.6 L1118.8 1883.6 L1121.1 1883.6 L1123.5 1883.6 L1125.9 1883.6 L1128.2 1883.6 L1130.6 1883.6 L1132.9 1883.6 L1135.3 1883.5 L1137.6 1883.0 L1140.0 1882.4 L1142.4 1880.7 L1144.7 1878.3 L1147.1 1876.8 L1149.4 1875.9 L1151.8 1875.3 L1154.1 1875.2 L1156.5 1875.2 L1158.9 1875.2 L1161.2 1875.2 L1163.6 1875.2 L1165.9 1875.2 L1168.3 1875.2 L1170.6 1875.2 L1173.0 1875.2 L1175.4 1875.2 L1177.7 1875.2 L1180.1 1875.2 L1182.4 1875.2 L1184.8 1875.2 L1187.1 1875.2 L1189.5 1875.2 L1191.9 1875.2 L1194.2 1875.2 L1196.6 1875.2 L1198.9 1875.2 L1201.3 1875.2 L1203.6 1875.2 L1206.0 1875.2 L1208.4 1875.2 L1210.7 1875.2 L1213.1 1875.2 L1215.4 1875.2 L1217.8 1875.2 L1220.1 1875.2 L1222.5 1875.2 L1224.8 1875.2 L1227.2 1875.2 L1229.6 1875.2 L1231.9 1875.2 L1234.3 1875.2" fill="none" stroke="#E8463D" stroke-width="5.8" stroke-linecap="round" stroke-linejoin="round"/>
<path d="M1168.3 1866.18 L1171.9 1866.18 L1171.9 1868.98 L1173.9 1869.78 L1173.9 1880.61 L1171.9 1881.41 L1171.9 1884.21 L1168.3 1884.21 L1168.3 1881.41 L1166.3 1880.61 L1166.3 1869.78 L1168.3 1868.98 Z" fill="#E8463D"/>
<path d="M1235.5 1867.98 L1239.1 1867.98 L1239.1 1870.07 L1241.1 1870.87 L1241.1 1879.52 L1239.1 1880.32 L1239.1 1882.41 L1235.5 1882.41 L1235.5 1880.32 L1233.5 1879.52 L1233.5 1870.87 L1235.5 1870.07 Z" fill="#E8463D"/>
<circle cx="1136.5" cy="1883.3" r="1.8" fill="#E8463D"/>
<circle cx="1203.7" cy="1875.2" r="1.8" fill="#E8463D"/>
</g>
<g>
<line x1="1074.8" y1="2139.7" x2="1270.9" y2="2139.7" stroke="#3C80D0" stroke-width="2" stroke-dasharray="3.7 3.4"/>
<line x1="1073.9" y1="2169.8" x2="1270.9" y2="2169.8" stroke="#111" stroke-width="2.3" stroke-dasharray="0.2 3.82" stroke-linecap="round"/>
<line x1="1069.3" y1="2077.3" x2="1069.3" y2="2232.75" stroke="#111" stroke-width="5.5"/>
<line x1="1066.55" y1="2230" x2="1271.4" y2="2230" stroke="#111" stroke-width="5.5"/>
<line x1="1065.5" y1="2078.3" x2="1069.3" y2="2078.3" stroke="#111" stroke-width="2"/>
<line x1="1065.5" y1="2109.6" x2="1069.3" y2="2109.6" stroke="#111" stroke-width="2.4"/>
<line x1="1065.5" y1="2139.7" x2="1069.3" y2="2139.7" stroke="#111" stroke-width="2.4"/>
<line x1="1065.5" y1="2169.8" x2="1069.3" y2="2169.8" stroke="#111" stroke-width="2.4"/>
<line x1="1065.5" y1="2199.9" x2="1069.3" y2="2199.9" stroke="#111" stroke-width="2.4"/>
<line x1="1065.5" y1="2230" x2="1069.3" y2="2230" stroke="#111" stroke-width="2.4"/>
<line x1="1069.3" y1="2230" x2="1069.3" y2="2233.8" stroke="#111" stroke-width="2.4"/>
<line x1="1136.5" y1="2230" x2="1136.5" y2="2233.8" stroke="#111" stroke-width="2.4"/>
<line x1="1203.7" y1="2230" x2="1203.7" y2="2233.8" stroke="#111" stroke-width="2.4"/>
<line x1="1270.9" y1="2230" x2="1270.9" y2="2233.8" stroke="#111" stroke-width="2.4"/>
<path d="M1069.3 2106.0 L1071.7 2106.0 L1074.0 2106.0 L1076.4 2106.0 L1078.7 2106.0 L1081.1 2106.0 L1083.4 2106.0 L1085.8 2106.0 L1088.2 2106.0 L1090.5 2106.0 L1092.9 2106.0 L1095.2 2106.0 L1097.6 2106.0 L1099.9 2106.0 L1102.3 2106.0 L1104.7 2106.0 L1107.0 2106.0 L1109.4 2106.0 L1111.7 2106.0 L1114.1 2106.0 L1116.4 2106.0 L1118.8 2106.0 L1121.1 2106.0 L1123.5 2106.0 L1125.9 2106.0 L1128.2 2106.0 L1130.6 2106.0 L1132.9 2106.0 L1135.3 2106.0 L1137.6 2106.0 L1140.0 2106.0 L1142.4 2106.0 L1144.7 2106.0 L1147.1 2106.0 L1149.4 2106.0 L1151.8 2106.0 L1154.1 2106.0 L1156.5 2106.0 L1158.9 2106.0 L1161.2 2106.0 L1163.6 2106.0 L1165.9 2106.0 L1168.3 2106.0 L1170.6 2106.0 L1173.0 2106.0 L1175.4 2106.0 L1177.7 2106.0 L1180.1 2106.0 L1182.4 2106.0 L1184.8 2106.0 L1187.1 2106.0 L1189.5 2106.0 L1191.9 2106.0 L1194.2 2106.0 L1196.6 2106.0 L1198.9 2106.0 L1201.3 2106.0 L1203.6 2106.0 L1206.0 2106.3 L1208.4 2106.9 L1210.7 2108.5 L1213.1 2111.0 L1215.4 2112.0 L1217.8 2112.5 L1220.1 2112.7 L1222.5 2112.8 L1224.8 2112.9 L1227.2 2113.0 L1229.6 2113.0 L1231.9 2113.1 L1234.3 2113.1" fill="none" stroke="#2CA362" stroke-width="5.8" stroke-linecap="round" stroke-linejoin="round"/>
<path d="M1067.5 2096.96 L1071.1 2096.96 L1071.1 2099.76 L1073.1 2100.56 L1073.1 2111.42 L1071.1 2112.22 L1071.1 2115.02 L1067.5 2115.02 L1067.5 2112.22 L1065.5 2111.42 L1065.5 2100.56 L1067.5 2099.76 Z" fill="#2CA362"/>
<path d="M1101.1 2096.96 L1104.7 2096.96 L1104.7 2099.76 L1106.7 2100.56 L1106.7 2111.42 L1104.7 2112.22 L1104.7 2115.02 L1101.1 2115.02 L1101.1 2112.22 L1099.1 2111.42 L1099.1 2100.56 L1101.1 2099.76 Z" fill="#2CA362"/>
<path d="M1134.7 2092.74 L1138.3 2092.74 L1138.3 2095.54 L1140.3 2096.34 L1140.3 2115.63 L1138.3 2116.43 L1138.3 2119.23 L1134.7 2119.23 L1134.7 2116.43 L1132.7 2115.63 L1132.7 2096.34 L1134.7 2095.54 Z" fill="#2CA362"/>
<path d="M1168.3 2092.74 L1171.9 2092.74 L1171.9 2095.54 L1173.9 2096.34 L1173.9 2115.63 L1171.9 2116.43 L1171.9 2119.23 L1168.3 2119.23 L1168.3 2116.43 L1166.3 2115.63 L1166.3 2096.34 L1168.3 2095.54 Z" fill="#2CA362"/>
<path d="M1201.9 2093.35 L1205.5 2093.35 L1205.5 2096.15 L1207.5 2096.95 L1207.5 2124.66 L1205.5 2125.46 L1205.5 2128.26 L1201.9 2128.26 L1201.9 2125.46 L1199.9 2124.66 L1199.9 2096.95 L1201.9 2096.15 Z" fill="#2CA362"/>
<path d="M1235.5 2105.99 L1239.1 2105.99 L1239.1 2108.08 L1241.1 2108.88 L1241.1 2117.55 L1239.1 2118.35 L1239.1 2120.44 L1235.5 2120.44 L1235.5 2118.35 L1233.5 2117.55 L1233.5 2108.88 L1235.5 2108.08 Z" fill="#2CA362"/>
<path d="M1069.3 2113.8 L1071.7 2113.8 L1074.0 2113.8 L1076.4 2113.8 L1078.7 2113.8 L1081.1 2113.8 L1083.4 2113.8 L1085.8 2113.8 L1088.2 2113.8 L1090.5 2113.8 L1092.9 2113.8 L1095.2 2113.8 L1097.6 2113.8 L1099.9 2113.8 L1102.3 2113.8 L1104.7 2113.8 L1107.0 2113.8 L1109.4 2113.8 L1111.7 2113.8 L1114.1 2113.8 L1116.4 2113.8 L1118.8 2113.8 L1121.1 2113.8 L1123.5 2113.8 L1125.9 2113.8 L1128.2 2113.8 L1130.6 2113.8 L1132.9 2113.8 L1135.3 2113.8 L1137.6 2113.8 L1140.0 2113.8 L1142.4 2113.8 L1144.7 2113.8 L1147.1 2113.8 L1149.4 2113.8 L1151.8 2113.8 L1154.1 2113.8 L1156.5 2113.8 L1158.9 2113.8 L1161.2 2113.8 L1163.6 2113.8 L1165.9 2113.8 L1168.3 2113.8 L1170.6 2113.8 L1173.0 2113.8 L1175.4 2113.8 L1177.7 2113.8 L1180.1 2113.8 L1182.4 2113.8 L1184.8 2113.8 L1187.1 2113.8 L1189.5 2113.8 L1191.9 2113.8 L1194.2 2113.8 L1196.6 2113.8 L1198.9 2113.8 L1201.3 2113.8 L1203.6 2113.8 L1206.0 2113.8 L1208.4 2113.8 L1210.7 2113.8 L1213.1 2113.8 L1215.4 2113.8 L1217.8 2113.8 L1220.1 2113.8 L1222.5 2113.8 L1224.8 2113.8 L1227.2 2113.8 L1229.6 2113.8 L1231.9 2113.8 L1234.3 2113.8" fill="none" stroke="#E8463D" stroke-width="5.8" stroke-linecap="round" stroke-linejoin="round"/>
<path d="M1067.5 2106.59 L1071.1 2106.59 L1071.1 2108.68 L1073.1 2109.48 L1073.1 2118.15 L1071.1 2118.95 L1071.1 2121.04 L1067.5 2121.04 L1067.5 2118.95 L1065.5 2118.15 L1065.5 2109.48 L1067.5 2108.68 Z" fill="#E8463D"/>
<path d="M1201.9 2107.79 L1205.5 2107.79 L1205.5 2109.4 L1207.5 2110.2 L1207.5 2117.43 L1205.5 2118.23 L1205.5 2119.83 L1201.9 2119.83 L1201.9 2118.23 L1199.9 2117.43 L1199.9 2110.2 L1201.9 2109.4 Z" fill="#E8463D"/>
<path d="M1235.5 2104.78 L1239.1 2104.78 L1239.1 2107.58 L1241.1 2108.38 L1241.1 2119.24 L1239.1 2120.04 L1239.1 2122.84 L1235.5 2122.84 L1235.5 2120.04 L1233.5 2119.24 L1233.5 2108.38 L1235.5 2107.58 Z" fill="#E8463D"/>
<circle cx="1102.9" cy="2113.8" r="1.8" fill="#E8463D"/>
<circle cx="1136.5" cy="2113.8" r="1.8" fill="#E8463D"/>
<circle cx="1170.1" cy="2113.8" r="1.8" fill="#E8463D"/>
</g>
<text x="1064.7" y="2021.2" font-size="21.5" text-anchor="middle">-2</text>
<text x="1061.2" y="2256.4" font-size="21.5" text-anchor="middle">-2</text>
<text x="1130.3" y="2021.2" font-size="21.5" text-anchor="middle">-1</text>
<text x="1130.3" y="2256.4" font-size="21.5" text-anchor="middle">-1</text>
<text x="1199.9" y="2021.2" font-size="21.5" text-anchor="middle">0</text>
<text x="1199.9" y="2256.4" font-size="21.5" text-anchor="middle">0</text>
<text x="1267.8" y="2021.2" font-size="21.5" text-anchor="middle">1</text>
<text x="1267.8" y="2256.4" font-size="21.5" text-anchor="middle">1</text>
<text x="1171" y="2047.3" font-size="21.7" text-anchor="middle">Log conc (uM)</text>
<text x="1171.4" y="2284" font-size="21.7" text-anchor="middle">Log conc (uM)</text>
<g>
<line x1="1311.3" y1="1908.25" x2="1507.4" y2="1908.25" stroke="#3C80D0" stroke-width="2" stroke-dasharray="3.7 3.4"/>
<line x1="1310.4" y1="1938.3" x2="1507.4" y2="1938.3" stroke="#111" stroke-width="2.3" stroke-dasharray="0.2 3.82" stroke-linecap="round"/>
<line x1="1305.8" y1="1846" x2="1305.8" y2="2001.15" stroke="#111" stroke-width="5.5"/>
<line x1="1303.05" y1="1998.4" x2="1507.9" y2="1998.4" stroke="#111" stroke-width="5.5"/>
<line x1="1302" y1="1847" x2="1305.8" y2="1847" stroke="#111" stroke-width="2"/>
<line x1="1302" y1="1878.2" x2="1305.8" y2="1878.2" stroke="#111" stroke-width="2.4"/>
<line x1="1302" y1="1908.25" x2="1305.8" y2="1908.25" stroke="#111" stroke-width="2.4"/>
<line x1="1302" y1="1938.3" x2="1305.8" y2="1938.3" stroke="#111" stroke-width="2.4"/>
<line x1="1302" y1="1968.35" x2="1305.8" y2="1968.35" stroke="#111" stroke-width="2.4"/>
<line x1="1302" y1="1998.4" x2="1305.8" y2="1998.4" stroke="#111" stroke-width="2.4"/>
<line x1="1305.8" y1="1998.4" x2="1305.8" y2="2002.2" stroke="#111" stroke-width="2.4"/>
<line x1="1373" y1="1998.4" x2="1373" y2="2002.2" stroke="#111" stroke-width="2.4"/>
<line x1="1440.2" y1="1998.4" x2="1440.2" y2="2002.2" stroke="#111" stroke-width="2.4"/>
<line x1="1507.4" y1="1998.4" x2="1507.4" y2="2002.2" stroke="#111" stroke-width="2.4"/>
<path d="M1304 1880 L1307.6 1880 L1307.6 1882.09 L1309.6 1882.89 L1309.6 1891.54 L1307.6 1892.34 L1307.6 1894.43 L1304 1894.43 L1304 1892.34 L1302 1891.54 L1302 1882.89 L1304 1882.09 Z" fill="#2CA362"/>
<path d="M1337.6 1884.21 L1341.2 1884.21 L1341.2 1886.29 L1343.2 1887.09 L1343.2 1895.75 L1341.2 1896.55 L1341.2 1898.63 L1337.6 1898.63 L1337.6 1896.55 L1335.6 1895.75 L1335.6 1887.09 L1337.6 1886.29 Z" fill="#2CA362"/>
<path d="M1371.2 1882.41 L1374.8 1882.41 L1374.8 1884.49 L1376.8 1885.29 L1376.8 1893.95 L1374.8 1894.75 L1374.8 1896.83 L1371.2 1896.83 L1371.2 1894.75 L1369.2 1893.95 L1369.2 1885.29 L1371.2 1884.49 Z" fill="#2CA362"/>
<path d="M1404.8 1880.6 L1408.4 1880.6 L1408.4 1882.69 L1410.4 1883.49 L1410.4 1892.14 L1408.4 1892.94 L1408.4 1895.03 L1404.8 1895.03 L1404.8 1892.94 L1402.8 1892.14 L1402.8 1883.49 L1404.8 1882.69 Z" fill="#2CA362"/>
<path d="M1438.4 1878.8 L1442 1878.8 L1442 1880.89 L1444 1881.69 L1444 1890.34 L1442 1891.14 L1442 1893.22 L1438.4 1893.22 L1438.4 1891.14 L1436.4 1890.34 L1436.4 1881.69 L1438.4 1880.89 Z" fill="#2CA362"/>
<path d="M1472 1885.41 L1475.6 1885.41 L1475.6 1887.02 L1477.6 1887.82 L1477.6 1895.03 L1475.6 1895.83 L1475.6 1897.43 L1472 1897.43 L1472 1895.83 L1470 1895.03 L1470 1887.82 L1472 1887.02 Z" fill="#2CA362"/>
<path d="M1305.8 1883.6 L1308.2 1883.4 L1310.5 1883.2 L1312.9 1883.0 L1315.2 1882.8 L1317.6 1882.6 L1319.9 1882.3 L1322.3 1882.1 L1324.7 1881.9 L1327.0 1881.7 L1329.4 1881.5 L1331.7 1881.3 L1334.1 1881.1 L1336.4 1880.9 L1338.8 1880.7 L1341.2 1880.4 L1343.5 1880.2 L1345.9 1880.0 L1348.2 1879.8 L1350.6 1879.6 L1352.9 1879.4 L1355.3 1879.2 L1357.6 1879.0 L1360.0 1878.8 L1362.4 1878.6 L1364.7 1878.3 L1367.1 1878.1 L1369.4 1877.9 L1371.8 1877.7 L1374.1 1877.5 L1376.5 1877.3 L1378.9 1877.1 L1381.2 1876.9 L1383.6 1876.7 L1385.9 1876.4 L1388.3 1876.2 L1390.6 1876.0 L1393.0 1875.8 L1395.4 1875.6 L1397.7 1875.4 L1400.1 1875.2 L1402.4 1875.0 L1404.8 1874.8 L1407.1 1874.5 L1409.5 1874.3 L1411.9 1874.1 L1414.2 1873.9 L1416.6 1873.7 L1418.9 1873.5 L1421.3 1873.3 L1423.6 1873.1 L1426.0 1872.9 L1428.4 1872.6 L1430.7 1872.4 L1433.1 1872.2 L1435.4 1872.0 L1437.8 1871.8 L1440.1 1871.6 L1442.5 1871.4 L1444.9 1871.2 L1447.2 1871.0 L1449.6 1870.8 L1451.9 1870.5 L1454.3 1870.3 L1456.6 1870.1 L1459.0 1869.9 L1461.3 1869.7 L1463.7 1869.5 L1466.1 1869.3 L1468.4 1869.1 L1470.8 1868.9" fill="none" stroke="#E8463D" stroke-width="5.8" stroke-linecap="round" stroke-linejoin="round"/>
<path d="M1304 1874.59 L1307.6 1874.59 L1307.6 1877.39 L1309.6 1878.19 L1309.6 1889.02 L1307.6 1889.82 L1307.6 1892.62 L1304 1892.62 L1304 1889.82 L1302 1889.02 L1302 1878.19 L1304 1877.39 Z" fill="#E8463D"/>
<path d="M1337.6 1871.59 L1341.2 1871.59 L1341.2 1874.39 L1343.2 1875.19 L1343.2 1886.02 L1341.2 1886.82 L1341.2 1889.62 L1337.6 1889.62 L1337.6 1886.82 L1335.6 1886.02 L1335.6 1875.19 L1337.6 1874.39 Z" fill="#E8463D"/>
<path d="M1438.4 1862.57 L1442 1862.57 L1442 1865.37 L1444 1866.17 L1444 1877 L1442 1877.8 L1442 1880.6 L1438.4 1880.6 L1438.4 1877.8 L1436.4 1877 L1436.4 1866.17 L1438.4 1865.37 Z" fill="#E8463D"/>
<path d="M1472 1857.77 L1475.6 1857.77 L1475.6 1860.57 L1478.55 1861.37 L1478.55 1875.8 L1475.6 1876.6 L1475.6 1879.4 L1472 1879.4 L1472 1876.6 L1469.05 1875.8 L1469.05 1861.37 L1472 1860.57 Z" fill="#E8463D"/>
</g>
<g>
<line x1="1311.3" y1="2139.7" x2="1507.4" y2="2139.7" stroke="#3C80D0" stroke-width="2" stroke-dasharray="3.7 3.4"/>
<line x1="1310.4" y1="2169.8" x2="1507.4" y2="2169.8" stroke="#111" stroke-width="2.3" stroke-dasharray="0.2 3.82" stroke-linecap="round"/>
<line x1="1305.8" y1="2077.3" x2="1305.8" y2="2232.75" stroke="#111" stroke-width="5.5"/>
<line x1="1303.05" y1="2230" x2="1507.9" y2="2230" stroke="#111" stroke-width="5.5"/>
<line x1="1302" y1="2078.3" x2="1305.8" y2="2078.3" stroke="#111" stroke-width="2"/>
<line x1="1302" y1="2109.6" x2="1305.8" y2="2109.6" stroke="#111" stroke-width="2.4"/>
<line x1="1302" y1="2139.7" x2="1305.8" y2="2139.7" stroke="#111" stroke-width="2.4"/>
<line x1="1302" y1="2169.8" x2="1305.8" y2="2169.8" stroke="#111" stroke-width="2.4"/>
<line x1="1302" y1="2199.9" x2="1305.8" y2="2199.9" stroke="#111" stroke-width="2.4"/>
<line x1="1302" y1="2230" x2="1305.8" y2="2230" stroke="#111" stroke-width="2.4"/>
<line x1="1305.8" y1="2230" x2="1305.8" y2="2233.8" stroke="#111" stroke-width="2.4"/>
<line x1="1373" y1="2230" x2="1373" y2="2233.8" stroke="#111" stroke-width="2.4"/>
<line x1="1440.2" y1="2230" x2="1440.2" y2="2233.8" stroke="#111" stroke-width="2.4"/>
<line x1="1507.4" y1="2230" x2="1507.4" y2="2233.8" stroke="#111" stroke-width="2.4"/>
<path d="M1304 2113.81 L1307.6 2113.81 L1307.6 2115.9 L1309.6 2116.7 L1309.6 2125.37 L1307.6 2126.17 L1307.6 2128.26 L1304 2128.26 L1304 2126.17 L1302 2125.37 L1302 2116.7 L1304 2115.9 Z" fill="#2CA362"/>
<path d="M1337.6 2116.82 L1341.2 2116.82 L1341.2 2118.91 L1343.2 2119.71 L1343.2 2128.38 L1341.2 2129.18 L1341.2 2131.27 L1337.6 2131.27 L1337.6 2129.18 L1335.6 2128.38 L1335.6 2119.71 L1337.6 2118.91 Z" fill="#2CA362"/>
<path d="M1371.2 2107.79 L1374.8 2107.79 L1374.8 2110.59 L1376.8 2111.39 L1376.8 2128.27 L1374.8 2129.07 L1374.8 2131.87 L1371.2 2131.87 L1371.2 2129.07 L1369.2 2128.27 L1369.2 2111.39 L1371.2 2110.59 Z" fill="#2CA362"/>
<path d="M1404.8 2108.4 L1408.4 2108.4 L1408.4 2111.2 L1410.4 2112 L1410.4 2131.28 L1408.4 2132.08 L1408.4 2134.88 L1404.8 2134.88 L1404.8 2132.08 L1402.8 2131.28 L1402.8 2112 L1404.8 2111.2 Z" fill="#2CA362"/>
<path d="M1438.4 2112.61 L1442 2112.61 L1442 2115.41 L1444 2116.21 L1444 2127.07 L1442 2127.87 L1442 2130.67 L1438.4 2130.67 L1438.4 2127.87 L1436.4 2127.07 L1436.4 2116.21 L1438.4 2115.41 Z" fill="#2CA362"/>
<path d="M1472 2112.61 L1475.6 2112.61 L1475.6 2114.7 L1477.6 2115.5 L1477.6 2124.17 L1475.6 2124.97 L1475.6 2127.06 L1472 2127.06 L1472 2124.97 L1470 2124.17 L1470 2115.5 L1472 2114.7 Z" fill="#2CA362"/>
<path d="M1305.8 2112.6 L1308.2 2112.6 L1310.5 2112.6 L1312.9 2112.6 L1315.2 2112.6 L1317.6 2112.6 L1319.9 2112.6 L1322.3 2112.6 L1324.7 2112.6 L1327.0 2112.6 L1329.4 2112.6 L1331.7 2112.6 L1334.1 2112.6 L1336.4 2112.6 L1338.8 2112.6 L1341.2 2112.6 L1343.5 2112.6 L1345.9 2112.6 L1348.2 2112.6 L1350.6 2112.6 L1352.9 2112.6 L1355.3 2110.9 L1357.6 2107.7 L1360.0 2106.6 L1362.4 2106.6 L1364.7 2106.6 L1367.1 2106.6 L1369.4 2106.6 L1371.8 2106.6 L1374.1 2106.6 L1376.5 2106.6 L1378.9 2106.6 L1381.2 2106.6 L1383.6 2106.6 L1385.9 2106.6 L1388.3 2106.6 L1390.6 2106.6 L1393.0 2106.6 L1395.4 2106.6 L1397.7 2106.6 L1400.1 2106.6 L1402.4 2106.6 L1404.8 2106.6 L1407.1 2106.6 L1409.5 2106.6 L1411.9 2106.6 L1414.2 2106.6 L1416.6 2106.6 L1418.9 2106.6 L1421.3 2106.6 L1423.6 2106.6 L1426.0 2106.6 L1428.4 2106.6 L1430.7 2106.6 L1433.1 2106.6 L1435.4 2106.6 L1437.8 2106.6 L1440.1 2106.6 L1442.5 2106.6 L1444.9 2106.6 L1447.2 2106.6 L1449.6 2106.6 L1451.9 2106.6 L1454.3 2106.6 L1456.6 2106.6 L1459.0 2106.6 L1461.3 2106.6 L1463.7 2106.6 L1466.1 2106.6 L1468.4 2106.6 L1470.8 2106.6" fill="none" stroke="#E8463D" stroke-width="5.8" stroke-linecap="round" stroke-linejoin="round"/>
<path d="M1371.2 2097.56 L1374.8 2097.56 L1374.8 2100.36 L1376.8 2101.16 L1376.8 2112.02 L1374.8 2112.82 L1374.8 2115.62 L1371.2 2115.62 L1371.2 2112.82 L1369.2 2112.02 L1369.2 2101.16 L1371.2 2100.36 Z" fill="#E8463D"/>
<path d="M1438.4 2094.55 L1442 2094.55 L1442 2097.35 L1444.95 2098.15 L1444.95 2115.03 L1442 2115.83 L1442 2118.63 L1438.4 2118.63 L1438.4 2115.83 L1435.45 2115.03 L1435.45 2098.15 L1438.4 2097.35 Z" fill="#E8463D"/>
<path d="M1472 2097.56 L1475.6 2097.56 L1475.6 2100.36 L1477.6 2101.16 L1477.6 2112.02 L1475.6 2112.82 L1475.6 2115.62 L1472 2115.62 L1472 2112.82 L1470 2112.02 L1470 2101.16 L1472 2100.36 Z" fill="#E8463D"/>
<circle cx="1305.8" cy="2112.6" r="1.8" fill="#E8463D"/>
</g>
<text x="1300" y="2021.2" font-size="21.5" text-anchor="middle">-2</text>
<text x="1300.6" y="2256.4" font-size="21.5" text-anchor="middle">-2</text>
<text x="1369.4" y="2021.2" font-size="21.5" text-anchor="middle">-1</text>
<text x="1369.4" y="2256.4" font-size="21.5" text-anchor="middle">-1</text>
<text x="1438.4" y="2021.2" font-size="21.5" text-anchor="middle">0</text>
<text x="1438.4" y="2256.4" font-size="21.5" text-anchor="middle">0</text>
<text x="1507.2" y="2021.2" font-size="21.5" text-anchor="middle">1</text>
<text x="1507.2" y="2256.4" font-size="21.5" text-anchor="middle">1</text>
<text x="1410.2" y="2047.3" font-size="21.7" text-anchor="middle">Log conc (uM)</text>
<text x="1410.9" y="2284" font-size="21.7" text-anchor="middle">Log conc (uM)</text>
<g>
<line x1="1546.2" y1="1908.25" x2="1742.3" y2="1908.25" stroke="#3C80D0" stroke-width="2" stroke-dasharray="3.7 3.4"/>
<line x1="1545.3" y1="1938.3" x2="1742.3" y2="1938.3" stroke="#111" stroke-width="2.3" stroke-dasharray="0.2 3.82" stroke-linecap="round"/>
<line x1="1540.7" y1="1846" x2="1540.7" y2="2001.15" stroke="#111" stroke-width="5.5"/>
<line x1="1537.95" y1="1998.4" x2="1742.8" y2="1998.4" stroke="#111" stroke-width="5.5"/>
<line x1="1536.9" y1="1847" x2="1540.7" y2="1847" stroke="#111" stroke-width="2"/>
<line x1="1536.9" y1="1878.2" x2="1540.7" y2="1878.2" stroke="#111" stroke-width="2.4"/>
<line x1="1536.9" y1="1908.25" x2="1540.7" y2="1908.25" stroke="#111" stroke-width="2.4"/>
<line x1="1536.9" y1="1938.3" x2="1540.7" y2="1938.3" stroke="#111" stroke-width="2.4"/>
<line x1="1536.9" y1="1968.35" x2="1540.7" y2="1968.35" stroke="#111" stroke-width="2.4"/>
<line x1="1536.9" y1="1998.4" x2="1540.7" y2="1998.4" stroke="#111" stroke-width="2.4"/>
<line x1="1540.7" y1="1998.4" x2="1540.7" y2="2002.2" stroke="#111" stroke-width="2.4"/>
<line x1="1607.9" y1="1998.4" x2="1607.9" y2="2002.2" stroke="#111" stroke-width="2.4"/>
<line x1="1675.1" y1="1998.4" x2="1675.1" y2="2002.2" stroke="#111" stroke-width="2.4"/>
<line x1="1742.3" y1="1998.4" x2="1742.3" y2="2002.2" stroke="#111" stroke-width="2.4"/>
<path d="M1540.7 1889.0 L1543.1 1888.2 L1545.4 1887.3 L1547.8 1886.3 L1550.1 1885.6 L1552.5 1885.0 L1554.8 1884.8 L1557.2 1884.7 L1559.6 1884.5 L1561.9 1884.5 L1564.3 1884.4 L1566.6 1884.3 L1569.0 1884.3 L1571.3 1884.2 L1573.7 1884.2 L1576.1 1884.2 L1578.4 1884.2 L1580.8 1884.2 L1583.1 1884.2 L1585.5 1884.2 L1587.8 1884.2 L1590.2 1884.2 L1592.5 1884.2 L1594.9 1884.2 L1597.3 1884.2 L1599.6 1884.2 L1602.0 1884.2 L1604.3 1884.2 L1606.7 1884.2 L1609.0 1884.2 L1611.4 1884.2 L1613.8 1884.2 L1616.1 1884.2 L1618.5 1884.2 L1620.8 1884.2 L1623.2 1884.2 L1625.5 1884.2 L1627.9 1884.2 L1630.3 1884.2 L1632.6 1884.2 L1635.0 1884.2 L1637.3 1884.2 L1639.7 1884.2 L1642.0 1884.2 L1644.4 1884.2 L1646.8 1884.2 L1649.1 1884.2 L1651.5 1884.2 L1653.8 1884.2 L1656.2 1884.2 L1658.5 1884.2 L1660.9 1884.2 L1663.3 1884.2 L1665.6 1884.2 L1668.0 1884.2 L1670.3 1884.2 L1672.7 1884.2 L1675.0 1884.2 L1677.4 1884.2 L1679.8 1884.2 L1682.1 1884.2 L1684.5 1884.2 L1686.8 1884.2 L1689.2 1884.2 L1691.5 1884.2 L1693.9 1884.2 L1696.2 1884.2 L1698.6 1884.2 L1701.0 1884.2 L1703.3 1884.2 L1705.7 1884.2" fill="none" stroke="#2CA362" stroke-width="5.8" stroke-linecap="round" stroke-linejoin="round"/>
<path d="M1538.9 1870.99 L1542.5 1870.99 L1542.5 1873.79 L1544.5 1874.59 L1544.5 1903.45 L1542.5 1904.25 L1542.5 1907.05 L1538.9 1907.05 L1538.9 1904.25 L1536.9 1903.45 L1536.9 1874.59 L1538.9 1873.79 Z" fill="#2CA362"/>
<path d="M1572.5 1873.39 L1576.1 1873.39 L1576.1 1876.19 L1578.1 1876.99 L1578.1 1891.43 L1576.1 1892.23 L1576.1 1895.03 L1572.5 1895.03 L1572.5 1892.23 L1570.5 1891.43 L1570.5 1876.99 L1572.5 1876.19 Z" fill="#2CA362"/>
<path d="M1606.1 1867.38 L1609.7 1867.38 L1609.7 1870.18 L1611.7 1870.98 L1611.7 1897.44 L1609.7 1898.24 L1609.7 1901.04 L1606.1 1901.04 L1606.1 1898.24 L1604.1 1897.44 L1604.1 1870.98 L1606.1 1870.18 Z" fill="#2CA362"/>
<path d="M1639.7 1877 L1643.3 1877 L1643.3 1879.08 L1645.3 1879.88 L1645.3 1888.54 L1643.3 1889.34 L1643.3 1891.42 L1639.7 1891.42 L1639.7 1889.34 L1637.7 1888.54 L1637.7 1879.88 L1639.7 1879.08 Z" fill="#2CA362"/>
<path d="M1673.3 1869.18 L1676.9 1869.18 L1676.9 1871.98 L1678.9 1872.78 L1678.9 1895.64 L1676.9 1896.44 L1676.9 1899.24 L1673.3 1899.24 L1673.3 1896.44 L1671.3 1895.64 L1671.3 1872.78 L1673.3 1871.98 Z" fill="#2CA362"/>
<path d="M1706.9 1875.2 L1710.5 1875.2 L1710.5 1878 L1712.5 1878.8 L1712.5 1889.62 L1710.5 1890.42 L1710.5 1893.22 L1706.9 1893.22 L1706.9 1890.42 L1704.9 1889.62 L1704.9 1878.8 L1706.9 1878 Z" fill="#2CA362"/>
<path d="M1540.7 1887.8 L1543.1 1887.8 L1545.4 1887.8 L1547.8 1887.8 L1550.1 1887.8 L1552.5 1887.8 L1554.8 1887.8 L1557.2 1887.8 L1559.6 1887.8 L1561.9 1887.8 L1564.3 1887.8 L1566.6 1887.8 L1569.0 1887.8 L1571.3 1887.8 L1573.7 1887.8 L1576.1 1887.8 L1578.4 1887.8 L1580.8 1887.8 L1583.1 1887.7 L1585.5 1887.7 L1587.8 1887.7 L1590.2 1887.6 L1592.5 1887.5 L1594.9 1887.4 L1597.3 1887.3 L1599.6 1887.1 L1602.0 1886.8 L1604.3 1886.4 L1606.7 1886.0 L1609.0 1885.4 L1611.4 1884.6 L1613.8 1883.7 L1616.1 1882.7 L1618.5 1881.5 L1620.8 1880.3 L1623.2 1879.0 L1625.5 1877.8 L1627.9 1876.7 L1630.3 1875.7 L1632.6 1874.9 L1635.0 1874.3 L1637.3 1873.8 L1639.7 1873.4 L1642.0 1873.1 L1644.4 1872.8 L1646.8 1872.7 L1649.1 1872.5 L1651.5 1872.4 L1653.8 1872.4 L1656.2 1872.3 L1658.5 1872.3 L1660.9 1872.3 L1663.3 1872.2 L1665.6 1872.2 L1668.0 1872.2 L1670.3 1872.2 L1672.7 1872.2 L1675.0 1872.2 L1677.4 1872.2 L1679.8 1872.2 L1682.1 1872.2 L1684.5 1872.2 L1686.8 1872.2 L1689.2 1872.2 L1691.5 1872.2 L1693.9 1872.2 L1696.2 1872.2 L1698.6 1872.2 L1701.0 1872.2 L1703.3 1872.2 L1705.7 1872.2" fill="none" stroke="#E8463D" stroke-width="5.8" stroke-linecap="round" stroke-linejoin="round"/>
<path d="M1606.1 1876.66 L1609.7 1876.66 L1609.7 1879.46 L1611.7 1880.26 L1611.7 1891.09 L1609.7 1891.89 L1609.7 1894.69 L1606.1 1894.69 L1606.1 1891.89 L1604.1 1891.09 L1604.1 1880.26 L1606.1 1879.46 Z" fill="#E8463D"/>
<circle cx="1540.7" cy="1887.8" r="1.8" fill="#E8463D"/>
<circle cx="1574.3" cy="1887.8" r="1.8" fill="#E8463D"/>
<circle cx="1675.1" cy="1872.2" r="1.8" fill="#E8463D"/>
<circle cx="1708.7" cy="1872.2" r="1.8" fill="#E8463D"/>
</g>
<g>
<line x1="1546.2" y1="2139.7" x2="1742.3" y2="2139.7" stroke="#3C80D0" stroke-width="2" stroke-dasharray="3.7 3.4"/>
<line x1="1545.3" y1="2169.8" x2="1742.3" y2="2169.8" stroke="#111" stroke-width="2.3" stroke-dasharray="0.2 3.82" stroke-linecap="round"/>
<line x1="1540.7" y1="2077.3" x2="1540.7" y2="2232.75" stroke="#111" stroke-width="5.5"/>
<line x1="1537.95" y1="2230" x2="1742.8" y2="2230" stroke="#111" stroke-width="5.5"/>
<line x1="1536.9" y1="2078.3" x2="1540.7" y2="2078.3" stroke="#111" stroke-width="2"/>
<line x1="1536.9" y1="2109.6" x2="1540.7" y2="2109.6" stroke="#111" stroke-width="2.4"/>
<line x1="1536.9" y1="2139.7" x2="1540.7" y2="2139.7" stroke="#111" stroke-width="2.4"/>
<line x1="1536.9" y1="2169.8" x2="1540.7" y2="2169.8" stroke="#111" stroke-width="2.4"/>
<line x1="1536.9" y1="2199.9" x2="1540.7" y2="2199.9" stroke="#111" stroke-width="2.4"/>
<line x1="1536.9" y1="2230" x2="1540.7" y2="2230" stroke="#111" stroke-width="2.4"/>
<line x1="1540.7" y1="2230" x2="1540.7" y2="2233.8" stroke="#111" stroke-width="2.4"/>
<line x1="1607.9" y1="2230" x2="1607.9" y2="2233.8" stroke="#111" stroke-width="2.4"/>
<line x1="1675.1" y1="2230" x2="1675.1" y2="2233.8" stroke="#111" stroke-width="2.4"/>
<line x1="1742.3" y1="2230" x2="1742.3" y2="2233.8" stroke="#111" stroke-width="2.4"/>
<path d="M1538.9 2109.6 L1542.5 2109.6 L1542.5 2112.4 L1544.5 2113.2 L1544.5 2134.9 L1542.5 2135.7 L1542.5 2138.5 L1538.9 2138.5 L1538.9 2135.7 L1536.9 2134.9 L1536.9 2113.2 L1538.9 2112.4 Z" fill="#2CA362"/>
<path d="M1572.5 2104.18 L1576.1 2104.18 L1576.1 2106.98 L1578.1 2107.78 L1578.1 2122.25 L1576.1 2123.05 L1576.1 2125.85 L1572.5 2125.85 L1572.5 2123.05 L1570.5 2122.25 L1570.5 2107.78 L1572.5 2106.98 Z" fill="#2CA362"/>
<path d="M1606.1 2110.8 L1609.7 2110.8 L1609.7 2112.89 L1611.7 2113.69 L1611.7 2122.36 L1609.7 2123.16 L1609.7 2125.25 L1606.1 2125.25 L1606.1 2123.16 L1604.1 2122.36 L1604.1 2113.69 L1606.1 2112.89 Z" fill="#2CA362"/>
<path d="M1639.7 2102.38 L1643.3 2102.38 L1643.3 2105.18 L1645.3 2105.98 L1645.3 2125.26 L1643.3 2126.06 L1643.3 2128.86 L1639.7 2128.86 L1639.7 2126.06 L1637.7 2125.26 L1637.7 2105.98 L1639.7 2105.18 Z" fill="#2CA362"/>
<path d="M1673.3 2108.4 L1676.9 2108.4 L1676.9 2111.2 L1679.85 2112 L1679.85 2142.12 L1676.9 2142.92 L1676.9 2145.72 L1673.3 2145.72 L1673.3 2142.92 L1670.35 2142.12 L1670.35 2112 L1673.3 2111.2 Z" fill="#2CA362"/>
<path d="M1706.9 2107.79 L1710.5 2107.79 L1710.5 2110.59 L1713.45 2111.39 L1713.45 2130.68 L1710.5 2131.48 L1710.5 2134.28 L1706.9 2134.28 L1706.9 2131.48 L1703.95 2130.68 L1703.95 2111.39 L1706.9 2110.59 Z" fill="#2CA362"/>
<path d="M1540.7 2118.6 L1543.1 2118.6 L1545.4 2118.6 L1547.8 2118.6 L1550.1 2118.6 L1552.5 2118.6 L1554.8 2118.6 L1557.2 2118.6 L1559.6 2118.6 L1561.9 2118.6 L1564.3 2118.6 L1566.6 2118.6 L1569.0 2118.6 L1571.3 2118.6 L1573.7 2118.6 L1576.1 2118.6 L1578.4 2118.6 L1580.8 2118.6 L1583.1 2118.6 L1585.5 2118.6 L1587.8 2118.6 L1590.2 2118.6 L1592.5 2118.6 L1594.9 2118.6 L1597.3 2118.6 L1599.6 2118.6 L1602.0 2118.5 L1604.3 2117.5 L1606.7 2113.3 L1609.0 2106.5 L1611.4 2102.3 L1613.8 2101.7 L1616.1 2101.3 L1618.5 2101.2 L1620.8 2101.2 L1623.2 2101.2 L1625.5 2101.2 L1627.9 2101.2 L1630.3 2101.2 L1632.6 2101.2 L1635.0 2101.2 L1637.3 2101.2 L1639.7 2101.2 L1642.0 2101.2 L1644.4 2101.2 L1646.8 2101.2 L1649.1 2101.2 L1651.5 2101.2 L1653.8 2101.2 L1656.2 2101.2 L1658.5 2101.2 L1660.9 2101.2 L1663.3 2101.2 L1665.6 2101.2 L1668.0 2101.2 L1670.3 2101.2 L1672.7 2101.2 L1675.0 2101.2 L1677.4 2101.2 L1679.8 2101.2 L1682.1 2101.2 L1684.5 2101.2 L1686.8 2101.2 L1689.2 2101.2 L1691.5 2101.2 L1693.9 2101.2 L1696.2 2101.2 L1698.6 2101.2 L1701.0 2101.2 L1703.3 2101.2 L1705.7 2101.2" fill="none" stroke="#E8463D" stroke-width="5.8" stroke-linecap="round" stroke-linejoin="round"/>
<path d="M1639.7 2093.95 L1643.3 2093.95 L1643.3 2096.04 L1645.3 2096.84 L1645.3 2105.51 L1643.3 2106.31 L1643.3 2108.4 L1639.7 2108.4 L1639.7 2106.31 L1637.7 2105.51 L1637.7 2096.84 L1639.7 2096.04 Z" fill="#E8463D"/>
<path d="M1673.3 2093.95 L1676.9 2093.95 L1676.9 2096.04 L1678.9 2096.84 L1678.9 2105.51 L1676.9 2106.31 L1676.9 2108.4 L1673.3 2108.4 L1673.3 2106.31 L1671.3 2105.51 L1671.3 2096.84 L1673.3 2096.04 Z" fill="#E8463D"/>
<path d="M1706.9 2093.95 L1710.5 2093.95 L1710.5 2096.04 L1712.5 2096.84 L1712.5 2105.51 L1710.5 2106.31 L1710.5 2108.4 L1706.9 2108.4 L1706.9 2106.31 L1704.9 2105.51 L1704.9 2096.84 L1706.9 2096.04 Z" fill="#E8463D"/>
<circle cx="1540.7" cy="2118.6" r="1.8" fill="#E8463D"/>
<circle cx="1574.3" cy="2118.6" r="1.8" fill="#E8463D"/>
</g>
<text x="1540.7" y="2021.2" font-size="21.5" text-anchor="middle">-2</text>
<text x="1540.7" y="2256.4" font-size="21.5" text-anchor="middle">-2</text>
<text x="1610.3" y="2021.2" font-size="21.5" text-anchor="middle">-1</text>
<text x="1610.3" y="2256.4" font-size="21.5" text-anchor="middle">-1</text>
<text x="1675.6" y="2021.2" font-size="21.5" text-anchor="middle">0</text>
<text x="1675.6" y="2256.4" font-size="21.5" text-anchor="middle">0</text>
<text x="1743.8" y="2021.2" font-size="21.5" text-anchor="middle">1</text>
<text x="1744.7" y="2256.4" font-size="21.5" text-anchor="middle">1</text>
<text x="1650.3" y="2047.3" font-size="21.7" text-anchor="middle">Log conc (uM)</text>
<text x="1650.7" y="2284" font-size="21.7" text-anchor="middle">Log conc (uM)</text>
<g>
<line x1="1784.6" y1="1908.25" x2="1980.7" y2="1908.25" stroke="#3C80D0" stroke-width="2" stroke-dasharray="3.7 3.4"/>
<line x1="1783.7" y1="1938.3" x2="1980.7" y2="1938.3" stroke="#111" stroke-width="2.3" stroke-dasharray="0.2 3.82" stroke-linecap="round"/>
<line x1="1779.1" y1="1846" x2="1779.1" y2="2001.15" stroke="#111" stroke-width="5.5"/>
<line x1="1776.35" y1="1998.4" x2="1981.2" y2="1998.4" stroke="#111" stroke-width="5.5"/>
<line x1="1775.3" y1="1847" x2="1779.1" y2="1847" stroke="#111" stroke-width="2"/>
<line x1="1775.3" y1="1878.2" x2="1779.1" y2="1878.2" stroke="#111" stroke-width="2.4"/>
<line x1="1775.3" y1="1908.25" x2="1779.1" y2="1908.25" stroke="#111" stroke-width="2.4"/>
<line x1="1775.3" y1="1938.3" x2="1779.1" y2="1938.3" stroke="#111" stroke-width="2.4"/>
<line x1="1775.3" y1="1968.35" x2="1779.1" y2="1968.35" stroke="#111" stroke-width="2.4"/>
<line x1="1775.3" y1="1998.4" x2="1779.1" y2="1998.4" stroke="#111" stroke-width="2.4"/>
<line x1="1779.1" y1="1998.4" x2="1779.1" y2="2002.2" stroke="#111" stroke-width="2.4"/>
<line x1="1846.3" y1="1998.4" x2="1846.3" y2="2002.2" stroke="#111" stroke-width="2.4"/>
<line x1="1913.5" y1="1998.4" x2="1913.5" y2="2002.2" stroke="#111" stroke-width="2.4"/>
<line x1="1980.7" y1="1998.4" x2="1980.7" y2="2002.2" stroke="#111" stroke-width="2.4"/>
<path d="M1779.1 1880.1 L1781.5 1880.1 L1783.8 1880.1 L1786.2 1880.1 L1788.5 1880.1 L1790.9 1880.2 L1793.2 1880.2 L1795.6 1880.2 L1798.0 1880.3 L1800.3 1880.3 L1802.7 1880.3 L1805.0 1880.4 L1807.4 1880.5 L1809.7 1880.6 L1812.1 1880.7 L1814.5 1880.8 L1816.8 1880.9 L1819.2 1881.1 L1821.5 1881.2 L1823.9 1881.4 L1826.2 1881.7 L1828.6 1882.0 L1830.9 1882.3 L1833.3 1882.7 L1835.7 1883.1 L1838.0 1883.6 L1840.4 1884.2 L1842.7 1884.8 L1845.1 1885.6 L1847.4 1886.4 L1849.8 1887.4 L1852.2 1888.4 L1854.5 1889.6 L1856.9 1890.8 L1859.2 1892.2 L1861.6 1893.7 L1863.9 1895.2 L1866.3 1896.9 L1868.7 1898.6 L1871.0 1900.3 L1873.4 1902.1 L1875.7 1903.9 L1878.1 1905.6 L1880.4 1907.3 L1882.8 1908.9 L1885.2 1910.5 L1887.5 1911.9 L1889.9 1913.3 L1892.2 1914.5 L1894.6 1915.7 L1896.9 1916.7 L1899.3 1917.6 L1901.7 1918.4 L1904.0 1919.1 L1906.4 1919.8 L1908.7 1920.3 L1911.1 1920.8 L1913.4 1921.3 L1915.8 1921.6 L1918.2 1922.0 L1920.5 1922.2 L1922.9 1922.5 L1925.2 1922.7 L1927.6 1922.8 L1929.9 1923.0 L1932.3 1923.1 L1934.6 1923.2 L1937.0 1923.3 L1939.4 1923.4 L1941.7 1923.5 L1944.1 1923.5" fill="none" stroke="#2CA362" stroke-width="5.8" stroke-linecap="round" stroke-linejoin="round"/>
<path d="M1777.3 1866.85 L1780.9 1866.85 L1780.9 1869.65 L1782.9 1870.45 L1782.9 1889.69 L1780.9 1890.49 L1780.9 1893.29 L1777.3 1893.29 L1777.3 1890.49 L1775.3 1889.69 L1775.3 1870.45 L1777.3 1869.65 Z" fill="#2CA362"/>
<path d="M1810.9 1869.87 L1814.5 1869.87 L1814.5 1872.67 L1816.5 1873.47 L1816.5 1887.91 L1814.5 1888.71 L1814.5 1891.51 L1810.9 1891.51 L1810.9 1888.71 L1808.9 1887.91 L1808.9 1873.47 L1810.9 1872.67 Z" fill="#2CA362"/>
<path d="M1844.5 1873.99 L1848.1 1873.99 L1848.1 1876.79 L1850.1 1877.59 L1850.1 1894.43 L1848.1 1895.23 L1848.1 1898.03 L1844.5 1898.03 L1844.5 1895.23 L1842.5 1894.43 L1842.5 1877.59 L1844.5 1876.79 Z" fill="#2CA362"/>
<path d="M1878.1 1894.88 L1881.7 1894.88 L1881.7 1897.68 L1883.7 1898.48 L1883.7 1915.32 L1881.7 1916.12 L1881.7 1918.92 L1878.1 1918.92 L1878.1 1916.12 L1876.1 1915.32 L1876.1 1898.48 L1878.1 1897.68 Z" fill="#2CA362"/>
<path d="M1911.7 1909.25 L1915.3 1909.25 L1915.3 1912.05 L1917.3 1912.85 L1917.3 1929.69 L1915.3 1930.49 L1915.3 1933.29 L1911.7 1933.29 L1911.7 1930.49 L1909.7 1929.69 L1909.7 1912.85 L1911.7 1912.05 Z" fill="#2CA362"/>
<path d="M1945.3 1910.38 L1948.9 1910.38 L1948.9 1913.18 L1950.9 1913.98 L1950.9 1933.22 L1948.9 1934.02 L1948.9 1936.82 L1945.3 1936.82 L1945.3 1934.02 L1943.3 1933.22 L1943.3 1913.98 L1945.3 1913.18 Z" fill="#2CA362"/>
<path d="M1779.1 1880.6 L1781.5 1880.6 L1783.8 1880.6 L1786.2 1880.6 L1788.5 1880.6 L1790.9 1880.6 L1793.2 1880.6 L1795.6 1880.6 L1798.0 1880.6 L1800.3 1880.6 L1802.7 1880.6 L1805.0 1880.6 L1807.4 1880.6 L1809.7 1880.6 L1812.1 1880.6 L1814.5 1880.6 L1816.8 1880.6 L1819.2 1880.6 L1821.5 1880.6 L1823.9 1880.6 L1826.2 1880.6 L1828.6 1880.6 L1830.9 1880.6 L1833.3 1880.6 L1835.7 1880.7 L1838.0 1880.7 L1840.4 1880.7 L1842.7 1880.7 L1845.1 1880.7 L1847.4 1880.7 L1849.8 1880.7 L1852.2 1880.7 L1854.5 1880.8 L1856.9 1880.8 L1859.2 1880.8 L1861.6 1880.8 L1863.9 1880.9 L1866.3 1880.9 L1868.7 1881.0 L1871.0 1881.0 L1873.4 1881.1 L1875.7 1881.2 L1878.1 1881.3 L1880.4 1881.4 L1882.8 1881.5 L1885.2 1881.6 L1887.5 1881.8 L1889.9 1881.9 L1892.2 1882.2 L1894.6 1882.4 L1896.9 1882.7 L1899.3 1883.0 L1901.7 1883.3 L1904.0 1883.7 L1906.4 1884.2 L1908.7 1884.7 L1911.1 1885.3 L1913.4 1885.9 L1915.8 1886.7 L1918.2 1887.5 L1920.5 1888.5 L1922.9 1889.5 L1925.2 1890.7 L1927.6 1891.9 L1929.9 1893.3 L1932.3 1894.8 L1934.6 1896.4 L1937.0 1898.1 L1939.4 1899.9 L1941.7 1901.9 L1944.1 1903.8" fill="none" stroke="#E8463D" stroke-width="5.8" stroke-linecap="round" stroke-linejoin="round"/>
<path d="M1810.9 1873.4 L1814.5 1873.4 L1814.5 1875.49 L1816.5 1876.29 L1816.5 1884.94 L1814.5 1885.74 L1814.5 1887.83 L1810.9 1887.83 L1810.9 1885.74 L1808.9 1884.94 L1808.9 1876.29 L1810.9 1875.49 Z" fill="#E8463D"/>
<path d="M1911.7 1878.75 L1915.3 1878.75 L1915.3 1880.83 L1917.3 1881.63 L1917.3 1890.29 L1915.3 1891.09 L1915.3 1893.17 L1911.7 1893.17 L1911.7 1891.09 L1909.7 1890.29 L1909.7 1881.63 L1911.7 1880.83 Z" fill="#E8463D"/>
<path d="M1945.3 1899.26 L1948.9 1899.26 L1948.9 1901.35 L1950.9 1902.15 L1950.9 1910.8 L1948.9 1911.6 L1948.9 1913.69 L1945.3 1913.69 L1945.3 1911.6 L1943.3 1910.8 L1943.3 1902.15 L1945.3 1901.35 Z" fill="#E8463D"/>
<circle cx="1779.1" cy="1880.6" r="1.8" fill="#E8463D"/>
<circle cx="1846.3" cy="1880.7" r="1.8" fill="#E8463D"/>
</g>
<g>
<line x1="1784.6" y1="2139.7" x2="1980.7" y2="2139.7" stroke="#3C80D0" stroke-width="2" stroke-dasharray="3.7 3.4"/>
<line x1="1783.7" y1="2169.8" x2="1980.7" y2="2169.8" stroke="#111" stroke-width="2.3" stroke-dasharray="0.2 3.82" stroke-linecap="round"/>
<line x1="1779.1" y1="2077.3" x2="1779.1" y2="2232.75" stroke="#111" stroke-width="5.5"/>
<line x1="1776.35" y1="2230" x2="1981.2" y2="2230" stroke="#111" stroke-width="5.5"/>
<line x1="1775.3" y1="2078.3" x2="1779.1" y2="2078.3" stroke="#111" stroke-width="2"/>
<line x1="1775.3" y1="2109.6" x2="1779.1" y2="2109.6" stroke="#111" stroke-width="2.4"/>
<line x1="1775.3" y1="2139.7" x2="1779.1" y2="2139.7" stroke="#111" stroke-width="2.4"/>
<line x1="1775.3" y1="2169.8" x2="1779.1" y2="2169.8" stroke="#111" stroke-width="2.4"/>
<line x1="1775.3" y1="2199.9" x2="1779.1" y2="2199.9" stroke="#111" stroke-width="2.4"/>
<line x1="1775.3" y1="2230" x2="1779.1" y2="2230" stroke="#111" stroke-width="2.4"/>
<line x1="1779.1" y1="2230" x2="1779.1" y2="2233.8" stroke="#111" stroke-width="2.4"/>
<line x1="1846.3" y1="2230" x2="1846.3" y2="2233.8" stroke="#111" stroke-width="2.4"/>
<line x1="1913.5" y1="2230" x2="1913.5" y2="2233.8" stroke="#111" stroke-width="2.4"/>
<line x1="1980.7" y1="2230" x2="1980.7" y2="2233.8" stroke="#111" stroke-width="2.4"/>
<path d="M1779.1 2115.6 L1781.5 2115.6 L1783.8 2115.6 L1786.2 2115.6 L1788.5 2115.6 L1790.9 2115.6 L1793.2 2115.6 L1795.6 2115.6 L1798.0 2115.6 L1800.3 2115.6 L1802.7 2115.6 L1805.0 2115.6 L1807.4 2115.6 L1809.7 2115.6 L1812.1 2115.6 L1814.5 2115.6 L1816.8 2115.6 L1819.2 2115.6 L1821.5 2115.6 L1823.9 2115.6 L1826.2 2115.7 L1828.6 2115.7 L1830.9 2115.8 L1833.3 2116.0 L1835.7 2116.3 L1838.0 2116.9 L1840.4 2118.0 L1842.7 2119.9 L1845.1 2122.8 L1847.4 2127.1 L1849.8 2132.2 L1852.2 2137.2 L1854.5 2141.3 L1856.9 2144.2 L1859.2 2145.9 L1861.6 2146.9 L1863.9 2147.5 L1866.3 2147.8 L1868.7 2148.0 L1871.0 2148.0 L1873.4 2148.1 L1875.7 2148.1 L1878.1 2148.1 L1880.4 2148.1 L1882.8 2148.1 L1885.2 2148.1 L1887.5 2148.1 L1889.9 2148.1 L1892.2 2148.1 L1894.6 2148.1 L1896.9 2148.1 L1899.3 2148.1 L1901.7 2148.1 L1904.0 2148.1 L1906.4 2148.1 L1908.7 2148.1 L1911.1 2148.1 L1913.4 2148.1 L1915.8 2148.1 L1918.2 2148.1 L1920.5 2148.1 L1922.9 2148.1 L1925.2 2148.1 L1927.6 2148.1 L1929.9 2148.1 L1932.3 2148.1 L1934.6 2148.1 L1937.0 2148.1 L1939.4 2148.1 L1941.7 2148.1 L1944.1 2148.1" fill="none" stroke="#2CA362" stroke-width="5.8" stroke-linecap="round" stroke-linejoin="round"/>
<path d="M1777.3 2104.78 L1780.9 2104.78 L1780.9 2107.58 L1782.9 2108.38 L1782.9 2122.86 L1780.9 2123.66 L1780.9 2126.46 L1777.3 2126.46 L1777.3 2123.66 L1775.3 2122.86 L1775.3 2108.38 L1777.3 2107.58 Z" fill="#2CA362"/>
<path d="M1810.9 2103.58 L1814.5 2103.58 L1814.5 2106.38 L1816.5 2107.18 L1816.5 2124.06 L1814.5 2124.86 L1814.5 2127.66 L1810.9 2127.66 L1810.9 2124.86 L1808.9 2124.06 L1808.9 2107.18 L1810.9 2106.38 Z" fill="#2CA362"/>
<path d="M1844.5 2117.65 L1848.1 2117.65 L1848.1 2119.74 L1850.1 2120.54 L1850.1 2129.21 L1848.1 2130.01 L1848.1 2132.1 L1844.5 2132.1 L1844.5 2130.01 L1842.5 2129.21 L1842.5 2120.54 L1844.5 2119.74 Z" fill="#2CA362"/>
<path d="M1878.1 2134.27 L1881.7 2134.27 L1881.7 2137.07 L1883.7 2137.87 L1883.7 2158.37 L1881.7 2159.17 L1881.7 2161.97 L1878.1 2161.97 L1878.1 2159.17 L1876.1 2158.37 L1876.1 2137.87 L1878.1 2137.07 Z" fill="#2CA362"/>
<path d="M1911.7 2139.1 L1915.3 2139.1 L1915.3 2141.9 L1917.3 2142.7 L1917.3 2153.56 L1915.3 2154.36 L1915.3 2157.16 L1911.7 2157.16 L1911.7 2154.36 L1909.7 2153.56 L1909.7 2142.7 L1911.7 2141.9 Z" fill="#2CA362"/>
<path d="M1945.3 2128.26 L1948.9 2128.26 L1948.9 2131.06 L1950.9 2131.86 L1950.9 2151.15 L1948.9 2151.95 L1948.9 2154.75 L1945.3 2154.75 L1945.3 2151.95 L1943.3 2151.15 L1943.3 2131.86 L1945.3 2131.06 Z" fill="#2CA362"/>
<path d="M1779.1 2106.6 L1781.5 2106.6 L1783.8 2106.6 L1786.2 2106.6 L1788.5 2106.6 L1790.9 2106.6 L1793.2 2106.7 L1795.6 2106.7 L1798.0 2106.7 L1800.3 2106.7 L1802.7 2106.7 L1805.0 2106.7 L1807.4 2106.7 L1809.7 2106.7 L1812.1 2106.8 L1814.5 2106.8 L1816.8 2106.8 L1819.2 2106.8 L1821.5 2106.9 L1823.9 2106.9 L1826.2 2106.9 L1828.6 2107.0 L1830.9 2107.0 L1833.3 2107.1 L1835.7 2107.1 L1838.0 2107.2 L1840.4 2107.3 L1842.7 2107.4 L1845.1 2107.5 L1847.4 2107.6 L1849.8 2107.7 L1852.2 2107.8 L1854.5 2108.0 L1856.9 2108.2 L1859.2 2108.4 L1861.6 2108.6 L1863.9 2108.8 L1866.3 2109.1 L1868.7 2109.3 L1871.0 2109.6 L1873.4 2110.0 L1875.7 2110.4 L1878.1 2110.8 L1880.4 2111.2 L1882.8 2111.7 L1885.2 2112.2 L1887.5 2112.8 L1889.9 2113.3 L1892.2 2114.0 L1894.6 2114.6 L1896.9 2115.3 L1899.3 2116.0 L1901.7 2116.8 L1904.0 2117.5 L1906.4 2118.3 L1908.7 2119.1 L1911.1 2119.8 L1913.4 2120.6 L1915.8 2121.4 L1918.2 2122.2 L1920.5 2122.9 L1922.9 2123.6 L1925.2 2124.3 L1927.6 2125.0 L1929.9 2125.6 L1932.3 2126.2 L1934.6 2126.8 L1937.0 2127.3 L1939.4 2127.8 L1941.7 2128.2 L1944.1 2128.6" fill="none" stroke="#E8463D" stroke-width="5.8" stroke-linecap="round" stroke-linejoin="round"/>
<path d="M1777.3 2097.59 L1780.9 2097.59 L1780.9 2100.39 L1782.9 2101.19 L1782.9 2112.05 L1780.9 2112.85 L1780.9 2115.65 L1777.3 2115.65 L1777.3 2112.85 L1775.3 2112.05 L1775.3 2101.19 L1777.3 2100.39 Z" fill="#E8463D"/>
<path d="M1810.9 2100.74 L1814.5 2100.74 L1814.5 2102.35 L1816.5 2103.15 L1816.5 2110.37 L1814.5 2111.17 L1814.5 2112.78 L1810.9 2112.78 L1810.9 2111.17 L1808.9 2110.37 L1808.9 2103.15 L1810.9 2102.35 Z" fill="#E8463D"/>
<path d="M1844.5 2095.15 L1848.1 2095.15 L1848.1 2096.76 L1850.1 2097.56 L1850.1 2104.78 L1848.1 2105.58 L1848.1 2107.19 L1844.5 2107.19 L1844.5 2105.58 L1842.5 2104.78 L1842.5 2097.56 L1844.5 2096.76 Z" fill="#E8463D"/>
<circle cx="1879.9" cy="2111.1" r="1.8" fill="#E8463D"/>
</g>
<text x="1776.2" y="2021.2" font-size="21.5" text-anchor="middle">-2</text>
<text x="1776.2" y="2256.4" font-size="21.5" text-anchor="middle">-2</text>
<text x="1845.8" y="2021.2" font-size="21.5" text-anchor="middle">-1</text>
<text x="1845.8" y="2256.4" font-size="21.5" text-anchor="middle">-1</text>
<text x="1914.9" y="2021.2" font-size="21.5" text-anchor="middle">0</text>
<text x="1914.9" y="2256.4" font-size="21.5" text-anchor="middle">0</text>
<text x="1983.7" y="2021.2" font-size="21.5" text-anchor="middle">1</text>
<text x="1983.7" y="2256.4" font-size="21.5" text-anchor="middle">1</text>
<text x="1886.3" y="2047.3" font-size="21.7" text-anchor="middle">Log conc (uM)</text>
<text x="1886.9" y="2284" font-size="21.7" text-anchor="middle">Log conc (uM)</text>
<text x="121.2" y="1883.9" font-size="21.3" text-anchor="end">100</text>
<text x="121.2" y="1944.6" font-size="21.3" text-anchor="end">0</text>
<text x="121.2" y="2003.4" font-size="21.3" text-anchor="end">-100</text>
<text x="121.2" y="2117.3" font-size="21.3" text-anchor="end">100</text>
<text x="121.2" y="2177.3" font-size="21.3" text-anchor="end">0</text>
<text x="121.2" y="2237.9" font-size="21.3" text-anchor="end">-100</text>
</g>
</svg>
</body></html>
